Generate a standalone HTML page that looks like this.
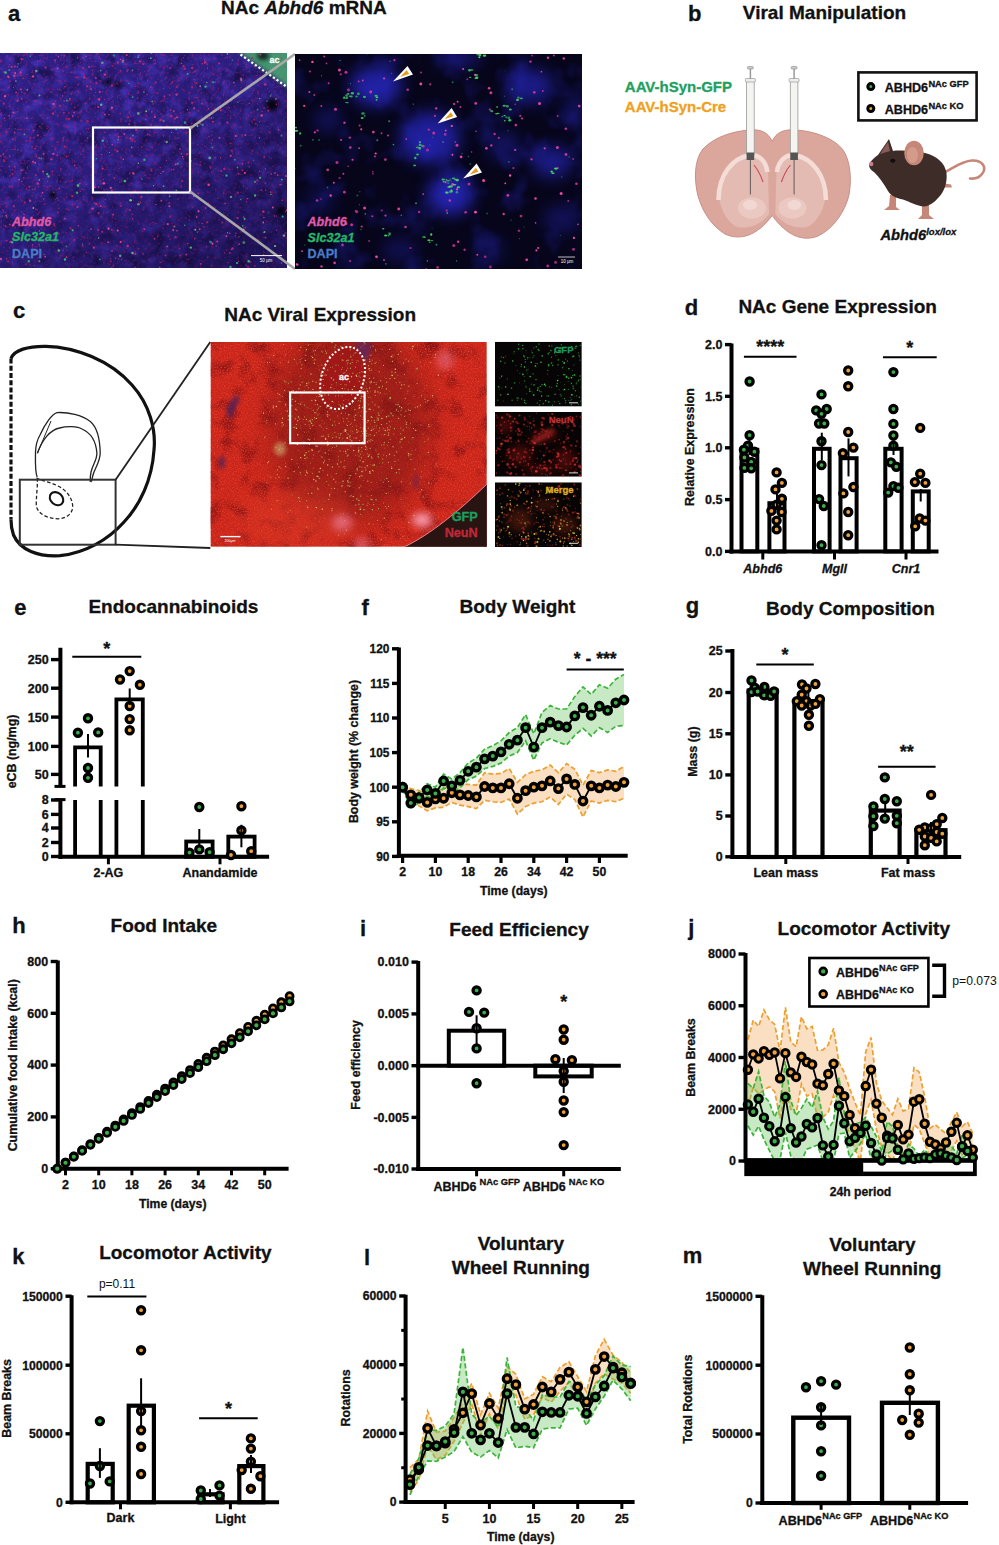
<!DOCTYPE html><html><head><meta charset="utf-8"><style>html,body{margin:0;padding:0;background:#fff;width:999px;height:1545px;overflow:hidden}svg{display:block}</style></head><body>
<svg width="999" height="1545" viewBox="0 0 999 1545" font-family="Liberation Sans, sans-serif">
<rect width="999" height="1545" fill="#fff"/>
<defs>
<filter id="tA1" x="0" y="53" width="287" height="215" filterUnits="userSpaceOnUse" color-interpolation-filters="sRGB"><feTurbulence type="fractalNoise" baseFrequency="0.06" numOctaves="3" seed="4"/><feColorMatrix type="matrix" values="0 0 0 0 0.08  0 0 0 0 0.05  0 0 0 0 0.25  2.0 0 0 0 -0.95"/></filter>
<filter id="tA2" x="0" y="53" width="287" height="215" filterUnits="userSpaceOnUse" color-interpolation-filters="sRGB"><feTurbulence type="fractalNoise" baseFrequency="0.09" numOctaves="3" seed="12"/><feColorMatrix type="matrix" values="0 0 0 0 0.3  0 0 0 0 0.22  0 0 0 0 0.8  2.0 0 0 0 -0.9"/></filter>
<filter id="tA3" x="0" y="53" width="287" height="215" filterUnits="userSpaceOnUse" color-interpolation-filters="sRGB"><feTurbulence type="fractalNoise" baseFrequency="0.35" numOctaves="2" seed="21"/><feColorMatrix type="matrix" values="0 0 0 0 0.75  0 0 0 0 0.12  0 0 0 0 0.45  3 0 0 0 -1.75"/></filter>
<filter id="tB" x="295" y="54" width="287" height="215" filterUnits="userSpaceOnUse" color-interpolation-filters="sRGB"><feTurbulence type="fractalNoise" baseFrequency="0.03" numOctaves="3" seed="9"/><feColorMatrix type="matrix" values="0 0 0 0 0.12  0 0 0 0 0.12  0 0 0 0 0.58  2.6 0 0 0 -1.3"/></filter>
<filter id="tC1" x="210" y="342" width="277" height="205" filterUnits="userSpaceOnUse" color-interpolation-filters="sRGB"><feTurbulence type="fractalNoise" baseFrequency="0.7" numOctaves="1" seed="7"/><feColorMatrix type="matrix" values="0 0 0 0 0.95  0 0 0 0 0.25  0 0 0 0 0.18  2.4 0 0 0 -1.1"/></filter>
<filter id="tC2" x="210" y="342" width="277" height="205" filterUnits="userSpaceOnUse" color-interpolation-filters="sRGB"><feTurbulence type="fractalNoise" baseFrequency="0.05" numOctaves="3" seed="17"/><feColorMatrix type="matrix" values="0 0 0 0 0.45  0 0 0 0 0.05  0 0 0 0 0.07  2.0 0 0 0 -0.95"/></filter>
<filter id="bl2" x="-100%" y="-100%" width="300%" height="300%" color-interpolation-filters="sRGB"><feGaussianBlur stdDeviation="2"/></filter>
<filter id="bl4" x="-100%" y="-100%" width="300%" height="300%" color-interpolation-filters="sRGB"><feGaussianBlur stdDeviation="4"/></filter>
<filter id="bl8" x="-100%" y="-100%" width="300%" height="300%" color-interpolation-filters="sRGB"><feGaussianBlur stdDeviation="8"/></filter>
<filter id="bl14" x="-100%" y="-100%" width="300%" height="300%" color-interpolation-filters="sRGB"><feGaussianBlur stdDeviation="14"/></filter>
<linearGradient id="gA" x1="0" y1="0" x2="0.7" y2="1"><stop offset="0" stop-color="#100830" stop-opacity="0"/><stop offset="0.45" stop-color="#100830" stop-opacity="0.1"/><stop offset="1" stop-color="#080420" stop-opacity="0.45"/></linearGradient>
<clipPath id="cA"><rect x="0" y="53" width="287" height="215"/></clipPath>
<clipPath id="cB"><rect x="295" y="54" width="287" height="215"/></clipPath>
<clipPath id="cC"><rect x="210.5" y="342" width="276.3" height="204.8"/></clipPath>
</defs>
<text x="8" y="20.5" font-size="22" font-weight="bold" text-anchor="start" fill="#111"  stroke="#111" stroke-width="0.3">a</text>
<text x="221" y="14" font-size="19" font-weight="bold" fill="#111" stroke="#111" stroke-width="0.3">NAc <tspan font-style="italic">Abhd6</tspan> mRNA</text>
<g clip-path="url(#cA)">
<rect x="0" y="53" width="287" height="215" fill="#2e2088"/>
<rect x="0" y="53" width="287" height="215" filter="url(#tA1)"/>
<rect x="0" y="53" width="287" height="215" filter="url(#tA2)"/>
<rect x="0" y="53" width="287" height="215" filter="url(#tA3)"/>
<rect x="0" y="53" width="287" height="215" fill="url(#gA)"/>
<path d="M236 50 L292 50 L292 90 Z" fill="#48aa6c" opacity="0.85" filter="url(#bl2)"/>
<ellipse cx="263" cy="56" rx="6" ry="4" fill="#050510" opacity="0.8" filter="url(#bl2)"/>
<circle cx="108" cy="82" r="3.5" fill="#050510" filter="url(#bl2)"/>
<circle cx="118" cy="85" r="3" fill="#050510" filter="url(#bl2)"/>
<circle cx="272" cy="105" r="6" fill="#050510" filter="url(#bl2)"/>
<circle cx="52.5" cy="195" r="4" fill="#050510" filter="url(#bl2)"/>
<circle cx="281" cy="211" r="5" fill="#050510" filter="url(#bl2)"/>
<circle cx="46" cy="128" r="2" fill="#050510" filter="url(#bl2)"/>
<circle cx="129.8" cy="173.4" r="0.8" fill="#c02050" opacity="0.88"/><circle cx="54.5" cy="225.8" r="0.9" fill="#c02050" opacity="0.86"/><circle cx="27.0" cy="118.2" r="0.9" fill="#e0306a" opacity="0.90"/><circle cx="182.1" cy="181.0" r="1.2" fill="#c02050" opacity="0.79"/><circle cx="176.7" cy="86.9" r="1.1" fill="#e0306a" opacity="0.53"/><circle cx="10.2" cy="242.1" r="1.0" fill="#e0306a" opacity="0.65"/><circle cx="169.6" cy="95.0" r="0.9" fill="#d02868" opacity="0.72"/><circle cx="190.1" cy="151.3" r="0.8" fill="#ff4a90" opacity="0.75"/><circle cx="267.4" cy="70.9" r="0.7" fill="#ff4a90" opacity="0.60"/><circle cx="83.0" cy="68.1" r="0.8" fill="#e0306a" opacity="0.88"/><circle cx="110.9" cy="259.0" r="0.6" fill="#e0306a" opacity="0.92"/><circle cx="15.0" cy="133.7" r="0.8" fill="#c02050" opacity="0.75"/><circle cx="57.0" cy="198.1" r="0.6" fill="#ff4a90" opacity="0.65"/><circle cx="276.7" cy="216.0" r="0.6" fill="#e0306a" opacity="0.82"/><circle cx="3.1" cy="153.0" r="0.6" fill="#c02050" opacity="0.75"/><circle cx="128.4" cy="94.0" r="0.8" fill="#d02868" opacity="0.67"/><circle cx="113.3" cy="265.9" r="0.7" fill="#e0306a" opacity="0.94"/><circle cx="230.6" cy="118.4" r="0.6" fill="#e0306a" opacity="0.68"/><circle cx="245.2" cy="191.0" r="0.5" fill="#e0306a" opacity="0.57"/><circle cx="126.7" cy="55.1" r="1.1" fill="#ff4a90" opacity="0.67"/><circle cx="21.3" cy="97.9" r="0.5" fill="#d02868" opacity="0.67"/><circle cx="178.6" cy="80.4" r="1.1" fill="#c02050" opacity="0.56"/><circle cx="110.8" cy="187.9" r="1.1" fill="#ff4a90" opacity="0.87"/><circle cx="71.6" cy="93.8" r="1.0" fill="#d02868" opacity="0.67"/><circle cx="138.5" cy="69.9" r="0.6" fill="#e0306a" opacity="0.52"/><circle cx="276.3" cy="104.3" r="0.7" fill="#c02050" opacity="0.87"/><circle cx="171.2" cy="116.1" r="1.2" fill="#d02868" opacity="0.94"/><circle cx="36.3" cy="156.0" r="0.7" fill="#e0306a" opacity="0.91"/><circle cx="58.5" cy="56.6" r="0.8" fill="#ff4a90" opacity="0.61"/><circle cx="13.4" cy="113.6" r="0.6" fill="#d02868" opacity="0.56"/><circle cx="129.2" cy="124.2" r="0.9" fill="#d02868" opacity="0.92"/><circle cx="136.3" cy="129.9" r="1.2" fill="#ff4a90" opacity="0.51"/><circle cx="182.6" cy="156.7" r="0.7" fill="#ff4a90" opacity="0.95"/><circle cx="21.6" cy="170.4" r="1.1" fill="#e0306a" opacity="0.83"/><circle cx="202.0" cy="223.6" r="0.7" fill="#ff4a90" opacity="0.81"/><circle cx="258.5" cy="240.3" r="1.2" fill="#c02050" opacity="0.51"/><circle cx="143.5" cy="56.1" r="0.8" fill="#c02050" opacity="0.51"/><circle cx="20.7" cy="72.5" r="1.2" fill="#e0306a" opacity="0.90"/><circle cx="209.0" cy="136.5" r="0.8" fill="#c02050" opacity="0.88"/><circle cx="24.0" cy="214.3" r="0.7" fill="#e0306a" opacity="0.54"/><circle cx="6.4" cy="258.8" r="0.8" fill="#e0306a" opacity="0.78"/><circle cx="264.2" cy="108.0" r="0.8" fill="#e0306a" opacity="0.56"/><circle cx="175.6" cy="164.5" r="1.0" fill="#ff4a90" opacity="0.70"/><circle cx="255.9" cy="123.3" r="0.6" fill="#ff4a90" opacity="0.69"/><circle cx="231.3" cy="249.6" r="0.8" fill="#d02868" opacity="0.76"/><circle cx="90.8" cy="82.3" r="0.7" fill="#c02050" opacity="0.90"/><circle cx="11.6" cy="66.8" r="1.1" fill="#ff4a90" opacity="0.55"/><circle cx="135.3" cy="252.0" r="0.8" fill="#c02050" opacity="0.73"/><circle cx="192.9" cy="207.0" r="0.7" fill="#c02050" opacity="0.87"/><circle cx="79.8" cy="183.6" r="0.9" fill="#ff4a90" opacity="0.64"/><circle cx="227.2" cy="57.1" r="0.8" fill="#d02868" opacity="0.59"/><circle cx="220.8" cy="110.3" r="1.1" fill="#d02868" opacity="0.94"/><circle cx="33.1" cy="76.4" r="1.2" fill="#ff4a90" opacity="0.81"/><circle cx="57.2" cy="155.2" r="1.0" fill="#d02868" opacity="0.84"/><circle cx="153.5" cy="60.8" r="0.7" fill="#d02868" opacity="0.66"/><circle cx="200.1" cy="164.9" r="0.8" fill="#d02868" opacity="0.86"/><circle cx="260.1" cy="71.8" r="0.6" fill="#c02050" opacity="0.70"/><circle cx="179.5" cy="248.6" r="0.9" fill="#c02050" opacity="0.79"/><circle cx="144.3" cy="229.2" r="0.8" fill="#ff4a90" opacity="0.79"/><circle cx="58.8" cy="208.2" r="0.6" fill="#e0306a" opacity="0.90"/><circle cx="281.4" cy="263.1" r="0.7" fill="#ff4a90" opacity="0.82"/><circle cx="4.5" cy="161.5" r="0.8" fill="#e0306a" opacity="0.75"/><circle cx="220.5" cy="157.8" r="0.7" fill="#e0306a" opacity="0.89"/><circle cx="123.1" cy="60.5" r="1.0" fill="#ff4a90" opacity="0.91"/><circle cx="135.1" cy="268.0" r="1.2" fill="#c02050" opacity="0.72"/><circle cx="272.4" cy="71.5" r="0.8" fill="#d02868" opacity="0.75"/><circle cx="238.5" cy="173.7" r="0.9" fill="#d02868" opacity="0.88"/><circle cx="160.7" cy="120.0" r="1.2" fill="#c02050" opacity="0.89"/><circle cx="174.9" cy="118.5" r="1.2" fill="#d02868" opacity="0.74"/><circle cx="164.4" cy="96.2" r="0.9" fill="#e0306a" opacity="0.77"/><circle cx="8.0" cy="261.4" r="0.9" fill="#c02050" opacity="0.95"/><circle cx="35.0" cy="73.0" r="0.5" fill="#d02868" opacity="0.74"/><circle cx="118.8" cy="258.7" r="0.7" fill="#c02050" opacity="0.71"/><circle cx="36.4" cy="146.2" r="0.9" fill="#c02050" opacity="0.55"/><circle cx="120.4" cy="59.3" r="0.6" fill="#ff4a90" opacity="0.85"/><circle cx="6.5" cy="94.7" r="0.5" fill="#d02868" opacity="0.63"/><circle cx="207.7" cy="105.6" r="0.6" fill="#c02050" opacity="0.83"/><circle cx="35.2" cy="162.8" r="1.0" fill="#ff4a90" opacity="0.82"/><circle cx="252.2" cy="58.0" r="1.1" fill="#c02050" opacity="0.78"/><circle cx="154.5" cy="238.7" r="0.9" fill="#d02868" opacity="0.88"/><circle cx="175.6" cy="237.2" r="1.1" fill="#d02868" opacity="0.78"/><circle cx="99.8" cy="91.9" r="1.1" fill="#ff4a90" opacity="0.59"/><circle cx="223.4" cy="94.8" r="0.6" fill="#e0306a" opacity="0.61"/><circle cx="208.5" cy="108.8" r="0.8" fill="#e0306a" opacity="0.92"/><circle cx="155.9" cy="204.5" r="0.8" fill="#d02868" opacity="0.81"/><circle cx="5.1" cy="96.2" r="1.1" fill="#ff4a90" opacity="0.94"/><circle cx="33.1" cy="161.7" r="0.9" fill="#ff4a90" opacity="0.81"/><circle cx="54.2" cy="68.2" r="0.5" fill="#e0306a" opacity="0.84"/><circle cx="176.0" cy="247.6" r="0.6" fill="#c02050" opacity="0.58"/><circle cx="58.5" cy="233.6" r="1.1" fill="#ff4a90" opacity="0.54"/><circle cx="17.8" cy="257.6" r="0.6" fill="#c02050" opacity="0.54"/><circle cx="112.2" cy="144.7" r="0.8" fill="#ff4a90" opacity="0.77"/><circle cx="3.8" cy="203.7" r="0.6" fill="#d02868" opacity="0.70"/><circle cx="212.2" cy="140.1" r="0.9" fill="#d02868" opacity="0.54"/><circle cx="227.4" cy="122.6" r="1.1" fill="#e0306a" opacity="0.82"/><circle cx="247.0" cy="188.3" r="0.9" fill="#c02050" opacity="0.59"/><circle cx="167.8" cy="126.3" r="0.7" fill="#ff4a90" opacity="0.55"/><circle cx="213.2" cy="87.4" r="0.6" fill="#c02050" opacity="0.65"/><circle cx="154.7" cy="132.5" r="1.0" fill="#c02050" opacity="0.68"/><circle cx="207.4" cy="68.2" r="0.7" fill="#ff4a90" opacity="0.55"/><circle cx="254.9" cy="266.0" r="0.7" fill="#e0306a" opacity="0.93"/><circle cx="191.2" cy="125.6" r="0.9" fill="#c02050" opacity="0.74"/><circle cx="111.8" cy="268.0" r="1.0" fill="#d02868" opacity="0.84"/><circle cx="281.3" cy="57.9" r="1.0" fill="#e0306a" opacity="0.62"/><circle cx="115.2" cy="63.8" r="1.0" fill="#d02868" opacity="0.50"/><circle cx="74.2" cy="112.3" r="0.9" fill="#ff4a90" opacity="0.73"/><circle cx="277.6" cy="175.1" r="0.9" fill="#e0306a" opacity="0.86"/><circle cx="21.9" cy="181.5" r="0.8" fill="#e0306a" opacity="0.92"/><circle cx="110.8" cy="261.6" r="0.9" fill="#c02050" opacity="0.77"/><circle cx="123.3" cy="159.3" r="0.9" fill="#ff4a90" opacity="0.77"/><circle cx="104.9" cy="114.4" r="0.9" fill="#ff4a90" opacity="0.63"/><circle cx="205.7" cy="116.6" r="1.0" fill="#e0306a" opacity="0.76"/><circle cx="181.7" cy="140.9" r="0.5" fill="#c02050" opacity="0.64"/><circle cx="114.2" cy="178.1" r="0.6" fill="#ff4a90" opacity="0.91"/><circle cx="123.3" cy="155.7" r="0.5" fill="#d02868" opacity="0.54"/><circle cx="232.5" cy="248.5" r="1.2" fill="#d02868" opacity="0.87"/><circle cx="173.2" cy="77.7" r="0.8" fill="#c02050" opacity="0.59"/><circle cx="14.9" cy="166.5" r="0.8" fill="#e0306a" opacity="0.56"/><circle cx="119.7" cy="182.2" r="0.8" fill="#c02050" opacity="0.83"/><circle cx="233.9" cy="82.4" r="1.0" fill="#ff4a90" opacity="0.61"/><circle cx="32.7" cy="244.9" r="0.7" fill="#ff4a90" opacity="0.77"/><circle cx="208.1" cy="203.3" r="0.9" fill="#d02868" opacity="0.84"/><circle cx="54.5" cy="106.5" r="1.1" fill="#d02868" opacity="0.52"/><circle cx="17.4" cy="111.3" r="0.5" fill="#c02050" opacity="0.52"/><circle cx="63.9" cy="112.8" r="1.1" fill="#e0306a" opacity="0.57"/><circle cx="67.4" cy="264.0" r="0.8" fill="#c02050" opacity="0.59"/><circle cx="98.6" cy="213.1" r="1.1" fill="#e0306a" opacity="0.70"/><circle cx="235.9" cy="233.2" r="0.8" fill="#d02868" opacity="0.84"/><circle cx="112.0" cy="85.4" r="1.0" fill="#d02868" opacity="0.95"/><circle cx="93.4" cy="171.0" r="0.8" fill="#d02868" opacity="0.67"/><circle cx="27.8" cy="241.2" r="0.9" fill="#e0306a" opacity="0.69"/><circle cx="163.0" cy="228.3" r="0.7" fill="#c02050" opacity="0.85"/><circle cx="21.8" cy="98.9" r="1.0" fill="#e0306a" opacity="0.72"/><circle cx="219.3" cy="123.5" r="0.7" fill="#d02868" opacity="0.80"/><circle cx="93.9" cy="247.8" r="1.0" fill="#ff4a90" opacity="0.76"/><circle cx="263.6" cy="255.1" r="0.8" fill="#ff4a90" opacity="0.86"/><circle cx="87.5" cy="121.3" r="1.2" fill="#c02050" opacity="0.83"/><circle cx="148.1" cy="71.1" r="0.5" fill="#ff4a90" opacity="0.80"/><circle cx="167.8" cy="224.2" r="1.1" fill="#ff4a90" opacity="0.74"/><circle cx="240.0" cy="174.0" r="0.6" fill="#d02868" opacity="0.70"/><circle cx="245.3" cy="227.5" r="0.9" fill="#d02868" opacity="0.74"/><circle cx="162.9" cy="260.8" r="0.5" fill="#c02050" opacity="0.75"/><circle cx="226.2" cy="71.1" r="0.7" fill="#e0306a" opacity="0.55"/><circle cx="90.1" cy="58.6" r="0.6" fill="#d02868" opacity="0.87"/><circle cx="121.1" cy="206.1" r="1.0" fill="#c02050" opacity="0.73"/><circle cx="219.5" cy="137.8" r="1.1" fill="#ff4a90" opacity="0.65"/><circle cx="39.2" cy="157.9" r="1.0" fill="#e0306a" opacity="0.91"/><circle cx="117.8" cy="230.6" r="1.1" fill="#ff4a90" opacity="0.86"/><circle cx="239.3" cy="244.1" r="0.9" fill="#e0306a" opacity="0.82"/><circle cx="230.2" cy="143.6" r="1.1" fill="#c02050" opacity="0.61"/><circle cx="46.6" cy="189.6" r="0.7" fill="#d02868" opacity="0.68"/><circle cx="151.8" cy="111.9" r="0.8" fill="#e0306a" opacity="0.83"/><circle cx="87.1" cy="86.4" r="1.1" fill="#d02868" opacity="0.84"/><circle cx="4.9" cy="156.4" r="0.7" fill="#e0306a" opacity="0.59"/><circle cx="103.1" cy="179.5" r="0.9" fill="#c02050" opacity="0.60"/><circle cx="53.1" cy="113.4" r="1.1" fill="#d02868" opacity="0.92"/><circle cx="179.9" cy="255.5" r="1.1" fill="#c02050" opacity="0.72"/><circle cx="115.6" cy="258.5" r="0.8" fill="#e0306a" opacity="0.60"/><circle cx="14.3" cy="256.7" r="1.2" fill="#c02050" opacity="0.86"/><circle cx="222.2" cy="222.4" r="1.0" fill="#e0306a" opacity="0.61"/><circle cx="3.1" cy="154.6" r="0.8" fill="#ff4a90" opacity="0.61"/><circle cx="121.0" cy="241.1" r="0.6" fill="#c02050" opacity="0.64"/><circle cx="74.5" cy="239.9" r="0.9" fill="#d02868" opacity="0.95"/><circle cx="76.5" cy="167.9" r="0.9" fill="#d02868" opacity="0.58"/><circle cx="58.6" cy="250.0" r="1.1" fill="#d02868" opacity="0.54"/><circle cx="77.5" cy="207.1" r="1.1" fill="#e0306a" opacity="0.81"/><circle cx="23.8" cy="213.9" r="0.5" fill="#ff4a90" opacity="0.58"/><circle cx="55.4" cy="199.7" r="0.6" fill="#c02050" opacity="0.74"/><circle cx="150.9" cy="86.9" r="0.7" fill="#ff4a90" opacity="0.68"/><circle cx="159.7" cy="267.4" r="0.8" fill="#e0306a" opacity="0.81"/><circle cx="30.4" cy="137.8" r="1.0" fill="#c02050" opacity="0.85"/><circle cx="35.0" cy="148.7" r="1.0" fill="#c02050" opacity="0.71"/><circle cx="84.2" cy="77.4" r="1.1" fill="#e0306a" opacity="0.88"/><circle cx="206.4" cy="246.8" r="0.7" fill="#d02868" opacity="0.67"/><circle cx="154.9" cy="117.1" r="1.0" fill="#ff4a90" opacity="0.75"/><circle cx="24.9" cy="93.6" r="1.0" fill="#c02050" opacity="0.65"/><circle cx="271.2" cy="174.0" r="0.8" fill="#ff4a90" opacity="0.67"/><circle cx="29.2" cy="186.7" r="1.0" fill="#d02868" opacity="0.82"/><circle cx="51.6" cy="139.5" r="0.9" fill="#c02050" opacity="0.54"/><circle cx="65.0" cy="86.8" r="0.8" fill="#e0306a" opacity="0.85"/><circle cx="98.1" cy="230.0" r="1.0" fill="#d02868" opacity="0.85"/><circle cx="235.7" cy="136.0" r="1.1" fill="#ff4a90" opacity="0.78"/><circle cx="208.6" cy="184.8" r="1.2" fill="#ff4a90" opacity="0.86"/><circle cx="189.5" cy="183.8" r="0.7" fill="#e0306a" opacity="0.58"/><circle cx="88.0" cy="147.9" r="0.6" fill="#c02050" opacity="0.65"/><circle cx="84.2" cy="75.1" r="0.7" fill="#d02868" opacity="0.74"/><circle cx="85.7" cy="103.3" r="0.9" fill="#d02868" opacity="0.59"/><circle cx="267.9" cy="267.6" r="0.9" fill="#d02868" opacity="0.51"/><circle cx="189.3" cy="220.0" r="0.7" fill="#d02868" opacity="0.76"/><circle cx="200.1" cy="123.8" r="0.7" fill="#ff4a90" opacity="0.90"/><circle cx="129.8" cy="209.9" r="1.1" fill="#d02868" opacity="0.74"/><circle cx="160.9" cy="173.5" r="0.6" fill="#ff4a90" opacity="0.84"/><circle cx="257.4" cy="125.0" r="0.6" fill="#d02868" opacity="0.87"/><circle cx="82.8" cy="245.9" r="1.0" fill="#d02868" opacity="0.66"/><circle cx="47.6" cy="181.5" r="0.8" fill="#e0306a" opacity="0.68"/><circle cx="224.6" cy="252.9" r="0.7" fill="#d02868" opacity="0.80"/><circle cx="211.7" cy="135.1" r="0.6" fill="#e0306a" opacity="0.69"/><circle cx="9.5" cy="166.5" r="0.9" fill="#e0306a" opacity="0.58"/><circle cx="149.2" cy="109.7" r="0.5" fill="#ff4a90" opacity="0.85"/><circle cx="207.1" cy="222.3" r="1.2" fill="#c02050" opacity="0.77"/><circle cx="134.9" cy="141.5" r="1.0" fill="#c02050" opacity="0.72"/><circle cx="285.5" cy="233.2" r="1.1" fill="#c02050" opacity="0.55"/><circle cx="32.9" cy="254.9" r="0.9" fill="#ff4a90" opacity="0.69"/><circle cx="259.5" cy="121.9" r="0.7" fill="#e0306a" opacity="0.78"/><circle cx="124.3" cy="133.9" r="1.0" fill="#ff4a90" opacity="0.64"/><circle cx="170.3" cy="68.0" r="1.1" fill="#e0306a" opacity="0.61"/><circle cx="250.6" cy="262.1" r="1.0" fill="#c02050" opacity="0.74"/><circle cx="68.6" cy="118.9" r="1.2" fill="#c02050" opacity="0.90"/><circle cx="286.8" cy="210.1" r="1.1" fill="#ff4a90" opacity="0.69"/><circle cx="231.1" cy="100.7" r="0.9" fill="#c02050" opacity="0.91"/><circle cx="28.3" cy="223.4" r="1.1" fill="#e0306a" opacity="0.76"/><circle cx="130.1" cy="116.7" r="0.5" fill="#ff4a90" opacity="0.58"/><circle cx="126.5" cy="149.8" r="0.6" fill="#c02050" opacity="0.81"/><circle cx="66.2" cy="118.8" r="1.1" fill="#c02050" opacity="0.64"/><circle cx="143.0" cy="253.8" r="1.1" fill="#c02050" opacity="0.59"/><circle cx="246.5" cy="201.9" r="0.6" fill="#e0306a" opacity="0.88"/><circle cx="101.6" cy="154.6" r="0.9" fill="#d02868" opacity="0.81"/><circle cx="160.7" cy="167.6" r="0.6" fill="#d02868" opacity="0.90"/><circle cx="14.4" cy="75.8" r="1.2" fill="#ff4a90" opacity="0.62"/><circle cx="120.6" cy="242.0" r="1.0" fill="#ff4a90" opacity="0.92"/><circle cx="127.8" cy="70.0" r="1.1" fill="#d02868" opacity="0.55"/><circle cx="198.4" cy="110.8" r="0.9" fill="#d02868" opacity="0.63"/><circle cx="78.4" cy="225.8" r="0.9" fill="#e0306a" opacity="0.60"/><circle cx="86.4" cy="252.3" r="0.7" fill="#d02868" opacity="0.79"/><circle cx="25.8" cy="264.4" r="1.1" fill="#c02050" opacity="0.53"/><circle cx="260.4" cy="54.5" r="0.9" fill="#ff4a90" opacity="0.69"/><circle cx="163.2" cy="88.4" r="0.7" fill="#d02868" opacity="0.63"/><circle cx="157.3" cy="93.1" r="1.2" fill="#d02868" opacity="0.52"/><circle cx="132.5" cy="214.4" r="0.5" fill="#c02050" opacity="0.90"/><circle cx="17.3" cy="66.8" r="0.7" fill="#ff4a90" opacity="0.72"/><circle cx="9.2" cy="115.7" r="0.9" fill="#d02868" opacity="0.85"/><circle cx="32.2" cy="146.6" r="0.9" fill="#c02050" opacity="0.62"/><circle cx="205.5" cy="208.1" r="0.8" fill="#ff4a90" opacity="0.60"/><circle cx="166.5" cy="160.3" r="0.6" fill="#e0306a" opacity="0.94"/><circle cx="15.1" cy="149.4" r="0.7" fill="#d02868" opacity="0.77"/><circle cx="174.7" cy="226.3" r="1.0" fill="#c02050" opacity="0.89"/><circle cx="8.9" cy="77.6" r="0.9" fill="#d02868" opacity="0.74"/><circle cx="227.2" cy="104.2" r="0.5" fill="#d02868" opacity="0.69"/><circle cx="199.7" cy="229.2" r="1.0" fill="#ff4a90" opacity="0.72"/><circle cx="186.6" cy="162.8" r="0.7" fill="#c02050" opacity="0.57"/><circle cx="198.2" cy="231.6" r="0.5" fill="#c02050" opacity="0.68"/><circle cx="104.6" cy="99.5" r="0.6" fill="#e0306a" opacity="0.84"/><circle cx="172.4" cy="81.9" r="0.9" fill="#c02050" opacity="0.94"/><circle cx="1.0" cy="141.1" r="0.6" fill="#d02868" opacity="0.75"/><circle cx="135.4" cy="254.1" r="1.0" fill="#e0306a" opacity="0.82"/><circle cx="280.1" cy="184.7" r="0.7" fill="#ff4a90" opacity="0.75"/><circle cx="69.4" cy="152.2" r="0.8" fill="#d02868" opacity="0.65"/><circle cx="281.6" cy="184.3" r="0.6" fill="#e0306a" opacity="0.76"/><circle cx="285.5" cy="211.5" r="0.8" fill="#d02868" opacity="0.68"/><circle cx="242.0" cy="134.9" r="0.7" fill="#e0306a" opacity="0.66"/><circle cx="52.7" cy="171.2" r="0.8" fill="#d02868" opacity="0.68"/><circle cx="170.4" cy="216.3" r="0.8" fill="#c02050" opacity="0.95"/><circle cx="194.9" cy="238.5" r="0.9" fill="#d02868" opacity="0.69"/><circle cx="13.5" cy="112.4" r="0.9" fill="#ff4a90" opacity="0.73"/><circle cx="212.8" cy="163.1" r="0.7" fill="#d02868" opacity="0.66"/><circle cx="44.1" cy="254.4" r="0.6" fill="#ff4a90" opacity="0.61"/><circle cx="240.9" cy="78.6" r="1.1" fill="#ff4a90" opacity="0.70"/><circle cx="245.3" cy="135.0" r="1.0" fill="#ff4a90" opacity="0.73"/><circle cx="15.8" cy="137.7" r="0.8" fill="#d02868" opacity="0.58"/><circle cx="147.5" cy="80.4" r="0.7" fill="#d02868" opacity="0.69"/><circle cx="156.1" cy="82.2" r="0.7" fill="#ff4a90" opacity="0.70"/><circle cx="108.2" cy="242.2" r="0.9" fill="#ff4a90" opacity="0.70"/><circle cx="39.2" cy="164.1" r="0.7" fill="#ff4a90" opacity="0.63"/><circle cx="99.0" cy="99.4" r="1.1" fill="#e0306a" opacity="0.84"/><circle cx="138.6" cy="55.4" r="1.0" fill="#ff4a90" opacity="0.53"/><circle cx="244.8" cy="173.0" r="1.0" fill="#ff4a90" opacity="0.93"/><circle cx="249.2" cy="103.4" r="0.6" fill="#ff4a90" opacity="0.69"/><circle cx="112.6" cy="65.9" r="1.2" fill="#c02050" opacity="0.63"/><circle cx="201.9" cy="100.6" r="0.6" fill="#c02050" opacity="0.85"/><circle cx="100.7" cy="206.1" r="1.0" fill="#e0306a" opacity="0.91"/><circle cx="230.8" cy="155.8" r="1.0" fill="#ff4a90" opacity="0.75"/><circle cx="201.0" cy="58.0" r="0.6" fill="#c02050" opacity="0.91"/><circle cx="261.9" cy="111.5" r="0.8" fill="#c02050" opacity="0.76"/><circle cx="134.6" cy="123.0" r="0.6" fill="#ff4a90" opacity="0.52"/><circle cx="92.9" cy="133.3" r="0.7" fill="#ff4a90" opacity="0.80"/><circle cx="53.4" cy="153.9" r="1.2" fill="#ff4a90" opacity="0.66"/><circle cx="165.4" cy="255.6" r="0.9" fill="#e0306a" opacity="0.78"/><circle cx="117.9" cy="142.3" r="0.5" fill="#ff4a90" opacity="0.71"/><circle cx="129.0" cy="260.8" r="0.5" fill="#c02050" opacity="0.56"/><circle cx="145.5" cy="119.4" r="0.8" fill="#ff4a90" opacity="0.51"/><circle cx="173.8" cy="111.0" r="1.0" fill="#ff4a90" opacity="0.61"/><circle cx="0.3" cy="169.9" r="0.5" fill="#c02050" opacity="0.75"/><circle cx="243.7" cy="217.5" r="0.9" fill="#e0306a" opacity="0.75"/><circle cx="238.5" cy="261.3" r="0.7" fill="#ff4a90" opacity="0.55"/><circle cx="5.6" cy="226.2" r="1.0" fill="#d02868" opacity="0.81"/><circle cx="276.6" cy="230.2" r="0.7" fill="#d02868" opacity="0.81"/><circle cx="231.0" cy="116.1" r="0.7" fill="#c02050" opacity="0.84"/><circle cx="153.3" cy="104.0" r="0.8" fill="#d02868" opacity="0.82"/><circle cx="263.3" cy="211.6" r="1.2" fill="#e0306a" opacity="0.87"/><circle cx="254.2" cy="119.7" r="0.9" fill="#c02050" opacity="0.81"/><circle cx="11.6" cy="186.6" r="1.1" fill="#c02050" opacity="0.52"/><circle cx="72.9" cy="162.1" r="0.7" fill="#c02050" opacity="0.79"/><circle cx="105.5" cy="199.8" r="0.7" fill="#d02868" opacity="0.84"/><circle cx="241.9" cy="231.1" r="0.9" fill="#c02050" opacity="0.56"/><circle cx="212.5" cy="110.8" r="0.6" fill="#d02868" opacity="0.67"/><circle cx="192.1" cy="102.7" r="1.2" fill="#d02868" opacity="0.71"/><circle cx="199.1" cy="223.0" r="0.7" fill="#d02868" opacity="0.62"/><circle cx="72.3" cy="196.1" r="1.2" fill="#c02050" opacity="0.94"/><circle cx="14.0" cy="206.4" r="1.1" fill="#e0306a" opacity="0.59"/><circle cx="102.3" cy="168.8" r="0.8" fill="#e0306a" opacity="0.91"/><circle cx="239.0" cy="236.9" r="0.8" fill="#d02868" opacity="0.64"/><circle cx="229.7" cy="233.3" r="0.7" fill="#ff4a90" opacity="0.82"/><circle cx="117.1" cy="83.5" r="1.0" fill="#c02050" opacity="0.60"/><circle cx="81.1" cy="239.3" r="0.6" fill="#c02050" opacity="0.55"/><circle cx="267.9" cy="107.0" r="0.8" fill="#c02050" opacity="0.57"/><circle cx="253.8" cy="111.1" r="0.7" fill="#d02868" opacity="0.68"/><circle cx="92.5" cy="70.4" r="0.8" fill="#d02868" opacity="0.62"/><circle cx="14.7" cy="66.8" r="1.0" fill="#ff4a90" opacity="0.50"/><circle cx="96.5" cy="83.0" r="1.2" fill="#d02868" opacity="0.68"/><circle cx="9.2" cy="128.6" r="0.9" fill="#c02050" opacity="0.60"/><circle cx="177.0" cy="230.8" r="0.7" fill="#ff4a90" opacity="0.92"/><circle cx="248.1" cy="266.8" r="0.9" fill="#c02050" opacity="0.92"/><circle cx="13.5" cy="237.3" r="0.9" fill="#d02868" opacity="0.80"/><circle cx="77.8" cy="58.2" r="0.5" fill="#ff4a90" opacity="0.71"/><circle cx="254.4" cy="66.7" r="0.5" fill="#ff4a90" opacity="0.74"/><circle cx="232.5" cy="223.3" r="0.8" fill="#c02050" opacity="0.86"/><circle cx="237.5" cy="218.1" r="1.2" fill="#e0306a" opacity="0.72"/><circle cx="241.1" cy="140.8" r="0.5" fill="#e0306a" opacity="0.56"/><circle cx="92.9" cy="208.7" r="1.1" fill="#ff4a90" opacity="0.66"/><circle cx="183.1" cy="129.1" r="0.5" fill="#ff4a90" opacity="0.79"/><circle cx="170.5" cy="109.9" r="1.0" fill="#d02868" opacity="0.60"/><circle cx="213.3" cy="170.4" r="0.6" fill="#d02868" opacity="0.55"/><circle cx="41.0" cy="128.3" r="0.5" fill="#c02050" opacity="0.68"/><circle cx="15.0" cy="73.4" r="0.5" fill="#d02868" opacity="0.58"/><circle cx="19.1" cy="179.7" r="0.8" fill="#ff4a90" opacity="0.93"/><circle cx="63.0" cy="140.8" r="1.1" fill="#d02868" opacity="0.53"/><circle cx="112.0" cy="251.0" r="1.0" fill="#d02868" opacity="0.74"/><circle cx="2.9" cy="210.0" r="1.1" fill="#c02050" opacity="0.52"/><circle cx="176.9" cy="127.1" r="1.1" fill="#c02050" opacity="0.78"/><circle cx="144.9" cy="175.1" r="0.6" fill="#e0306a" opacity="0.83"/><circle cx="213.6" cy="146.8" r="0.8" fill="#c02050" opacity="0.67"/><circle cx="66.0" cy="182.1" r="0.9" fill="#e0306a" opacity="0.51"/><circle cx="180.0" cy="149.1" r="0.9" fill="#e0306a" opacity="0.92"/><circle cx="43.6" cy="153.8" r="1.0" fill="#ff4a90" opacity="0.64"/><circle cx="211.4" cy="265.7" r="0.5" fill="#c02050" opacity="0.94"/><circle cx="216.1" cy="245.9" r="0.7" fill="#e0306a" opacity="0.88"/><circle cx="186.3" cy="254.6" r="1.1" fill="#e0306a" opacity="0.73"/><circle cx="285.2" cy="66.9" r="1.0" fill="#e0306a" opacity="0.61"/><circle cx="231.7" cy="150.6" r="1.1" fill="#e0306a" opacity="0.59"/><circle cx="80.3" cy="191.4" r="0.6" fill="#e0306a" opacity="0.70"/><circle cx="217.3" cy="241.5" r="1.1" fill="#e0306a" opacity="0.88"/><circle cx="221.2" cy="171.1" r="1.1" fill="#e0306a" opacity="0.57"/><circle cx="105.0" cy="74.6" r="1.2" fill="#e0306a" opacity="0.93"/><circle cx="63.0" cy="115.0" r="0.6" fill="#c02050" opacity="0.67"/><circle cx="243.7" cy="185.7" r="0.6" fill="#c02050" opacity="0.94"/><circle cx="59.3" cy="188.3" r="0.9" fill="#d02868" opacity="0.95"/><circle cx="108.5" cy="228.6" r="1.1" fill="#ff4a90" opacity="0.93"/><circle cx="188.9" cy="97.8" r="0.6" fill="#d02868" opacity="0.56"/><circle cx="199.1" cy="153.3" r="0.7" fill="#d02868" opacity="0.62"/><circle cx="98.7" cy="186.9" r="0.6" fill="#ff4a90" opacity="0.95"/><circle cx="198.5" cy="211.3" r="1.1" fill="#ff4a90" opacity="0.85"/><circle cx="57.5" cy="68.4" r="0.8" fill="#ff4a90" opacity="0.87"/><circle cx="117.4" cy="151.2" r="1.2" fill="#e0306a" opacity="0.66"/><circle cx="201.9" cy="103.5" r="0.7" fill="#e0306a" opacity="0.89"/><circle cx="82.2" cy="236.7" r="0.7" fill="#c02050" opacity="0.71"/><circle cx="57.0" cy="142.0" r="0.8" fill="#d02868" opacity="0.53"/><circle cx="120.3" cy="113.5" r="1.0" fill="#c02050" opacity="0.62"/><circle cx="189.9" cy="55.7" r="0.5" fill="#d02868" opacity="0.67"/><circle cx="170.3" cy="239.2" r="0.8" fill="#c02050" opacity="0.65"/><circle cx="235.5" cy="235.8" r="0.9" fill="#e0306a" opacity="0.54"/><circle cx="257.3" cy="72.0" r="0.5" fill="#ff4a90" opacity="0.51"/><circle cx="169.4" cy="202.9" r="1.0" fill="#e0306a" opacity="0.57"/><circle cx="20.8" cy="89.6" r="0.8" fill="#ff4a90" opacity="0.79"/><circle cx="17.5" cy="100.8" r="1.2" fill="#e0306a" opacity="0.68"/><circle cx="237.8" cy="192.7" r="1.2" fill="#e0306a" opacity="0.53"/><circle cx="132.7" cy="139.3" r="0.9" fill="#d02868" opacity="0.76"/><circle cx="142.7" cy="231.5" r="0.6" fill="#c02050" opacity="0.86"/><circle cx="1.0" cy="259.0" r="1.0" fill="#ff4a90" opacity="0.94"/><circle cx="136.0" cy="243.1" r="0.8" fill="#c02050" opacity="0.51"/><circle cx="246.7" cy="256.1" r="0.6" fill="#e0306a" opacity="0.69"/><circle cx="161.0" cy="262.5" r="0.7" fill="#e0306a" opacity="0.73"/><circle cx="35.8" cy="175.1" r="1.0" fill="#d02868" opacity="0.73"/><circle cx="88.5" cy="128.8" r="0.7" fill="#d02868" opacity="0.69"/><circle cx="15.6" cy="99.8" r="0.6" fill="#c02050" opacity="0.55"/><circle cx="39.5" cy="246.2" r="0.6" fill="#d02868" opacity="0.75"/><circle cx="49.8" cy="185.9" r="0.8" fill="#e0306a" opacity="0.50"/><circle cx="44.1" cy="229.0" r="0.6" fill="#c02050" opacity="0.74"/><circle cx="8.2" cy="76.7" r="1.1" fill="#ff4a90" opacity="0.74"/><circle cx="218.8" cy="219.8" r="0.8" fill="#c02050" opacity="0.54"/><circle cx="74.9" cy="77.0" r="0.7" fill="#c02050" opacity="0.72"/><circle cx="187.7" cy="243.6" r="0.9" fill="#d02868" opacity="0.73"/><circle cx="259.4" cy="137.8" r="0.7" fill="#ff4a90" opacity="0.77"/><circle cx="63.2" cy="71.2" r="0.8" fill="#c02050" opacity="0.79"/><circle cx="95.8" cy="78.1" r="1.1" fill="#ff4a90" opacity="0.53"/><circle cx="151.5" cy="170.7" r="1.1" fill="#c02050" opacity="0.80"/><circle cx="204.7" cy="60.0" r="0.8" fill="#ff4a90" opacity="0.60"/><circle cx="215.1" cy="157.8" r="0.8" fill="#e0306a" opacity="0.77"/><circle cx="30.1" cy="200.8" r="1.2" fill="#ff4a90" opacity="0.66"/><circle cx="171.6" cy="132.3" r="0.6" fill="#ff4a90" opacity="0.84"/><circle cx="16.1" cy="92.5" r="0.9" fill="#e0306a" opacity="0.84"/><circle cx="15.2" cy="73.0" r="0.9" fill="#ff4a90" opacity="0.86"/><circle cx="270.8" cy="192.2" r="0.8" fill="#ff4a90" opacity="0.63"/><circle cx="195.1" cy="71.4" r="1.1" fill="#d02868" opacity="0.65"/><circle cx="91.1" cy="229.2" r="0.9" fill="#ff4a90" opacity="0.53"/><circle cx="219.1" cy="63.3" r="0.9" fill="#e0306a" opacity="0.92"/><circle cx="183.3" cy="57.8" r="0.9" fill="#d02868" opacity="0.50"/><circle cx="211.5" cy="142.9" r="0.6" fill="#e0306a" opacity="0.54"/><circle cx="196.7" cy="83.1" r="1.0" fill="#c02050" opacity="0.86"/><circle cx="127.7" cy="245.9" r="1.1" fill="#e0306a" opacity="0.93"/><circle cx="102.2" cy="231.8" r="1.0" fill="#e0306a" opacity="0.68"/><circle cx="198.3" cy="193.3" r="1.1" fill="#e0306a" opacity="0.60"/><circle cx="119.1" cy="168.3" r="0.6" fill="#e0306a" opacity="0.62"/><circle cx="117.0" cy="245.8" r="0.6" fill="#c02050" opacity="0.82"/><circle cx="141.9" cy="146.9" r="0.9" fill="#c02050" opacity="0.72"/><circle cx="157.7" cy="236.8" r="0.6" fill="#ff4a90" opacity="0.66"/><circle cx="47.0" cy="128.2" r="0.8" fill="#c02050" opacity="0.76"/><circle cx="132.7" cy="218.7" r="0.8" fill="#d02868" opacity="0.94"/><circle cx="94.1" cy="202.9" r="0.9" fill="#d02868" opacity="0.66"/><circle cx="117.9" cy="62.7" r="1.1" fill="#e0306a" opacity="0.61"/><circle cx="69.8" cy="98.9" r="0.9" fill="#e0306a" opacity="0.94"/><circle cx="261.1" cy="151.0" r="0.6" fill="#c02050" opacity="0.58"/><circle cx="177.9" cy="199.1" r="0.5" fill="#d02868" opacity="0.81"/><circle cx="163.0" cy="171.6" r="0.8" fill="#ff4a90" opacity="0.70"/><circle cx="278.6" cy="129.7" r="0.6" fill="#ff4a90" opacity="0.85"/><circle cx="62.7" cy="95.8" r="0.6" fill="#ff4a90" opacity="0.84"/><circle cx="167.2" cy="246.4" r="1.0" fill="#ff4a90" opacity="0.66"/><circle cx="272.9" cy="207.5" r="0.9" fill="#ff4a90" opacity="0.87"/><circle cx="281.8" cy="76.7" r="0.5" fill="#ff4a90" opacity="0.74"/><circle cx="72.8" cy="116.0" r="0.9" fill="#ff4a90" opacity="0.62"/><circle cx="21.7" cy="59.2" r="1.2" fill="#ff4a90" opacity="0.57"/><circle cx="111.8" cy="229.7" r="0.9" fill="#d02868" opacity="0.74"/><circle cx="210.6" cy="167.9" r="0.7" fill="#ff4a90" opacity="0.69"/><circle cx="223.8" cy="193.1" r="0.8" fill="#d02868" opacity="0.81"/><circle cx="99.2" cy="99.5" r="0.9" fill="#ff4a90" opacity="0.66"/><circle cx="66.6" cy="257.2" r="0.9" fill="#e0306a" opacity="0.92"/><circle cx="213.2" cy="118.0" r="0.6" fill="#e0306a" opacity="0.75"/><circle cx="34.4" cy="265.6" r="0.7" fill="#ff4a90" opacity="0.56"/><circle cx="272.4" cy="195.9" r="0.5" fill="#d02868" opacity="0.76"/><circle cx="282.1" cy="200.3" r="0.8" fill="#e0306a" opacity="0.81"/><circle cx="24.7" cy="202.3" r="1.1" fill="#c02050" opacity="0.90"/><circle cx="29.2" cy="83.0" r="0.6" fill="#d02868" opacity="0.72"/><circle cx="160.0" cy="262.1" r="0.6" fill="#e0306a" opacity="0.64"/><circle cx="96.3" cy="203.9" r="1.2" fill="#d02868" opacity="0.93"/><circle cx="265.6" cy="237.6" r="0.9" fill="#e0306a" opacity="0.86"/><circle cx="286.0" cy="175.9" r="1.2" fill="#ff4a90" opacity="0.54"/><circle cx="149.0" cy="259.3" r="0.6" fill="#e0306a" opacity="0.63"/><circle cx="86.3" cy="265.3" r="0.5" fill="#c02050" opacity="0.87"/><circle cx="197.6" cy="164.7" r="0.5" fill="#e0306a" opacity="0.53"/><circle cx="227.9" cy="262.7" r="0.8" fill="#d02868" opacity="0.65"/><circle cx="99.5" cy="56.2" r="0.7" fill="#d02868" opacity="0.76"/><circle cx="151.0" cy="125.1" r="0.8" fill="#ff4a90" opacity="0.61"/><circle cx="253.1" cy="90.8" r="0.6" fill="#d02868" opacity="0.70"/><circle cx="63.4" cy="250.5" r="0.7" fill="#d02868" opacity="0.79"/><circle cx="74.7" cy="165.4" r="0.9" fill="#ff4a90" opacity="0.51"/><circle cx="89.2" cy="67.1" r="1.0" fill="#ff4a90" opacity="0.59"/><circle cx="9.9" cy="106.3" r="0.6" fill="#e0306a" opacity="0.84"/><circle cx="70.2" cy="99.8" r="0.9" fill="#c02050" opacity="0.56"/><circle cx="192.2" cy="68.0" r="1.2" fill="#e0306a" opacity="0.67"/><circle cx="38.9" cy="222.8" r="0.7" fill="#d02868" opacity="0.86"/><circle cx="108.9" cy="114.7" r="0.8" fill="#e0306a" opacity="0.87"/><circle cx="4.0" cy="160.3" r="1.2" fill="#c02050" opacity="0.69"/><circle cx="45.5" cy="67.5" r="1.1" fill="#d02868" opacity="0.93"/><circle cx="267.3" cy="126.5" r="0.6" fill="#d02868" opacity="0.82"/><circle cx="271.4" cy="94.4" r="1.0" fill="#d02868" opacity="0.61"/><circle cx="243.7" cy="243.4" r="0.8" fill="#c02050" opacity="0.83"/><circle cx="265.1" cy="84.5" r="1.2" fill="#e0306a" opacity="0.83"/><circle cx="194.1" cy="79.5" r="0.6" fill="#ff4a90" opacity="0.56"/><circle cx="151.2" cy="169.2" r="1.0" fill="#c02050" opacity="0.74"/><circle cx="271.8" cy="70.5" r="0.5" fill="#d02868" opacity="0.91"/><circle cx="280.0" cy="253.8" r="0.6" fill="#d02868" opacity="0.65"/><circle cx="163.1" cy="116.3" r="0.7" fill="#c02050" opacity="0.95"/><circle cx="140.2" cy="61.4" r="1.2" fill="#d02868" opacity="0.94"/><circle cx="7.0" cy="217.0" r="0.9" fill="#c02050" opacity="0.63"/><circle cx="13.1" cy="139.3" r="1.2" fill="#d02868" opacity="0.51"/><circle cx="121.7" cy="259.7" r="0.8" fill="#e0306a" opacity="0.58"/><circle cx="4.4" cy="118.4" r="0.7" fill="#e0306a" opacity="0.88"/><circle cx="161.3" cy="200.9" r="0.9" fill="#ff4a90" opacity="0.64"/><circle cx="102.3" cy="243.0" r="0.8" fill="#c02050" opacity="0.76"/><circle cx="73.6" cy="257.1" r="0.7" fill="#c02050" opacity="0.92"/><circle cx="244.8" cy="242.6" r="0.8" fill="#d02868" opacity="0.75"/><circle cx="263.9" cy="217.5" r="0.7" fill="#ff4a90" opacity="0.76"/><circle cx="45.2" cy="256.7" r="0.9" fill="#ff4a90" opacity="0.79"/><circle cx="0.9" cy="156.1" r="0.8" fill="#e0306a" opacity="0.92"/><circle cx="147.6" cy="134.5" r="1.0" fill="#e0306a" opacity="0.68"/><circle cx="142.9" cy="235.1" r="0.5" fill="#c02050" opacity="0.64"/><circle cx="183.4" cy="66.3" r="1.2" fill="#d02868" opacity="0.63"/><circle cx="127.1" cy="71.2" r="0.7" fill="#e0306a" opacity="0.87"/><circle cx="229.0" cy="107.7" r="0.8" fill="#e0306a" opacity="0.75"/><circle cx="271.5" cy="158.3" r="0.6" fill="#c02050" opacity="0.64"/><circle cx="191.1" cy="161.1" r="1.0" fill="#d02868" opacity="0.81"/><circle cx="128.0" cy="117.2" r="1.0" fill="#d02868" opacity="0.86"/><circle cx="204.2" cy="227.1" r="0.6" fill="#d02868" opacity="0.71"/><circle cx="205.0" cy="62.5" r="1.2" fill="#e0306a" opacity="0.80"/><circle cx="135.1" cy="191.5" r="1.2" fill="#c02050" opacity="0.79"/><circle cx="18.5" cy="196.5" r="0.7" fill="#e0306a" opacity="0.63"/><circle cx="111.9" cy="107.7" r="1.2" fill="#ff4a90" opacity="0.78"/><circle cx="36.0" cy="209.2" r="0.8" fill="#e0306a" opacity="0.68"/><circle cx="113.2" cy="214.6" r="0.9" fill="#e0306a" opacity="0.92"/><circle cx="183.4" cy="158.8" r="1.0" fill="#c02050" opacity="0.52"/><circle cx="253.6" cy="160.5" r="0.7" fill="#d02868" opacity="0.78"/><circle cx="33.8" cy="86.0" r="0.7" fill="#c02050" opacity="0.62"/><circle cx="53.8" cy="192.3" r="0.7" fill="#e0306a" opacity="0.92"/><circle cx="261.6" cy="115.5" r="1.2" fill="#ff4a90" opacity="0.85"/><circle cx="95.7" cy="113.0" r="0.5" fill="#c02050" opacity="0.54"/><circle cx="202.4" cy="63.8" r="0.7" fill="#d02868" opacity="0.92"/><circle cx="104.5" cy="146.3" r="0.5" fill="#c02050" opacity="0.52"/><circle cx="102.0" cy="166.3" r="0.7" fill="#c02050" opacity="0.91"/><circle cx="226.6" cy="250.1" r="0.6" fill="#e0306a" opacity="0.69"/><circle cx="196.8" cy="216.9" r="0.9" fill="#ff4a90" opacity="0.69"/><circle cx="3.5" cy="71.8" r="1.0" fill="#d02868" opacity="0.53"/><circle cx="43.1" cy="171.5" r="1.1" fill="#ff4a90" opacity="0.76"/><circle cx="268.3" cy="110.7" r="1.0" fill="#e0306a" opacity="0.71"/><circle cx="124.1" cy="75.9" r="0.6" fill="#c02050" opacity="0.61"/><circle cx="259.6" cy="171.3" r="0.7" fill="#e0306a" opacity="0.81"/><circle cx="125.6" cy="80.5" r="0.8" fill="#c02050" opacity="0.85"/><circle cx="70.3" cy="228.2" r="1.0" fill="#d02868" opacity="0.78"/><circle cx="13.3" cy="205.8" r="0.7" fill="#d02868" opacity="0.76"/><circle cx="115.6" cy="135.4" r="1.0" fill="#c02050" opacity="0.78"/><circle cx="59.7" cy="105.7" r="1.2" fill="#c02050" opacity="0.89"/><circle cx="265.8" cy="190.2" r="0.7" fill="#ff4a90" opacity="0.60"/><circle cx="248.4" cy="162.4" r="1.0" fill="#c02050" opacity="0.89"/><circle cx="55.0" cy="60.3" r="1.0" fill="#e0306a" opacity="0.70"/><circle cx="105.0" cy="146.9" r="0.8" fill="#c02050" opacity="0.60"/><circle cx="6.7" cy="240.6" r="0.8" fill="#e0306a" opacity="0.71"/><circle cx="252.4" cy="150.8" r="1.0" fill="#c02050" opacity="0.73"/><circle cx="229.8" cy="253.0" r="1.0" fill="#e0306a" opacity="0.63"/><circle cx="207.8" cy="257.2" r="0.8" fill="#c02050" opacity="0.79"/><circle cx="64.9" cy="218.6" r="0.9" fill="#ff4a90" opacity="0.68"/><circle cx="241.0" cy="127.1" r="0.7" fill="#c02050" opacity="0.78"/><circle cx="63.4" cy="138.6" r="1.0" fill="#d02868" opacity="0.70"/><circle cx="143.0" cy="64.1" r="1.1" fill="#d02868" opacity="0.68"/><circle cx="169.4" cy="206.1" r="1.0" fill="#ff4a90" opacity="0.76"/><circle cx="72.2" cy="204.6" r="0.9" fill="#c02050" opacity="0.94"/><circle cx="39.2" cy="220.8" r="1.1" fill="#ff4a90" opacity="0.73"/><circle cx="6.2" cy="215.7" r="0.9" fill="#ff4a90" opacity="0.72"/><circle cx="47.9" cy="187.5" r="1.0" fill="#c02050" opacity="0.63"/><circle cx="231.3" cy="143.3" r="0.6" fill="#d02868" opacity="0.52"/><circle cx="132.8" cy="172.8" r="0.9" fill="#c02050" opacity="0.93"/><circle cx="101.2" cy="216.2" r="0.5" fill="#e0306a" opacity="0.75"/><circle cx="48.3" cy="131.1" r="0.8" fill="#d02868" opacity="0.62"/><circle cx="102.9" cy="168.5" r="0.9" fill="#e0306a" opacity="0.68"/><circle cx="116.1" cy="222.5" r="0.6" fill="#d02868" opacity="0.51"/><circle cx="261.3" cy="190.0" r="1.0" fill="#e0306a" opacity="0.62"/><circle cx="140.4" cy="202.5" r="1.0" fill="#e0306a" opacity="0.63"/><circle cx="94.9" cy="187.3" r="1.0" fill="#ff4a90" opacity="0.65"/><circle cx="252.1" cy="100.0" r="1.0" fill="#c02050" opacity="0.51"/><circle cx="263.3" cy="222.5" r="0.9" fill="#ff4a90" opacity="0.94"/><circle cx="64.1" cy="100.9" r="0.6" fill="#ff4a90" opacity="0.93"/><circle cx="97.9" cy="147.6" r="0.6" fill="#c02050" opacity="0.58"/><circle cx="170.1" cy="217.2" r="0.7" fill="#c02050" opacity="0.82"/><circle cx="62.0" cy="242.8" r="0.8" fill="#d02868" opacity="0.53"/><circle cx="141.5" cy="196.8" r="1.0" fill="#e0306a" opacity="0.81"/><circle cx="270.1" cy="58.3" r="0.5" fill="#ff4a90" opacity="0.66"/><circle cx="282.6" cy="182.0" r="0.5" fill="#c02050" opacity="0.55"/><circle cx="6.0" cy="202.8" r="0.9" fill="#d02868" opacity="0.52"/><circle cx="43.8" cy="198.9" r="0.8" fill="#e0306a" opacity="0.63"/><circle cx="161.1" cy="129.5" r="0.5" fill="#ff4a90" opacity="0.92"/><circle cx="86.0" cy="56.2" r="0.7" fill="#ff4a90" opacity="0.77"/><circle cx="77.1" cy="77.3" r="0.8" fill="#e0306a" opacity="0.73"/><circle cx="89.5" cy="243.7" r="1.0" fill="#c02050" opacity="0.73"/><circle cx="118.6" cy="136.9" r="0.8" fill="#ff4a90" opacity="0.74"/><circle cx="153.0" cy="222.5" r="0.7" fill="#d02868" opacity="0.63"/><circle cx="112.4" cy="192.3" r="0.9" fill="#e0306a" opacity="0.63"/><circle cx="54.9" cy="239.8" r="1.0" fill="#c02050" opacity="0.84"/><circle cx="130.5" cy="138.4" r="1.1" fill="#d02868" opacity="0.95"/><circle cx="263.2" cy="232.6" r="0.6" fill="#e0306a" opacity="0.74"/><circle cx="96.4" cy="144.7" r="0.5" fill="#ff4a90" opacity="0.63"/><circle cx="102.4" cy="258.3" r="0.5" fill="#e0306a" opacity="0.57"/><circle cx="111.8" cy="190.5" r="0.8" fill="#e0306a" opacity="0.95"/><circle cx="257.1" cy="180.2" r="0.9" fill="#e0306a" opacity="0.58"/><circle cx="133.2" cy="246.6" r="0.7" fill="#c02050" opacity="0.70"/><circle cx="156.0" cy="125.4" r="0.5" fill="#e0306a" opacity="0.82"/><circle cx="265.4" cy="182.9" r="1.0" fill="#d02868" opacity="0.65"/><circle cx="274.9" cy="173.1" r="1.2" fill="#e0306a" opacity="0.58"/><circle cx="54.0" cy="224.3" r="1.0" fill="#d02868" opacity="0.53"/><circle cx="9.8" cy="224.5" r="1.1" fill="#d02868" opacity="0.79"/><circle cx="212.4" cy="243.6" r="1.1" fill="#ff4a90" opacity="0.91"/><circle cx="212.9" cy="121.7" r="0.9" fill="#e0306a" opacity="0.92"/><circle cx="12.5" cy="174.1" r="1.1" fill="#c02050" opacity="0.80"/><circle cx="111.3" cy="192.3" r="0.8" fill="#c02050" opacity="0.94"/><circle cx="68.9" cy="113.0" r="1.0" fill="#d02868" opacity="0.53"/><circle cx="53.5" cy="104.0" r="1.2" fill="#ff4a90" opacity="0.80"/><circle cx="34.5" cy="189.2" r="1.2" fill="#c02050" opacity="0.64"/><circle cx="2.0" cy="141.2" r="0.6" fill="#c02050" opacity="0.61"/><circle cx="33.6" cy="130.3" r="0.9" fill="#ff4a90" opacity="0.68"/><circle cx="270.6" cy="191.3" r="0.6" fill="#d02868" opacity="0.51"/><circle cx="188.9" cy="191.5" r="0.8" fill="#d02868" opacity="0.72"/><circle cx="12.3" cy="169.7" r="0.6" fill="#e0306a" opacity="0.67"/><circle cx="64.7" cy="146.7" r="1.0" fill="#c02050" opacity="0.84"/><circle cx="207.3" cy="64.1" r="0.6" fill="#e0306a" opacity="0.57"/><circle cx="10.8" cy="59.1" r="0.6" fill="#c02050" opacity="0.82"/><circle cx="39.8" cy="126.6" r="0.9" fill="#e0306a" opacity="0.60"/><circle cx="51.6" cy="149.8" r="0.6" fill="#c02050" opacity="0.79"/><circle cx="48.2" cy="89.3" r="0.8" fill="#c02050" opacity="0.67"/><circle cx="214.4" cy="73.7" r="0.8" fill="#e0306a" opacity="0.52"/><circle cx="176.5" cy="94.6" r="1.2" fill="#ff4a90" opacity="0.69"/><circle cx="226.4" cy="236.1" r="0.9" fill="#ff4a90" opacity="0.92"/><circle cx="37.9" cy="135.4" r="1.1" fill="#ff4a90" opacity="0.55"/><circle cx="187.4" cy="109.7" r="0.7" fill="#ff4a90" opacity="0.84"/><circle cx="225.1" cy="203.4" r="0.9" fill="#d02868" opacity="0.89"/><circle cx="98.1" cy="107.1" r="1.0" fill="#e0306a" opacity="0.89"/><circle cx="103.9" cy="183.2" r="1.2" fill="#ff4a90" opacity="0.88"/><circle cx="188.2" cy="259.5" r="0.7" fill="#d02868" opacity="0.72"/><circle cx="25.8" cy="220.1" r="0.8" fill="#e0306a" opacity="0.76"/><circle cx="59.8" cy="258.4" r="0.6" fill="#c02050" opacity="0.70"/><circle cx="246.0" cy="265.2" r="0.6" fill="#ff4a90" opacity="0.73"/><circle cx="173.8" cy="169.6" r="0.6" fill="#ff4a90" opacity="0.75"/><circle cx="97.4" cy="53.2" r="1.0" fill="#e0306a" opacity="0.78"/><circle cx="184.1" cy="153.9" r="0.5" fill="#e0306a" opacity="0.82"/><circle cx="66.7" cy="156.5" r="1.1" fill="#c02050" opacity="0.92"/><circle cx="120.8" cy="121.3" r="0.7" fill="#c02050" opacity="0.83"/><circle cx="224.3" cy="168.8" r="1.1" fill="#d02868" opacity="0.79"/><circle cx="275.1" cy="80.0" r="1.0" fill="#d02868" opacity="0.69"/><circle cx="242.4" cy="170.3" r="0.9" fill="#d02868" opacity="0.80"/><circle cx="277.8" cy="65.5" r="1.2" fill="#e0306a" opacity="0.56"/><circle cx="194.1" cy="108.1" r="0.9" fill="#ff4a90" opacity="0.89"/><circle cx="106.8" cy="77.3" r="0.8" fill="#e0306a" opacity="0.55"/><circle cx="168.3" cy="236.3" r="0.9" fill="#d02868" opacity="0.56"/><circle cx="173.2" cy="230.2" r="1.1" fill="#ff4a90" opacity="0.67"/><circle cx="186.5" cy="132.8" r="0.9" fill="#c02050" opacity="0.76"/><circle cx="247.7" cy="198.6" r="0.7" fill="#ff4a90" opacity="0.85"/><circle cx="181.6" cy="153.7" r="0.8" fill="#e0306a" opacity="0.88"/><circle cx="138.4" cy="248.6" r="0.9" fill="#d02868" opacity="0.53"/><circle cx="37.8" cy="183.5" r="1.2" fill="#e0306a" opacity="0.86"/><circle cx="83.3" cy="151.0" r="1.1" fill="#c02050" opacity="0.68"/><circle cx="264.2" cy="157.1" r="1.0" fill="#c02050" opacity="0.88"/><circle cx="23.2" cy="78.3" r="0.9" fill="#c02050" opacity="0.93"/><circle cx="273.5" cy="148.5" r="0.6" fill="#c02050" opacity="0.60"/><circle cx="42.5" cy="192.7" r="0.8" fill="#ff4a90" opacity="0.90"/><circle cx="61.2" cy="55.4" r="0.8" fill="#d02868" opacity="0.56"/><circle cx="39.0" cy="244.4" r="0.9" fill="#e0306a" opacity="0.57"/><circle cx="95.5" cy="92.4" r="0.7" fill="#e0306a" opacity="0.52"/><circle cx="202.4" cy="144.3" r="0.6" fill="#e0306a" opacity="0.52"/><circle cx="187.1" cy="154.1" r="1.1" fill="#d02868" opacity="0.91"/><circle cx="51.2" cy="159.4" r="1.1" fill="#ff4a90" opacity="0.59"/><circle cx="184.6" cy="68.8" r="1.2" fill="#d02868" opacity="0.78"/><circle cx="91.9" cy="208.7" r="1.1" fill="#e0306a" opacity="0.61"/><circle cx="242.3" cy="163.7" r="0.7" fill="#ff4a90" opacity="0.75"/><circle cx="91.1" cy="89.2" r="1.0" fill="#ff4a90" opacity="0.65"/><circle cx="120.6" cy="202.7" r="0.8" fill="#d02868" opacity="0.55"/><circle cx="27.4" cy="89.5" r="0.8" fill="#c02050" opacity="0.79"/><circle cx="104.6" cy="132.3" r="0.7" fill="#d02868" opacity="0.77"/><circle cx="71.1" cy="72.3" r="0.8" fill="#c02050" opacity="0.79"/><circle cx="107.4" cy="141.3" r="0.6" fill="#ff4a90" opacity="0.61"/><circle cx="133.6" cy="173.6" r="1.1" fill="#ff4a90" opacity="0.80"/><circle cx="242.1" cy="136.0" r="0.7" fill="#e0306a" opacity="0.64"/><circle cx="28.9" cy="224.7" r="0.9" fill="#ff4a90" opacity="0.79"/><circle cx="200.8" cy="263.8" r="0.9" fill="#e0306a" opacity="0.85"/><circle cx="140.5" cy="73.3" r="0.7" fill="#e0306a" opacity="0.71"/><circle cx="57.9" cy="115.5" r="1.1" fill="#c02050" opacity="0.64"/><circle cx="137.7" cy="98.0" r="0.8" fill="#ff4a90" opacity="0.51"/><circle cx="120.3" cy="70.8" r="0.7" fill="#e0306a" opacity="0.71"/><circle cx="140.0" cy="121.5" r="0.8" fill="#c02050" opacity="0.62"/><circle cx="38.3" cy="186.8" r="0.6" fill="#e0306a" opacity="0.86"/><circle cx="25.9" cy="172.8" r="0.9" fill="#e0306a" opacity="0.58"/><circle cx="177.0" cy="117.3" r="0.9" fill="#ff4a90" opacity="0.90"/><circle cx="274.5" cy="216.0" r="0.8" fill="#e0306a" opacity="0.85"/><circle cx="192.1" cy="87.0" r="1.1" fill="#c02050" opacity="0.84"/><circle cx="257.0" cy="183.7" r="0.6" fill="#c02050" opacity="0.57"/><circle cx="13.5" cy="87.5" r="0.6" fill="#ff4a90" opacity="0.56"/>
<circle cx="48.5" cy="176.4" r="1.1" fill="#80e080" opacity="0.63"/><circle cx="242.7" cy="225.8" r="0.9" fill="#40d070" opacity="0.65"/><circle cx="259.7" cy="98.5" r="0.8" fill="#30c0a0" opacity="0.81"/><circle cx="169.6" cy="196.4" r="0.8" fill="#30c0a0" opacity="0.76"/><circle cx="122.8" cy="62.0" r="1.1" fill="#40d070" opacity="0.54"/><circle cx="39.5" cy="95.5" r="1.0" fill="#80e080" opacity="0.70"/><circle cx="275.9" cy="98.9" r="0.9" fill="#80e080" opacity="0.56"/><circle cx="237.0" cy="263.0" r="1.1" fill="#40d070" opacity="0.85"/><circle cx="141.9" cy="178.9" r="0.7" fill="#80e080" opacity="0.57"/><circle cx="66.4" cy="246.5" r="0.9" fill="#40d070" opacity="0.55"/><circle cx="101.2" cy="104.8" r="1.2" fill="#80e080" opacity="0.72"/><circle cx="99.9" cy="259.4" r="0.9" fill="#40d070" opacity="0.65"/><circle cx="130.6" cy="200.3" r="1.2" fill="#80e080" opacity="0.89"/><circle cx="200.2" cy="86.1" r="0.9" fill="#80e080" opacity="0.64"/><circle cx="9.3" cy="70.1" r="1.1" fill="#30c0a0" opacity="0.59"/><circle cx="100.7" cy="70.6" r="0.9" fill="#40d070" opacity="0.62"/><circle cx="39.3" cy="179.9" r="0.9" fill="#80e080" opacity="0.57"/><circle cx="30.2" cy="56.3" r="0.7" fill="#40d070" opacity="0.83"/><circle cx="270.5" cy="96.0" r="0.8" fill="#30c0a0" opacity="0.81"/><circle cx="211.5" cy="118.1" r="0.9" fill="#30c0a0" opacity="0.54"/><circle cx="28.8" cy="261.3" r="1.2" fill="#40d070" opacity="0.74"/><circle cx="275.3" cy="254.7" r="1.2" fill="#40d070" opacity="0.63"/><circle cx="266.9" cy="101.1" r="0.8" fill="#30c0a0" opacity="0.68"/><circle cx="240.8" cy="199.4" r="0.7" fill="#40d070" opacity="0.67"/><circle cx="232.4" cy="60.2" r="0.8" fill="#30c0a0" opacity="0.62"/><circle cx="120.2" cy="255.7" r="1.2" fill="#80e080" opacity="0.67"/><circle cx="118.2" cy="139.8" r="0.8" fill="#80e080" opacity="0.59"/><circle cx="18.1" cy="63.9" r="0.8" fill="#30c0a0" opacity="0.62"/><circle cx="265.5" cy="168.8" r="0.6" fill="#30c0a0" opacity="0.77"/><circle cx="96.3" cy="158.7" r="0.7" fill="#30c0a0" opacity="0.75"/><circle cx="2.2" cy="216.0" r="0.7" fill="#40d070" opacity="0.51"/><circle cx="138.0" cy="57.2" r="0.9" fill="#40d070" opacity="0.68"/><circle cx="150.9" cy="58.2" r="0.9" fill="#40d070" opacity="0.83"/><circle cx="187.6" cy="73.9" r="1.1" fill="#30c0a0" opacity="0.70"/><circle cx="227.4" cy="232.7" r="0.7" fill="#80e080" opacity="0.62"/><circle cx="275.0" cy="245.9" r="1.0" fill="#80e080" opacity="0.90"/><circle cx="264.5" cy="232.1" r="1.0" fill="#80e080" opacity="0.72"/><circle cx="255.0" cy="181.8" r="0.9" fill="#40d070" opacity="0.88"/><circle cx="47.2" cy="174.1" r="1.2" fill="#40d070" opacity="0.80"/><circle cx="32.3" cy="189.3" r="0.6" fill="#30c0a0" opacity="0.59"/><circle cx="210.5" cy="242.0" r="1.3" fill="#30c0a0" opacity="0.66"/><circle cx="132.5" cy="253.0" r="1.3" fill="#80e080" opacity="0.71"/><circle cx="9.6" cy="156.1" r="0.7" fill="#30c0a0" opacity="0.73"/><circle cx="109.5" cy="152.4" r="0.7" fill="#30c0a0" opacity="0.72"/><circle cx="143.9" cy="92.1" r="0.9" fill="#30c0a0" opacity="0.69"/><circle cx="124.9" cy="181.1" r="1.3" fill="#40d070" opacity="0.86"/><circle cx="237.9" cy="102.1" r="0.7" fill="#40d070" opacity="0.87"/><circle cx="138.4" cy="204.2" r="1.3" fill="#80e080" opacity="0.62"/><circle cx="5.6" cy="72.5" r="1.3" fill="#40d070" opacity="0.88"/><circle cx="270.9" cy="194.5" r="0.8" fill="#40d070" opacity="0.81"/><circle cx="257.6" cy="109.6" r="0.9" fill="#40d070" opacity="0.61"/><circle cx="260.1" cy="177.8" r="1.1" fill="#40d070" opacity="0.81"/><circle cx="146.2" cy="111.3" r="1.0" fill="#80e080" opacity="0.78"/><circle cx="212.9" cy="82.3" r="1.3" fill="#30c0a0" opacity="0.58"/><circle cx="65.0" cy="259.5" r="1.2" fill="#40d070" opacity="0.84"/><circle cx="243.5" cy="229.5" r="1.1" fill="#80e080" opacity="0.85"/><circle cx="268.3" cy="213.0" r="0.6" fill="#40d070" opacity="0.52"/><circle cx="209.7" cy="157.9" r="1.3" fill="#80e080" opacity="0.68"/><circle cx="193.9" cy="196.0" r="0.9" fill="#80e080" opacity="0.52"/><circle cx="282.7" cy="216.7" r="1.1" fill="#30c0a0" opacity="0.82"/><circle cx="132.7" cy="97.1" r="0.9" fill="#30c0a0" opacity="0.83"/><circle cx="205.5" cy="86.6" r="1.2" fill="#30c0a0" opacity="0.83"/><circle cx="39.4" cy="261.2" r="1.0" fill="#80e080" opacity="0.55"/><circle cx="231.0" cy="197.1" r="1.0" fill="#80e080" opacity="0.79"/><circle cx="176.1" cy="129.2" r="1.0" fill="#30c0a0" opacity="0.64"/><circle cx="283.9" cy="235.6" r="1.2" fill="#80e080" opacity="0.77"/><circle cx="174.0" cy="226.7" r="0.9" fill="#30c0a0" opacity="0.51"/><circle cx="176.3" cy="190.3" r="0.9" fill="#80e080" opacity="0.52"/><circle cx="185.1" cy="122.6" r="1.3" fill="#30c0a0" opacity="0.74"/><circle cx="244.7" cy="219.0" r="0.9" fill="#40d070" opacity="0.86"/><circle cx="113.9" cy="55.4" r="1.2" fill="#30c0a0" opacity="0.52"/><circle cx="163.6" cy="121.0" r="1.1" fill="#40d070" opacity="0.54"/><circle cx="87.7" cy="137.9" r="0.7" fill="#40d070" opacity="0.70"/><circle cx="102.4" cy="62.8" r="1.3" fill="#80e080" opacity="0.58"/><circle cx="152.3" cy="101.6" r="1.0" fill="#40d070" opacity="0.67"/><circle cx="197.5" cy="125.9" r="1.0" fill="#80e080" opacity="0.78"/><circle cx="102.7" cy="140.7" r="1.3" fill="#30c0a0" opacity="0.81"/><circle cx="230.5" cy="267.0" r="1.2" fill="#40d070" opacity="0.80"/><circle cx="15.9" cy="81.0" r="0.7" fill="#80e080" opacity="0.83"/><circle cx="153.5" cy="185.7" r="0.7" fill="#80e080" opacity="0.68"/><circle cx="133.0" cy="135.4" r="1.0" fill="#30c0a0" opacity="0.61"/><circle cx="281.5" cy="135.7" r="1.1" fill="#40d070" opacity="0.51"/><circle cx="27.3" cy="89.7" r="1.0" fill="#30c0a0" opacity="0.63"/><circle cx="190.8" cy="247.6" r="1.2" fill="#40d070" opacity="0.87"/><circle cx="72.7" cy="230.2" r="1.0" fill="#40d070" opacity="0.82"/><circle cx="138.4" cy="163.2" r="0.7" fill="#80e080" opacity="0.79"/><circle cx="151.3" cy="53.3" r="0.6" fill="#40d070" opacity="0.85"/><circle cx="234.9" cy="159.7" r="0.9" fill="#30c0a0" opacity="0.68"/><circle cx="77.1" cy="192.7" r="1.2" fill="#40d070" opacity="0.77"/><circle cx="33.4" cy="208.0" r="0.9" fill="#80e080" opacity="0.79"/><circle cx="241.4" cy="80.1" r="1.0" fill="#80e080" opacity="0.61"/><circle cx="82.4" cy="244.1" r="0.7" fill="#30c0a0" opacity="0.66"/><circle cx="58.8" cy="250.6" r="1.3" fill="#40d070" opacity="0.80"/><circle cx="281.8" cy="179.6" r="0.9" fill="#40d070" opacity="0.86"/><circle cx="202.6" cy="124.8" r="1.3" fill="#30c0a0" opacity="0.62"/><circle cx="67.0" cy="100.6" r="1.2" fill="#40d070" opacity="0.56"/><circle cx="166.7" cy="142.0" r="1.3" fill="#80e080" opacity="0.63"/><circle cx="237.4" cy="167.5" r="0.9" fill="#40d070" opacity="0.64"/><circle cx="177.8" cy="163.7" r="1.1" fill="#40d070" opacity="0.59"/><circle cx="197.2" cy="232.1" r="0.7" fill="#80e080" opacity="0.62"/><circle cx="144.4" cy="159.7" r="1.2" fill="#40d070" opacity="0.72"/><circle cx="14.7" cy="132.3" r="0.6" fill="#40d070" opacity="0.62"/><circle cx="12.1" cy="242.3" r="1.2" fill="#30c0a0" opacity="0.85"/><circle cx="13.3" cy="256.8" r="1.0" fill="#40d070" opacity="0.76"/><circle cx="27.7" cy="167.9" r="0.7" fill="#40d070" opacity="0.54"/><circle cx="212.2" cy="147.6" r="0.8" fill="#40d070" opacity="0.66"/><circle cx="227.4" cy="53.8" r="0.9" fill="#80e080" opacity="0.60"/><circle cx="128.8" cy="83.5" r="0.8" fill="#30c0a0" opacity="0.58"/><circle cx="138.3" cy="113.5" r="1.3" fill="#80e080" opacity="0.70"/><circle cx="98.7" cy="238.0" r="0.7" fill="#80e080" opacity="0.87"/><circle cx="243.7" cy="242.4" r="1.3" fill="#30c0a0" opacity="0.59"/><circle cx="18.0" cy="149.9" r="0.7" fill="#80e080" opacity="0.50"/><circle cx="36.3" cy="71.0" r="1.2" fill="#80e080" opacity="0.67"/><circle cx="274.6" cy="56.1" r="0.7" fill="#30c0a0" opacity="0.74"/><circle cx="184.7" cy="225.2" r="0.7" fill="#80e080" opacity="0.62"/><circle cx="41.3" cy="158.6" r="1.0" fill="#40d070" opacity="0.56"/><circle cx="255.1" cy="195.5" r="1.2" fill="#40d070" opacity="0.83"/><circle cx="231.3" cy="99.4" r="0.7" fill="#30c0a0" opacity="0.68"/><circle cx="131.6" cy="147.4" r="0.8" fill="#40d070" opacity="0.67"/><circle cx="248.7" cy="261.3" r="1.2" fill="#40d070" opacity="0.87"/><circle cx="78.0" cy="185.6" r="1.3" fill="#40d070" opacity="0.86"/><circle cx="163.6" cy="186.2" r="1.0" fill="#80e080" opacity="0.53"/><circle cx="132.5" cy="70.2" r="0.9" fill="#30c0a0" opacity="0.58"/><circle cx="24.4" cy="134.4" r="0.9" fill="#80e080" opacity="0.52"/><circle cx="226.5" cy="175.5" r="1.2" fill="#30c0a0" opacity="0.77"/><circle cx="206.8" cy="82.5" r="0.7" fill="#80e080" opacity="0.67"/><circle cx="39.4" cy="230.9" r="0.7" fill="#80e080" opacity="0.68"/><circle cx="195.3" cy="229.7" r="1.0" fill="#80e080" opacity="0.76"/><circle cx="181.5" cy="63.3" r="0.8" fill="#40d070" opacity="0.54"/><circle cx="215.1" cy="82.2" r="0.8" fill="#40d070" opacity="0.52"/>
</g>
<path d="M240.5 54.5 L287 87" stroke="#fff" stroke-width="2.2" stroke-dasharray="2.2 2.2"/>
<text x="269.5" y="62.5" font-size="9" font-weight="bold" text-anchor="start" fill="#fff"  stroke="#fff" stroke-width="0.3">ac</text>
<rect x="93" y="127.5" width="97" height="65" fill="none" stroke="#fff" stroke-width="2.2"/>
<line x1="190" y1="128.5" x2="295" y2="54" stroke="#a8a8a8" stroke-width="2.6" />
<line x1="190" y1="191.5" x2="295" y2="269" stroke="#a8a8a8" stroke-width="2.6" />
<line x1="251" y1="255.6" x2="282" y2="255.6" stroke="#fff" stroke-width="1" />
<text x="266" y="262" font-size="4.5" font-weight="normal" text-anchor="middle" fill="#fff" >50 µm</text>
<text x="12" y="226.2" font-size="12.6" font-weight="bold" text-anchor="start" fill="#e05aa8" font-style="italic"  stroke="#e05aa8" stroke-width="0.3">Abhd6</text>
<text x="12" y="241.2" font-size="12.6" font-weight="bold" text-anchor="start" fill="#22b868" font-style="italic"  stroke="#22b868" stroke-width="0.3">Slc32a1</text>
<text x="12" y="257.7" font-size="12.6" font-weight="bold" text-anchor="start" fill="#4a7cc8"  stroke="#4a7cc8" stroke-width="0.3">DAPI</text>
<g clip-path="url(#cB)">
<rect x="295" y="54" width="287" height="215" fill="#06051a"/>
<rect x="295" y="54" width="287" height="215" filter="url(#tB)" opacity="0.55"/>
<ellipse cx="376" cy="86" rx="26" ry="20" fill="#2a2ad0" opacity="0.75" filter="url(#bl8)"/>
<ellipse cx="430" cy="138" rx="30" ry="26" fill="#2a2ad0" opacity="0.7" filter="url(#bl8)"/>
<ellipse cx="450" cy="195" rx="23" ry="20" fill="#2a2ad0" opacity="0.8" filter="url(#bl8)"/>
<ellipse cx="530" cy="86" rx="24" ry="17" fill="#2a2ad0" opacity="0.6" filter="url(#bl8)"/>
<ellipse cx="552" cy="162" rx="20" ry="16" fill="#2a2ad0" opacity="0.6" filter="url(#bl8)"/>
<ellipse cx="459" cy="58" rx="22" ry="9" fill="#2a2ad0" opacity="0.5" filter="url(#bl8)"/>
<ellipse cx="504" cy="146" rx="16" ry="14" fill="#2a2ad0" opacity="0.4" filter="url(#bl8)"/>
<ellipse cx="562" cy="219" rx="18" ry="14" fill="#2a2ad0" opacity="0.35" filter="url(#bl8)"/>
<ellipse cx="328" cy="120" rx="14" ry="12" fill="#2a2ad0" opacity="0.35" filter="url(#bl8)"/>
<ellipse cx="400" cy="250" rx="18" ry="12" fill="#2a2ad0" opacity="0.3" filter="url(#bl8)"/>
<ellipse cx="320" cy="200" rx="15" ry="15" fill="#2a2ad0" opacity="0.25" filter="url(#bl8)"/>
<ellipse cx="490" cy="250" rx="15" ry="10" fill="#2a2ad0" opacity="0.3" filter="url(#bl8)"/>
<ellipse cx="575" cy="110" rx="10" ry="18" fill="#2a2ad0" opacity="0.4" filter="url(#bl8)"/>
<circle cx="455.4" cy="142.0" r="0.9" fill="#d03090" opacity="0.76"/><circle cx="299.6" cy="60.2" r="0.9" fill="#ff50b0" opacity="0.70"/><circle cx="460.4" cy="107.0" r="0.9" fill="#d03090" opacity="0.99"/><circle cx="446.7" cy="210.5" r="1.0" fill="#d03090" opacity="0.93"/><circle cx="369.1" cy="240.9" r="0.9" fill="#d03090" opacity="0.87"/><circle cx="343.4" cy="173.7" r="1.0" fill="#e040a0" opacity="0.89"/><circle cx="384.1" cy="78.4" r="1.2" fill="#e040a0" opacity="0.77"/><circle cx="314.2" cy="95.0" r="0.9" fill="#d03090" opacity="0.93"/><circle cx="373.3" cy="132.1" r="1.4" fill="#e040a0" opacity="0.95"/><circle cx="576.4" cy="183.8" r="1.2" fill="#e040a0" opacity="0.87"/><circle cx="387.9" cy="135.5" r="1.0" fill="#d03090" opacity="1.00"/><circle cx="407.7" cy="89.7" r="1.3" fill="#e040a0" opacity="0.77"/><circle cx="328.7" cy="83.2" r="1.0" fill="#d03090" opacity="0.97"/><circle cx="530.5" cy="61.6" r="1.2" fill="#e040a0" opacity="0.87"/><circle cx="362.7" cy="80.6" r="1.0" fill="#ff50b0" opacity="0.73"/><circle cx="563.8" cy="58.5" r="1.2" fill="#ff50b0" opacity="0.84"/><circle cx="346.2" cy="223.7" r="1.3" fill="#e040a0" opacity="0.90"/><circle cx="532.1" cy="55.6" r="0.9" fill="#d03090" opacity="0.86"/><circle cx="344.4" cy="192.2" r="1.4" fill="#d03090" opacity="0.94"/><circle cx="430.2" cy="84.3" r="1.1" fill="#d03090" opacity="0.91"/><circle cx="356.8" cy="211.7" r="1.5" fill="#d03090" opacity="0.79"/><circle cx="372.3" cy="216.2" r="1.0" fill="#e040a0" opacity="0.81"/><circle cx="419.1" cy="211.9" r="1.2" fill="#d03090" opacity="0.81"/><circle cx="337.0" cy="162.4" r="1.5" fill="#d03090" opacity="0.89"/><circle cx="405.4" cy="72.7" r="1.0" fill="#e040a0" opacity="0.93"/><circle cx="539.5" cy="103.4" r="1.5" fill="#ff50b0" opacity="0.85"/><circle cx="535.5" cy="198.5" r="1.3" fill="#ff50b0" opacity="0.87"/><circle cx="321.0" cy="199.1" r="0.8" fill="#d03090" opacity="0.84"/><circle cx="503.7" cy="214.0" r="1.2" fill="#ff50b0" opacity="0.81"/><circle cx="342.5" cy="245.0" r="1.4" fill="#e040a0" opacity="0.75"/><circle cx="457.6" cy="101.7" r="0.9" fill="#ff50b0" opacity="0.96"/><circle cx="296.7" cy="264.2" r="0.9" fill="#ff50b0" opacity="0.94"/><circle cx="573.9" cy="237.9" r="1.1" fill="#ff50b0" opacity="0.96"/><circle cx="327.7" cy="169.9" r="1.4" fill="#ff50b0" opacity="0.70"/><circle cx="457.0" cy="145.3" r="1.5" fill="#e040a0" opacity="0.88"/><circle cx="372.8" cy="171.7" r="0.8" fill="#d03090" opacity="0.89"/><circle cx="434.9" cy="115.9" r="1.1" fill="#e040a0" opacity="0.76"/><circle cx="361.2" cy="129.3" r="1.1" fill="#ff50b0" opacity="0.89"/><circle cx="477.3" cy="254.7" r="1.0" fill="#e040a0" opacity="0.99"/><circle cx="451.8" cy="126.0" r="1.1" fill="#ff50b0" opacity="1.00"/><circle cx="437.6" cy="267.5" r="1.4" fill="#d03090" opacity="0.78"/><circle cx="544.7" cy="148.3" r="1.1" fill="#ff50b0" opacity="0.74"/><circle cx="557.4" cy="147.5" r="1.5" fill="#e040a0" opacity="0.92"/><circle cx="321.5" cy="266.4" r="1.2" fill="#e040a0" opacity="0.96"/><circle cx="555.6" cy="262.4" r="1.4" fill="#e040a0" opacity="0.73"/><circle cx="427.4" cy="260.9" r="0.8" fill="#ff50b0" opacity="0.72"/><circle cx="385.4" cy="159.6" r="1.3" fill="#d03090" opacity="0.96"/><circle cx="464.6" cy="249.7" r="1.2" fill="#d03090" opacity="0.84"/><circle cx="398.7" cy="209.0" r="1.4" fill="#ff50b0" opacity="0.84"/><circle cx="352.5" cy="159.7" r="1.0" fill="#ff50b0" opacity="0.88"/><circle cx="321.3" cy="105.9" r="1.0" fill="#e040a0" opacity="0.82"/><circle cx="324.2" cy="56.4" r="1.0" fill="#d03090" opacity="0.96"/><circle cx="304.2" cy="105.9" r="1.1" fill="#ff50b0" opacity="0.85"/><circle cx="346.0" cy="72.3" r="1.5" fill="#d03090" opacity="0.96"/><circle cx="326.5" cy="63.4" r="0.9" fill="#e040a0" opacity="0.78"/><circle cx="515.2" cy="150.0" r="1.1" fill="#e040a0" opacity="0.96"/><circle cx="454.1" cy="103.9" r="1.2" fill="#d03090" opacity="0.91"/><circle cx="535.6" cy="222.9" r="0.8" fill="#e040a0" opacity="0.94"/><circle cx="541.4" cy="71.7" r="0.9" fill="#e040a0" opacity="0.87"/><circle cx="376.5" cy="256.8" r="1.4" fill="#ff50b0" opacity="0.92"/><circle cx="489.8" cy="109.6" r="1.1" fill="#e040a0" opacity="0.82"/><circle cx="330.7" cy="195.6" r="1.3" fill="#ff50b0" opacity="0.80"/><circle cx="445.7" cy="130.6" r="1.0" fill="#ff50b0" opacity="0.81"/><circle cx="522.0" cy="118.5" r="1.1" fill="#e040a0" opacity="0.87"/><circle cx="547.9" cy="57.8" r="1.2" fill="#ff50b0" opacity="0.83"/><circle cx="491.3" cy="145.4" r="1.2" fill="#ff50b0" opacity="0.73"/><circle cx="436.2" cy="108.4" r="1.1" fill="#ff50b0" opacity="0.88"/><circle cx="317.5" cy="130.4" r="1.2" fill="#d03090" opacity="0.74"/><circle cx="358.6" cy="81.4" r="0.9" fill="#e040a0" opacity="0.87"/><circle cx="381.8" cy="210.5" r="1.1" fill="#d03090" opacity="0.75"/><circle cx="452.4" cy="154.7" r="1.0" fill="#ff50b0" opacity="0.93"/><circle cx="515.2" cy="104.3" r="0.8" fill="#d03090" opacity="0.87"/><circle cx="348.2" cy="166.2" r="0.8" fill="#e040a0" opacity="0.76"/><circle cx="445.5" cy="182.1" r="1.1" fill="#ff50b0" opacity="0.89"/><circle cx="461.1" cy="156.9" r="1.4" fill="#ff50b0" opacity="0.86"/><circle cx="547.7" cy="266.0" r="1.4" fill="#d03090" opacity="0.86"/><circle cx="463.1" cy="68.9" r="1.0" fill="#ff50b0" opacity="0.88"/><circle cx="452.7" cy="184.5" r="1.4" fill="#ff50b0" opacity="0.75"/><circle cx="553.9" cy="55.5" r="1.0" fill="#e040a0" opacity="0.79"/><circle cx="423.5" cy="146.3" r="1.4" fill="#d03090" opacity="0.71"/><circle cx="453.8" cy="245.4" r="1.5" fill="#d03090" opacity="0.83"/><circle cx="423.2" cy="194.1" r="0.9" fill="#ff50b0" opacity="0.78"/><circle cx="361.7" cy="226.6" r="1.1" fill="#ff50b0" opacity="0.70"/><circle cx="374.9" cy="156.4" r="0.9" fill="#e040a0" opacity="1.00"/><circle cx="317.1" cy="200.5" r="1.3" fill="#e040a0" opacity="0.75"/><circle cx="565.8" cy="128.7" r="1.3" fill="#d03090" opacity="0.95"/><circle cx="534.3" cy="92.3" r="1.4" fill="#d03090" opacity="0.93"/><circle cx="359.6" cy="125.6" r="1.0" fill="#d03090" opacity="0.90"/><circle cx="335.5" cy="109.2" r="1.5" fill="#e040a0" opacity="0.88"/><circle cx="483.6" cy="180.4" r="1.5" fill="#ff50b0" opacity="0.92"/><circle cx="458.1" cy="241.8" r="1.2" fill="#e040a0" opacity="0.92"/><circle cx="313.3" cy="240.5" r="1.3" fill="#ff50b0" opacity="0.71"/><circle cx="566.0" cy="154.5" r="1.4" fill="#e040a0" opacity="0.86"/><circle cx="333.8" cy="182.7" r="1.0" fill="#ff50b0" opacity="0.84"/><circle cx="428.8" cy="129.7" r="1.1" fill="#d03090" opacity="0.92"/><circle cx="349.8" cy="137.6" r="1.2" fill="#d03090" opacity="0.92"/><circle cx="410.5" cy="248.0" r="1.1" fill="#d03090" opacity="0.80"/><circle cx="490.4" cy="267.0" r="1.4" fill="#d03090" opacity="0.77"/><circle cx="568.2" cy="200.9" r="0.9" fill="#e040a0" opacity="0.73"/><circle cx="381.5" cy="133.2" r="1.0" fill="#e040a0" opacity="0.81"/><circle cx="341.1" cy="140.0" r="1.0" fill="#e040a0" opacity="0.94"/><circle cx="370.7" cy="92.0" r="1.4" fill="#e040a0" opacity="0.91"/><circle cx="536.4" cy="250.4" r="1.1" fill="#ff50b0" opacity="0.88"/><circle cx="314.8" cy="132.3" r="1.1" fill="#ff50b0" opacity="0.81"/><circle cx="573.1" cy="159.0" r="0.8" fill="#ff50b0" opacity="0.92"/><circle cx="310.0" cy="71.4" r="1.0" fill="#d03090" opacity="0.91"/><circle cx="339.6" cy="178.0" r="1.1" fill="#d03090" opacity="0.78"/><circle cx="384.0" cy="259.9" r="1.0" fill="#ff50b0" opacity="0.72"/><circle cx="507.8" cy="195.4" r="1.4" fill="#e040a0" opacity="0.89"/><circle cx="518.9" cy="230.8" r="1.3" fill="#d03090" opacity="0.73"/><circle cx="309.4" cy="92.1" r="1.0" fill="#ff50b0" opacity="0.83"/><circle cx="494.6" cy="134.0" r="1.2" fill="#d03090" opacity="0.93"/><circle cx="340.8" cy="74.3" r="1.1" fill="#d03090" opacity="0.86"/><circle cx="489.1" cy="88.3" r="1.3" fill="#ff50b0" opacity="0.85"/><circle cx="445.2" cy="134.4" r="1.3" fill="#e040a0" opacity="0.71"/><circle cx="350.1" cy="261.0" r="1.1" fill="#d03090" opacity="0.86"/><circle cx="339.4" cy="70.0" r="1.5" fill="#ff50b0" opacity="0.86"/><circle cx="505.3" cy="183.3" r="0.9" fill="#ff50b0" opacity="0.98"/><circle cx="426.2" cy="268.7" r="0.8" fill="#d03090" opacity="0.79"/><circle cx="327.4" cy="218.0" r="1.0" fill="#ff50b0" opacity="0.77"/><circle cx="385.5" cy="215.6" r="1.1" fill="#ff50b0" opacity="0.70"/><circle cx="312.4" cy="61.9" r="1.2" fill="#ff50b0" opacity="0.98"/><circle cx="449.8" cy="200.5" r="1.2" fill="#e040a0" opacity="0.94"/><circle cx="475.1" cy="74.9" r="1.1" fill="#ff50b0" opacity="0.90"/><circle cx="531.5" cy="159.2" r="1.2" fill="#e040a0" opacity="0.72"/><circle cx="364.6" cy="207.9" r="1.5" fill="#e040a0" opacity="0.99"/><circle cx="515.8" cy="125.1" r="1.3" fill="#d03090" opacity="0.99"/><circle cx="406.2" cy="139.1" r="0.8" fill="#ff50b0" opacity="0.84"/><circle cx="372.9" cy="173.7" r="0.9" fill="#d03090" opacity="0.72"/><circle cx="471.6" cy="152.0" r="0.8" fill="#d03090" opacity="0.94"/><circle cx="520.3" cy="115.9" r="1.1" fill="#e040a0" opacity="0.75"/><circle cx="351.6" cy="224.8" r="1.5" fill="#d03090" opacity="0.95"/><circle cx="498.8" cy="137.9" r="1.1" fill="#e040a0" opacity="0.73"/><circle cx="542.8" cy="91.0" r="0.9" fill="#e040a0" opacity="0.78"/><circle cx="348.5" cy="90.0" r="1.4" fill="#e040a0" opacity="0.72"/><circle cx="355.7" cy="211.0" r="1.1" fill="#d03090" opacity="0.84"/><circle cx="561.1" cy="193.6" r="1.5" fill="#ff50b0" opacity="0.91"/><circle cx="526.7" cy="259.8" r="1.3" fill="#ff50b0" opacity="0.92"/><circle cx="467.3" cy="79.2" r="1.0" fill="#d03090" opacity="0.71"/><circle cx="490.9" cy="92.8" r="1.5" fill="#e040a0" opacity="0.92"/><circle cx="457.1" cy="189.3" r="1.1" fill="#ff50b0" opacity="0.96"/><circle cx="475.7" cy="103.4" r="1.3" fill="#e040a0" opacity="0.96"/><circle cx="405.5" cy="227.0" r="1.3" fill="#ff50b0" opacity="0.70"/><circle cx="344.5" cy="122.8" r="1.3" fill="#e040a0" opacity="0.81"/><circle cx="359.1" cy="148.2" r="0.9" fill="#e040a0" opacity="0.96"/><circle cx="573.5" cy="249.4" r="1.4" fill="#d03090" opacity="0.87"/><circle cx="510.1" cy="175.5" r="1.2" fill="#ff50b0" opacity="0.99"/><circle cx="427.5" cy="149.9" r="1.5" fill="#d03090" opacity="0.80"/><circle cx="420.8" cy="84.0" r="1.4" fill="#ff50b0" opacity="0.96"/><circle cx="394.4" cy="60.2" r="1.1" fill="#d03090" opacity="0.98"/><circle cx="485.2" cy="256.7" r="1.3" fill="#d03090" opacity="0.75"/><circle cx="486.4" cy="148.3" r="1.4" fill="#e040a0" opacity="0.99"/><circle cx="557.7" cy="116.1" r="1.0" fill="#e040a0" opacity="0.72"/><circle cx="521.0" cy="216.1" r="1.4" fill="#e040a0" opacity="0.72"/><circle cx="375.7" cy="153.5" r="1.1" fill="#ff50b0" opacity="0.96"/><circle cx="476.0" cy="131.2" r="0.8" fill="#ff50b0" opacity="0.71"/><circle cx="469.0" cy="183.9" r="1.5" fill="#d03090" opacity="0.85"/><circle cx="421.0" cy="72.6" r="1.0" fill="#e040a0" opacity="0.75"/><circle cx="433.7" cy="132.9" r="1.5" fill="#d03090" opacity="0.99"/><circle cx="350.3" cy="147.5" r="1.3" fill="#ff50b0" opacity="0.76"/><circle cx="465.6" cy="212.3" r="1.2" fill="#d03090" opacity="0.97"/><circle cx="578.0" cy="224.4" r="0.8" fill="#ff50b0" opacity="0.81"/><circle cx="334.6" cy="262.9" r="1.3" fill="#e040a0" opacity="0.99"/><circle cx="513.4" cy="168.1" r="1.1" fill="#d03090" opacity="0.81"/><circle cx="579.2" cy="106.1" r="1.4" fill="#ff50b0" opacity="0.79"/><circle cx="297.4" cy="264.7" r="1.2" fill="#ff50b0" opacity="0.76"/><circle cx="538.2" cy="248.0" r="1.1" fill="#ff50b0" opacity="0.89"/><circle cx="302.0" cy="251.2" r="0.9" fill="#ff50b0" opacity="0.89"/><circle cx="475.5" cy="212.2" r="1.4" fill="#ff50b0" opacity="0.98"/><circle cx="557.9" cy="168.1" r="1.0" fill="#e040a0" opacity="0.74"/>
<ellipse cx="346.5" cy="95.4" rx="1.4" ry="1.2" fill="#38c070" opacity="0.70"/><ellipse cx="346.9" cy="97.8" rx="1.1" ry="1.3" fill="#40d050" opacity="0.79"/><ellipse cx="348.1" cy="93.8" rx="1.4" ry="0.9" fill="#40d050" opacity="0.86"/><ellipse cx="364.5" cy="97.4" rx="1.2" ry="0.7" fill="#38c070" opacity="0.98"/><ellipse cx="344.4" cy="98.3" rx="1.7" ry="0.7" fill="#38c070" opacity="0.77"/><ellipse cx="376.6" cy="99.8" rx="1.0" ry="0.9" fill="#40d050" opacity="0.91"/><ellipse cx="356.5" cy="96.5" rx="1.3" ry="1.1" fill="#38c070" opacity="0.72"/><ellipse cx="364.4" cy="96.4" rx="1.6" ry="0.6" fill="#38c070" opacity="0.81"/><ellipse cx="350.1" cy="96.2" rx="1.6" ry="0.7" fill="#50e060" opacity="0.73"/><ellipse cx="358.4" cy="93.8" rx="1.3" ry="1.3" fill="#40d050" opacity="0.82"/><ellipse cx="376.1" cy="95.8" rx="1.6" ry="1.0" fill="#40d050" opacity="0.86"/><ellipse cx="352.4" cy="93.3" rx="1.6" ry="1.2" fill="#38c070" opacity="0.95"/><ellipse cx="351.4" cy="96.4" rx="1.5" ry="1.0" fill="#38c070" opacity="0.74"/><ellipse cx="377.0" cy="97.4" rx="1.4" ry="0.8" fill="#50e060" opacity="0.85"/><ellipse cx="347.0" cy="102.6" rx="2.0" ry="0.7" fill="#38c070" opacity="0.87"/><ellipse cx="344.2" cy="97.2" rx="1.2" ry="0.8" fill="#40d050" opacity="0.94"/>
<ellipse cx="471.8" cy="70.0" rx="1.5" ry="0.8" fill="#38c070" opacity="0.97"/><ellipse cx="476.6" cy="75.0" rx="1.8" ry="0.8" fill="#50e060" opacity="0.92"/><ellipse cx="470.2" cy="77.4" rx="1.2" ry="0.7" fill="#50e060" opacity="0.80"/><ellipse cx="469.5" cy="70.3" rx="1.4" ry="1.2" fill="#40d050" opacity="0.86"/><ellipse cx="476.9" cy="77.3" rx="1.6" ry="1.1" fill="#38c070" opacity="0.82"/><ellipse cx="476.3" cy="78.1" rx="1.9" ry="0.9" fill="#50e060" opacity="0.98"/>
<ellipse cx="477.6" cy="54.8" rx="1.4" ry="0.8" fill="#38c070" opacity="0.78"/><ellipse cx="480.0" cy="55.3" rx="1.0" ry="1.2" fill="#50e060" opacity="0.89"/><ellipse cx="479.6" cy="54.4" rx="1.6" ry="1.3" fill="#40d050" opacity="0.84"/><ellipse cx="479.3" cy="57.3" rx="1.0" ry="1.0" fill="#50e060" opacity="1.00"/><ellipse cx="484.5" cy="55.7" rx="1.8" ry="1.1" fill="#40d050" opacity="1.00"/>
<ellipse cx="491.7" cy="111.2" rx="1.5" ry="1.1" fill="#38c070" opacity="0.82"/><ellipse cx="508.8" cy="117.7" rx="1.5" ry="1.2" fill="#38c070" opacity="0.68"/><ellipse cx="510.3" cy="109.5" rx="1.5" ry="1.1" fill="#50e060" opacity="0.83"/><ellipse cx="497.1" cy="106.9" rx="1.0" ry="1.0" fill="#38c070" opacity="0.76"/><ellipse cx="496.5" cy="113.8" rx="1.7" ry="0.8" fill="#40d050" opacity="0.75"/><ellipse cx="504.6" cy="115.6" rx="1.2" ry="0.6" fill="#50e060" opacity="0.89"/><ellipse cx="507.3" cy="106.3" rx="1.4" ry="1.3" fill="#50e060" opacity="0.68"/><ellipse cx="504.2" cy="105.7" rx="1.7" ry="1.0" fill="#38c070" opacity="0.91"/><ellipse cx="497.9" cy="113.3" rx="1.9" ry="0.6" fill="#40d050" opacity="0.93"/><ellipse cx="509.8" cy="120.2" rx="1.5" ry="1.3" fill="#40d050" opacity="0.93"/><ellipse cx="502.3" cy="116.5" rx="0.9" ry="0.7" fill="#38c070" opacity="0.76"/><ellipse cx="504.8" cy="120.7" rx="0.9" ry="0.7" fill="#50e060" opacity="0.85"/>
<ellipse cx="419.9" cy="142.2" rx="0.9" ry="1.2" fill="#38c070" opacity="0.97"/><ellipse cx="415.3" cy="158.0" rx="1.2" ry="1.2" fill="#38c070" opacity="0.95"/><ellipse cx="422.4" cy="146.0" rx="1.6" ry="0.8" fill="#40d050" opacity="0.68"/><ellipse cx="419.6" cy="147.8" rx="1.6" ry="0.8" fill="#40d050" opacity="0.80"/><ellipse cx="419.8" cy="145.0" rx="1.1" ry="0.9" fill="#40d050" opacity="0.92"/><ellipse cx="421.2" cy="145.1" rx="1.5" ry="0.7" fill="#38c070" opacity="0.83"/><ellipse cx="414.6" cy="165.4" rx="1.4" ry="0.9" fill="#50e060" opacity="0.77"/><ellipse cx="417.5" cy="147.4" rx="1.7" ry="0.9" fill="#40d050" opacity="0.66"/><ellipse cx="417.5" cy="154.5" rx="1.6" ry="1.0" fill="#40d050" opacity="0.82"/><ellipse cx="419.8" cy="148.6" rx="1.3" ry="1.1" fill="#40d050" opacity="0.90"/>
<ellipse cx="446.4" cy="179.7" rx="0.8" ry="0.6" fill="#50e060" opacity="0.85"/><ellipse cx="443.6" cy="181.8" rx="1.1" ry="0.7" fill="#40d050" opacity="0.89"/><ellipse cx="457.2" cy="180.1" rx="1.0" ry="0.8" fill="#38c070" opacity="0.78"/><ellipse cx="445.8" cy="192.2" rx="0.9" ry="0.6" fill="#50e060" opacity="0.71"/><ellipse cx="448.2" cy="183.1" rx="1.5" ry="0.6" fill="#38c070" opacity="0.72"/><ellipse cx="448.1" cy="180.8" rx="1.8" ry="0.7" fill="#50e060" opacity="0.76"/><ellipse cx="455.0" cy="179.5" rx="1.0" ry="0.8" fill="#50e060" opacity="0.67"/><ellipse cx="458.4" cy="187.3" rx="1.7" ry="1.0" fill="#50e060" opacity="0.84"/><ellipse cx="450.8" cy="191.8" rx="2.0" ry="1.2" fill="#40d050" opacity="0.66"/><ellipse cx="443.2" cy="179.5" rx="1.9" ry="1.1" fill="#38c070" opacity="0.91"/><ellipse cx="453.6" cy="178.4" rx="1.9" ry="0.8" fill="#38c070" opacity="0.84"/><ellipse cx="450.8" cy="186.4" rx="1.9" ry="1.2" fill="#50e060" opacity="0.86"/><ellipse cx="447.0" cy="192.7" rx="1.7" ry="1.1" fill="#50e060" opacity="0.87"/><ellipse cx="454.6" cy="184.8" rx="1.8" ry="0.7" fill="#50e060" opacity="0.92"/><ellipse cx="456.9" cy="192.3" rx="1.3" ry="1.3" fill="#38c070" opacity="0.69"/><ellipse cx="449.0" cy="186.9" rx="1.7" ry="0.9" fill="#50e060" opacity="0.89"/><ellipse cx="451.5" cy="190.7" rx="1.1" ry="1.3" fill="#50e060" opacity="0.94"/><ellipse cx="457.1" cy="180.1" rx="1.9" ry="1.3" fill="#50e060" opacity="0.82"/>
<ellipse cx="385.6" cy="235.5" rx="1.5" ry="1.1" fill="#50e060" opacity="0.94"/><ellipse cx="388.3" cy="235.6" rx="0.9" ry="1.0" fill="#38c070" opacity="0.76"/><ellipse cx="383.2" cy="228.7" rx="1.2" ry="0.8" fill="#50e060" opacity="0.85"/><ellipse cx="389.7" cy="234.4" rx="0.9" ry="0.9" fill="#50e060" opacity="0.81"/><ellipse cx="389.6" cy="233.1" rx="1.9" ry="0.7" fill="#50e060" opacity="0.67"/>
<ellipse cx="428.8" cy="240.3" rx="1.5" ry="1.0" fill="#40d050" opacity="0.95"/><ellipse cx="431.8" cy="240.6" rx="1.7" ry="0.7" fill="#50e060" opacity="0.67"/><ellipse cx="429.8" cy="242.2" rx="1.0" ry="0.7" fill="#40d050" opacity="0.67"/><ellipse cx="424.9" cy="237.2" rx="0.9" ry="0.7" fill="#40d050" opacity="0.81"/><ellipse cx="423.7" cy="237.0" rx="1.8" ry="0.7" fill="#40d050" opacity="0.79"/><ellipse cx="431.2" cy="234.5" rx="1.1" ry="1.2" fill="#50e060" opacity="0.93"/>
<ellipse cx="517.5" cy="99.9" rx="1.4" ry="1.2" fill="#50e060" opacity="0.84"/><ellipse cx="521.3" cy="98.4" rx="1.7" ry="0.8" fill="#38c070" opacity="0.83"/><ellipse cx="518.4" cy="97.7" rx="1.3" ry="1.1" fill="#38c070" opacity="0.66"/>
<ellipse cx="552.8" cy="173.2" rx="1.1" ry="0.7" fill="#38c070" opacity="0.99"/><ellipse cx="555.9" cy="168.6" rx="1.9" ry="1.1" fill="#50e060" opacity="0.92"/><ellipse cx="553.1" cy="173.2" rx="1.8" ry="0.8" fill="#50e060" opacity="0.68"/><ellipse cx="551.7" cy="171.6" rx="1.2" ry="1.2" fill="#40d050" opacity="0.99"/>
<ellipse cx="296.4" cy="130.8" rx="1.9" ry="0.9" fill="#50e060" opacity="0.97"/><ellipse cx="296.0" cy="127.6" rx="0.9" ry="0.9" fill="#50e060" opacity="0.88"/><ellipse cx="300.1" cy="133.4" rx="1.0" ry="1.2" fill="#40d050" opacity="0.91"/>
<ellipse cx="364.8" cy="115.9" rx="0.8" ry="0.9" fill="#38c070" opacity="0.78"/><ellipse cx="362.2" cy="118.0" rx="1.5" ry="1.1" fill="#50e060" opacity="0.84"/><ellipse cx="363.0" cy="113.5" rx="1.8" ry="1.2" fill="#38c070" opacity="0.77"/>
<circle cx="436.4" cy="244.8" r="1.0" fill="#30b070" opacity="0.71"/><circle cx="487.0" cy="213.4" r="0.9" fill="#40c060" opacity="0.42"/><circle cx="524.0" cy="227.1" r="0.7" fill="#40c060" opacity="0.42"/><circle cx="505.2" cy="70.7" r="0.5" fill="#40c060" opacity="0.40"/><circle cx="359.8" cy="191.8" r="0.8" fill="#40c060" opacity="0.40"/><circle cx="365.3" cy="213.9" r="0.8" fill="#30b070" opacity="0.79"/><circle cx="560.6" cy="235.6" r="0.5" fill="#30b070" opacity="0.62"/><circle cx="390.0" cy="61.3" r="0.7" fill="#40c060" opacity="0.63"/><circle cx="561.8" cy="176.9" r="0.6" fill="#40c060" opacity="0.66"/><circle cx="506.1" cy="117.3" r="1.0" fill="#30b070" opacity="0.70"/><circle cx="359.4" cy="204.8" r="0.7" fill="#40c060" opacity="0.43"/><circle cx="321.5" cy="75.7" r="0.7" fill="#40c060" opacity="0.52"/><circle cx="357.4" cy="195.4" r="1.0" fill="#40c060" opacity="0.45"/><circle cx="377.3" cy="140.3" r="1.0" fill="#30b070" opacity="0.75"/><circle cx="447.2" cy="213.0" r="0.9" fill="#40c060" opacity="0.73"/><circle cx="340.1" cy="60.4" r="0.6" fill="#40c060" opacity="0.74"/><circle cx="512.2" cy="89.3" r="1.0" fill="#40c060" opacity="0.55"/><circle cx="569.2" cy="156.9" r="0.7" fill="#40c060" opacity="0.66"/><circle cx="300.7" cy="145.8" r="1.0" fill="#30b070" opacity="0.58"/><circle cx="413.3" cy="104.1" r="0.7" fill="#40c060" opacity="0.76"/><circle cx="304.9" cy="245.1" r="0.6" fill="#40c060" opacity="0.67"/><circle cx="312.9" cy="139.8" r="0.9" fill="#30b070" opacity="0.62"/><circle cx="432.1" cy="228.3" r="0.5" fill="#30b070" opacity="0.47"/><circle cx="361.0" cy="229.5" r="0.7" fill="#40c060" opacity="0.59"/><circle cx="327.5" cy="187.5" r="0.9" fill="#40c060" opacity="0.50"/><circle cx="508.0" cy="130.8" r="0.8" fill="#30b070" opacity="0.43"/><circle cx="429.8" cy="145.0" r="0.6" fill="#30b070" opacity="0.59"/><circle cx="385.9" cy="263.8" r="0.9" fill="#30b070" opacity="0.67"/><circle cx="350.5" cy="83.6" r="0.6" fill="#30b070" opacity="0.75"/><circle cx="468.4" cy="156.6" r="0.8" fill="#30b070" opacity="0.55"/><circle cx="508.8" cy="161.9" r="0.9" fill="#40c060" opacity="0.48"/><circle cx="450.3" cy="179.4" r="0.9" fill="#40c060" opacity="0.41"/><circle cx="456.6" cy="260.9" r="0.7" fill="#30b070" opacity="0.79"/><circle cx="519.6" cy="238.7" r="0.6" fill="#30b070" opacity="0.55"/><circle cx="319.1" cy="140.0" r="0.9" fill="#30b070" opacity="0.56"/><circle cx="391.6" cy="73.5" r="0.6" fill="#30b070" opacity="0.67"/><circle cx="443.1" cy="142.1" r="1.0" fill="#30b070" opacity="0.60"/><circle cx="367.0" cy="54.0" r="0.7" fill="#40c060" opacity="0.50"/><circle cx="462.2" cy="153.5" r="0.8" fill="#30b070" opacity="0.45"/><circle cx="504.6" cy="96.3" r="0.7" fill="#30b070" opacity="0.40"/><circle cx="295.1" cy="168.5" r="0.6" fill="#40c060" opacity="0.60"/><circle cx="452.6" cy="82.2" r="1.0" fill="#30b070" opacity="0.58"/><circle cx="401.3" cy="215.2" r="0.8" fill="#30b070" opacity="0.79"/><circle cx="393.5" cy="144.6" r="0.9" fill="#40c060" opacity="0.73"/><circle cx="470.3" cy="163.9" r="1.0" fill="#30b070" opacity="0.43"/><circle cx="389.2" cy="121.3" r="1.0" fill="#40c060" opacity="0.72"/><circle cx="451.0" cy="181.1" r="0.7" fill="#30b070" opacity="0.71"/><circle cx="511.0" cy="220.1" r="0.7" fill="#30b070" opacity="0.70"/><circle cx="416.0" cy="203.2" r="1.0" fill="#30b070" opacity="0.76"/><circle cx="432.8" cy="137.3" r="0.5" fill="#40c060" opacity="0.60"/>
</g>
<path d="M393 81.5 L407.5 66 L413 74.5 Z" fill="#fff"/>
<path d="M400.15 77.1 L406.68 70.12 L409.15 73.95 Z" fill="#e89a20"/>
<path d="M437.6 123.6 L451.6 108 L457.1 117 Z" fill="#fff"/>
<path d="M444.57 119.25 L450.87 112.23 L453.34 116.28 Z" fill="#e89a20"/>
<path d="M463.1 178.6 L476.6 163.6 L482 172.6 Z" fill="#fff"/>
<path d="M469.87 174.47 L475.94 167.72 L478.37 171.78 Z" fill="#e89a20"/>
<line x1="558" y1="257" x2="575" y2="257" stroke="#bbb" stroke-width="1" />
<text x="567" y="263" font-size="4.5" font-weight="normal" text-anchor="middle" fill="#fff" >10 µm</text>
<text x="307.5" y="225.8" font-size="12.6" font-weight="bold" text-anchor="start" fill="#e05aa8" font-style="italic"  stroke="#e05aa8" stroke-width="0.3">Abhd6</text>
<text x="307.5" y="241.8" font-size="12.6" font-weight="bold" text-anchor="start" fill="#22b868" font-style="italic"  stroke="#22b868" stroke-width="0.3">Slc32a1</text>
<text x="307.5" y="257.8" font-size="12.6" font-weight="bold" text-anchor="start" fill="#4a7cc8"  stroke="#4a7cc8" stroke-width="0.3">DAPI</text>
<text x="688" y="20.5" font-size="22" font-weight="bold" text-anchor="start" fill="#111"  stroke="#111" stroke-width="0.3">b</text>
<text x="824.5" y="18.75" font-size="19" font-weight="bold" text-anchor="middle" fill="#111"  stroke="#111" stroke-width="0.3">Viral Manipulation</text>
<text x="624.8" y="91.9" font-size="15" font-weight="bold" text-anchor="start" fill="#1ea060"  stroke="#1ea060" stroke-width="0.3">AAV-hSyn-GFP</text>
<text x="624.8" y="111.8" font-size="15" font-weight="bold" text-anchor="start" fill="#f0a020"  stroke="#f0a020" stroke-width="0.3">AAV-hSyn-Cre</text>
<path d="M772.2 141.3 C768 132 760 129 750 130 C735 131 715 136 703 149 C694 160 694 180 698 196 C703 213 712 226 725 234 C740 241 757 236 772.2 215.5 C787 236 803 242 818 236 C833 229 845 212 849 195 C852 178 850 160 843 150 C835 139 815 131 795 130 C785 129 776 132 772.2 141.3 Z" fill="#dba79d" stroke="#c98f86" stroke-width="1"/>
<path d="M719 196 C719 172 733 158 750 155.5 C761 155 767 163 768 172 L769 214 C760 226 745 230 735 226 C726 220 720 208 719 196 Z" fill="#e4bbb2"/>
<path d="M718.5 200 C718.5 174 733 158 750 155 C760 154.5 766 162 767.5 172" fill="none" stroke="#f3ddd6" stroke-width="4.5"/>
<ellipse cx="752" cy="208" rx="14" ry="10.5" fill="#ebc8c1"/>
<ellipse cx="750" cy="205" rx="7" ry="5" fill="#f2d8d2"/>
<path d="M754 165 C758 170 761 176 763 182" stroke="#c84858" stroke-width="1.1" fill="none"/>
<path d="M825.4 196 C825.4 172 811.4 158 794.4 155.5 C783.4 155 777.4 163 776.4 172 L775.4 214 C784.4 226 799.4 230 809.4 226 C818.4 220 824.4 208 825.4 196 Z" fill="#e4bbb2"/>
<path d="M825.9 200 C825.9 174 811.4 158 794.4 155 C784.4 154.5 778.4 162 776.9 172" fill="none" stroke="#f3ddd6" stroke-width="4.5"/>
<ellipse cx="792.4" cy="208" rx="14" ry="10.5" fill="#ebc8c1"/>
<ellipse cx="794.4" cy="205" rx="7" ry="5" fill="#f2d8d2"/>
<path d="M790.4 165 C786.4 170 783.4 176 781.4 182" stroke="#c84858" stroke-width="1.1" fill="none"/>
<line x1="750.4" y1="160" x2="750.4" y2="194.5" stroke="#444" stroke-width="0.8" />
<rect x="746.6" y="80.4" width="7.6" height="74" fill="#f4f4f0" stroke="#999" stroke-width="0.8"/>
<rect x="746.6" y="152.5" width="7.6" height="7.5" fill="#555"/>
<rect x="745.4" y="78.5" width="10" height="3.5" rx="1" fill="#eee" stroke="#999" stroke-width="0.7"/>
<line x1="750.4" y1="68" x2="750.4" y2="79" stroke="#999" stroke-width="1.5" />
<rect x="747.4" y="66.5" width="6" height="2.5" rx="1" fill="#ccc" stroke="#888" stroke-width="0.6"/>
<line x1="794.1" y1="160" x2="794.1" y2="194.5" stroke="#444" stroke-width="0.8" />
<rect x="790.3" y="80.4" width="7.6" height="74" fill="#f4f4f0" stroke="#999" stroke-width="0.8"/>
<rect x="790.3" y="152.5" width="7.6" height="7.5" fill="#555"/>
<rect x="789.1" y="78.5" width="10" height="3.5" rx="1" fill="#eee" stroke="#999" stroke-width="0.7"/>
<line x1="794.1" y1="68" x2="794.1" y2="79" stroke="#999" stroke-width="1.5" />
<rect x="791.1" y="66.5" width="6" height="2.5" rx="1" fill="#ccc" stroke="#888" stroke-width="0.6"/>
<rect x="858.4" y="72.4" width="118.2" height="48" fill="#fff" stroke="#111" stroke-width="2.6"/>
<circle cx="870.8" cy="86.6" r="3" fill="#3dae49" stroke="#000" stroke-width="3"/>
<circle cx="870.8" cy="108.5" r="3" fill="#f0a23a" stroke="#000" stroke-width="3"/>
<text x="884.7" y="92.2" font-size="12.6" font-weight="bold" fill="#111" stroke="#111" stroke-width="0.3">ABHD6<tspan font-size="9.3" dy="-5.3" dx="0.3">NAc GFP</tspan></text>
<text x="884.7" y="114.1" font-size="12.6" font-weight="bold" fill="#111" stroke="#111" stroke-width="0.3">ABHD6<tspan font-size="9.3" dy="-5.3" dx="0.3">NAc KO</tspan></text>
<path d="M945 172 C953 168 962 161 972 160.5 C983 160 987 168 982 174 C979 178 974 179 970 178.5" fill="none" stroke="#c58878" stroke-width="2.6" stroke-linecap="round"/>
<path d="M942 183 L951 184.5 L952 187.5 L941 187.5 Z" fill="#c58878"/>
<path d="M890 195 L896 195 L896 207 L900 210 L884 210 L889 206 Z" fill="#c58878"/>
<path d="M922 203 L929 203 L929 215 L934 219 L918 219 L922 215 Z" fill="#c58878"/>
<path d="M869 165 C871 160 875 157 878 155 L889 139 L893 151 C899 150 913 151 925 153 C937 156 945 163 946.5 173 C947.5 183 944 192 939 197 C934 203 929 206 924 206.5 C917 206 910 202 903 199.5 C896 198 891 196 888 191 C884 184 879 177 874.5 172.5 C871 170 869 168 869 165 Z" fill="#3e2c29"/>
<path d="M880 154 L888 142 L890 151 Z" fill="#a8706a" opacity="0.7"/>
<ellipse cx="914" cy="153" rx="9.8" ry="12.2" fill="#c58878"/>
<ellipse cx="912.5" cy="155" rx="5.5" ry="8" fill="#d49a8a"/>
<ellipse cx="892.8" cy="160.7" rx="2.6" ry="2" fill="#150c0b"/>
<circle cx="871.2" cy="164" r="2.2" fill="#c8808a"/>
<text x="880.5" y="239.9" font-size="14.7" font-weight="bold" font-style="italic" fill="#111" stroke="#111" stroke-width="0.3">Abhd6<tspan font-size="9.5" dy="-5" font-style="italic">lox/lox</tspan></text>
<text x="13" y="318" font-size="22" font-weight="bold" text-anchor="start" fill="#111"  stroke="#111" stroke-width="0.3">c</text>
<text x="320.15" y="321" font-size="19" font-weight="bold" text-anchor="middle" fill="#111"  stroke="#111" stroke-width="0.3">NAc Viral Expression</text>
<path d="M11 358.6 C14 350 28 346 46 346.3 C75 347 110 360 132 385 C150 405 156 430 154 450 C152 480 140 505 124 522 C108 540 85 553 60 555.7 C38 557 20 550 13.5 535 C11 528 11 522 11 519.4" fill="none" stroke="#111" stroke-width="3.2"/>
<path d="M11 358.6 V519.4" stroke="#111" stroke-width="3.2" stroke-dasharray="5 2.2"/>
<path d="M37.2 477 C35 472 35.3 462 35.5 452 C35.8 445 37 440 40 435 C45 424 52 414 57 412.6 C68 412 82 415 90.3 421.4 C97 427 100 440 100.2 453.3 C100 462 95 468 93 475 C92 479 91.5 482 91.4 482" fill="none" stroke="#222" stroke-width="1.3"/>
<path d="M37.4 453.3 C42 440 50 430 59.5 428 C67 426 77 426 82 429 C91 433 96 440 96.9 453.3 C97 460 93 464 91 472 C90 477 90.3 482 90.3 482" fill="none" stroke="#222" stroke-width="1.3"/>
<path d="M37.4 453.3 L51 421" fill="none" stroke="#222" stroke-width="1"/>
<path d="M37.2 478.4 C38 486 36 496 36.3 506 C38 514 48 518.8 58 518.8 C67 518.5 73 513 72.7 506 C72 497 66 490 58 486 C50 482 42 481 37.2 478.4 Z" fill="none" stroke="#222" stroke-width="1.3" stroke-dasharray="3.6 2.2"/>
<ellipse cx="56.5" cy="498.7" rx="7.4" ry="5.9" transform="rotate(42 56.5 498.7)" fill="none" stroke="#111" stroke-width="2.1"/>
<rect x="19.8" y="479.7" width="95.8" height="65" fill="none" stroke="#333" stroke-width="2"/>
<line x1="115.6" y1="479.7" x2="210.3" y2="342.1" stroke="#222" stroke-width="1.8" />
<line x1="115.6" y1="544.7" x2="210.3" y2="548" stroke="#222" stroke-width="1.8" />
<g clip-path="url(#cC)">
<rect x="210.5" y="342" width="276.3" height="204.8" fill="#c8261a"/>
<rect x="210.5" y="342" width="276.3" height="204.8" filter="url(#tC2)"/>
<rect x="210.5" y="342" width="276.3" height="204.8" filter="url(#tC1)"/>
<ellipse cx="350" cy="425" rx="80" ry="100" fill="#7a1616" opacity="0.55" filter="url(#bl14)"/>
<ellipse cx="300" cy="520" rx="60" ry="30" fill="#e0402a" opacity="0.4" filter="url(#bl14)"/>
<path d="M355 342 L372 342 L368 360 L360 362 Z" fill="#5a2a6a" opacity="0.7" filter="url(#bl2)"/>
<path d="M226 410 L235 395 L240 398 L230 420 Z" fill="#402060" opacity="0.8" filter="url(#bl2)"/>
<ellipse cx="222" cy="462" rx="2.5" ry="7" fill="#402060" opacity="0.85" filter="url(#bl2)"/>
<ellipse cx="416" cy="482" rx="2" ry="8" fill="#502060" opacity="0.6" filter="url(#bl2)"/>
<ellipse cx="342.6" cy="378" rx="32" ry="21" transform="rotate(-71 342.6 378)" fill="#a01818" opacity="0.85"/>
<circle cx="377.5" cy="520.4" r="0.7" fill="#a0d060" opacity="0.64"/><circle cx="331.3" cy="492.9" r="0.4" fill="#a0d060" opacity="0.45"/><circle cx="417.1" cy="383.5" r="0.7" fill="#c8e070" opacity="0.59"/><circle cx="326.3" cy="374.9" r="0.5" fill="#e0e060" opacity="0.86"/><circle cx="386.0" cy="378.6" r="0.4" fill="#c8e070" opacity="0.94"/><circle cx="365.0" cy="343.8" r="0.6" fill="#c8e070" opacity="0.93"/><circle cx="401.0" cy="414.7" r="0.7" fill="#a0d060" opacity="0.50"/><circle cx="317.6" cy="404.7" r="0.6" fill="#e0e060" opacity="0.81"/><circle cx="306.5" cy="470.9" r="0.7" fill="#e0e060" opacity="0.62"/><circle cx="292.1" cy="415.9" r="0.5" fill="#a0d060" opacity="0.68"/><circle cx="342.7" cy="438.7" r="0.5" fill="#a0d060" opacity="0.69"/><circle cx="353.7" cy="450.5" r="0.7" fill="#e0e060" opacity="0.84"/><circle cx="326.7" cy="481.5" r="0.5" fill="#a0d060" opacity="0.94"/><circle cx="399.7" cy="406.5" r="0.7" fill="#f0f080" opacity="0.77"/><circle cx="390.1" cy="486.6" r="0.5" fill="#a0d060" opacity="0.73"/><circle cx="336.0" cy="411.5" r="0.6" fill="#e0e060" opacity="0.57"/><circle cx="311.6" cy="423.2" r="0.7" fill="#f0f080" opacity="0.72"/><circle cx="315.6" cy="400.5" r="0.7" fill="#f0f080" opacity="0.86"/><circle cx="327.8" cy="370.1" r="0.7" fill="#a0d060" opacity="0.93"/><circle cx="371.5" cy="369.9" r="0.5" fill="#a0d060" opacity="0.94"/><circle cx="349.8" cy="437.0" r="0.7" fill="#a0d060" opacity="0.91"/><circle cx="350.3" cy="424.3" r="0.5" fill="#f0f080" opacity="0.59"/><circle cx="346.9" cy="366.1" r="0.4" fill="#a0d060" opacity="0.47"/><circle cx="361.7" cy="390.2" r="0.4" fill="#e0e060" opacity="0.58"/><circle cx="370.2" cy="436.0" r="0.4" fill="#e0e060" opacity="0.51"/><circle cx="383.4" cy="502.9" r="0.5" fill="#e0e060" opacity="0.68"/><circle cx="331.8" cy="510.7" r="0.5" fill="#f0f080" opacity="0.83"/><circle cx="365.6" cy="470.4" r="0.4" fill="#f0f080" opacity="0.69"/><circle cx="359.7" cy="440.5" r="0.5" fill="#c8e070" opacity="0.72"/><circle cx="321.3" cy="427.0" r="0.6" fill="#a0d060" opacity="0.47"/><circle cx="370.7" cy="424.0" r="0.4" fill="#c8e070" opacity="0.50"/><circle cx="329.5" cy="356.3" r="0.6" fill="#e0e060" opacity="0.89"/><circle cx="308.9" cy="451.2" r="0.6" fill="#f0f080" opacity="0.52"/><circle cx="277.2" cy="474.3" r="0.6" fill="#e0e060" opacity="0.68"/><circle cx="390.6" cy="412.9" r="0.7" fill="#a0d060" opacity="0.63"/><circle cx="294.1" cy="354.5" r="0.4" fill="#c8e070" opacity="0.47"/><circle cx="372.3" cy="426.9" r="0.4" fill="#e0e060" opacity="0.78"/><circle cx="345.6" cy="451.3" r="0.7" fill="#c8e070" opacity="0.79"/><circle cx="395.9" cy="404.6" r="0.6" fill="#e0e060" opacity="0.69"/><circle cx="291.1" cy="381.8" r="0.6" fill="#c8e070" opacity="0.76"/><circle cx="294.8" cy="413.6" r="0.4" fill="#a0d060" opacity="0.57"/><circle cx="338.7" cy="535.1" r="0.5" fill="#e0e060" opacity="0.79"/><circle cx="373.2" cy="429.4" r="0.6" fill="#a0d060" opacity="0.64"/><circle cx="301.9" cy="364.9" r="0.7" fill="#e0e060" opacity="0.58"/><circle cx="333.7" cy="368.3" r="0.4" fill="#a0d060" opacity="0.49"/><circle cx="338.3" cy="456.2" r="0.5" fill="#e0e060" opacity="0.57"/><circle cx="329.6" cy="494.3" r="0.6" fill="#f0f080" opacity="0.83"/><circle cx="364.3" cy="429.6" r="0.6" fill="#e0e060" opacity="0.80"/><circle cx="285.2" cy="355.1" r="0.5" fill="#f0f080" opacity="0.61"/><circle cx="409.1" cy="428.3" r="0.4" fill="#e0e060" opacity="0.66"/><circle cx="326.5" cy="407.4" r="0.6" fill="#c8e070" opacity="0.50"/><circle cx="356.4" cy="375.9" r="0.7" fill="#a0d060" opacity="0.67"/><circle cx="338.4" cy="408.0" r="0.5" fill="#c8e070" opacity="0.67"/><circle cx="331.9" cy="384.7" r="0.5" fill="#c8e070" opacity="0.71"/><circle cx="324.2" cy="370.3" r="0.4" fill="#a0d060" opacity="0.53"/><circle cx="404.5" cy="416.5" r="0.7" fill="#c8e070" opacity="0.46"/><circle cx="382.7" cy="462.8" r="0.6" fill="#a0d060" opacity="0.80"/><circle cx="428.4" cy="452.4" r="0.7" fill="#c8e070" opacity="0.63"/><circle cx="312.6" cy="357.4" r="0.6" fill="#f0f080" opacity="0.88"/><circle cx="348.0" cy="360.2" r="0.7" fill="#f0f080" opacity="0.72"/><circle cx="332.0" cy="342.6" r="0.7" fill="#c8e070" opacity="0.71"/><circle cx="275.6" cy="423.8" r="0.6" fill="#e0e060" opacity="0.76"/><circle cx="375.9" cy="450.1" r="0.5" fill="#c8e070" opacity="0.71"/><circle cx="369.4" cy="378.4" r="0.6" fill="#e0e060" opacity="0.80"/><circle cx="346.9" cy="362.0" r="0.4" fill="#c8e070" opacity="0.62"/><circle cx="340.5" cy="405.9" r="0.6" fill="#c8e070" opacity="0.91"/><circle cx="280.4" cy="362.4" r="0.5" fill="#c8e070" opacity="0.54"/><circle cx="428.9" cy="483.0" r="0.7" fill="#a0d060" opacity="0.83"/><circle cx="296.8" cy="410.0" r="0.6" fill="#a0d060" opacity="0.83"/><circle cx="360.5" cy="427.6" r="0.7" fill="#a0d060" opacity="0.57"/><circle cx="342.5" cy="367.5" r="0.5" fill="#c8e070" opacity="0.46"/><circle cx="306.7" cy="432.7" r="0.4" fill="#e0e060" opacity="0.56"/><circle cx="384.3" cy="442.5" r="0.7" fill="#a0d060" opacity="0.70"/><circle cx="372.0" cy="458.3" r="0.7" fill="#a0d060" opacity="0.66"/><circle cx="300.6" cy="425.4" r="0.5" fill="#a0d060" opacity="0.45"/><circle cx="275.7" cy="478.1" r="0.7" fill="#a0d060" opacity="0.55"/><circle cx="368.6" cy="369.0" r="0.7" fill="#f0f080" opacity="0.47"/><circle cx="294.9" cy="426.9" r="0.5" fill="#f0f080" opacity="0.56"/><circle cx="361.2" cy="398.2" r="0.5" fill="#a0d060" opacity="0.63"/><circle cx="304.9" cy="454.6" r="0.6" fill="#e0e060" opacity="0.52"/><circle cx="347.6" cy="481.7" r="0.5" fill="#c8e070" opacity="0.70"/><circle cx="370.7" cy="499.0" r="0.4" fill="#c8e070" opacity="0.64"/><circle cx="323.5" cy="346.2" r="0.4" fill="#a0d060" opacity="0.51"/><circle cx="365.8" cy="459.7" r="0.5" fill="#a0d060" opacity="0.53"/><circle cx="393.0" cy="446.7" r="0.7" fill="#f0f080" opacity="0.64"/><circle cx="334.8" cy="432.3" r="0.6" fill="#e0e060" opacity="0.55"/><circle cx="342.8" cy="353.8" r="0.7" fill="#f0f080" opacity="0.64"/><circle cx="325.2" cy="366.4" r="0.6" fill="#a0d060" opacity="0.77"/><circle cx="356.6" cy="429.7" r="0.6" fill="#e0e060" opacity="0.81"/><circle cx="316.1" cy="445.9" r="0.7" fill="#e0e060" opacity="0.79"/><circle cx="310.7" cy="422.2" r="0.5" fill="#a0d060" opacity="0.45"/><circle cx="344.9" cy="372.8" r="0.5" fill="#f0f080" opacity="0.76"/><circle cx="375.9" cy="428.7" r="0.4" fill="#a0d060" opacity="0.52"/><circle cx="349.4" cy="478.1" r="0.7" fill="#f0f080" opacity="0.52"/><circle cx="309.7" cy="439.8" r="0.6" fill="#c8e070" opacity="0.78"/><circle cx="314.3" cy="363.3" r="0.7" fill="#f0f080" opacity="0.71"/><circle cx="348.6" cy="482.4" r="0.6" fill="#e0e060" opacity="0.51"/><circle cx="358.7" cy="376.1" r="0.4" fill="#f0f080" opacity="0.88"/><circle cx="273.8" cy="355.6" r="0.7" fill="#e0e060" opacity="0.90"/><circle cx="352.1" cy="362.6" r="0.5" fill="#c8e070" opacity="0.92"/><circle cx="319.5" cy="413.7" r="0.4" fill="#a0d060" opacity="0.83"/><circle cx="282.4" cy="448.4" r="0.5" fill="#a0d060" opacity="0.59"/><circle cx="344.9" cy="429.7" r="0.5" fill="#f0f080" opacity="0.82"/><circle cx="369.7" cy="368.6" r="0.5" fill="#e0e060" opacity="0.57"/><circle cx="404.7" cy="437.4" r="0.6" fill="#f0f080" opacity="0.80"/><circle cx="358.6" cy="452.0" r="0.5" fill="#e0e060" opacity="0.75"/><circle cx="371.4" cy="499.6" r="0.6" fill="#a0d060" opacity="0.72"/><circle cx="347.9" cy="434.2" r="0.6" fill="#c8e070" opacity="0.69"/><circle cx="377.9" cy="418.2" r="0.6" fill="#c8e070" opacity="0.91"/><circle cx="298.5" cy="388.7" r="0.5" fill="#f0f080" opacity="0.60"/><circle cx="392.9" cy="415.8" r="0.7" fill="#a0d060" opacity="0.81"/><circle cx="420.7" cy="447.1" r="0.4" fill="#a0d060" opacity="0.46"/><circle cx="438.1" cy="381.9" r="0.4" fill="#f0f080" opacity="0.72"/><circle cx="282.4" cy="418.0" r="0.5" fill="#c8e070" opacity="0.68"/><circle cx="334.8" cy="347.2" r="0.6" fill="#c8e070" opacity="0.88"/><circle cx="389.0" cy="429.8" r="0.6" fill="#f0f080" opacity="0.81"/><circle cx="373.7" cy="378.1" r="0.7" fill="#a0d060" opacity="0.82"/><circle cx="348.8" cy="414.8" r="0.7" fill="#f0f080" opacity="0.69"/><circle cx="370.2" cy="448.3" r="0.6" fill="#a0d060" opacity="0.94"/><circle cx="264.9" cy="437.1" r="0.7" fill="#e0e060" opacity="0.69"/><circle cx="276.4" cy="406.4" r="0.7" fill="#f0f080" opacity="0.84"/><circle cx="317.1" cy="476.2" r="0.7" fill="#e0e060" opacity="0.89"/><circle cx="337.5" cy="464.0" r="0.7" fill="#c8e070" opacity="0.87"/><circle cx="367.0" cy="356.4" r="0.4" fill="#a0d060" opacity="0.62"/><circle cx="363.4" cy="431.4" r="0.7" fill="#a0d060" opacity="0.51"/><circle cx="273.3" cy="405.9" r="0.5" fill="#f0f080" opacity="0.92"/><circle cx="314.5" cy="399.8" r="0.4" fill="#c8e070" opacity="0.68"/><circle cx="372.3" cy="509.8" r="0.7" fill="#a0d060" opacity="0.87"/><circle cx="358.5" cy="412.7" r="0.4" fill="#a0d060" opacity="0.79"/><circle cx="318.2" cy="380.6" r="0.4" fill="#a0d060" opacity="0.64"/><circle cx="318.0" cy="414.9" r="0.7" fill="#e0e060" opacity="0.50"/><circle cx="322.0" cy="423.3" r="0.4" fill="#f0f080" opacity="0.54"/><circle cx="390.1" cy="439.2" r="0.5" fill="#f0f080" opacity="0.57"/><circle cx="324.9" cy="395.0" r="0.5" fill="#f0f080" opacity="0.79"/><circle cx="362.4" cy="359.6" r="0.6" fill="#a0d060" opacity="0.74"/><circle cx="312.1" cy="486.7" r="0.4" fill="#c8e070" opacity="0.75"/><circle cx="323.7" cy="436.1" r="0.5" fill="#e0e060" opacity="0.73"/><circle cx="369.8" cy="471.8" r="0.7" fill="#f0f080" opacity="0.88"/><circle cx="369.8" cy="408.8" r="0.6" fill="#c8e070" opacity="0.76"/><circle cx="359.2" cy="381.3" r="0.5" fill="#f0f080" opacity="0.90"/><circle cx="373.2" cy="346.1" r="0.7" fill="#f0f080" opacity="0.64"/><circle cx="351.5" cy="376.7" r="0.7" fill="#c8e070" opacity="0.80"/><circle cx="388.3" cy="481.4" r="0.5" fill="#e0e060" opacity="0.94"/><circle cx="336.2" cy="436.9" r="0.7" fill="#c8e070" opacity="0.68"/><circle cx="404.9" cy="506.0" r="0.5" fill="#a0d060" opacity="0.54"/><circle cx="396.5" cy="409.3" r="0.5" fill="#c8e070" opacity="0.70"/><circle cx="379.0" cy="453.2" r="0.4" fill="#f0f080" opacity="0.94"/><circle cx="298.2" cy="450.6" r="0.4" fill="#f0f080" opacity="0.78"/><circle cx="340.9" cy="355.2" r="0.4" fill="#a0d060" opacity="0.66"/><circle cx="300.5" cy="428.4" r="0.4" fill="#c8e070" opacity="0.59"/><circle cx="280.0" cy="401.5" r="0.5" fill="#c8e070" opacity="0.92"/><circle cx="342.7" cy="403.5" r="0.4" fill="#a0d060" opacity="0.71"/><circle cx="365.8" cy="469.0" r="0.6" fill="#a0d060" opacity="0.79"/><circle cx="381.6" cy="445.2" r="0.6" fill="#c8e070" opacity="0.46"/><circle cx="348.9" cy="392.1" r="0.7" fill="#f0f080" opacity="0.67"/><circle cx="381.5" cy="434.7" r="0.4" fill="#c8e070" opacity="0.66"/><circle cx="411.0" cy="459.5" r="0.6" fill="#c8e070" opacity="0.84"/><circle cx="415.8" cy="430.1" r="0.5" fill="#f0f080" opacity="0.89"/><circle cx="391.4" cy="356.5" r="0.7" fill="#f0f080" opacity="0.79"/><circle cx="328.4" cy="394.9" r="0.6" fill="#c8e070" opacity="0.83"/><circle cx="390.5" cy="426.7" r="0.5" fill="#c8e070" opacity="0.73"/><circle cx="329.3" cy="404.3" r="0.5" fill="#c8e070" opacity="0.59"/><circle cx="401.1" cy="439.5" r="0.7" fill="#e0e060" opacity="0.61"/><circle cx="386.2" cy="493.4" r="0.7" fill="#c8e070" opacity="0.67"/><circle cx="296.4" cy="424.5" r="0.6" fill="#e0e060" opacity="0.74"/><circle cx="384.3" cy="518.2" r="0.6" fill="#c8e070" opacity="0.83"/><circle cx="386.3" cy="382.3" r="0.4" fill="#c8e070" opacity="0.87"/><circle cx="319.4" cy="394.5" r="0.6" fill="#f0f080" opacity="0.69"/><circle cx="362.0" cy="471.8" r="0.7" fill="#e0e060" opacity="0.49"/><circle cx="281.0" cy="413.2" r="0.4" fill="#a0d060" opacity="0.75"/><circle cx="319.2" cy="472.1" r="0.6" fill="#c8e070" opacity="0.74"/><circle cx="380.9" cy="479.9" r="0.4" fill="#e0e060" opacity="0.71"/><circle cx="350.4" cy="363.7" r="0.6" fill="#a0d060" opacity="0.90"/><circle cx="369.5" cy="440.9" r="0.6" fill="#a0d060" opacity="0.52"/><circle cx="347.4" cy="425.4" r="0.5" fill="#f0f080" opacity="0.92"/><circle cx="341.5" cy="369.5" r="0.7" fill="#a0d060" opacity="0.62"/><circle cx="396.4" cy="410.4" r="0.4" fill="#f0f080" opacity="0.95"/><circle cx="350.2" cy="439.6" r="0.6" fill="#e0e060" opacity="0.61"/><circle cx="365.5" cy="446.4" r="0.6" fill="#e0e060" opacity="0.73"/><circle cx="408.5" cy="361.1" r="0.6" fill="#e0e060" opacity="0.57"/><circle cx="344.2" cy="347.1" r="0.4" fill="#f0f080" opacity="0.83"/><circle cx="388.4" cy="435.1" r="0.7" fill="#f0f080" opacity="0.73"/><circle cx="366.8" cy="388.7" r="0.7" fill="#c8e070" opacity="0.51"/><circle cx="367.3" cy="465.8" r="0.7" fill="#f0f080" opacity="0.69"/><circle cx="384.9" cy="394.0" r="0.4" fill="#f0f080" opacity="0.67"/><circle cx="291.7" cy="391.4" r="0.7" fill="#c8e070" opacity="0.92"/><circle cx="326.4" cy="353.1" r="0.6" fill="#c8e070" opacity="0.88"/><circle cx="400.9" cy="388.3" r="0.5" fill="#c8e070" opacity="0.83"/><circle cx="338.4" cy="348.2" r="0.4" fill="#a0d060" opacity="0.51"/><circle cx="364.7" cy="406.0" r="0.7" fill="#e0e060" opacity="0.85"/><circle cx="360.2" cy="460.5" r="0.7" fill="#a0d060" opacity="0.56"/><circle cx="337.9" cy="392.4" r="0.5" fill="#e0e060" opacity="0.66"/><circle cx="435.0" cy="357.5" r="0.6" fill="#f0f080" opacity="0.52"/><circle cx="391.2" cy="486.7" r="0.4" fill="#a0d060" opacity="0.59"/><circle cx="351.7" cy="394.7" r="0.5" fill="#f0f080" opacity="0.91"/><circle cx="370.2" cy="397.1" r="0.4" fill="#f0f080" opacity="0.65"/><circle cx="361.7" cy="452.0" r="0.6" fill="#a0d060" opacity="0.46"/><circle cx="350.7" cy="354.8" r="0.4" fill="#c8e070" opacity="0.77"/><circle cx="360.4" cy="401.0" r="0.7" fill="#a0d060" opacity="0.62"/><circle cx="372.2" cy="517.6" r="0.4" fill="#f0f080" opacity="0.57"/><circle cx="308.3" cy="439.2" r="0.7" fill="#c8e070" opacity="0.66"/><circle cx="355.8" cy="513.5" r="0.6" fill="#f0f080" opacity="0.45"/><circle cx="371.6" cy="495.2" r="0.5" fill="#a0d060" opacity="0.87"/><circle cx="321.3" cy="373.5" r="0.7" fill="#c8e070" opacity="0.81"/><circle cx="350.9" cy="356.8" r="0.6" fill="#f0f080" opacity="0.92"/><circle cx="338.2" cy="433.7" r="0.5" fill="#a0d060" opacity="0.70"/><circle cx="332.4" cy="434.1" r="0.4" fill="#a0d060" opacity="0.95"/><circle cx="366.5" cy="430.9" r="0.5" fill="#c8e070" opacity="0.72"/><circle cx="358.8" cy="450.2" r="0.7" fill="#f0f080" opacity="0.80"/><circle cx="327.6" cy="474.9" r="0.6" fill="#a0d060" opacity="0.89"/><circle cx="400.1" cy="408.8" r="0.4" fill="#c8e070" opacity="0.60"/><circle cx="350.5" cy="368.2" r="0.6" fill="#a0d060" opacity="0.86"/><circle cx="388.6" cy="442.5" r="0.6" fill="#e0e060" opacity="0.59"/><circle cx="340.4" cy="514.4" r="0.4" fill="#e0e060" opacity="0.47"/><circle cx="368.3" cy="428.2" r="0.6" fill="#f0f080" opacity="0.63"/><circle cx="392.4" cy="361.3" r="0.6" fill="#f0f080" opacity="0.83"/><circle cx="343.2" cy="466.9" r="0.5" fill="#a0d060" opacity="0.77"/><circle cx="297.0" cy="407.6" r="0.4" fill="#a0d060" opacity="0.54"/><circle cx="376.9" cy="482.5" r="0.4" fill="#a0d060" opacity="0.78"/><circle cx="364.1" cy="342.4" r="0.6" fill="#a0d060" opacity="0.83"/><circle cx="400.7" cy="433.7" r="0.6" fill="#a0d060" opacity="0.62"/><circle cx="361.5" cy="457.8" r="0.5" fill="#f0f080" opacity="0.81"/><circle cx="345.9" cy="399.3" r="0.4" fill="#a0d060" opacity="0.70"/><circle cx="419.9" cy="492.0" r="0.7" fill="#e0e060" opacity="0.48"/><circle cx="421.0" cy="425.1" r="0.6" fill="#a0d060" opacity="0.62"/><circle cx="372.7" cy="470.3" r="0.6" fill="#f0f080" opacity="0.87"/><circle cx="318.1" cy="365.4" r="0.4" fill="#f0f080" opacity="0.66"/><circle cx="335.3" cy="391.6" r="0.7" fill="#f0f080" opacity="0.70"/><circle cx="299.8" cy="419.0" r="0.5" fill="#e0e060" opacity="0.90"/><circle cx="366.5" cy="435.9" r="0.7" fill="#a0d060" opacity="0.80"/><circle cx="356.8" cy="442.5" r="0.5" fill="#f0f080" opacity="0.77"/><circle cx="295.8" cy="404.7" r="0.4" fill="#a0d060" opacity="0.57"/><circle cx="367.8" cy="481.2" r="0.6" fill="#e0e060" opacity="0.73"/><circle cx="415.2" cy="407.5" r="0.7" fill="#a0d060" opacity="0.55"/><circle cx="279.3" cy="449.7" r="0.6" fill="#c8e070" opacity="0.78"/><circle cx="324.2" cy="501.4" r="0.4" fill="#c8e070" opacity="0.68"/><circle cx="348.1" cy="517.1" r="0.4" fill="#f0f080" opacity="0.74"/><circle cx="372.4" cy="465.3" r="0.6" fill="#e0e060" opacity="0.50"/><circle cx="360.4" cy="398.2" r="0.5" fill="#a0d060" opacity="0.90"/><circle cx="428.3" cy="454.9" r="0.4" fill="#f0f080" opacity="0.59"/><circle cx="414.8" cy="469.1" r="0.7" fill="#f0f080" opacity="0.55"/><circle cx="392.0" cy="375.2" r="0.6" fill="#c8e070" opacity="0.71"/><circle cx="362.1" cy="419.5" r="0.4" fill="#e0e060" opacity="0.65"/><circle cx="359.1" cy="408.3" r="0.7" fill="#e0e060" opacity="0.65"/><circle cx="337.1" cy="390.6" r="0.4" fill="#f0f080" opacity="0.53"/><circle cx="408.9" cy="386.3" r="0.7" fill="#c8e070" opacity="0.56"/><circle cx="359.3" cy="442.5" r="0.5" fill="#e0e060" opacity="0.84"/><circle cx="288.3" cy="362.1" r="0.6" fill="#f0f080" opacity="0.73"/><circle cx="388.8" cy="399.2" r="0.4" fill="#e0e060" opacity="0.46"/><circle cx="343.3" cy="391.4" r="0.5" fill="#f0f080" opacity="0.54"/><circle cx="339.8" cy="482.8" r="0.4" fill="#a0d060" opacity="0.73"/><circle cx="364.5" cy="435.8" r="0.5" fill="#a0d060" opacity="0.62"/><circle cx="412.2" cy="450.6" r="0.4" fill="#a0d060" opacity="0.88"/><circle cx="317.6" cy="487.9" r="0.5" fill="#e0e060" opacity="0.82"/><circle cx="313.5" cy="360.4" r="0.4" fill="#e0e060" opacity="0.61"/><circle cx="425.0" cy="399.2" r="0.5" fill="#e0e060" opacity="0.80"/><circle cx="354.9" cy="420.0" r="0.7" fill="#f0f080" opacity="0.70"/><circle cx="285.5" cy="463.2" r="0.4" fill="#f0f080" opacity="0.84"/><circle cx="362.5" cy="407.3" r="0.6" fill="#a0d060" opacity="0.85"/><circle cx="403.2" cy="429.9" r="0.5" fill="#f0f080" opacity="0.92"/><circle cx="331.4" cy="488.4" r="0.5" fill="#c8e070" opacity="0.69"/><circle cx="371.7" cy="381.0" r="0.4" fill="#f0f080" opacity="0.56"/><circle cx="296.8" cy="363.1" r="0.4" fill="#e0e060" opacity="0.87"/><circle cx="386.4" cy="388.9" r="0.6" fill="#f0f080" opacity="0.76"/><circle cx="350.7" cy="432.1" r="0.4" fill="#a0d060" opacity="0.48"/><circle cx="347.5" cy="438.3" r="0.7" fill="#a0d060" opacity="0.86"/><circle cx="328.2" cy="444.6" r="0.7" fill="#f0f080" opacity="0.81"/><circle cx="355.8" cy="504.9" r="0.5" fill="#f0f080" opacity="0.91"/><circle cx="335.8" cy="482.1" r="0.7" fill="#c8e070" opacity="0.62"/><circle cx="346.6" cy="370.3" r="0.6" fill="#a0d060" opacity="0.85"/><circle cx="388.7" cy="416.0" r="0.7" fill="#f0f080" opacity="0.48"/><circle cx="354.2" cy="347.7" r="0.5" fill="#e0e060" opacity="0.68"/><circle cx="370.1" cy="434.5" r="0.5" fill="#e0e060" opacity="0.66"/><circle cx="367.5" cy="391.2" r="0.7" fill="#f0f080" opacity="0.79"/><circle cx="369.1" cy="490.5" r="0.5" fill="#a0d060" opacity="0.55"/><circle cx="338.6" cy="365.3" r="0.4" fill="#f0f080" opacity="0.86"/><circle cx="314.9" cy="359.7" r="0.7" fill="#e0e060" opacity="0.54"/><circle cx="372.4" cy="402.1" r="0.6" fill="#c8e070" opacity="0.47"/><circle cx="395.0" cy="461.3" r="0.5" fill="#c8e070" opacity="0.92"/><circle cx="378.2" cy="456.7" r="0.7" fill="#a0d060" opacity="0.75"/><circle cx="332.6" cy="392.2" r="0.4" fill="#a0d060" opacity="0.67"/><circle cx="286.2" cy="381.9" r="0.5" fill="#a0d060" opacity="0.76"/><circle cx="394.2" cy="455.2" r="0.5" fill="#c8e070" opacity="0.77"/><circle cx="359.0" cy="456.0" r="0.6" fill="#f0f080" opacity="0.56"/><circle cx="308.6" cy="421.1" r="0.4" fill="#f0f080" opacity="0.79"/><circle cx="320.3" cy="468.4" r="0.7" fill="#f0f080" opacity="0.92"/><circle cx="266.7" cy="482.6" r="0.5" fill="#e0e060" opacity="0.51"/><circle cx="336.0" cy="365.0" r="0.5" fill="#c8e070" opacity="0.93"/><circle cx="327.2" cy="445.5" r="0.5" fill="#c8e070" opacity="0.77"/><circle cx="407.8" cy="391.0" r="0.5" fill="#e0e060" opacity="0.73"/><circle cx="338.0" cy="346.4" r="0.4" fill="#e0e060" opacity="0.58"/><circle cx="305.4" cy="489.2" r="0.4" fill="#c8e070" opacity="0.52"/><circle cx="370.2" cy="383.3" r="0.4" fill="#f0f080" opacity="0.63"/><circle cx="350.3" cy="349.9" r="0.7" fill="#e0e060" opacity="0.59"/><circle cx="366.2" cy="447.8" r="0.6" fill="#f0f080" opacity="0.62"/><circle cx="348.1" cy="389.8" r="0.5" fill="#e0e060" opacity="0.89"/><circle cx="375.0" cy="392.0" r="0.7" fill="#f0f080" opacity="0.87"/><circle cx="358.7" cy="447.8" r="0.6" fill="#c8e070" opacity="0.61"/><circle cx="370.5" cy="347.0" r="0.4" fill="#e0e060" opacity="0.78"/><circle cx="362.7" cy="383.8" r="0.5" fill="#f0f080" opacity="0.88"/><circle cx="404.2" cy="419.1" r="0.4" fill="#a0d060" opacity="0.59"/><circle cx="381.7" cy="526.6" r="0.6" fill="#e0e060" opacity="0.51"/><circle cx="340.3" cy="435.1" r="0.5" fill="#e0e060" opacity="0.80"/><circle cx="267.4" cy="362.8" r="0.6" fill="#a0d060" opacity="0.89"/><circle cx="401.0" cy="410.6" r="0.6" fill="#c8e070" opacity="0.54"/><circle cx="370.9" cy="439.8" r="0.6" fill="#c8e070" opacity="0.87"/><circle cx="360.7" cy="496.0" r="0.5" fill="#f0f080" opacity="0.86"/><circle cx="335.2" cy="425.0" r="0.5" fill="#f0f080" opacity="0.56"/><circle cx="391.4" cy="466.4" r="0.4" fill="#e0e060" opacity="0.83"/><circle cx="371.1" cy="430.2" r="0.5" fill="#e0e060" opacity="0.93"/><circle cx="380.7" cy="380.7" r="0.6" fill="#f0f080" opacity="0.60"/><circle cx="313.7" cy="479.5" r="0.7" fill="#c8e070" opacity="0.90"/><circle cx="323.5" cy="462.7" r="0.7" fill="#a0d060" opacity="0.87"/><circle cx="347.2" cy="456.1" r="0.6" fill="#a0d060" opacity="0.93"/><circle cx="398.6" cy="459.9" r="0.4" fill="#e0e060" opacity="0.95"/><circle cx="299.4" cy="388.2" r="0.4" fill="#f0f080" opacity="0.87"/><circle cx="406.2" cy="358.4" r="0.4" fill="#a0d060" opacity="0.82"/><circle cx="385.0" cy="430.3" r="0.7" fill="#c8e070" opacity="0.51"/><circle cx="368.5" cy="440.3" r="0.5" fill="#a0d060" opacity="0.50"/><circle cx="417.6" cy="406.7" r="0.7" fill="#c8e070" opacity="0.71"/><circle cx="277.6" cy="436.7" r="0.4" fill="#e0e060" opacity="0.54"/><circle cx="318.4" cy="408.1" r="0.7" fill="#a0d060" opacity="0.72"/><circle cx="424.8" cy="441.6" r="0.6" fill="#a0d060" opacity="0.64"/><circle cx="379.4" cy="463.1" r="0.4" fill="#f0f080" opacity="0.67"/><circle cx="327.5" cy="442.0" r="0.7" fill="#f0f080" opacity="0.72"/><circle cx="308.1" cy="493.3" r="0.5" fill="#e0e060" opacity="0.89"/><circle cx="370.5" cy="441.3" r="0.4" fill="#f0f080" opacity="0.63"/><circle cx="373.6" cy="471.4" r="0.4" fill="#e0e060" opacity="0.71"/><circle cx="285.3" cy="404.1" r="0.5" fill="#f0f080" opacity="0.71"/><circle cx="298.4" cy="467.3" r="0.5" fill="#f0f080" opacity="0.67"/><circle cx="319.0" cy="370.3" r="0.4" fill="#e0e060" opacity="0.88"/><circle cx="271.5" cy="508.9" r="0.5" fill="#e0e060" opacity="0.68"/><circle cx="394.8" cy="378.3" r="0.6" fill="#f0f080" opacity="0.81"/><circle cx="353.5" cy="443.7" r="0.6" fill="#f0f080" opacity="0.63"/><circle cx="413.4" cy="428.5" r="0.6" fill="#a0d060" opacity="0.89"/><circle cx="387.6" cy="445.2" r="0.5" fill="#a0d060" opacity="0.72"/><circle cx="337.5" cy="489.8" r="0.4" fill="#c8e070" opacity="0.81"/><circle cx="303.1" cy="442.2" r="0.6" fill="#a0d060" opacity="0.45"/><circle cx="292.3" cy="495.1" r="0.6" fill="#a0d060" opacity="0.46"/><circle cx="360.1" cy="507.0" r="0.6" fill="#c8e070" opacity="0.58"/><circle cx="396.7" cy="451.9" r="0.6" fill="#f0f080" opacity="0.62"/><circle cx="375.1" cy="390.5" r="0.5" fill="#f0f080" opacity="0.68"/><circle cx="315.0" cy="412.6" r="0.7" fill="#e0e060" opacity="0.82"/><circle cx="280.9" cy="395.7" r="0.4" fill="#e0e060" opacity="0.83"/><circle cx="372.0" cy="499.6" r="0.6" fill="#e0e060" opacity="0.82"/><circle cx="342.3" cy="388.5" r="0.6" fill="#c8e070" opacity="0.74"/><circle cx="379.1" cy="430.9" r="0.6" fill="#c8e070" opacity="0.60"/><circle cx="368.9" cy="435.0" r="0.4" fill="#e0e060" opacity="0.75"/><circle cx="334.9" cy="349.7" r="0.4" fill="#c8e070" opacity="0.52"/><circle cx="389.2" cy="425.2" r="0.4" fill="#e0e060" opacity="0.70"/><circle cx="425.7" cy="402.1" r="0.7" fill="#c8e070" opacity="0.59"/><circle cx="371.3" cy="416.9" r="0.7" fill="#f0f080" opacity="0.86"/><circle cx="409.0" cy="403.4" r="0.4" fill="#c8e070" opacity="0.87"/><circle cx="402.1" cy="439.0" r="0.7" fill="#c8e070" opacity="0.91"/><circle cx="269.5" cy="411.8" r="0.5" fill="#a0d060" opacity="0.65"/><circle cx="359.0" cy="350.9" r="0.4" fill="#e0e060" opacity="0.49"/><circle cx="282.5" cy="418.1" r="0.7" fill="#f0f080" opacity="0.65"/><circle cx="360.9" cy="485.9" r="0.6" fill="#e0e060" opacity="0.51"/><circle cx="316.2" cy="507.6" r="0.6" fill="#f0f080" opacity="0.94"/><circle cx="343.0" cy="481.2" r="0.7" fill="#c8e070" opacity="0.84"/><circle cx="403.0" cy="536.2" r="0.7" fill="#c8e070" opacity="0.53"/><circle cx="385.4" cy="506.4" r="0.5" fill="#e0e060" opacity="0.63"/><circle cx="291.6" cy="348.3" r="0.6" fill="#a0d060" opacity="0.49"/><circle cx="412.3" cy="348.8" r="0.6" fill="#f0f080" opacity="0.75"/><circle cx="401.6" cy="407.4" r="0.6" fill="#c8e070" opacity="0.84"/><circle cx="276.0" cy="447.4" r="0.7" fill="#c8e070" opacity="0.48"/><circle cx="289.9" cy="372.7" r="0.4" fill="#f0f080" opacity="0.55"/><circle cx="421.6" cy="489.7" r="0.7" fill="#c8e070" opacity="0.75"/><circle cx="269.3" cy="358.0" r="0.6" fill="#e0e060" opacity="0.50"/><circle cx="410.6" cy="422.9" r="0.5" fill="#f0f080" opacity="0.56"/><circle cx="299.5" cy="498.0" r="0.6" fill="#c8e070" opacity="0.67"/><circle cx="360.6" cy="415.4" r="0.4" fill="#c8e070" opacity="0.91"/><circle cx="390.5" cy="398.0" r="0.7" fill="#a0d060" opacity="0.94"/><circle cx="407.1" cy="393.8" r="0.4" fill="#f0f080" opacity="0.73"/><circle cx="343.3" cy="442.7" r="0.7" fill="#e0e060" opacity="0.82"/><circle cx="306.8" cy="472.3" r="0.6" fill="#e0e060" opacity="0.93"/><circle cx="331.8" cy="476.7" r="0.5" fill="#a0d060" opacity="0.55"/><circle cx="319.5" cy="471.5" r="0.4" fill="#f0f080" opacity="0.46"/><circle cx="328.4" cy="450.2" r="0.4" fill="#c8e070" opacity="0.81"/><circle cx="354.6" cy="399.8" r="0.5" fill="#f0f080" opacity="0.46"/><circle cx="351.1" cy="495.6" r="0.6" fill="#a0d060" opacity="0.68"/><circle cx="312.4" cy="419.8" r="0.5" fill="#f0f080" opacity="0.86"/><circle cx="371.7" cy="363.8" r="0.6" fill="#a0d060" opacity="0.74"/><circle cx="438.3" cy="375.3" r="0.7" fill="#f0f080" opacity="0.65"/><circle cx="367.9" cy="393.4" r="0.4" fill="#f0f080" opacity="0.84"/><circle cx="312.5" cy="458.5" r="0.4" fill="#a0d060" opacity="0.63"/><circle cx="358.3" cy="400.6" r="0.5" fill="#e0e060" opacity="0.70"/><circle cx="336.3" cy="382.8" r="0.5" fill="#a0d060" opacity="0.89"/><circle cx="421.3" cy="374.2" r="0.4" fill="#c8e070" opacity="0.85"/><circle cx="290.7" cy="510.5" r="0.4" fill="#f0f080" opacity="0.81"/><circle cx="408.7" cy="409.9" r="0.6" fill="#c8e070" opacity="0.80"/><circle cx="314.6" cy="353.9" r="0.5" fill="#f0f080" opacity="0.63"/><circle cx="365.3" cy="373.5" r="0.6" fill="#c8e070" opacity="0.58"/><circle cx="325.5" cy="452.9" r="0.4" fill="#e0e060" opacity="0.70"/><circle cx="346.3" cy="432.5" r="0.4" fill="#c8e070" opacity="0.76"/><circle cx="389.5" cy="454.2" r="0.7" fill="#e0e060" opacity="0.76"/><circle cx="369.1" cy="455.0" r="0.7" fill="#e0e060" opacity="0.73"/><circle cx="381.1" cy="412.1" r="0.4" fill="#f0f080" opacity="0.80"/><circle cx="352.0" cy="494.9" r="0.4" fill="#a0d060" opacity="0.45"/><circle cx="315.9" cy="481.0" r="0.7" fill="#c8e070" opacity="0.90"/><circle cx="411.6" cy="474.6" r="0.4" fill="#a0d060" opacity="0.83"/><circle cx="360.6" cy="383.9" r="0.4" fill="#e0e060" opacity="0.55"/><circle cx="313.0" cy="389.4" r="0.7" fill="#c8e070" opacity="0.76"/><circle cx="325.6" cy="369.1" r="0.4" fill="#f0f080" opacity="0.79"/><circle cx="300.1" cy="376.1" r="0.7" fill="#a0d060" opacity="0.54"/><circle cx="309.9" cy="420.8" r="0.6" fill="#f0f080" opacity="0.89"/><circle cx="285.5" cy="466.5" r="0.7" fill="#f0f080" opacity="0.73"/><circle cx="285.6" cy="410.7" r="0.4" fill="#a0d060" opacity="0.75"/><circle cx="340.1" cy="375.6" r="0.5" fill="#c8e070" opacity="0.67"/><circle cx="319.7" cy="391.3" r="0.6" fill="#c8e070" opacity="0.75"/><circle cx="412.2" cy="439.7" r="0.4" fill="#e0e060" opacity="0.48"/><circle cx="391.9" cy="372.0" r="0.7" fill="#f0f080" opacity="0.47"/><circle cx="422.7" cy="352.7" r="0.4" fill="#e0e060" opacity="0.84"/><circle cx="361.5" cy="471.2" r="0.5" fill="#c8e070" opacity="0.69"/><circle cx="330.6" cy="367.4" r="0.5" fill="#a0d060" opacity="0.72"/><circle cx="383.7" cy="428.1" r="0.6" fill="#c8e070" opacity="0.56"/><circle cx="317.2" cy="409.8" r="0.5" fill="#f0f080" opacity="0.78"/><circle cx="430.7" cy="362.3" r="0.5" fill="#f0f080" opacity="0.68"/><circle cx="345.4" cy="429.4" r="0.7" fill="#c8e070" opacity="0.53"/><circle cx="352.3" cy="389.5" r="0.7" fill="#f0f080" opacity="0.75"/><circle cx="301.2" cy="368.6" r="0.7" fill="#c8e070" opacity="0.69"/><circle cx="369.8" cy="361.5" r="0.6" fill="#f0f080" opacity="0.90"/><circle cx="382.3" cy="387.6" r="0.4" fill="#f0f080" opacity="0.49"/><circle cx="347.1" cy="437.8" r="0.7" fill="#e0e060" opacity="0.86"/><circle cx="389.2" cy="421.6" r="0.6" fill="#f0f080" opacity="0.61"/><circle cx="311.2" cy="418.5" r="0.4" fill="#a0d060" opacity="0.54"/><circle cx="353.0" cy="433.2" r="0.5" fill="#a0d060" opacity="0.53"/><circle cx="353.2" cy="355.1" r="0.6" fill="#c8e070" opacity="0.47"/><circle cx="429.7" cy="513.1" r="0.5" fill="#a0d060" opacity="0.76"/><circle cx="296.4" cy="391.2" r="0.5" fill="#c8e070" opacity="0.76"/><circle cx="347.9" cy="449.5" r="0.5" fill="#e0e060" opacity="0.84"/><circle cx="388.5" cy="462.3" r="0.6" fill="#f0f080" opacity="0.59"/><circle cx="295.8" cy="409.2" r="0.6" fill="#e0e060" opacity="0.88"/><circle cx="369.6" cy="504.3" r="0.4" fill="#f0f080" opacity="0.46"/><circle cx="366.5" cy="411.8" r="0.6" fill="#c8e070" opacity="0.76"/><circle cx="348.4" cy="362.5" r="0.4" fill="#a0d060" opacity="0.53"/><circle cx="397.5" cy="491.9" r="0.4" fill="#c8e070" opacity="0.66"/><circle cx="315.8" cy="518.6" r="0.4" fill="#e0e060" opacity="0.70"/><circle cx="332.5" cy="425.3" r="0.7" fill="#c8e070" opacity="0.75"/><circle cx="359.7" cy="407.2" r="0.5" fill="#f0f080" opacity="0.77"/><circle cx="284.8" cy="381.2" r="0.6" fill="#a0d060" opacity="0.91"/><circle cx="305.2" cy="424.3" r="0.5" fill="#c8e070" opacity="0.94"/><circle cx="369.6" cy="388.0" r="0.7" fill="#a0d060" opacity="0.87"/><circle cx="405.3" cy="420.9" r="0.4" fill="#f0f080" opacity="0.61"/><circle cx="399.0" cy="469.4" r="0.7" fill="#e0e060" opacity="0.83"/><circle cx="320.5" cy="394.1" r="0.7" fill="#a0d060" opacity="0.76"/><circle cx="392.8" cy="357.0" r="0.5" fill="#f0f080" opacity="0.60"/><circle cx="345.2" cy="491.7" r="0.6" fill="#c8e070" opacity="0.80"/><circle cx="300.3" cy="474.0" r="0.4" fill="#a0d060" opacity="0.85"/><circle cx="346.2" cy="424.1" r="0.4" fill="#f0f080" opacity="0.90"/><circle cx="331.4" cy="377.9" r="0.7" fill="#c8e070" opacity="0.89"/><circle cx="400.1" cy="441.9" r="0.7" fill="#a0d060" opacity="0.83"/><circle cx="365.5" cy="449.6" r="0.5" fill="#e0e060" opacity="0.91"/><circle cx="412.6" cy="361.0" r="0.4" fill="#e0e060" opacity="0.55"/><circle cx="352.4" cy="426.7" r="0.4" fill="#f0f080" opacity="0.81"/><circle cx="321.8" cy="365.0" r="0.5" fill="#a0d060" opacity="0.94"/><circle cx="318.1" cy="476.6" r="0.7" fill="#c8e070" opacity="0.86"/><circle cx="312.7" cy="349.4" r="0.4" fill="#a0d060" opacity="0.48"/><circle cx="320.1" cy="406.4" r="0.5" fill="#f0f080" opacity="0.94"/><circle cx="370.4" cy="409.5" r="0.5" fill="#c8e070" opacity="0.90"/><circle cx="278.7" cy="401.2" r="0.4" fill="#c8e070" opacity="0.80"/><circle cx="343.8" cy="432.1" r="0.4" fill="#e0e060" opacity="0.77"/><circle cx="354.8" cy="417.5" r="0.5" fill="#a0d060" opacity="0.74"/><circle cx="369.1" cy="523.8" r="0.6" fill="#c8e070" opacity="0.72"/><circle cx="319.9" cy="425.7" r="0.6" fill="#c8e070" opacity="0.62"/><circle cx="352.1" cy="359.9" r="0.6" fill="#c8e070" opacity="0.60"/><circle cx="329.4" cy="406.4" r="0.6" fill="#a0d060" opacity="0.70"/><circle cx="356.8" cy="376.3" r="0.6" fill="#e0e060" opacity="0.65"/><circle cx="321.8" cy="351.3" r="0.7" fill="#e0e060" opacity="0.53"/><circle cx="381.2" cy="539.9" r="0.7" fill="#a0d060" opacity="0.71"/><circle cx="306.0" cy="350.9" r="0.4" fill="#e0e060" opacity="0.88"/><circle cx="327.6" cy="411.8" r="0.6" fill="#c8e070" opacity="0.88"/><circle cx="309.0" cy="424.7" r="0.4" fill="#f0f080" opacity="0.90"/><circle cx="310.3" cy="419.9" r="0.4" fill="#e0e060" opacity="0.68"/><circle cx="343.6" cy="451.2" r="0.4" fill="#c8e070" opacity="0.95"/><circle cx="277.4" cy="469.8" r="0.6" fill="#a0d060" opacity="0.87"/><circle cx="386.6" cy="508.3" r="0.6" fill="#c8e070" opacity="0.57"/><circle cx="340.8" cy="384.4" r="0.6" fill="#e0e060" opacity="0.50"/><circle cx="337.7" cy="415.9" r="0.6" fill="#a0d060" opacity="0.52"/><circle cx="384.3" cy="479.3" r="0.4" fill="#a0d060" opacity="0.80"/><circle cx="357.0" cy="468.7" r="0.7" fill="#a0d060" opacity="0.72"/><circle cx="437.0" cy="435.7" r="0.4" fill="#c8e070" opacity="0.62"/><circle cx="306.4" cy="419.4" r="0.6" fill="#f0f080" opacity="0.64"/><circle cx="382.1" cy="349.5" r="0.5" fill="#c8e070" opacity="0.66"/><circle cx="364.8" cy="388.3" r="0.4" fill="#e0e060" opacity="0.45"/><circle cx="333.5" cy="380.5" r="0.6" fill="#e0e060" opacity="0.46"/><circle cx="382.5" cy="386.2" r="0.6" fill="#f0f080" opacity="0.65"/><circle cx="325.0" cy="374.9" r="0.6" fill="#f0f080" opacity="0.61"/><circle cx="410.4" cy="483.1" r="0.7" fill="#a0d060" opacity="0.61"/><circle cx="358.5" cy="451.0" r="0.6" fill="#f0f080" opacity="0.66"/><circle cx="397.8" cy="374.9" r="0.5" fill="#e0e060" opacity="0.53"/><circle cx="391.4" cy="413.8" r="0.5" fill="#c8e070" opacity="0.81"/><circle cx="365.0" cy="467.3" r="0.6" fill="#c8e070" opacity="0.67"/><circle cx="399.4" cy="472.9" r="0.4" fill="#f0f080" opacity="0.86"/><circle cx="318.1" cy="345.8" r="0.4" fill="#c8e070" opacity="0.81"/><circle cx="361.2" cy="475.3" r="0.6" fill="#c8e070" opacity="0.70"/><circle cx="363.2" cy="480.4" r="0.4" fill="#f0f080" opacity="0.74"/><circle cx="421.5" cy="395.5" r="0.7" fill="#a0d060" opacity="0.62"/><circle cx="378.1" cy="454.4" r="0.6" fill="#e0e060" opacity="0.74"/><circle cx="363.1" cy="461.8" r="0.7" fill="#f0f080" opacity="0.76"/><circle cx="296.9" cy="463.8" r="0.5" fill="#e0e060" opacity="0.49"/><circle cx="338.9" cy="391.3" r="0.6" fill="#c8e070" opacity="0.91"/><circle cx="364.1" cy="428.9" r="0.7" fill="#a0d060" opacity="0.65"/><circle cx="288.4" cy="415.9" r="0.6" fill="#a0d060" opacity="0.95"/><circle cx="280.9" cy="468.1" r="0.6" fill="#e0e060" opacity="0.53"/><circle cx="322.8" cy="375.2" r="0.7" fill="#a0d060" opacity="0.82"/><circle cx="360.5" cy="509.2" r="0.6" fill="#f0f080" opacity="0.91"/><circle cx="374.2" cy="464.7" r="0.7" fill="#c8e070" opacity="0.59"/><circle cx="308.7" cy="382.2" r="0.5" fill="#c8e070" opacity="0.64"/><circle cx="297.4" cy="444.4" r="0.7" fill="#c8e070" opacity="0.89"/><circle cx="306.7" cy="500.7" r="0.6" fill="#c8e070" opacity="0.58"/><circle cx="318.8" cy="451.7" r="0.5" fill="#c8e070" opacity="0.90"/><circle cx="395.0" cy="365.0" r="0.4" fill="#f0f080" opacity="0.46"/><circle cx="398.1" cy="411.2" r="0.5" fill="#a0d060" opacity="0.82"/><circle cx="334.3" cy="447.7" r="0.4" fill="#e0e060" opacity="0.82"/><circle cx="338.5" cy="460.0" r="0.5" fill="#a0d060" opacity="0.71"/><circle cx="426.8" cy="385.6" r="0.4" fill="#f0f080" opacity="0.91"/><circle cx="360.8" cy="466.6" r="0.4" fill="#c8e070" opacity="0.72"/><circle cx="319.8" cy="521.4" r="0.4" fill="#c8e070" opacity="0.77"/><circle cx="363.8" cy="428.9" r="0.6" fill="#e0e060" opacity="0.65"/><circle cx="354.6" cy="353.3" r="0.7" fill="#a0d060" opacity="0.46"/><circle cx="345.7" cy="430.6" r="0.7" fill="#e0e060" opacity="0.59"/><circle cx="315.3" cy="404.5" r="0.6" fill="#a0d060" opacity="0.61"/><circle cx="349.6" cy="381.8" r="0.7" fill="#a0d060" opacity="0.87"/><circle cx="421.2" cy="366.7" r="0.5" fill="#a0d060" opacity="0.66"/><circle cx="340.1" cy="450.9" r="0.6" fill="#a0d060" opacity="0.79"/><circle cx="379.0" cy="415.3" r="0.7" fill="#c8e070" opacity="0.79"/><circle cx="311.8" cy="400.3" r="0.6" fill="#c8e070" opacity="0.78"/><circle cx="435.7" cy="530.3" r="0.7" fill="#e0e060" opacity="0.93"/><circle cx="379.2" cy="371.8" r="0.5" fill="#e0e060" opacity="0.93"/><circle cx="354.9" cy="409.6" r="0.7" fill="#a0d060" opacity="0.92"/><circle cx="304.6" cy="432.2" r="0.4" fill="#f0f080" opacity="0.76"/><circle cx="379.1" cy="394.0" r="0.5" fill="#a0d060" opacity="0.52"/><circle cx="350.8" cy="430.8" r="0.5" fill="#e0e060" opacity="0.47"/><circle cx="279.0" cy="477.2" r="0.7" fill="#e0e060" opacity="0.50"/><circle cx="328.6" cy="436.2" r="0.7" fill="#e0e060" opacity="0.55"/><circle cx="316.4" cy="418.4" r="0.7" fill="#e0e060" opacity="0.87"/><circle cx="398.7" cy="418.3" r="0.6" fill="#e0e060" opacity="0.86"/><circle cx="359.0" cy="452.3" r="0.4" fill="#a0d060" opacity="0.71"/><circle cx="348.0" cy="485.8" r="0.7" fill="#a0d060" opacity="0.83"/><circle cx="383.9" cy="444.8" r="0.7" fill="#e0e060" opacity="0.51"/><circle cx="303.6" cy="419.5" r="0.6" fill="#c8e070" opacity="0.49"/><circle cx="374.4" cy="420.7" r="0.6" fill="#c8e070" opacity="0.62"/><circle cx="306.5" cy="349.6" r="0.6" fill="#c8e070" opacity="0.86"/><circle cx="294.2" cy="471.6" r="0.6" fill="#f0f080" opacity="0.80"/><circle cx="389.7" cy="349.3" r="0.6" fill="#c8e070" opacity="0.92"/><circle cx="393.7" cy="434.0" r="0.6" fill="#c8e070" opacity="0.56"/><circle cx="400.9" cy="351.6" r="0.6" fill="#c8e070" opacity="0.81"/><circle cx="436.0" cy="463.8" r="0.6" fill="#c8e070" opacity="0.64"/><circle cx="342.3" cy="443.9" r="0.5" fill="#f0f080" opacity="0.69"/><circle cx="348.2" cy="399.9" r="0.5" fill="#e0e060" opacity="0.50"/><circle cx="369.7" cy="370.4" r="0.6" fill="#e0e060" opacity="0.54"/><circle cx="396.4" cy="472.7" r="0.7" fill="#a0d060" opacity="0.79"/><circle cx="428.6" cy="424.6" r="0.7" fill="#e0e060" opacity="0.61"/><circle cx="328.8" cy="499.6" r="0.5" fill="#e0e060" opacity="0.89"/><circle cx="363.6" cy="443.1" r="0.4" fill="#f0f080" opacity="0.82"/><circle cx="268.8" cy="400.3" r="0.5" fill="#a0d060" opacity="0.76"/><circle cx="346.2" cy="438.4" r="0.4" fill="#f0f080" opacity="0.61"/><circle cx="428.2" cy="439.0" r="0.6" fill="#e0e060" opacity="0.53"/><circle cx="352.8" cy="373.2" r="0.7" fill="#e0e060" opacity="0.54"/><circle cx="319.6" cy="501.8" r="0.4" fill="#e0e060" opacity="0.53"/><circle cx="327.5" cy="416.5" r="0.6" fill="#f0f080" opacity="0.56"/><circle cx="371.3" cy="397.9" r="0.4" fill="#a0d060" opacity="0.55"/><circle cx="358.0" cy="431.1" r="0.5" fill="#f0f080" opacity="0.94"/><circle cx="345.4" cy="413.0" r="0.5" fill="#c8e070" opacity="0.72"/><circle cx="386.5" cy="416.7" r="0.7" fill="#f0f080" opacity="0.80"/><circle cx="381.3" cy="424.6" r="0.5" fill="#f0f080" opacity="0.94"/><circle cx="387.6" cy="427.8" r="0.7" fill="#a0d060" opacity="0.70"/><circle cx="363.2" cy="455.1" r="0.4" fill="#f0f080" opacity="0.79"/><circle cx="327.3" cy="414.7" r="0.7" fill="#e0e060" opacity="0.78"/><circle cx="351.8" cy="440.9" r="0.6" fill="#f0f080" opacity="0.92"/><circle cx="375.1" cy="395.3" r="0.5" fill="#c8e070" opacity="0.93"/><circle cx="363.5" cy="364.5" r="0.6" fill="#c8e070" opacity="0.90"/><circle cx="413.9" cy="396.6" r="0.5" fill="#e0e060" opacity="0.54"/><circle cx="320.2" cy="449.9" r="0.4" fill="#f0f080" opacity="0.57"/><circle cx="346.1" cy="384.8" r="0.6" fill="#a0d060" opacity="0.72"/><circle cx="401.2" cy="499.4" r="0.4" fill="#c8e070" opacity="0.94"/><circle cx="333.5" cy="379.5" r="0.7" fill="#a0d060" opacity="0.68"/><circle cx="266.8" cy="420.2" r="0.5" fill="#f0f080" opacity="0.71"/><circle cx="355.8" cy="473.7" r="0.6" fill="#c8e070" opacity="0.80"/><circle cx="392.8" cy="354.9" r="0.5" fill="#f0f080" opacity="0.56"/><circle cx="338.2" cy="401.4" r="0.4" fill="#c8e070" opacity="0.58"/><circle cx="349.1" cy="475.6" r="0.5" fill="#c8e070" opacity="0.73"/><circle cx="376.0" cy="499.8" r="0.7" fill="#a0d060" opacity="0.90"/><circle cx="308.2" cy="431.3" r="0.4" fill="#f0f080" opacity="0.49"/><circle cx="304.7" cy="455.5" r="0.7" fill="#c8e070" opacity="0.87"/><circle cx="368.4" cy="404.6" r="0.4" fill="#c8e070" opacity="0.88"/><circle cx="345.5" cy="394.3" r="0.4" fill="#a0d060" opacity="0.84"/><circle cx="302.0" cy="402.5" r="0.4" fill="#f0f080" opacity="0.67"/><circle cx="324.8" cy="460.4" r="0.4" fill="#e0e060" opacity="0.46"/><circle cx="360.7" cy="416.2" r="0.4" fill="#f0f080" opacity="0.59"/><circle cx="376.6" cy="425.7" r="0.5" fill="#e0e060" opacity="0.52"/><circle cx="368.1" cy="503.1" r="0.7" fill="#e0e060" opacity="0.52"/><circle cx="348.7" cy="421.5" r="0.5" fill="#e0e060" opacity="0.50"/><circle cx="347.6" cy="418.6" r="0.4" fill="#e0e060" opacity="0.71"/><circle cx="316.3" cy="393.2" r="0.4" fill="#c8e070" opacity="0.78"/><circle cx="371.3" cy="382.1" r="0.7" fill="#f0f080" opacity="0.89"/><circle cx="306.1" cy="452.5" r="0.4" fill="#f0f080" opacity="0.87"/><circle cx="351.6" cy="408.3" r="0.4" fill="#a0d060" opacity="0.52"/><circle cx="359.3" cy="407.8" r="0.5" fill="#f0f080" opacity="0.77"/><circle cx="371.4" cy="456.8" r="0.6" fill="#e0e060" opacity="0.73"/><circle cx="349.9" cy="440.0" r="0.4" fill="#f0f080" opacity="0.48"/><circle cx="367.8" cy="441.6" r="0.5" fill="#e0e060" opacity="0.56"/><circle cx="340.9" cy="346.3" r="0.6" fill="#f0f080" opacity="0.83"/><circle cx="403.4" cy="363.1" r="0.7" fill="#f0f080" opacity="0.60"/><circle cx="338.7" cy="391.3" r="0.6" fill="#c8e070" opacity="0.67"/><circle cx="353.8" cy="437.9" r="0.5" fill="#a0d060" opacity="0.63"/><circle cx="363.2" cy="376.3" r="0.4" fill="#f0f080" opacity="0.86"/><circle cx="288.2" cy="391.1" r="0.5" fill="#a0d060" opacity="0.69"/><circle cx="388.5" cy="506.3" r="0.6" fill="#f0f080" opacity="0.50"/><circle cx="360.2" cy="377.3" r="0.6" fill="#e0e060" opacity="0.46"/><circle cx="298.8" cy="403.5" r="0.6" fill="#a0d060" opacity="0.76"/><circle cx="352.3" cy="402.0" r="0.7" fill="#a0d060" opacity="0.59"/><circle cx="277.1" cy="398.0" r="0.4" fill="#c8e070" opacity="0.49"/><circle cx="361.0" cy="347.0" r="0.4" fill="#f0f080" opacity="0.92"/><circle cx="318.2" cy="489.2" r="0.7" fill="#c8e070" opacity="0.61"/><circle cx="325.7" cy="438.0" r="0.7" fill="#e0e060" opacity="0.52"/><circle cx="363.2" cy="427.9" r="0.5" fill="#f0f080" opacity="0.84"/><circle cx="342.1" cy="388.2" r="0.5" fill="#c8e070" opacity="0.75"/><circle cx="309.4" cy="444.4" r="0.5" fill="#f0f080" opacity="0.88"/><circle cx="360.7" cy="424.2" r="0.4" fill="#e0e060" opacity="0.46"/><circle cx="280.0" cy="503.6" r="0.4" fill="#e0e060" opacity="0.50"/><circle cx="329.9" cy="408.9" r="0.6" fill="#e0e060" opacity="0.77"/><circle cx="377.1" cy="452.8" r="0.4" fill="#a0d060" opacity="0.54"/><circle cx="344.8" cy="533.9" r="0.4" fill="#f0f080" opacity="0.93"/><circle cx="321.9" cy="457.0" r="0.6" fill="#f0f080" opacity="0.91"/><circle cx="371.6" cy="430.2" r="0.7" fill="#f0f080" opacity="0.54"/><circle cx="386.8" cy="478.4" r="0.7" fill="#c8e070" opacity="0.70"/><circle cx="382.7" cy="459.0" r="0.6" fill="#f0f080" opacity="0.69"/><circle cx="338.8" cy="409.1" r="0.6" fill="#c8e070" opacity="0.52"/><circle cx="325.5" cy="439.2" r="0.7" fill="#e0e060" opacity="0.86"/><circle cx="344.1" cy="430.5" r="0.4" fill="#a0d060" opacity="0.86"/><circle cx="356.8" cy="498.9" r="0.7" fill="#c8e070" opacity="0.83"/><circle cx="335.8" cy="345.1" r="0.7" fill="#c8e070" opacity="0.70"/><circle cx="352.5" cy="403.5" r="0.4" fill="#e0e060" opacity="0.75"/><circle cx="425.3" cy="349.1" r="0.5" fill="#a0d060" opacity="0.77"/><circle cx="380.2" cy="392.8" r="0.5" fill="#f0f080" opacity="0.89"/><circle cx="386.3" cy="393.6" r="0.4" fill="#e0e060" opacity="0.73"/><circle cx="356.3" cy="464.0" r="0.4" fill="#a0d060" opacity="0.87"/><circle cx="409.2" cy="414.5" r="0.4" fill="#a0d060" opacity="0.92"/><circle cx="415.4" cy="450.0" r="0.5" fill="#f0f080" opacity="0.51"/><circle cx="354.4" cy="386.4" r="0.7" fill="#f0f080" opacity="0.78"/><circle cx="357.0" cy="360.8" r="0.5" fill="#f0f080" opacity="0.62"/><circle cx="329.6" cy="495.9" r="0.6" fill="#a0d060" opacity="0.72"/><circle cx="303.3" cy="446.6" r="0.4" fill="#c8e070" opacity="0.73"/><circle cx="312.8" cy="425.5" r="0.7" fill="#e0e060" opacity="0.60"/><circle cx="391.6" cy="421.0" r="0.4" fill="#a0d060" opacity="0.51"/><circle cx="364.7" cy="419.6" r="0.7" fill="#f0f080" opacity="0.75"/><circle cx="385.0" cy="448.0" r="0.4" fill="#f0f080" opacity="0.79"/><circle cx="298.5" cy="416.9" r="0.7" fill="#e0e060" opacity="0.93"/><circle cx="439.2" cy="389.4" r="0.5" fill="#a0d060" opacity="0.76"/><circle cx="323.3" cy="435.8" r="0.4" fill="#e0e060" opacity="0.50"/><circle cx="300.2" cy="472.4" r="0.5" fill="#a0d060" opacity="0.94"/><circle cx="362.6" cy="433.6" r="0.6" fill="#c8e070" opacity="0.58"/><circle cx="406.6" cy="427.4" r="0.6" fill="#a0d060" opacity="0.54"/><circle cx="327.8" cy="444.4" r="0.5" fill="#c8e070" opacity="0.83"/><circle cx="344.8" cy="468.1" r="0.7" fill="#f0f080" opacity="0.47"/><circle cx="361.8" cy="467.2" r="0.5" fill="#c8e070" opacity="0.52"/><circle cx="295.0" cy="419.2" r="0.5" fill="#a0d060" opacity="0.60"/><circle cx="312.1" cy="352.3" r="0.4" fill="#e0e060" opacity="0.56"/><circle cx="318.6" cy="471.8" r="0.4" fill="#e0e060" opacity="0.56"/><circle cx="285.8" cy="405.1" r="0.7" fill="#c8e070" opacity="0.78"/><circle cx="332.1" cy="508.7" r="0.7" fill="#c8e070" opacity="0.64"/><circle cx="346.4" cy="360.4" r="0.5" fill="#a0d060" opacity="0.83"/><circle cx="311.4" cy="356.2" r="0.5" fill="#c8e070" opacity="0.57"/><circle cx="300.2" cy="384.8" r="0.6" fill="#f0f080" opacity="0.77"/><circle cx="277.1" cy="500.7" r="0.6" fill="#f0f080" opacity="0.62"/><circle cx="352.7" cy="453.7" r="0.4" fill="#a0d060" opacity="0.45"/><circle cx="394.6" cy="464.6" r="0.4" fill="#a0d060" opacity="0.56"/><circle cx="332.6" cy="437.8" r="0.7" fill="#f0f080" opacity="0.51"/><circle cx="360.6" cy="514.4" r="0.7" fill="#a0d060" opacity="0.50"/><circle cx="356.2" cy="375.2" r="0.7" fill="#c8e070" opacity="0.87"/><circle cx="329.7" cy="391.9" r="0.6" fill="#c8e070" opacity="0.87"/><circle cx="310.9" cy="374.0" r="0.7" fill="#c8e070" opacity="0.79"/><circle cx="329.8" cy="398.9" r="0.4" fill="#e0e060" opacity="0.56"/><circle cx="335.5" cy="396.0" r="0.6" fill="#c8e070" opacity="0.62"/><circle cx="306.8" cy="383.4" r="0.7" fill="#c8e070" opacity="0.82"/><circle cx="314.4" cy="439.1" r="0.5" fill="#e0e060" opacity="0.63"/><circle cx="372.3" cy="417.5" r="0.5" fill="#a0d060" opacity="0.87"/><circle cx="385.6" cy="430.6" r="0.6" fill="#c8e070" opacity="0.81"/><circle cx="355.9" cy="352.4" r="0.5" fill="#f0f080" opacity="0.67"/><circle cx="316.3" cy="507.4" r="0.5" fill="#c8e070" opacity="0.82"/><circle cx="344.5" cy="388.8" r="0.4" fill="#f0f080" opacity="0.76"/><circle cx="313.4" cy="350.9" r="0.7" fill="#f0f080" opacity="0.49"/><circle cx="343.2" cy="360.3" r="0.5" fill="#f0f080" opacity="0.58"/><circle cx="367.0" cy="422.5" r="0.6" fill="#e0e060" opacity="0.62"/><circle cx="397.4" cy="404.7" r="0.5" fill="#e0e060" opacity="0.65"/><circle cx="406.0" cy="359.3" r="0.4" fill="#f0f080" opacity="0.94"/><circle cx="316.5" cy="355.7" r="0.4" fill="#f0f080" opacity="0.48"/><circle cx="345.8" cy="392.3" r="0.7" fill="#c8e070" opacity="0.55"/><circle cx="381.9" cy="418.5" r="0.7" fill="#c8e070" opacity="0.84"/><circle cx="343.7" cy="400.4" r="0.5" fill="#f0f080" opacity="0.54"/><circle cx="346.3" cy="530.1" r="0.7" fill="#f0f080" opacity="0.66"/><circle cx="363.5" cy="345.6" r="0.4" fill="#e0e060" opacity="0.62"/><circle cx="291.8" cy="459.4" r="0.7" fill="#e0e060" opacity="0.73"/><circle cx="396.1" cy="382.8" r="0.6" fill="#e0e060" opacity="0.48"/><circle cx="382.1" cy="401.0" r="0.5" fill="#f0f080" opacity="0.47"/><circle cx="369.7" cy="359.3" r="0.5" fill="#f0f080" opacity="0.76"/><circle cx="319.6" cy="450.4" r="0.4" fill="#a0d060" opacity="0.65"/><circle cx="363.1" cy="382.4" r="0.7" fill="#f0f080" opacity="0.58"/><circle cx="298.5" cy="497.6" r="0.6" fill="#a0d060" opacity="0.92"/><circle cx="294.3" cy="359.4" r="0.6" fill="#f0f080" opacity="0.60"/><circle cx="283.2" cy="444.1" r="0.4" fill="#a0d060" opacity="0.95"/><circle cx="429.1" cy="348.8" r="0.6" fill="#a0d060" opacity="0.67"/><circle cx="301.1" cy="457.3" r="0.4" fill="#c8e070" opacity="0.63"/><circle cx="309.5" cy="436.2" r="0.4" fill="#a0d060" opacity="0.69"/><circle cx="287.9" cy="512.3" r="0.7" fill="#a0d060" opacity="0.45"/><circle cx="358.9" cy="504.1" r="0.6" fill="#c8e070" opacity="0.94"/><circle cx="423.0" cy="434.1" r="0.5" fill="#a0d060" opacity="0.77"/><circle cx="360.9" cy="435.9" r="0.5" fill="#c8e070" opacity="0.59"/><circle cx="359.7" cy="375.9" r="0.4" fill="#a0d060" opacity="0.86"/><circle cx="379.1" cy="387.2" r="0.7" fill="#e0e060" opacity="0.86"/><circle cx="334.5" cy="421.8" r="0.5" fill="#e0e060" opacity="0.65"/><circle cx="357.9" cy="378.8" r="0.4" fill="#a0d060" opacity="0.73"/><circle cx="345.0" cy="441.2" r="0.5" fill="#a0d060" opacity="0.77"/><circle cx="359.2" cy="405.3" r="0.6" fill="#f0f080" opacity="0.92"/><circle cx="376.2" cy="384.4" r="0.7" fill="#a0d060" opacity="0.65"/><circle cx="320.1" cy="417.5" r="0.4" fill="#a0d060" opacity="0.63"/><circle cx="310.3" cy="428.4" r="0.7" fill="#e0e060" opacity="0.49"/><circle cx="342.2" cy="360.0" r="0.7" fill="#f0f080" opacity="0.55"/><circle cx="336.9" cy="385.0" r="0.4" fill="#c8e070" opacity="0.56"/><circle cx="382.9" cy="410.5" r="0.4" fill="#c8e070" opacity="0.76"/><circle cx="378.3" cy="419.9" r="0.6" fill="#e0e060" opacity="0.87"/><circle cx="370.4" cy="391.6" r="0.4" fill="#a0d060" opacity="0.83"/><circle cx="306.8" cy="385.2" r="0.5" fill="#f0f080" opacity="0.94"/><circle cx="277.9" cy="454.1" r="0.5" fill="#e0e060" opacity="0.55"/><circle cx="351.7" cy="376.3" r="0.5" fill="#c8e070" opacity="0.68"/><circle cx="417.4" cy="368.2" r="0.7" fill="#a0d060" opacity="0.59"/><circle cx="354.2" cy="346.5" r="0.4" fill="#e0e060" opacity="0.47"/><circle cx="371.1" cy="361.0" r="0.4" fill="#f0f080" opacity="0.53"/><circle cx="435.6" cy="354.8" r="0.7" fill="#c8e070" opacity="0.77"/><circle cx="415.7" cy="430.6" r="0.5" fill="#c8e070" opacity="0.91"/><circle cx="368.6" cy="397.4" r="0.6" fill="#a0d060" opacity="0.49"/><circle cx="376.2" cy="362.0" r="0.6" fill="#e0e060" opacity="0.59"/><circle cx="366.8" cy="433.4" r="0.7" fill="#a0d060" opacity="0.62"/><circle cx="321.9" cy="436.2" r="0.5" fill="#f0f080" opacity="0.48"/><circle cx="416.2" cy="368.9" r="0.6" fill="#a0d060" opacity="0.91"/><circle cx="270.8" cy="476.9" r="0.5" fill="#e0e060" opacity="0.74"/><circle cx="308.3" cy="345.0" r="0.6" fill="#e0e060" opacity="0.89"/><circle cx="341.3" cy="413.2" r="0.6" fill="#c8e070" opacity="0.73"/><circle cx="332.5" cy="367.0" r="0.6" fill="#f0f080" opacity="0.47"/><circle cx="349.6" cy="374.0" r="0.4" fill="#f0f080" opacity="0.48"/><circle cx="306.1" cy="452.7" r="0.7" fill="#c8e070" opacity="0.45"/><circle cx="391.7" cy="468.3" r="0.7" fill="#e0e060" opacity="0.92"/><circle cx="398.3" cy="362.8" r="0.4" fill="#a0d060" opacity="0.76"/><circle cx="282.1" cy="425.9" r="0.6" fill="#a0d060" opacity="0.69"/><circle cx="294.0" cy="427.6" r="0.5" fill="#f0f080" opacity="0.74"/><circle cx="367.0" cy="505.3" r="0.6" fill="#c8e070" opacity="0.57"/><circle cx="392.2" cy="375.5" r="0.7" fill="#e0e060" opacity="0.93"/><circle cx="304.2" cy="390.5" r="0.5" fill="#a0d060" opacity="0.92"/><circle cx="330.8" cy="387.5" r="0.7" fill="#f0f080" opacity="0.74"/><circle cx="357.2" cy="469.9" r="0.7" fill="#c8e070" opacity="0.77"/><circle cx="296.4" cy="428.2" r="0.7" fill="#f0f080" opacity="0.93"/><circle cx="300.9" cy="347.2" r="0.6" fill="#f0f080" opacity="0.60"/><circle cx="371.5" cy="489.2" r="0.4" fill="#a0d060" opacity="0.73"/><circle cx="282.1" cy="422.7" r="0.7" fill="#f0f080" opacity="0.87"/><circle cx="373.1" cy="524.2" r="0.4" fill="#c8e070" opacity="0.82"/><circle cx="381.8" cy="388.2" r="0.5" fill="#c8e070" opacity="0.50"/><circle cx="390.0" cy="398.0" r="0.7" fill="#c8e070" opacity="0.88"/><circle cx="398.4" cy="404.3" r="0.5" fill="#a0d060" opacity="0.87"/><circle cx="374.4" cy="435.4" r="0.6" fill="#f0f080" opacity="0.59"/><circle cx="332.4" cy="466.9" r="0.7" fill="#c8e070" opacity="0.76"/><circle cx="321.7" cy="396.0" r="0.7" fill="#c8e070" opacity="0.90"/><circle cx="357.3" cy="348.6" r="0.4" fill="#c8e070" opacity="0.61"/><circle cx="367.7" cy="449.3" r="0.4" fill="#c8e070" opacity="0.84"/><circle cx="390.0" cy="378.4" r="0.5" fill="#f0f080" opacity="0.92"/><circle cx="363.0" cy="371.9" r="0.6" fill="#f0f080" opacity="0.73"/><circle cx="358.8" cy="361.0" r="0.4" fill="#f0f080" opacity="0.82"/><circle cx="367.6" cy="441.9" r="0.6" fill="#e0e060" opacity="0.75"/><circle cx="332.2" cy="401.5" r="0.7" fill="#f0f080" opacity="0.85"/><circle cx="350.2" cy="496.3" r="0.5" fill="#a0d060" opacity="0.60"/><circle cx="279.1" cy="466.8" r="0.7" fill="#a0d060" opacity="0.75"/><circle cx="394.4" cy="428.7" r="0.6" fill="#a0d060" opacity="0.91"/><circle cx="314.2" cy="424.2" r="0.4" fill="#a0d060" opacity="0.46"/><circle cx="395.4" cy="369.2" r="0.7" fill="#f0f080" opacity="0.88"/><circle cx="375.8" cy="351.0" r="0.6" fill="#c8e070" opacity="0.67"/><circle cx="357.0" cy="432.4" r="0.6" fill="#f0f080" opacity="0.71"/><circle cx="365.3" cy="412.2" r="0.6" fill="#c8e070" opacity="0.47"/><circle cx="406.4" cy="422.5" r="0.6" fill="#c8e070" opacity="0.75"/><circle cx="342.9" cy="483.8" r="0.4" fill="#a0d060" opacity="0.88"/><circle cx="328.8" cy="485.1" r="0.7" fill="#e0e060" opacity="0.46"/><circle cx="308.3" cy="387.7" r="0.6" fill="#e0e060" opacity="0.48"/><circle cx="374.4" cy="422.4" r="0.6" fill="#e0e060" opacity="0.51"/><circle cx="300.2" cy="362.1" r="0.7" fill="#f0f080" opacity="0.48"/><circle cx="343.5" cy="466.4" r="0.4" fill="#c8e070" opacity="0.52"/><circle cx="367.3" cy="453.8" r="0.6" fill="#e0e060" opacity="0.53"/><circle cx="332.4" cy="342.5" r="0.4" fill="#a0d060" opacity="0.65"/><circle cx="331.1" cy="448.5" r="0.4" fill="#e0e060" opacity="0.56"/><circle cx="373.8" cy="409.9" r="0.4" fill="#c8e070" opacity="0.89"/><circle cx="386.6" cy="455.7" r="0.5" fill="#f0f080" opacity="0.73"/><circle cx="388.5" cy="493.0" r="0.4" fill="#f0f080" opacity="0.64"/><circle cx="386.7" cy="423.5" r="0.4" fill="#e0e060" opacity="0.50"/><circle cx="325.4" cy="351.0" r="0.5" fill="#e0e060" opacity="0.93"/><circle cx="308.9" cy="383.9" r="0.4" fill="#e0e060" opacity="0.54"/><circle cx="408.9" cy="522.3" r="0.6" fill="#e0e060" opacity="0.88"/><circle cx="359.2" cy="487.7" r="0.7" fill="#f0f080" opacity="0.50"/><circle cx="361.5" cy="371.6" r="0.7" fill="#c8e070" opacity="0.53"/><circle cx="358.9" cy="500.4" r="0.7" fill="#f0f080" opacity="0.69"/><circle cx="378.8" cy="448.0" r="0.4" fill="#a0d060" opacity="0.55"/><circle cx="287.2" cy="411.1" r="0.6" fill="#f0f080" opacity="0.90"/><circle cx="324.7" cy="461.0" r="0.5" fill="#e0e060" opacity="0.78"/><circle cx="288.4" cy="383.2" r="0.6" fill="#a0d060" opacity="0.63"/><circle cx="347.5" cy="363.1" r="0.5" fill="#a0d060" opacity="0.80"/><circle cx="361.4" cy="431.3" r="0.5" fill="#e0e060" opacity="0.68"/><circle cx="383.5" cy="365.3" r="0.6" fill="#f0f080" opacity="0.72"/><circle cx="301.0" cy="395.6" r="0.4" fill="#c8e070" opacity="0.89"/><circle cx="315.0" cy="446.2" r="0.4" fill="#e0e060" opacity="0.57"/><circle cx="304.4" cy="417.0" r="0.5" fill="#e0e060" opacity="0.72"/><circle cx="375.1" cy="422.5" r="0.5" fill="#c8e070" opacity="0.63"/><circle cx="340.5" cy="442.1" r="0.4" fill="#a0d060" opacity="0.59"/><circle cx="383.4" cy="482.3" r="0.7" fill="#a0d060" opacity="0.59"/><circle cx="266.6" cy="423.0" r="0.5" fill="#a0d060" opacity="0.84"/><circle cx="373.3" cy="502.7" r="0.4" fill="#e0e060" opacity="0.74"/><circle cx="371.3" cy="355.0" r="0.6" fill="#e0e060" opacity="0.57"/><circle cx="355.7" cy="415.2" r="0.6" fill="#c8e070" opacity="0.92"/><circle cx="347.5" cy="364.7" r="0.4" fill="#e0e060" opacity="0.68"/><circle cx="307.5" cy="473.2" r="0.6" fill="#c8e070" opacity="0.61"/><circle cx="323.2" cy="428.8" r="0.4" fill="#c8e070" opacity="0.85"/><circle cx="375.0" cy="404.9" r="0.7" fill="#f0f080" opacity="0.50"/><circle cx="420.1" cy="361.9" r="0.5" fill="#c8e070" opacity="0.74"/><circle cx="397.9" cy="402.6" r="0.4" fill="#c8e070" opacity="0.63"/><circle cx="393.5" cy="516.2" r="0.4" fill="#f0f080" opacity="0.48"/><circle cx="362.8" cy="515.9" r="0.4" fill="#c8e070" opacity="0.54"/><circle cx="334.6" cy="488.3" r="0.6" fill="#e0e060" opacity="0.82"/><circle cx="367.9" cy="496.2" r="0.4" fill="#e0e060" opacity="0.61"/><circle cx="325.1" cy="452.8" r="0.6" fill="#e0e060" opacity="0.87"/><circle cx="361.1" cy="395.1" r="0.4" fill="#c8e070" opacity="0.81"/><circle cx="399.8" cy="382.5" r="0.7" fill="#a0d060" opacity="0.59"/><circle cx="326.8" cy="428.3" r="0.6" fill="#c8e070" opacity="0.67"/><circle cx="312.2" cy="450.5" r="0.5" fill="#f0f080" opacity="0.95"/><circle cx="398.2" cy="354.4" r="0.7" fill="#a0d060" opacity="0.73"/><circle cx="300.6" cy="404.2" r="0.7" fill="#f0f080" opacity="0.56"/><circle cx="336.3" cy="473.5" r="0.6" fill="#a0d060" opacity="0.84"/><circle cx="313.5" cy="455.0" r="0.5" fill="#f0f080" opacity="0.58"/><circle cx="378.3" cy="473.1" r="0.4" fill="#a0d060" opacity="0.56"/><circle cx="299.3" cy="350.2" r="0.5" fill="#f0f080" opacity="0.58"/><circle cx="408.8" cy="455.8" r="0.5" fill="#f0f080" opacity="0.94"/><circle cx="322.3" cy="509.1" r="0.7" fill="#f0f080" opacity="0.93"/><circle cx="295.7" cy="418.2" r="0.5" fill="#f0f080" opacity="0.79"/><circle cx="329.0" cy="415.1" r="0.5" fill="#f0f080" opacity="0.65"/><circle cx="334.0" cy="388.8" r="0.6" fill="#a0d060" opacity="0.51"/><circle cx="359.7" cy="476.8" r="0.7" fill="#c8e070" opacity="0.83"/><circle cx="305.7" cy="355.3" r="0.7" fill="#a0d060" opacity="0.65"/><circle cx="263.6" cy="413.1" r="0.6" fill="#f0f080" opacity="0.93"/><circle cx="297.8" cy="518.5" r="0.4" fill="#a0d060" opacity="0.49"/><circle cx="303.5" cy="463.9" r="0.4" fill="#c8e070" opacity="0.63"/><circle cx="361.7" cy="396.4" r="0.6" fill="#e0e060" opacity="0.75"/><circle cx="386.6" cy="382.1" r="0.6" fill="#e0e060" opacity="0.55"/><circle cx="362.3" cy="476.0" r="0.5" fill="#c8e070" opacity="0.74"/><circle cx="307.0" cy="457.5" r="0.6" fill="#f0f080" opacity="0.56"/><circle cx="404.1" cy="384.8" r="0.5" fill="#f0f080" opacity="0.84"/><circle cx="355.5" cy="366.9" r="0.5" fill="#e0e060" opacity="0.85"/><circle cx="305.0" cy="386.3" r="0.4" fill="#f0f080" opacity="0.50"/><circle cx="327.7" cy="464.9" r="0.7" fill="#e0e060" opacity="0.92"/><circle cx="324.1" cy="459.8" r="0.4" fill="#f0f080" opacity="0.77"/><circle cx="319.4" cy="478.3" r="0.7" fill="#c8e070" opacity="0.58"/><circle cx="313.2" cy="410.3" r="0.5" fill="#f0f080" opacity="0.68"/><circle cx="376.5" cy="427.7" r="0.4" fill="#f0f080" opacity="0.52"/><circle cx="322.0" cy="420.7" r="0.5" fill="#a0d060" opacity="0.58"/><circle cx="365.1" cy="422.8" r="0.4" fill="#e0e060" opacity="0.66"/><circle cx="314.4" cy="417.8" r="0.5" fill="#e0e060" opacity="0.93"/><circle cx="395.2" cy="372.5" r="0.7" fill="#a0d060" opacity="0.84"/><circle cx="323.0" cy="372.0" r="0.6" fill="#e0e060" opacity="0.61"/><circle cx="321.4" cy="443.8" r="0.4" fill="#a0d060" opacity="0.87"/><circle cx="295.8" cy="392.9" r="0.7" fill="#e0e060" opacity="0.82"/><circle cx="405.9" cy="411.1" r="0.5" fill="#f0f080" opacity="0.79"/><circle cx="319.4" cy="394.8" r="0.5" fill="#e0e060" opacity="0.87"/><circle cx="382.6" cy="429.3" r="0.4" fill="#f0f080" opacity="0.55"/><circle cx="343.4" cy="373.2" r="0.6" fill="#c8e070" opacity="0.55"/><circle cx="323.0" cy="470.3" r="0.5" fill="#e0e060" opacity="0.66"/><circle cx="338.8" cy="375.7" r="0.4" fill="#e0e060" opacity="0.89"/><circle cx="343.3" cy="513.8" r="0.5" fill="#a0d060" opacity="0.61"/><circle cx="384.8" cy="434.3" r="0.6" fill="#c8e070" opacity="0.90"/><circle cx="377.9" cy="391.9" r="0.6" fill="#c8e070" opacity="0.82"/><circle cx="364.4" cy="416.3" r="0.6" fill="#f0f080" opacity="0.71"/><circle cx="288.1" cy="478.1" r="0.6" fill="#f0f080" opacity="0.93"/><circle cx="417.6" cy="422.1" r="0.4" fill="#f0f080" opacity="0.52"/><circle cx="339.1" cy="404.4" r="0.6" fill="#e0e060" opacity="0.47"/><circle cx="315.3" cy="350.6" r="0.6" fill="#c8e070" opacity="0.80"/><circle cx="420.5" cy="405.2" r="0.6" fill="#e0e060" opacity="0.73"/><circle cx="371.2" cy="482.3" r="0.6" fill="#e0e060" opacity="0.57"/><circle cx="299.9" cy="501.3" r="0.5" fill="#e0e060" opacity="0.85"/><circle cx="293.1" cy="390.7" r="0.7" fill="#c8e070" opacity="0.69"/><circle cx="347.8" cy="480.8" r="0.7" fill="#c8e070" opacity="0.75"/><circle cx="410.2" cy="410.5" r="0.5" fill="#f0f080" opacity="0.90"/><circle cx="374.1" cy="465.2" r="0.6" fill="#f0f080" opacity="0.77"/><circle cx="378.4" cy="413.1" r="0.7" fill="#a0d060" opacity="0.71"/><circle cx="367.6" cy="420.5" r="0.5" fill="#a0d060" opacity="0.69"/><circle cx="343.5" cy="421.1" r="0.7" fill="#a0d060" opacity="0.59"/><circle cx="344.8" cy="384.8" r="0.4" fill="#f0f080" opacity="0.83"/><circle cx="301.8" cy="358.5" r="0.6" fill="#a0d060" opacity="0.51"/><circle cx="397.3" cy="417.0" r="0.4" fill="#a0d060" opacity="0.49"/><circle cx="356.4" cy="362.2" r="0.4" fill="#e0e060" opacity="0.91"/><circle cx="323.1" cy="379.4" r="0.6" fill="#c8e070" opacity="0.76"/><circle cx="362.0" cy="451.7" r="0.4" fill="#e0e060" opacity="0.65"/><circle cx="386.2" cy="457.3" r="0.4" fill="#a0d060" opacity="0.70"/><circle cx="387.5" cy="430.1" r="0.7" fill="#e0e060" opacity="0.55"/><circle cx="413.0" cy="437.6" r="0.7" fill="#c8e070" opacity="0.92"/><circle cx="285.1" cy="442.7" r="0.7" fill="#f0f080" opacity="0.48"/><circle cx="304.0" cy="443.5" r="0.5" fill="#e0e060" opacity="0.77"/><circle cx="300.6" cy="457.6" r="0.7" fill="#e0e060" opacity="0.92"/><circle cx="363.0" cy="504.3" r="0.6" fill="#a0d060" opacity="0.83"/><circle cx="306.8" cy="527.0" r="0.7" fill="#e0e060" opacity="0.52"/><circle cx="325.8" cy="439.1" r="0.7" fill="#c8e070" opacity="0.84"/><circle cx="331.3" cy="450.3" r="0.4" fill="#a0d060" opacity="0.76"/><circle cx="312.7" cy="381.2" r="0.7" fill="#e0e060" opacity="0.63"/><circle cx="371.0" cy="381.3" r="0.4" fill="#c8e070" opacity="0.55"/><circle cx="304.5" cy="405.9" r="0.4" fill="#a0d060" opacity="0.72"/><circle cx="304.7" cy="442.1" r="0.5" fill="#a0d060" opacity="0.68"/><circle cx="378.8" cy="406.9" r="0.6" fill="#f0f080" opacity="0.71"/><circle cx="353.1" cy="500.7" r="0.4" fill="#e0e060" opacity="0.92"/><circle cx="340.2" cy="441.1" r="0.4" fill="#a0d060" opacity="0.65"/><circle cx="369.4" cy="368.5" r="0.6" fill="#e0e060" opacity="0.83"/><circle cx="338.5" cy="395.7" r="0.7" fill="#a0d060" opacity="0.54"/><circle cx="404.3" cy="374.6" r="0.5" fill="#a0d060" opacity="0.84"/><circle cx="365.4" cy="360.0" r="0.7" fill="#f0f080" opacity="0.46"/><circle cx="350.3" cy="482.3" r="0.6" fill="#c8e070" opacity="0.47"/><circle cx="353.2" cy="496.6" r="0.7" fill="#f0f080" opacity="0.89"/><circle cx="386.9" cy="423.5" r="0.5" fill="#e0e060" opacity="0.57"/><circle cx="372.7" cy="440.3" r="0.5" fill="#a0d060" opacity="0.94"/><circle cx="350.9" cy="446.1" r="0.5" fill="#c8e070" opacity="0.80"/><circle cx="305.3" cy="360.4" r="0.6" fill="#f0f080" opacity="0.83"/><circle cx="343.3" cy="404.7" r="0.5" fill="#c8e070" opacity="0.81"/><circle cx="417.4" cy="425.4" r="0.4" fill="#a0d060" opacity="0.48"/><circle cx="377.0" cy="420.1" r="0.7" fill="#a0d060" opacity="0.62"/><circle cx="329.2" cy="459.6" r="0.7" fill="#e0e060" opacity="0.56"/><circle cx="342.7" cy="380.7" r="0.6" fill="#a0d060" opacity="0.53"/><circle cx="371.6" cy="420.7" r="0.5" fill="#e0e060" opacity="0.56"/><circle cx="375.4" cy="349.8" r="0.6" fill="#c8e070" opacity="0.83"/><circle cx="357.5" cy="373.8" r="0.4" fill="#e0e060" opacity="0.79"/><circle cx="437.1" cy="466.6" r="0.4" fill="#c8e070" opacity="0.80"/><circle cx="376.5" cy="417.1" r="0.4" fill="#e0e060" opacity="0.58"/><circle cx="319.1" cy="396.5" r="0.6" fill="#f0f080" opacity="0.71"/><circle cx="366.6" cy="430.8" r="0.4" fill="#a0d060" opacity="0.60"/><circle cx="312.5" cy="473.4" r="0.6" fill="#e0e060" opacity="0.47"/><circle cx="324.6" cy="518.3" r="0.4" fill="#c8e070" opacity="0.50"/><circle cx="291.8" cy="405.7" r="0.6" fill="#a0d060" opacity="0.94"/><circle cx="268.6" cy="461.6" r="0.5" fill="#e0e060" opacity="0.93"/><circle cx="421.7" cy="471.8" r="0.5" fill="#f0f080" opacity="0.56"/><circle cx="350.3" cy="435.4" r="0.7" fill="#c8e070" opacity="0.50"/><circle cx="273.2" cy="407.5" r="0.6" fill="#c8e070" opacity="0.88"/><circle cx="362.8" cy="471.0" r="0.5" fill="#f0f080" opacity="0.63"/><circle cx="323.1" cy="430.4" r="0.4" fill="#a0d060" opacity="0.64"/><circle cx="368.4" cy="365.7" r="0.6" fill="#e0e060" opacity="0.62"/><circle cx="330.2" cy="419.3" r="0.5" fill="#e0e060" opacity="0.60"/><circle cx="374.0" cy="428.7" r="0.5" fill="#c8e070" opacity="0.59"/><circle cx="373.8" cy="504.7" r="0.6" fill="#c8e070" opacity="0.65"/><circle cx="408.6" cy="453.7" r="0.7" fill="#e0e060" opacity="0.88"/><circle cx="317.2" cy="446.3" r="0.6" fill="#e0e060" opacity="0.89"/><circle cx="328.4" cy="454.4" r="0.4" fill="#a0d060" opacity="0.75"/><circle cx="351.6" cy="423.1" r="0.4" fill="#f0f080" opacity="0.91"/><circle cx="401.6" cy="447.1" r="0.6" fill="#c8e070" opacity="0.47"/><circle cx="359.6" cy="466.8" r="0.5" fill="#f0f080" opacity="0.72"/><circle cx="321.1" cy="441.2" r="0.4" fill="#c8e070" opacity="0.64"/><circle cx="344.8" cy="520.4" r="0.5" fill="#f0f080" opacity="0.61"/><circle cx="305.7" cy="475.0" r="0.5" fill="#f0f080" opacity="0.90"/><circle cx="319.9" cy="389.7" r="0.4" fill="#a0d060" opacity="0.76"/><circle cx="273.8" cy="408.6" r="0.4" fill="#f0f080" opacity="0.79"/><circle cx="359.8" cy="372.8" r="0.5" fill="#f0f080" opacity="0.86"/><circle cx="370.1" cy="464.2" r="0.4" fill="#c8e070" opacity="0.82"/><circle cx="339.2" cy="423.3" r="0.7" fill="#e0e060" opacity="0.61"/><circle cx="379.6" cy="427.9" r="0.5" fill="#e0e060" opacity="0.94"/><circle cx="406.3" cy="424.2" r="0.7" fill="#f0f080" opacity="0.59"/><circle cx="414.1" cy="515.4" r="0.6" fill="#f0f080" opacity="0.62"/><circle cx="424.6" cy="465.6" r="0.4" fill="#e0e060" opacity="0.95"/><circle cx="345.0" cy="466.4" r="0.6" fill="#f0f080" opacity="0.49"/><circle cx="307.2" cy="407.8" r="0.5" fill="#a0d060" opacity="0.74"/><circle cx="376.2" cy="382.7" r="0.4" fill="#e0e060" opacity="0.80"/><circle cx="389.8" cy="391.4" r="0.4" fill="#a0d060" opacity="0.77"/><circle cx="288.2" cy="419.7" r="0.6" fill="#e0e060" opacity="0.57"/><circle cx="355.4" cy="512.6" r="0.6" fill="#e0e060" opacity="0.64"/><circle cx="355.4" cy="455.6" r="0.4" fill="#f0f080" opacity="0.83"/><circle cx="311.8" cy="493.3" r="0.7" fill="#e0e060" opacity="0.72"/><circle cx="356.6" cy="376.4" r="0.4" fill="#c8e070" opacity="0.87"/><circle cx="341.3" cy="516.6" r="0.4" fill="#a0d060" opacity="0.53"/><circle cx="361.7" cy="447.8" r="0.7" fill="#a0d060" opacity="0.61"/><circle cx="363.2" cy="389.2" r="0.7" fill="#c8e070" opacity="0.50"/><circle cx="372.2" cy="360.1" r="0.6" fill="#a0d060" opacity="0.55"/><circle cx="368.2" cy="420.7" r="0.7" fill="#e0e060" opacity="0.90"/><circle cx="269.7" cy="362.3" r="0.6" fill="#a0d060" opacity="0.78"/><circle cx="348.1" cy="455.2" r="0.7" fill="#e0e060" opacity="0.53"/><circle cx="267.8" cy="462.7" r="0.6" fill="#e0e060" opacity="0.76"/><circle cx="412.9" cy="346.5" r="0.7" fill="#e0e060" opacity="0.88"/><circle cx="300.1" cy="359.6" r="0.6" fill="#e0e060" opacity="0.54"/><circle cx="284.7" cy="390.5" r="0.6" fill="#c8e070" opacity="0.89"/><circle cx="364.1" cy="509.7" r="0.6" fill="#c8e070" opacity="0.91"/><circle cx="428.5" cy="411.9" r="0.5" fill="#a0d060" opacity="0.46"/><circle cx="277.6" cy="393.2" r="0.5" fill="#a0d060" opacity="0.87"/><circle cx="297.8" cy="434.7" r="0.7" fill="#e0e060" opacity="0.91"/><circle cx="356.2" cy="425.9" r="0.5" fill="#f0f080" opacity="0.49"/><circle cx="324.4" cy="423.3" r="0.4" fill="#a0d060" opacity="0.63"/><circle cx="307.7" cy="507.3" r="0.7" fill="#e0e060" opacity="0.83"/><circle cx="389.6" cy="429.8" r="0.4" fill="#a0d060" opacity="0.86"/><circle cx="368.3" cy="392.1" r="0.4" fill="#e0e060" opacity="0.66"/><circle cx="432.5" cy="395.8" r="0.7" fill="#c8e070" opacity="0.72"/><circle cx="345.3" cy="431.3" r="0.7" fill="#f0f080" opacity="0.92"/><circle cx="366.8" cy="402.9" r="0.4" fill="#a0d060" opacity="0.77"/><circle cx="343.5" cy="379.3" r="0.5" fill="#e0e060" opacity="0.65"/><circle cx="313.2" cy="468.1" r="0.6" fill="#a0d060" opacity="0.48"/><circle cx="339.0" cy="466.7" r="0.6" fill="#a0d060" opacity="0.58"/><circle cx="302.2" cy="382.0" r="0.5" fill="#f0f080" opacity="0.85"/><circle cx="361.4" cy="366.1" r="0.4" fill="#c8e070" opacity="0.90"/><circle cx="369.0" cy="409.3" r="0.7" fill="#a0d060" opacity="0.85"/><circle cx="295.5" cy="401.2" r="0.7" fill="#e0e060" opacity="0.66"/><circle cx="400.1" cy="469.2" r="0.4" fill="#a0d060" opacity="0.72"/><circle cx="384.5" cy="377.2" r="0.4" fill="#c8e070" opacity="0.62"/><circle cx="282.5" cy="396.3" r="0.6" fill="#c8e070" opacity="0.46"/><circle cx="428.9" cy="426.3" r="0.6" fill="#c8e070" opacity="0.69"/><circle cx="363.3" cy="396.6" r="0.6" fill="#a0d060" opacity="0.85"/><circle cx="408.9" cy="442.0" r="0.4" fill="#a0d060" opacity="0.79"/><circle cx="349.7" cy="486.1" r="0.7" fill="#e0e060" opacity="0.82"/><circle cx="344.3" cy="460.4" r="0.5" fill="#a0d060" opacity="0.74"/><circle cx="346.0" cy="453.2" r="0.6" fill="#a0d060" opacity="0.87"/><circle cx="339.3" cy="438.0" r="0.7" fill="#e0e060" opacity="0.64"/><circle cx="360.0" cy="509.4" r="0.7" fill="#a0d060" opacity="0.72"/><circle cx="374.6" cy="426.1" r="0.5" fill="#f0f080" opacity="0.49"/><circle cx="340.9" cy="517.9" r="0.4" fill="#c8e070" opacity="0.91"/><circle cx="376.4" cy="432.7" r="0.5" fill="#f0f080" opacity="0.56"/><circle cx="401.2" cy="481.8" r="0.6" fill="#e0e060" opacity="0.78"/><circle cx="305.0" cy="458.6" r="0.7" fill="#e0e060" opacity="0.87"/><circle cx="378.5" cy="508.6" r="0.6" fill="#a0d060" opacity="0.81"/><circle cx="388.7" cy="432.9" r="0.6" fill="#f0f080" opacity="0.62"/><circle cx="352.7" cy="431.2" r="0.5" fill="#c8e070" opacity="0.54"/><circle cx="360.4" cy="454.2" r="0.6" fill="#a0d060" opacity="0.61"/><circle cx="357.7" cy="468.0" r="0.6" fill="#a0d060" opacity="0.49"/><circle cx="428.4" cy="366.1" r="0.4" fill="#c8e070" opacity="0.56"/><circle cx="342.0" cy="396.0" r="0.4" fill="#f0f080" opacity="0.91"/><circle cx="329.2" cy="449.7" r="0.4" fill="#e0e060" opacity="0.70"/><circle cx="363.1" cy="417.1" r="0.4" fill="#e0e060" opacity="0.69"/><circle cx="345.6" cy="408.7" r="0.5" fill="#e0e060" opacity="0.83"/><circle cx="370.1" cy="355.2" r="0.6" fill="#c8e070" opacity="0.55"/><circle cx="279.3" cy="394.4" r="0.6" fill="#c8e070" opacity="0.80"/><circle cx="332.9" cy="411.5" r="0.4" fill="#a0d060" opacity="0.77"/><circle cx="400.8" cy="428.1" r="0.6" fill="#a0d060" opacity="0.69"/><circle cx="309.6" cy="426.1" r="0.6" fill="#a0d060" opacity="0.47"/><circle cx="362.6" cy="441.5" r="0.5" fill="#a0d060" opacity="0.77"/><circle cx="366.0" cy="386.0" r="0.4" fill="#c8e070" opacity="0.93"/><circle cx="375.1" cy="363.2" r="0.7" fill="#c8e070" opacity="0.63"/><circle cx="316.7" cy="396.5" r="0.5" fill="#f0f080" opacity="0.47"/><circle cx="355.8" cy="397.6" r="0.4" fill="#a0d060" opacity="0.49"/><circle cx="365.6" cy="430.2" r="0.6" fill="#e0e060" opacity="0.55"/><circle cx="342.0" cy="486.0" r="0.7" fill="#e0e060" opacity="0.90"/><circle cx="403.0" cy="478.9" r="0.4" fill="#f0f080" opacity="0.61"/><circle cx="342.7" cy="442.1" r="0.7" fill="#a0d060" opacity="0.60"/><circle cx="346.8" cy="430.1" r="0.5" fill="#e0e060" opacity="0.67"/><circle cx="341.0" cy="433.5" r="0.5" fill="#f0f080" opacity="0.93"/><circle cx="283.4" cy="424.8" r="0.6" fill="#c8e070" opacity="0.75"/><circle cx="297.7" cy="420.8" r="0.7" fill="#e0e060" opacity="0.75"/><circle cx="314.3" cy="442.5" r="0.7" fill="#c8e070" opacity="0.74"/><circle cx="328.1" cy="434.2" r="0.5" fill="#e0e060" opacity="0.62"/><circle cx="370.0" cy="382.1" r="0.6" fill="#e0e060" opacity="0.67"/><circle cx="427.9" cy="400.7" r="0.6" fill="#e0e060" opacity="0.77"/><circle cx="316.1" cy="382.4" r="0.7" fill="#f0f080" opacity="0.53"/><circle cx="336.5" cy="446.0" r="0.7" fill="#c8e070" opacity="0.70"/><circle cx="343.1" cy="418.5" r="0.5" fill="#c8e070" opacity="0.63"/><circle cx="421.1" cy="476.8" r="0.7" fill="#c8e070" opacity="0.49"/><circle cx="350.5" cy="475.6" r="0.7" fill="#a0d060" opacity="0.84"/><circle cx="361.5" cy="411.6" r="0.4" fill="#c8e070" opacity="0.91"/><circle cx="323.7" cy="385.3" r="0.6" fill="#e0e060" opacity="0.81"/><circle cx="376.2" cy="466.6" r="0.4" fill="#a0d060" opacity="0.70"/><circle cx="364.1" cy="419.3" r="0.5" fill="#f0f080" opacity="0.78"/><circle cx="310.3" cy="421.1" r="0.6" fill="#a0d060" opacity="0.90"/><circle cx="351.1" cy="428.9" r="0.4" fill="#c8e070" opacity="0.46"/><circle cx="366.3" cy="382.4" r="0.4" fill="#e0e060" opacity="0.70"/><circle cx="335.3" cy="371.1" r="0.6" fill="#a0d060" opacity="0.92"/><circle cx="361.1" cy="390.6" r="0.6" fill="#c8e070" opacity="0.84"/><circle cx="322.0" cy="436.2" r="0.5" fill="#e0e060" opacity="0.79"/><circle cx="340.9" cy="461.9" r="0.7" fill="#f0f080" opacity="0.58"/><circle cx="311.9" cy="449.8" r="0.7" fill="#e0e060" opacity="0.77"/><circle cx="316.7" cy="413.0" r="0.4" fill="#a0d060" opacity="0.94"/><circle cx="356.1" cy="438.0" r="0.6" fill="#f0f080" opacity="0.95"/><circle cx="304.4" cy="404.8" r="0.6" fill="#e0e060" opacity="0.57"/><circle cx="333.9" cy="402.6" r="0.4" fill="#e0e060" opacity="0.88"/><circle cx="319.4" cy="369.1" r="0.4" fill="#e0e060" opacity="0.55"/><circle cx="383.7" cy="455.1" r="0.5" fill="#c8e070" opacity="0.72"/><circle cx="319.0" cy="444.9" r="0.4" fill="#e0e060" opacity="0.47"/><circle cx="292.7" cy="399.5" r="0.5" fill="#e0e060" opacity="0.83"/><circle cx="332.6" cy="447.4" r="0.4" fill="#f0f080" opacity="0.93"/><circle cx="405.3" cy="398.5" r="0.7" fill="#a0d060" opacity="0.68"/><circle cx="402.0" cy="408.8" r="0.5" fill="#f0f080" opacity="0.49"/><circle cx="310.9" cy="408.4" r="0.4" fill="#f0f080" opacity="0.58"/><circle cx="346.8" cy="418.6" r="0.6" fill="#a0d060" opacity="0.64"/><circle cx="379.8" cy="360.7" r="0.4" fill="#a0d060" opacity="0.79"/><circle cx="283.3" cy="344.5" r="0.5" fill="#a0d060" opacity="0.84"/><circle cx="383.9" cy="435.4" r="0.4" fill="#e0e060" opacity="0.56"/><circle cx="354.0" cy="416.0" r="0.6" fill="#e0e060" opacity="0.65"/><circle cx="381.7" cy="472.6" r="0.4" fill="#a0d060" opacity="0.56"/><circle cx="423.1" cy="497.1" r="0.5" fill="#f0f080" opacity="0.91"/><circle cx="381.1" cy="466.2" r="0.4" fill="#e0e060" opacity="0.63"/><circle cx="322.3" cy="352.2" r="0.4" fill="#f0f080" opacity="0.68"/><circle cx="410.9" cy="454.3" r="0.6" fill="#f0f080" opacity="0.66"/><circle cx="368.3" cy="456.5" r="0.7" fill="#c8e070" opacity="0.81"/><circle cx="401.6" cy="385.0" r="0.7" fill="#e0e060" opacity="0.67"/><circle cx="434.2" cy="386.0" r="0.4" fill="#e0e060" opacity="0.59"/><circle cx="370.1" cy="473.2" r="0.7" fill="#c8e070" opacity="0.78"/><circle cx="333.8" cy="479.2" r="0.6" fill="#f0f080" opacity="0.78"/><circle cx="347.7" cy="368.2" r="0.6" fill="#c8e070" opacity="0.50"/><circle cx="374.1" cy="382.3" r="0.6" fill="#e0e060" opacity="0.68"/><circle cx="285.1" cy="438.9" r="0.4" fill="#f0f080" opacity="0.49"/><circle cx="310.4" cy="463.0" r="0.5" fill="#c8e070" opacity="0.60"/>
<ellipse cx="280" cy="449" rx="6" ry="7" fill="#e0e090" opacity="0.45" filter="url(#bl2)"/>
<ellipse cx="422" cy="520" rx="10" ry="7" fill="#ffb0c8" opacity="0.85" filter="url(#bl4)"/>
<ellipse cx="342" cy="523" rx="10" ry="8" fill="#ff90b0" opacity="0.6" filter="url(#bl4)"/>
<ellipse cx="362" cy="544" rx="8" ry="5" fill="#ff90b0" opacity="0.6" filter="url(#bl4)"/>
<ellipse cx="445" cy="360" rx="8" ry="10" fill="#ff90b0" opacity="0.45" filter="url(#bl4)"/>
<path d="M404 547 C430 535 460 510 487 484 L487 547 Z" fill="#2a1412"/>
<path d="M404 547 C430 535 460 510 487 484" fill="none" stroke="#f08090" stroke-width="1"/>
</g>
<ellipse cx="342.6" cy="378" rx="32" ry="21" transform="rotate(-71 342.6 378)" fill="none" stroke="#fff" stroke-width="2" stroke-dasharray="2 2"/>
<text x="344.1" y="380" font-size="9" font-weight="bold" text-anchor="middle" fill="#fff"  stroke="#fff" stroke-width="0.3">ac</text>
<rect x="290.1" y="392.5" width="74.5" height="50.7" fill="none" stroke="#fff" stroke-width="2.2"/>
<line x1="220.4" y1="536.6" x2="240.5" y2="536.6" stroke="#fff" stroke-width="1.4" />
<text x="230" y="541.5" font-size="3.5" font-weight="normal" text-anchor="middle" fill="#fff" >200µm</text>
<text x="477.8" y="521.3" font-size="12.7" font-weight="bold" text-anchor="end" fill="#1aa060"  stroke="#1aa060" stroke-width="0.3">GFP</text>
<text x="477.8" y="537.2" font-size="12.7" font-weight="bold" text-anchor="end" fill="#c02838"  stroke="#c02838" stroke-width="0.3">NeuN</text>
<clipPath id="cS1"><rect x="495" y="341.8" width="86.8" height="64.8"/></clipPath><clipPath id="cS2"><rect x="495" y="411.9" width="86.8" height="64.8"/></clipPath><clipPath id="cS3"><rect x="495" y="482.3" width="86.8" height="64.8"/></clipPath>
<g clip-path="url(#cS1)">
<rect x="495" y="341.8" width="86.8" height="64.8" fill="#060404"/>
<circle cx="515.3" cy="403.4" r="0.4" fill="#20a030" opacity="0.57"/><circle cx="565.0" cy="374.7" r="0.6" fill="#30c040" opacity="0.73"/><circle cx="503.6" cy="357.6" r="0.7" fill="#40e050" opacity="0.74"/><circle cx="573.4" cy="388.5" r="0.9" fill="#30c040" opacity="0.53"/><circle cx="548.7" cy="366.6" r="0.5" fill="#40e050" opacity="0.54"/><circle cx="572.8" cy="375.4" r="0.7" fill="#30c040" opacity="0.77"/><circle cx="499.2" cy="387.0" r="0.6" fill="#20a030" opacity="0.79"/><circle cx="532.2" cy="352.8" r="0.7" fill="#20a030" opacity="0.85"/><circle cx="576.7" cy="395.9" r="0.6" fill="#30c040" opacity="0.68"/><circle cx="568.8" cy="400.3" r="0.5" fill="#40e050" opacity="0.51"/><circle cx="525.2" cy="359.6" r="0.5" fill="#40e050" opacity="0.85"/><circle cx="531.4" cy="384.2" r="0.8" fill="#20a030" opacity="0.51"/><circle cx="578.7" cy="352.9" r="0.6" fill="#40e050" opacity="0.59"/><circle cx="533.0" cy="357.4" r="0.6" fill="#40e050" opacity="0.54"/><circle cx="501.9" cy="388.0" r="0.5" fill="#20a030" opacity="0.76"/><circle cx="526.6" cy="393.7" r="0.5" fill="#20a030" opacity="0.80"/><circle cx="512.1" cy="400.3" r="0.7" fill="#20a030" opacity="0.87"/><circle cx="525.9" cy="403.6" r="0.5" fill="#40e050" opacity="0.94"/><circle cx="580.2" cy="379.3" r="0.6" fill="#40e050" opacity="0.54"/><circle cx="547.5" cy="374.1" r="0.6" fill="#30c040" opacity="0.55"/><circle cx="557.3" cy="383.6" r="0.8" fill="#20a030" opacity="0.86"/><circle cx="536.1" cy="367.6" r="0.4" fill="#30c040" opacity="0.52"/><circle cx="505.5" cy="356.1" r="0.7" fill="#20a030" opacity="0.51"/><circle cx="526.9" cy="370.0" r="0.8" fill="#20a030" opacity="0.75"/><circle cx="555.9" cy="355.4" r="0.6" fill="#20a030" opacity="0.76"/><circle cx="512.7" cy="361.0" r="0.8" fill="#30c040" opacity="0.96"/><circle cx="579.4" cy="356.9" r="0.6" fill="#20a030" opacity="0.87"/><circle cx="564.6" cy="389.5" r="0.7" fill="#40e050" opacity="0.98"/><circle cx="562.6" cy="361.4" r="0.6" fill="#30c040" opacity="0.69"/><circle cx="545.7" cy="400.7" r="0.7" fill="#40e050" opacity="0.92"/><circle cx="554.2" cy="401.8" r="0.7" fill="#20a030" opacity="0.68"/><circle cx="532.3" cy="373.7" r="0.5" fill="#30c040" opacity="0.53"/><circle cx="558.3" cy="359.9" r="0.7" fill="#30c040" opacity="0.91"/><circle cx="579.9" cy="360.1" r="0.5" fill="#40e050" opacity="0.94"/><circle cx="563.2" cy="389.9" r="0.7" fill="#20a030" opacity="0.60"/><circle cx="538.2" cy="349.5" r="0.7" fill="#30c040" opacity="0.89"/><circle cx="580.4" cy="400.8" r="0.4" fill="#30c040" opacity="0.60"/><circle cx="518.5" cy="348.8" r="0.9" fill="#20a030" opacity="0.96"/><circle cx="551.5" cy="363.0" r="0.8" fill="#30c040" opacity="0.83"/><circle cx="557.6" cy="380.6" r="0.8" fill="#40e050" opacity="0.98"/><circle cx="547.8" cy="370.2" r="0.5" fill="#40e050" opacity="0.86"/><circle cx="501.5" cy="376.5" r="0.6" fill="#30c040" opacity="0.60"/><circle cx="576.4" cy="346.4" r="0.8" fill="#30c040" opacity="0.78"/><circle cx="580.8" cy="401.5" r="0.5" fill="#40e050" opacity="0.59"/><circle cx="534.1" cy="384.9" r="0.7" fill="#40e050" opacity="0.95"/><circle cx="540.9" cy="362.3" r="0.8" fill="#40e050" opacity="0.92"/><circle cx="519.5" cy="382.8" r="0.5" fill="#20a030" opacity="0.61"/><circle cx="551.0" cy="350.6" r="0.8" fill="#30c040" opacity="0.75"/><circle cx="521.2" cy="366.4" r="0.8" fill="#30c040" opacity="0.51"/><circle cx="561.3" cy="395.8" r="0.9" fill="#20a030" opacity="0.55"/><circle cx="580.9" cy="345.3" r="0.6" fill="#20a030" opacity="0.99"/><circle cx="505.0" cy="362.9" r="0.7" fill="#30c040" opacity="0.74"/><circle cx="558.4" cy="401.3" r="0.6" fill="#20a030" opacity="0.52"/><circle cx="515.8" cy="365.5" r="0.5" fill="#20a030" opacity="0.57"/><circle cx="518.6" cy="344.2" r="0.7" fill="#40e050" opacity="0.63"/><circle cx="567.5" cy="361.0" r="0.7" fill="#40e050" opacity="0.54"/><circle cx="572.3" cy="370.4" r="0.5" fill="#20a030" opacity="0.86"/><circle cx="552.7" cy="365.6" r="0.7" fill="#30c040" opacity="0.85"/><circle cx="514.5" cy="382.9" r="0.9" fill="#30c040" opacity="0.51"/><circle cx="533.7" cy="395.0" r="0.9" fill="#30c040" opacity="0.87"/><circle cx="558.7" cy="379.1" r="0.4" fill="#30c040" opacity="0.61"/><circle cx="522.9" cy="348.7" r="0.8" fill="#30c040" opacity="0.84"/><circle cx="560.3" cy="394.4" r="0.6" fill="#30c040" opacity="0.57"/><circle cx="552.5" cy="364.6" r="0.4" fill="#20a030" opacity="0.70"/><circle cx="552.4" cy="405.2" r="0.6" fill="#40e050" opacity="0.58"/><circle cx="500.7" cy="394.9" r="0.7" fill="#40e050" opacity="0.80"/><circle cx="538.0" cy="387.9" r="0.9" fill="#20a030" opacity="0.72"/><circle cx="571.9" cy="394.8" r="0.9" fill="#40e050" opacity="0.93"/><circle cx="578.5" cy="381.7" r="0.4" fill="#40e050" opacity="0.76"/><circle cx="524.6" cy="402.4" r="0.6" fill="#30c040" opacity="0.84"/><circle cx="574.2" cy="364.1" r="0.4" fill="#40e050" opacity="0.66"/><circle cx="544.6" cy="384.4" r="0.8" fill="#40e050" opacity="0.96"/><circle cx="529.9" cy="391.2" r="0.7" fill="#40e050" opacity="0.96"/><circle cx="568.9" cy="368.7" r="0.7" fill="#40e050" opacity="0.94"/><circle cx="578.9" cy="355.4" r="0.7" fill="#20a030" opacity="0.75"/><circle cx="527.7" cy="373.3" r="0.5" fill="#20a030" opacity="0.53"/><circle cx="533.8" cy="347.9" r="0.7" fill="#30c040" opacity="0.54"/><circle cx="524.5" cy="367.0" r="0.7" fill="#40e050" opacity="0.98"/><circle cx="571.8" cy="346.5" r="0.8" fill="#20a030" opacity="0.94"/><circle cx="542.0" cy="384.8" r="0.8" fill="#20a030" opacity="0.83"/><circle cx="575.9" cy="375.8" r="0.5" fill="#20a030" opacity="0.56"/><circle cx="574.5" cy="374.9" r="0.8" fill="#40e050" opacity="0.78"/><circle cx="576.9" cy="382.1" r="0.5" fill="#30c040" opacity="0.87"/><circle cx="571.3" cy="404.8" r="0.7" fill="#30c040" opacity="0.80"/><circle cx="556.7" cy="386.2" r="0.9" fill="#20a030" opacity="0.74"/><circle cx="511.5" cy="388.1" r="0.8" fill="#30c040" opacity="0.72"/><circle cx="561.3" cy="344.7" r="0.7" fill="#30c040" opacity="0.75"/><circle cx="517.6" cy="400.0" r="0.6" fill="#40e050" opacity="0.73"/><circle cx="554.7" cy="351.0" r="0.6" fill="#40e050" opacity="0.67"/><circle cx="540.2" cy="386.3" r="0.6" fill="#40e050" opacity="0.84"/><circle cx="531.5" cy="350.8" r="0.5" fill="#30c040" opacity="0.60"/><circle cx="573.5" cy="356.1" r="0.9" fill="#40e050" opacity="0.68"/><circle cx="563.9" cy="374.6" r="0.9" fill="#40e050" opacity="0.65"/><circle cx="572.7" cy="356.7" r="0.7" fill="#30c040" opacity="0.75"/><circle cx="570.3" cy="377.0" r="0.5" fill="#20a030" opacity="0.54"/><circle cx="533.5" cy="374.1" r="0.5" fill="#20a030" opacity="0.95"/><circle cx="497.8" cy="400.2" r="0.6" fill="#20a030" opacity="0.86"/><circle cx="580.7" cy="387.0" r="0.5" fill="#20a030" opacity="0.53"/><circle cx="537.3" cy="403.0" r="0.8" fill="#30c040" opacity="0.55"/><circle cx="507.7" cy="394.3" r="0.8" fill="#40e050" opacity="0.83"/><circle cx="570.0" cy="400.6" r="0.4" fill="#40e050" opacity="0.96"/><circle cx="522.9" cy="374.3" r="0.9" fill="#30c040" opacity="0.94"/><circle cx="539.5" cy="390.9" r="0.6" fill="#20a030" opacity="0.96"/><circle cx="560.5" cy="382.7" r="0.4" fill="#30c040" opacity="0.64"/><circle cx="566.5" cy="376.1" r="0.7" fill="#40e050" opacity="0.65"/><circle cx="542.2" cy="355.9" r="0.8" fill="#30c040" opacity="0.88"/><circle cx="521.7" cy="398.9" r="0.6" fill="#40e050" opacity="0.81"/><circle cx="564.2" cy="362.9" r="0.9" fill="#40e050" opacity="0.88"/><circle cx="549.3" cy="386.9" r="0.7" fill="#30c040" opacity="0.56"/><circle cx="549.2" cy="346.0" r="0.7" fill="#40e050" opacity="0.82"/><circle cx="537.6" cy="390.4" r="0.7" fill="#20a030" opacity="0.93"/><circle cx="537.7" cy="389.9" r="0.7" fill="#40e050" opacity="0.71"/><circle cx="566.6" cy="377.2" r="0.9" fill="#30c040" opacity="0.92"/><circle cx="564.3" cy="384.8" r="0.5" fill="#20a030" opacity="0.71"/><circle cx="541.6" cy="396.0" r="0.7" fill="#40e050" opacity="0.93"/><circle cx="573.5" cy="365.4" r="0.5" fill="#20a030" opacity="0.62"/><circle cx="565.6" cy="402.7" r="0.7" fill="#20a030" opacity="0.78"/><circle cx="571.1" cy="350.7" r="0.5" fill="#30c040" opacity="0.74"/><circle cx="541.0" cy="391.7" r="0.7" fill="#20a030" opacity="0.91"/><circle cx="551.9" cy="345.9" r="0.6" fill="#40e050" opacity="0.64"/><circle cx="535.8" cy="366.0" r="0.6" fill="#30c040" opacity="0.84"/><circle cx="524.5" cy="400.3" r="0.9" fill="#40e050" opacity="0.53"/><circle cx="500.7" cy="361.3" r="0.8" fill="#40e050" opacity="0.70"/><circle cx="551.4" cy="357.2" r="0.6" fill="#30c040" opacity="0.81"/><circle cx="556.5" cy="385.5" r="0.5" fill="#20a030" opacity="0.53"/><circle cx="574.9" cy="347.9" r="0.6" fill="#40e050" opacity="0.62"/><circle cx="501.3" cy="357.1" r="0.6" fill="#30c040" opacity="0.78"/><circle cx="505.7" cy="387.0" r="0.7" fill="#40e050" opacity="0.93"/><circle cx="563.6" cy="366.5" r="0.4" fill="#20a030" opacity="0.70"/><circle cx="528.3" cy="369.2" r="0.4" fill="#40e050" opacity="0.62"/><circle cx="534.0" cy="355.7" r="0.6" fill="#40e050" opacity="0.58"/><circle cx="548.6" cy="364.9" r="0.9" fill="#30c040" opacity="0.89"/><circle cx="498.4" cy="386.7" r="0.7" fill="#30c040" opacity="0.78"/><circle cx="548.2" cy="353.9" r="0.8" fill="#40e050" opacity="0.59"/><circle cx="545.6" cy="385.8" r="0.8" fill="#20a030" opacity="0.98"/><circle cx="554.5" cy="352.7" r="0.6" fill="#20a030" opacity="0.92"/><circle cx="526.2" cy="371.3" r="0.4" fill="#30c040" opacity="0.64"/><circle cx="564.4" cy="398.7" r="0.6" fill="#40e050" opacity="0.71"/><circle cx="571.2" cy="382.9" r="0.6" fill="#20a030" opacity="0.63"/><circle cx="540.0" cy="400.6" r="0.7" fill="#40e050" opacity="0.67"/><circle cx="514.0" cy="353.1" r="0.6" fill="#30c040" opacity="0.52"/><circle cx="536.0" cy="379.6" r="0.6" fill="#40e050" opacity="0.99"/><circle cx="522.7" cy="345.4" r="0.7" fill="#30c040" opacity="0.85"/><circle cx="560.9" cy="348.4" r="0.7" fill="#40e050" opacity="0.89"/><circle cx="525.3" cy="361.9" r="0.6" fill="#40e050" opacity="0.76"/><circle cx="527.7" cy="359.3" r="0.4" fill="#30c040" opacity="0.73"/><circle cx="580.1" cy="376.1" r="0.8" fill="#40e050" opacity="0.56"/><circle cx="564.5" cy="348.0" r="0.4" fill="#40e050" opacity="0.92"/><circle cx="557.6" cy="364.9" r="0.5" fill="#40e050" opacity="0.56"/><circle cx="526.0" cy="350.7" r="0.6" fill="#20a030" opacity="0.60"/><circle cx="537.1" cy="363.6" r="0.7" fill="#30c040" opacity="0.80"/><circle cx="548.8" cy="401.9" r="0.8" fill="#20a030" opacity="1.00"/><circle cx="578.5" cy="380.2" r="0.5" fill="#40e050" opacity="0.82"/><circle cx="568.8" cy="378.2" r="0.9" fill="#40e050" opacity="0.55"/><circle cx="574.8" cy="396.4" r="0.4" fill="#20a030" opacity="0.75"/><circle cx="507.3" cy="378.9" r="0.6" fill="#30c040" opacity="0.59"/><circle cx="531.2" cy="362.4" r="0.8" fill="#40e050" opacity="0.81"/><circle cx="530.2" cy="376.6" r="0.8" fill="#30c040" opacity="0.96"/><circle cx="530.0" cy="357.5" r="0.5" fill="#20a030" opacity="0.52"/><circle cx="508.5" cy="394.3" r="0.7" fill="#30c040" opacity="0.53"/><circle cx="566.4" cy="376.7" r="0.7" fill="#30c040" opacity="0.89"/><circle cx="517.1" cy="397.9" r="0.7" fill="#20a030" opacity="0.98"/><circle cx="526.1" cy="387.0" r="0.5" fill="#40e050" opacity="0.95"/><circle cx="525.7" cy="386.1" r="0.6" fill="#20a030" opacity="0.53"/><circle cx="558.4" cy="364.7" r="0.6" fill="#30c040" opacity="0.54"/><circle cx="571.5" cy="383.5" r="0.7" fill="#20a030" opacity="0.85"/><circle cx="549.1" cy="352.3" r="0.5" fill="#40e050" opacity="0.95"/><circle cx="518.7" cy="398.1" r="0.5" fill="#40e050" opacity="0.93"/><circle cx="517.3" cy="370.7" r="0.5" fill="#20a030" opacity="0.70"/><circle cx="565.7" cy="359.1" r="0.6" fill="#20a030" opacity="0.90"/><circle cx="568.3" cy="389.3" r="0.6" fill="#30c040" opacity="0.74"/><circle cx="578.5" cy="404.2" r="0.6" fill="#20a030" opacity="0.76"/><circle cx="559.0" cy="359.1" r="0.5" fill="#20a030" opacity="0.58"/><circle cx="558.9" cy="389.4" r="0.5" fill="#20a030" opacity="0.65"/><circle cx="562.5" cy="398.8" r="0.4" fill="#30c040" opacity="0.59"/><circle cx="536.2" cy="346.7" r="0.7" fill="#30c040" opacity="0.95"/><circle cx="501.7" cy="376.1" r="0.8" fill="#40e050" opacity="0.60"/><circle cx="499.2" cy="389.3" r="0.5" fill="#20a030" opacity="0.68"/><circle cx="499.9" cy="378.1" r="0.5" fill="#40e050" opacity="0.66"/><circle cx="579.4" cy="397.2" r="0.7" fill="#30c040" opacity="0.95"/><circle cx="560.1" cy="352.5" r="0.7" fill="#30c040" opacity="0.83"/><circle cx="554.5" cy="353.1" r="0.6" fill="#30c040" opacity="0.73"/><circle cx="559.7" cy="389.9" r="0.4" fill="#20a030" opacity="0.70"/><circle cx="543.3" cy="403.8" r="0.7" fill="#40e050" opacity="0.61"/><circle cx="532.4" cy="392.1" r="0.5" fill="#30c040" opacity="0.62"/><circle cx="573.0" cy="386.1" r="0.9" fill="#30c040" opacity="0.51"/><circle cx="547.0" cy="395.9" r="0.7" fill="#20a030" opacity="0.83"/><circle cx="524.2" cy="376.3" r="0.5" fill="#20a030" opacity="0.84"/><circle cx="579.9" cy="345.3" r="0.5" fill="#30c040" opacity="0.52"/><circle cx="539.0" cy="344.1" r="0.8" fill="#30c040" opacity="0.60"/><circle cx="562.4" cy="367.7" r="0.7" fill="#40e050" opacity="0.53"/><circle cx="571.6" cy="377.8" r="0.8" fill="#40e050" opacity="0.96"/><circle cx="575.7" cy="346.6" r="0.8" fill="#20a030" opacity="0.78"/><circle cx="503.1" cy="401.0" r="0.6" fill="#30c040" opacity="0.51"/><circle cx="529.6" cy="389.1" r="0.8" fill="#20a030" opacity="0.93"/><circle cx="576.3" cy="383.7" r="0.8" fill="#30c040" opacity="0.54"/><circle cx="524.6" cy="357.0" r="0.8" fill="#20a030" opacity="0.66"/><circle cx="575.9" cy="348.4" r="0.5" fill="#40e050" opacity="0.57"/><circle cx="514.2" cy="351.4" r="0.7" fill="#20a030" opacity="0.66"/><circle cx="524.6" cy="380.9" r="0.6" fill="#20a030" opacity="0.87"/><circle cx="565.8" cy="400.6" r="0.6" fill="#40e050" opacity="0.71"/><circle cx="571.5" cy="399.6" r="0.8" fill="#20a030" opacity="0.54"/><circle cx="527.8" cy="357.7" r="0.7" fill="#40e050" opacity="0.69"/><circle cx="560.9" cy="347.2" r="0.5" fill="#40e050" opacity="0.96"/><circle cx="559.8" cy="403.6" r="0.7" fill="#30c040" opacity="0.95"/><circle cx="535.4" cy="363.2" r="0.5" fill="#30c040" opacity="0.55"/><circle cx="539.6" cy="405.1" r="0.8" fill="#20a030" opacity="0.66"/><circle cx="521.3" cy="364.3" r="0.6" fill="#30c040" opacity="0.98"/><circle cx="535.3" cy="365.9" r="0.8" fill="#40e050" opacity="0.66"/><circle cx="575.4" cy="390.8" r="0.8" fill="#20a030" opacity="0.82"/><circle cx="548.7" cy="395.9" r="0.6" fill="#40e050" opacity="0.75"/><circle cx="519.9" cy="373.5" r="0.5" fill="#20a030" opacity="0.68"/><circle cx="558.1" cy="375.6" r="0.6" fill="#20a030" opacity="0.61"/><circle cx="578.6" cy="380.1" r="0.7" fill="#20a030" opacity="0.60"/><circle cx="570.2" cy="397.5" r="0.5" fill="#30c040" opacity="0.69"/><circle cx="555.1" cy="394.3" r="0.7" fill="#40e050" opacity="0.75"/><circle cx="523.8" cy="355.9" r="0.8" fill="#40e050" opacity="0.64"/><circle cx="568.1" cy="381.2" r="0.5" fill="#20a030" opacity="0.83"/><circle cx="551.7" cy="387.3" r="0.6" fill="#30c040" opacity="0.63"/><circle cx="539.0" cy="350.6" r="0.6" fill="#40e050" opacity="0.89"/>
</g>
<text x="573.5" y="352.8" font-size="9.5" font-weight="bold" text-anchor="end" fill="#1a9a60"  stroke="#1a9a60" stroke-width="0.3">GFP</text>
<line x1="569" y1="402.8" x2="578" y2="402.8" stroke="#ddd" stroke-width="1" />
<g clip-path="url(#cS2)">
<rect x="495" y="411.9" width="86.8" height="64.8" fill="#060404"/>
<ellipse cx="545" cy="436" rx="14" ry="5" fill="#701010" opacity="0.6" filter="url(#bl4)"/>
<ellipse cx="520" cy="455" rx="12" ry="10" fill="#701010" opacity="0.6" filter="url(#bl4)"/>
<ellipse cx="565" cy="460" rx="10" ry="12" fill="#701010" opacity="0.6" filter="url(#bl4)"/>
<ellipse cx="505" cy="425" rx="8" ry="8" fill="#701010" opacity="0.6" filter="url(#bl4)"/>
<ellipse cx="540" cy="470" rx="15" ry="5" fill="#701010" opacity="0.6" filter="url(#bl4)"/>
<path d="M530 441 L552 428 L556 432 L534 445 Z" fill="#c02828" opacity="0.7" filter="url(#bl2)"/>
<circle cx="548.0" cy="437.9" r="0.9" fill="#a01818" opacity="0.45"/><circle cx="545.3" cy="468.3" r="1.3" fill="#c02020" opacity="0.66"/><circle cx="500.4" cy="456.6" r="0.7" fill="#e03030" opacity="0.38"/><circle cx="563.9" cy="441.7" r="1.0" fill="#e03030" opacity="0.70"/><circle cx="537.2" cy="467.8" r="0.6" fill="#c02020" opacity="0.64"/><circle cx="533.7" cy="418.3" r="0.6" fill="#c02020" opacity="0.71"/><circle cx="566.3" cy="452.9" r="1.1" fill="#c02020" opacity="0.84"/><circle cx="509.2" cy="467.6" r="0.7" fill="#e03030" opacity="0.63"/><circle cx="557.2" cy="421.9" r="1.1" fill="#e03030" opacity="0.37"/><circle cx="499.6" cy="449.3" r="1.1" fill="#e03030" opacity="0.63"/><circle cx="519.1" cy="441.5" r="0.9" fill="#a01818" opacity="0.36"/><circle cx="570.6" cy="450.7" r="0.7" fill="#a01818" opacity="0.68"/><circle cx="574.8" cy="472.0" r="1.0" fill="#e03030" opacity="0.71"/><circle cx="545.3" cy="468.1" r="1.0" fill="#c02020" opacity="0.78"/><circle cx="575.9" cy="446.1" r="1.0" fill="#c02020" opacity="0.75"/><circle cx="501.3" cy="430.7" r="1.2" fill="#a01818" opacity="0.68"/><circle cx="524.8" cy="451.8" r="1.2" fill="#a01818" opacity="0.82"/><circle cx="531.4" cy="440.8" r="0.9" fill="#a01818" opacity="0.63"/><circle cx="530.8" cy="468.7" r="1.1" fill="#c02020" opacity="0.40"/><circle cx="567.4" cy="434.1" r="0.7" fill="#a01818" opacity="0.90"/><circle cx="545.3" cy="431.2" r="1.0" fill="#e03030" opacity="0.43"/><circle cx="517.7" cy="429.3" r="0.5" fill="#e03030" opacity="0.35"/><circle cx="573.3" cy="472.1" r="0.9" fill="#a01818" opacity="0.36"/><circle cx="541.7" cy="428.8" r="0.5" fill="#e03030" opacity="0.56"/><circle cx="538.5" cy="436.6" r="0.6" fill="#c02020" opacity="0.50"/><circle cx="554.8" cy="441.1" r="0.8" fill="#e03030" opacity="0.62"/><circle cx="514.5" cy="449.4" r="1.2" fill="#c02020" opacity="0.56"/><circle cx="529.6" cy="429.7" r="0.7" fill="#c02020" opacity="0.46"/><circle cx="536.6" cy="413.1" r="0.6" fill="#e03030" opacity="0.62"/><circle cx="517.7" cy="433.3" r="0.9" fill="#c02020" opacity="0.42"/><circle cx="542.1" cy="468.9" r="1.1" fill="#a01818" opacity="0.65"/><circle cx="556.6" cy="467.2" r="1.2" fill="#c02020" opacity="0.78"/><circle cx="549.5" cy="460.8" r="1.2" fill="#e03030" opacity="0.82"/><circle cx="565.4" cy="460.0" r="0.7" fill="#a01818" opacity="0.51"/><circle cx="544.0" cy="468.1" r="1.1" fill="#e03030" opacity="0.57"/><circle cx="522.3" cy="470.3" r="1.0" fill="#a01818" opacity="0.79"/><circle cx="541.1" cy="429.0" r="0.9" fill="#a01818" opacity="0.36"/><circle cx="507.6" cy="464.4" r="1.3" fill="#e03030" opacity="0.71"/><circle cx="574.2" cy="472.2" r="0.7" fill="#e03030" opacity="0.47"/><circle cx="546.1" cy="450.1" r="0.6" fill="#a01818" opacity="0.50"/><circle cx="518.4" cy="428.8" r="1.1" fill="#c02020" opacity="0.78"/><circle cx="547.1" cy="430.9" r="0.9" fill="#e03030" opacity="0.45"/><circle cx="529.5" cy="426.9" r="0.6" fill="#e03030" opacity="0.48"/><circle cx="502.4" cy="429.2" r="0.8" fill="#c02020" opacity="0.39"/><circle cx="519.3" cy="430.7" r="1.2" fill="#e03030" opacity="0.64"/><circle cx="570.4" cy="464.1" r="1.0" fill="#c02020" opacity="0.69"/><circle cx="508.1" cy="441.5" r="0.5" fill="#a01818" opacity="0.85"/><circle cx="580.1" cy="475.7" r="1.1" fill="#e03030" opacity="0.70"/><circle cx="532.7" cy="441.5" r="1.0" fill="#e03030" opacity="0.48"/><circle cx="571.8" cy="475.9" r="0.6" fill="#a01818" opacity="0.54"/><circle cx="544.5" cy="462.3" r="1.0" fill="#a01818" opacity="0.63"/><circle cx="572.3" cy="430.6" r="1.0" fill="#a01818" opacity="0.74"/><circle cx="532.9" cy="450.0" r="1.2" fill="#e03030" opacity="0.85"/><circle cx="502.5" cy="440.0" r="0.7" fill="#c02020" opacity="0.66"/><circle cx="556.8" cy="452.4" r="0.6" fill="#c02020" opacity="0.59"/><circle cx="524.0" cy="465.8" r="0.5" fill="#a01818" opacity="0.81"/><circle cx="577.8" cy="460.2" r="0.8" fill="#a01818" opacity="0.89"/><circle cx="552.5" cy="452.3" r="0.6" fill="#a01818" opacity="0.48"/><circle cx="570.5" cy="416.6" r="0.9" fill="#e03030" opacity="0.66"/><circle cx="536.0" cy="471.6" r="1.1" fill="#e03030" opacity="0.42"/><circle cx="514.0" cy="459.0" r="0.6" fill="#e03030" opacity="0.88"/><circle cx="553.1" cy="459.7" r="0.8" fill="#c02020" opacity="0.56"/><circle cx="516.0" cy="430.9" r="1.1" fill="#a01818" opacity="0.39"/><circle cx="564.5" cy="446.9" r="1.1" fill="#e03030" opacity="0.42"/><circle cx="552.2" cy="414.1" r="1.1" fill="#c02020" opacity="0.80"/><circle cx="541.3" cy="444.5" r="0.8" fill="#c02020" opacity="0.61"/><circle cx="563.5" cy="447.2" r="1.0" fill="#c02020" opacity="0.89"/><circle cx="526.6" cy="465.3" r="0.7" fill="#e03030" opacity="0.36"/><circle cx="543.9" cy="418.7" r="1.1" fill="#a01818" opacity="0.85"/><circle cx="537.3" cy="467.4" r="1.0" fill="#c02020" opacity="0.61"/><circle cx="541.6" cy="424.3" r="0.9" fill="#e03030" opacity="0.36"/><circle cx="550.4" cy="468.0" r="1.1" fill="#e03030" opacity="0.50"/><circle cx="558.2" cy="453.7" r="1.3" fill="#e03030" opacity="0.84"/><circle cx="535.8" cy="430.4" r="0.7" fill="#a01818" opacity="0.55"/><circle cx="577.3" cy="462.2" r="0.9" fill="#c02020" opacity="0.69"/><circle cx="530.0" cy="443.6" r="0.7" fill="#c02020" opacity="0.72"/><circle cx="519.0" cy="444.8" r="0.6" fill="#c02020" opacity="0.45"/><circle cx="559.8" cy="467.9" r="1.2" fill="#e03030" opacity="0.38"/><circle cx="552.3" cy="425.1" r="1.2" fill="#e03030" opacity="0.59"/><circle cx="566.8" cy="424.7" r="1.0" fill="#a01818" opacity="0.49"/><circle cx="537.4" cy="458.5" r="0.8" fill="#c02020" opacity="0.75"/><circle cx="573.8" cy="424.1" r="1.1" fill="#c02020" opacity="0.83"/><circle cx="526.5" cy="452.5" r="0.9" fill="#c02020" opacity="0.66"/><circle cx="539.3" cy="439.3" r="1.1" fill="#a01818" opacity="0.89"/><circle cx="534.3" cy="426.7" r="0.6" fill="#e03030" opacity="0.38"/><circle cx="514.7" cy="418.7" r="1.0" fill="#e03030" opacity="0.68"/><circle cx="532.8" cy="472.9" r="0.7" fill="#a01818" opacity="0.38"/><circle cx="573.3" cy="459.2" r="1.2" fill="#e03030" opacity="0.41"/><circle cx="534.6" cy="443.0" r="1.2" fill="#e03030" opacity="0.84"/><circle cx="563.6" cy="454.8" r="1.1" fill="#c02020" opacity="0.45"/><circle cx="580.7" cy="471.3" r="0.6" fill="#e03030" opacity="0.80"/><circle cx="524.6" cy="417.8" r="1.2" fill="#e03030" opacity="0.41"/><circle cx="505.4" cy="440.7" r="1.2" fill="#e03030" opacity="0.65"/><circle cx="535.0" cy="432.1" r="1.1" fill="#e03030" opacity="0.42"/><circle cx="562.9" cy="447.3" r="0.8" fill="#e03030" opacity="0.37"/><circle cx="508.9" cy="467.0" r="0.7" fill="#c02020" opacity="0.73"/><circle cx="502.4" cy="461.2" r="0.8" fill="#e03030" opacity="0.69"/><circle cx="515.5" cy="466.9" r="1.1" fill="#e03030" opacity="0.57"/><circle cx="511.8" cy="421.8" r="0.8" fill="#c02020" opacity="0.52"/><circle cx="531.6" cy="427.9" r="0.8" fill="#c02020" opacity="0.72"/><circle cx="561.1" cy="461.1" r="0.9" fill="#e03030" opacity="0.89"/><circle cx="510.0" cy="416.4" r="1.0" fill="#e03030" opacity="0.83"/><circle cx="508.3" cy="440.3" r="1.2" fill="#c02020" opacity="0.53"/><circle cx="533.0" cy="447.4" r="1.0" fill="#e03030" opacity="0.75"/><circle cx="523.9" cy="424.5" r="0.9" fill="#e03030" opacity="0.68"/><circle cx="528.5" cy="438.5" r="0.8" fill="#a01818" opacity="0.77"/><circle cx="511.1" cy="430.8" r="1.3" fill="#a01818" opacity="0.47"/><circle cx="529.7" cy="416.2" r="0.6" fill="#e03030" opacity="0.63"/><circle cx="539.6" cy="468.2" r="0.8" fill="#c02020" opacity="0.85"/><circle cx="521.8" cy="432.3" r="1.1" fill="#c02020" opacity="0.59"/><circle cx="563.8" cy="443.0" r="1.1" fill="#a01818" opacity="0.48"/><circle cx="545.6" cy="474.4" r="0.6" fill="#e03030" opacity="0.50"/><circle cx="518.2" cy="434.7" r="1.2" fill="#a01818" opacity="0.58"/><circle cx="544.9" cy="464.9" r="1.0" fill="#a01818" opacity="0.42"/><circle cx="508.8" cy="449.2" r="1.2" fill="#a01818" opacity="0.72"/><circle cx="563.9" cy="431.4" r="0.5" fill="#c02020" opacity="0.50"/><circle cx="524.7" cy="419.5" r="1.0" fill="#a01818" opacity="0.88"/><circle cx="528.5" cy="465.5" r="0.6" fill="#e03030" opacity="0.55"/><circle cx="528.0" cy="422.0" r="0.7" fill="#a01818" opacity="0.86"/><circle cx="530.1" cy="423.2" r="1.1" fill="#c02020" opacity="0.69"/><circle cx="545.5" cy="452.4" r="0.6" fill="#c02020" opacity="0.36"/><circle cx="497.3" cy="438.5" r="0.9" fill="#a01818" opacity="0.47"/><circle cx="508.9" cy="452.3" r="1.2" fill="#e03030" opacity="0.71"/><circle cx="561.8" cy="468.2" r="1.1" fill="#a01818" opacity="0.42"/><circle cx="513.9" cy="450.6" r="1.2" fill="#c02020" opacity="0.81"/><circle cx="508.6" cy="435.0" r="0.7" fill="#a01818" opacity="0.70"/><circle cx="531.4" cy="471.2" r="1.0" fill="#a01818" opacity="0.40"/><circle cx="513.2" cy="421.4" r="1.0" fill="#e03030" opacity="0.76"/><circle cx="541.9" cy="473.7" r="0.6" fill="#e03030" opacity="0.72"/><circle cx="509.0" cy="414.9" r="0.8" fill="#e03030" opacity="0.49"/><circle cx="529.9" cy="450.3" r="1.0" fill="#e03030" opacity="0.36"/><circle cx="558.8" cy="425.8" r="0.7" fill="#e03030" opacity="0.66"/><circle cx="580.6" cy="447.5" r="0.6" fill="#a01818" opacity="0.73"/><circle cx="575.0" cy="426.0" r="1.0" fill="#e03030" opacity="0.55"/><circle cx="546.9" cy="448.0" r="1.2" fill="#e03030" opacity="0.38"/><circle cx="525.4" cy="461.0" r="0.8" fill="#c02020" opacity="0.83"/><circle cx="502.1" cy="433.3" r="0.6" fill="#e03030" opacity="0.80"/><circle cx="497.7" cy="448.0" r="0.7" fill="#e03030" opacity="0.82"/><circle cx="543.7" cy="465.5" r="0.7" fill="#a01818" opacity="0.85"/><circle cx="508.5" cy="421.0" r="0.7" fill="#c02020" opacity="0.77"/><circle cx="541.5" cy="422.9" r="1.1" fill="#a01818" opacity="0.69"/><circle cx="550.7" cy="466.1" r="0.6" fill="#a01818" opacity="0.36"/><circle cx="534.7" cy="436.6" r="1.3" fill="#a01818" opacity="0.49"/><circle cx="568.7" cy="441.6" r="0.7" fill="#a01818" opacity="0.51"/><circle cx="560.5" cy="443.4" r="0.9" fill="#c02020" opacity="0.35"/><circle cx="500.9" cy="446.2" r="1.0" fill="#c02020" opacity="0.47"/><circle cx="511.4" cy="441.5" r="0.9" fill="#a01818" opacity="0.73"/><circle cx="557.1" cy="456.8" r="1.1" fill="#e03030" opacity="0.66"/><circle cx="523.7" cy="474.4" r="1.3" fill="#c02020" opacity="0.51"/><circle cx="497.4" cy="417.4" r="1.1" fill="#a01818" opacity="0.57"/><circle cx="510.5" cy="438.1" r="1.3" fill="#e03030" opacity="0.68"/><circle cx="543.1" cy="417.9" r="1.2" fill="#a01818" opacity="0.83"/><circle cx="548.6" cy="436.5" r="0.9" fill="#e03030" opacity="0.56"/><circle cx="511.3" cy="473.2" r="1.1" fill="#c02020" opacity="0.88"/><circle cx="506.9" cy="437.2" r="0.9" fill="#e03030" opacity="0.47"/><circle cx="563.0" cy="475.4" r="1.2" fill="#c02020" opacity="0.69"/><circle cx="540.2" cy="451.1" r="0.8" fill="#a01818" opacity="0.60"/><circle cx="546.8" cy="470.6" r="1.0" fill="#e03030" opacity="0.68"/><circle cx="533.9" cy="424.9" r="1.2" fill="#c02020" opacity="0.56"/><circle cx="544.5" cy="443.9" r="1.2" fill="#c02020" opacity="0.87"/><circle cx="574.3" cy="419.6" r="1.1" fill="#c02020" opacity="0.40"/><circle cx="548.2" cy="414.7" r="0.7" fill="#a01818" opacity="0.69"/><circle cx="567.6" cy="427.4" r="1.3" fill="#a01818" opacity="0.50"/><circle cx="574.9" cy="464.6" r="1.2" fill="#e03030" opacity="0.77"/><circle cx="526.3" cy="419.8" r="0.7" fill="#a01818" opacity="0.41"/><circle cx="518.2" cy="441.5" r="0.6" fill="#e03030" opacity="0.71"/><circle cx="535.5" cy="463.4" r="0.5" fill="#a01818" opacity="0.80"/><circle cx="559.1" cy="439.7" r="0.6" fill="#e03030" opacity="0.84"/><circle cx="570.6" cy="461.8" r="0.7" fill="#c02020" opacity="0.48"/><circle cx="525.7" cy="448.9" r="0.7" fill="#c02020" opacity="0.64"/><circle cx="561.5" cy="423.2" r="0.9" fill="#e03030" opacity="0.36"/><circle cx="518.3" cy="453.5" r="1.3" fill="#e03030" opacity="0.41"/><circle cx="498.5" cy="465.3" r="1.2" fill="#a01818" opacity="0.81"/><circle cx="543.7" cy="455.6" r="1.0" fill="#e03030" opacity="0.88"/><circle cx="565.3" cy="448.9" r="0.8" fill="#c02020" opacity="0.87"/><circle cx="496.1" cy="453.4" r="0.8" fill="#c02020" opacity="0.76"/><circle cx="542.6" cy="429.1" r="0.6" fill="#c02020" opacity="0.53"/><circle cx="519.5" cy="415.5" r="1.1" fill="#e03030" opacity="0.58"/><circle cx="562.7" cy="423.5" r="1.2" fill="#c02020" opacity="0.51"/><circle cx="517.8" cy="459.9" r="0.6" fill="#e03030" opacity="0.48"/><circle cx="525.4" cy="435.7" r="0.6" fill="#c02020" opacity="0.41"/><circle cx="521.2" cy="457.1" r="0.6" fill="#c02020" opacity="0.36"/><circle cx="566.6" cy="417.5" r="0.6" fill="#c02020" opacity="0.68"/><circle cx="539.1" cy="433.7" r="0.7" fill="#e03030" opacity="0.79"/><circle cx="534.2" cy="432.2" r="0.6" fill="#e03030" opacity="0.59"/><circle cx="566.0" cy="470.2" r="0.9" fill="#e03030" opacity="0.75"/><circle cx="549.9" cy="473.8" r="1.0" fill="#c02020" opacity="0.57"/><circle cx="540.4" cy="465.5" r="1.2" fill="#c02020" opacity="0.66"/><circle cx="496.5" cy="450.7" r="1.0" fill="#c02020" opacity="0.89"/><circle cx="516.4" cy="473.9" r="1.0" fill="#c02020" opacity="0.54"/><circle cx="549.6" cy="451.4" r="1.3" fill="#a01818" opacity="0.61"/><circle cx="542.0" cy="425.0" r="1.2" fill="#e03030" opacity="0.73"/><circle cx="513.1" cy="450.1" r="0.7" fill="#c02020" opacity="0.90"/><circle cx="528.7" cy="459.7" r="0.5" fill="#a01818" opacity="0.52"/><circle cx="551.7" cy="435.7" r="1.0" fill="#a01818" opacity="0.35"/><circle cx="507.2" cy="472.4" r="1.1" fill="#c02020" opacity="0.64"/><circle cx="576.9" cy="441.4" r="1.1" fill="#e03030" opacity="0.45"/><circle cx="547.1" cy="468.8" r="1.0" fill="#c02020" opacity="0.81"/><circle cx="541.4" cy="458.8" r="0.6" fill="#c02020" opacity="0.67"/><circle cx="544.4" cy="462.1" r="1.0" fill="#c02020" opacity="0.58"/><circle cx="507.3" cy="414.4" r="1.2" fill="#a01818" opacity="0.75"/><circle cx="515.9" cy="442.4" r="0.6" fill="#a01818" opacity="0.75"/><circle cx="571.2" cy="467.6" r="0.9" fill="#a01818" opacity="0.36"/><circle cx="532.1" cy="453.0" r="1.0" fill="#c02020" opacity="0.57"/><circle cx="496.5" cy="473.1" r="0.7" fill="#c02020" opacity="0.88"/><circle cx="576.4" cy="416.3" r="0.9" fill="#a01818" opacity="0.87"/><circle cx="524.2" cy="457.1" r="1.3" fill="#c02020" opacity="0.70"/><circle cx="526.8" cy="441.7" r="1.1" fill="#e03030" opacity="0.43"/><circle cx="568.1" cy="438.0" r="1.2" fill="#c02020" opacity="0.74"/><circle cx="536.3" cy="431.8" r="0.8" fill="#e03030" opacity="0.40"/><circle cx="542.5" cy="418.4" r="1.2" fill="#a01818" opacity="0.37"/><circle cx="570.2" cy="451.8" r="0.6" fill="#c02020" opacity="0.90"/><circle cx="580.1" cy="426.5" r="0.9" fill="#a01818" opacity="0.37"/><circle cx="499.7" cy="472.1" r="0.5" fill="#a01818" opacity="0.69"/><circle cx="526.1" cy="426.1" r="0.7" fill="#c02020" opacity="0.67"/><circle cx="571.3" cy="445.4" r="1.2" fill="#c02020" opacity="0.63"/><circle cx="546.3" cy="468.3" r="0.8" fill="#c02020" opacity="0.85"/><circle cx="578.8" cy="474.6" r="0.6" fill="#e03030" opacity="0.52"/><circle cx="517.2" cy="457.6" r="1.3" fill="#c02020" opacity="0.42"/><circle cx="507.3" cy="453.2" r="1.2" fill="#a01818" opacity="0.41"/><circle cx="541.6" cy="431.8" r="1.1" fill="#a01818" opacity="0.66"/><circle cx="580.6" cy="417.2" r="1.1" fill="#a01818" opacity="0.69"/><circle cx="566.3" cy="436.4" r="0.9" fill="#a01818" opacity="0.61"/><circle cx="572.9" cy="461.2" r="1.1" fill="#c02020" opacity="0.70"/><circle cx="578.8" cy="453.6" r="0.9" fill="#a01818" opacity="0.84"/><circle cx="580.2" cy="467.5" r="1.0" fill="#e03030" opacity="0.67"/><circle cx="558.4" cy="464.4" r="0.8" fill="#a01818" opacity="0.77"/><circle cx="558.5" cy="455.7" r="1.2" fill="#c02020" opacity="0.89"/><circle cx="502.1" cy="417.7" r="1.2" fill="#c02020" opacity="0.88"/><circle cx="579.5" cy="465.7" r="1.2" fill="#e03030" opacity="0.61"/><circle cx="550.6" cy="463.6" r="0.6" fill="#a01818" opacity="0.55"/><circle cx="547.1" cy="429.7" r="0.9" fill="#a01818" opacity="0.44"/><circle cx="520.3" cy="434.6" r="1.2" fill="#e03030" opacity="0.46"/><circle cx="507.5" cy="450.2" r="1.0" fill="#c02020" opacity="0.54"/><circle cx="496.2" cy="415.2" r="0.6" fill="#e03030" opacity="0.69"/><circle cx="529.8" cy="457.4" r="0.9" fill="#c02020" opacity="0.81"/><circle cx="544.7" cy="455.3" r="1.1" fill="#a01818" opacity="0.48"/><circle cx="579.0" cy="466.4" r="1.3" fill="#a01818" opacity="0.74"/><circle cx="498.3" cy="448.9" r="0.9" fill="#c02020" opacity="0.60"/><circle cx="563.2" cy="459.1" r="1.1" fill="#a01818" opacity="0.44"/><circle cx="530.3" cy="459.5" r="0.6" fill="#a01818" opacity="0.74"/><circle cx="566.2" cy="463.9" r="1.0" fill="#c02020" opacity="0.53"/><circle cx="507.5" cy="441.4" r="1.2" fill="#e03030" opacity="0.42"/><circle cx="510.8" cy="427.7" r="1.1" fill="#e03030" opacity="0.68"/><circle cx="556.2" cy="465.1" r="1.2" fill="#c02020" opacity="0.65"/><circle cx="504.7" cy="460.9" r="0.9" fill="#a01818" opacity="0.35"/><circle cx="533.0" cy="424.9" r="0.7" fill="#c02020" opacity="0.40"/><circle cx="504.4" cy="422.1" r="0.7" fill="#e03030" opacity="0.82"/><circle cx="510.2" cy="455.9" r="1.1" fill="#a01818" opacity="0.46"/><circle cx="512.9" cy="464.2" r="1.2" fill="#e03030" opacity="0.79"/><circle cx="532.4" cy="466.9" r="1.0" fill="#e03030" opacity="0.61"/><circle cx="547.4" cy="475.4" r="0.6" fill="#a01818" opacity="0.78"/><circle cx="573.9" cy="457.9" r="1.1" fill="#a01818" opacity="0.64"/><circle cx="512.8" cy="459.9" r="0.7" fill="#e03030" opacity="0.63"/><circle cx="500.9" cy="424.9" r="1.2" fill="#c02020" opacity="0.50"/><circle cx="501.5" cy="443.9" r="1.3" fill="#e03030" opacity="0.89"/><circle cx="518.1" cy="423.5" r="0.8" fill="#c02020" opacity="0.90"/><circle cx="551.2" cy="462.3" r="1.0" fill="#c02020" opacity="0.87"/><circle cx="577.8" cy="461.8" r="0.5" fill="#a01818" opacity="0.45"/><circle cx="527.8" cy="426.2" r="0.5" fill="#e03030" opacity="0.77"/><circle cx="510.7" cy="474.1" r="1.2" fill="#e03030" opacity="0.53"/><circle cx="507.0" cy="440.9" r="1.1" fill="#a01818" opacity="0.52"/><circle cx="506.8" cy="455.5" r="0.7" fill="#c02020" opacity="0.70"/><circle cx="533.7" cy="421.1" r="1.0" fill="#a01818" opacity="0.61"/><circle cx="509.4" cy="473.5" r="1.0" fill="#e03030" opacity="0.57"/><circle cx="519.9" cy="462.3" r="1.1" fill="#e03030" opacity="0.58"/><circle cx="556.4" cy="467.4" r="1.0" fill="#c02020" opacity="0.64"/><circle cx="573.9" cy="425.8" r="1.2" fill="#e03030" opacity="0.38"/><circle cx="553.3" cy="421.7" r="1.2" fill="#e03030" opacity="0.85"/><circle cx="543.6" cy="424.0" r="0.7" fill="#a01818" opacity="0.54"/><circle cx="580.7" cy="466.8" r="0.8" fill="#e03030" opacity="0.54"/><circle cx="543.4" cy="429.9" r="1.3" fill="#a01818" opacity="0.61"/><circle cx="519.8" cy="455.5" r="0.5" fill="#a01818" opacity="0.48"/><circle cx="510.5" cy="423.7" r="0.7" fill="#e03030" opacity="0.86"/><circle cx="528.3" cy="463.8" r="0.9" fill="#e03030" opacity="0.76"/><circle cx="539.2" cy="444.5" r="0.5" fill="#c02020" opacity="0.67"/><circle cx="510.3" cy="468.3" r="0.7" fill="#c02020" opacity="0.76"/><circle cx="566.3" cy="439.3" r="1.2" fill="#c02020" opacity="0.39"/><circle cx="499.7" cy="437.9" r="0.8" fill="#e03030" opacity="0.42"/><circle cx="523.6" cy="461.8" r="0.7" fill="#c02020" opacity="0.56"/><circle cx="559.8" cy="427.4" r="0.6" fill="#c02020" opacity="0.41"/><circle cx="553.7" cy="449.9" r="1.1" fill="#a01818" opacity="0.44"/><circle cx="559.5" cy="460.1" r="0.8" fill="#e03030" opacity="0.83"/><circle cx="518.4" cy="440.4" r="1.0" fill="#e03030" opacity="0.52"/><circle cx="510.4" cy="457.8" r="1.1" fill="#a01818" opacity="0.89"/><circle cx="542.2" cy="421.8" r="1.0" fill="#c02020" opacity="0.42"/><circle cx="503.4" cy="440.1" r="0.5" fill="#a01818" opacity="0.69"/><circle cx="568.6" cy="426.1" r="1.0" fill="#a01818" opacity="0.66"/><circle cx="557.3" cy="424.2" r="0.5" fill="#a01818" opacity="0.47"/><circle cx="551.0" cy="472.9" r="1.0" fill="#c02020" opacity="0.60"/><circle cx="509.7" cy="416.6" r="1.0" fill="#c02020" opacity="0.71"/><circle cx="576.1" cy="458.1" r="1.1" fill="#e03030" opacity="0.87"/><circle cx="496.8" cy="425.6" r="0.7" fill="#a01818" opacity="0.75"/><circle cx="496.3" cy="464.1" r="0.5" fill="#c02020" opacity="0.43"/><circle cx="576.1" cy="469.5" r="0.7" fill="#e03030" opacity="0.49"/><circle cx="541.3" cy="417.6" r="0.6" fill="#a01818" opacity="0.73"/><circle cx="508.0" cy="462.1" r="0.5" fill="#e03030" opacity="0.37"/><circle cx="521.4" cy="458.7" r="1.1" fill="#a01818" opacity="0.65"/><circle cx="516.7" cy="422.2" r="1.3" fill="#c02020" opacity="0.60"/><circle cx="536.3" cy="471.2" r="1.3" fill="#e03030" opacity="0.88"/>
</g>
<text x="573.5" y="422.9" font-size="9.5" font-weight="bold" text-anchor="end" fill="#c03030"  stroke="#c03030" stroke-width="0.3">NeuN</text>
<line x1="569" y1="472.9" x2="578" y2="472.9" stroke="#ddd" stroke-width="1" />
<g clip-path="url(#cS3)">
<rect x="495" y="482.3" width="86.8" height="64.8" fill="#060404"/>
<ellipse cx="520" cy="520" rx="12" ry="12" fill="#602010" opacity="0.6" filter="url(#bl4)"/>
<ellipse cx="565" cy="525" rx="12" ry="10" fill="#602010" opacity="0.6" filter="url(#bl4)"/>
<ellipse cx="545" cy="505" rx="14" ry="5" fill="#602010" opacity="0.6" filter="url(#bl4)"/>
<circle cx="527.4" cy="535.9" r="0.8" fill="#c03020" opacity="0.42"/><circle cx="533.3" cy="491.1" r="0.5" fill="#c03020" opacity="0.59"/><circle cx="580.3" cy="502.8" r="0.8" fill="#c03020" opacity="0.54"/><circle cx="538.5" cy="522.6" r="0.6" fill="#a02018" opacity="0.78"/><circle cx="519.7" cy="522.5" r="0.7" fill="#c03020" opacity="0.44"/><circle cx="574.4" cy="495.6" r="1.1" fill="#a02018" opacity="0.64"/><circle cx="577.4" cy="488.9" r="1.0" fill="#c03020" opacity="0.73"/><circle cx="498.7" cy="533.0" r="1.0" fill="#c03020" opacity="0.44"/><circle cx="504.0" cy="514.3" r="1.0" fill="#a02018" opacity="0.42"/><circle cx="530.0" cy="523.7" r="1.1" fill="#a02018" opacity="0.36"/><circle cx="566.9" cy="498.9" r="0.7" fill="#c03020" opacity="0.39"/><circle cx="498.4" cy="517.6" r="1.1" fill="#c03020" opacity="0.51"/><circle cx="535.4" cy="522.4" r="0.6" fill="#a02018" opacity="0.55"/><circle cx="577.1" cy="518.1" r="1.1" fill="#c03020" opacity="0.47"/><circle cx="527.9" cy="491.1" r="1.2" fill="#a02018" opacity="0.60"/><circle cx="574.3" cy="484.6" r="1.0" fill="#c03020" opacity="0.66"/><circle cx="497.5" cy="519.6" r="0.7" fill="#c03020" opacity="0.54"/><circle cx="512.0" cy="538.3" r="0.9" fill="#c03020" opacity="0.52"/><circle cx="502.5" cy="493.4" r="1.1" fill="#a02018" opacity="0.55"/><circle cx="536.5" cy="533.9" r="1.2" fill="#c03020" opacity="0.45"/><circle cx="543.8" cy="524.5" r="1.2" fill="#a02018" opacity="0.39"/><circle cx="537.2" cy="522.4" r="0.5" fill="#c03020" opacity="0.35"/><circle cx="535.1" cy="543.2" r="1.1" fill="#c03020" opacity="0.67"/><circle cx="531.6" cy="533.7" r="0.6" fill="#a02018" opacity="0.50"/><circle cx="580.3" cy="539.0" r="1.1" fill="#c03020" opacity="0.46"/><circle cx="556.7" cy="531.3" r="0.6" fill="#a02018" opacity="0.73"/><circle cx="550.2" cy="545.3" r="0.6" fill="#a02018" opacity="0.71"/><circle cx="566.9" cy="497.7" r="0.7" fill="#a02018" opacity="0.71"/><circle cx="527.5" cy="545.7" r="1.3" fill="#c03020" opacity="0.37"/><circle cx="507.2" cy="504.3" r="1.2" fill="#c03020" opacity="0.65"/><circle cx="527.9" cy="492.9" r="1.0" fill="#c03020" opacity="0.48"/><circle cx="551.7" cy="490.9" r="1.2" fill="#c03020" opacity="0.79"/><circle cx="566.0" cy="518.9" r="0.8" fill="#c03020" opacity="0.48"/><circle cx="552.6" cy="544.9" r="0.8" fill="#a02018" opacity="0.35"/><circle cx="527.8" cy="486.6" r="0.6" fill="#c03020" opacity="0.50"/><circle cx="541.1" cy="490.7" r="1.1" fill="#a02018" opacity="0.53"/><circle cx="521.3" cy="522.8" r="1.3" fill="#a02018" opacity="0.60"/><circle cx="525.9" cy="485.4" r="0.6" fill="#a02018" opacity="0.74"/><circle cx="505.0" cy="530.9" r="0.6" fill="#a02018" opacity="0.76"/><circle cx="514.8" cy="527.8" r="0.5" fill="#a02018" opacity="0.50"/><circle cx="524.1" cy="503.5" r="1.1" fill="#c03020" opacity="0.74"/><circle cx="508.8" cy="521.2" r="0.7" fill="#c03020" opacity="0.45"/><circle cx="578.6" cy="513.4" r="1.0" fill="#c03020" opacity="0.59"/><circle cx="557.4" cy="509.3" r="0.5" fill="#a02018" opacity="0.46"/><circle cx="543.5" cy="531.2" r="1.0" fill="#c03020" opacity="0.62"/><circle cx="543.2" cy="519.7" r="1.0" fill="#a02018" opacity="0.63"/><circle cx="506.9" cy="522.9" r="0.8" fill="#c03020" opacity="0.38"/><circle cx="579.9" cy="545.1" r="1.0" fill="#c03020" opacity="0.48"/><circle cx="547.6" cy="490.6" r="1.3" fill="#a02018" opacity="0.69"/><circle cx="557.0" cy="514.5" r="1.1" fill="#c03020" opacity="0.42"/><circle cx="532.7" cy="489.2" r="0.5" fill="#c03020" opacity="0.73"/><circle cx="539.2" cy="496.3" r="0.8" fill="#c03020" opacity="0.78"/><circle cx="559.2" cy="530.5" r="0.5" fill="#a02018" opacity="0.68"/><circle cx="551.5" cy="535.4" r="0.9" fill="#a02018" opacity="0.57"/><circle cx="548.4" cy="514.3" r="0.8" fill="#c03020" opacity="0.62"/><circle cx="566.7" cy="509.5" r="1.2" fill="#c03020" opacity="0.56"/><circle cx="501.5" cy="521.7" r="0.7" fill="#c03020" opacity="0.73"/><circle cx="556.1" cy="511.2" r="0.8" fill="#a02018" opacity="0.56"/><circle cx="567.4" cy="504.8" r="1.1" fill="#c03020" opacity="0.37"/><circle cx="551.9" cy="506.9" r="1.3" fill="#a02018" opacity="0.43"/><circle cx="569.0" cy="540.4" r="0.9" fill="#c03020" opacity="0.37"/><circle cx="510.7" cy="544.4" r="0.7" fill="#a02018" opacity="0.59"/><circle cx="571.4" cy="527.2" r="0.6" fill="#c03020" opacity="0.71"/><circle cx="544.6" cy="510.0" r="0.7" fill="#a02018" opacity="0.49"/><circle cx="499.1" cy="521.6" r="0.6" fill="#a02018" opacity="0.64"/><circle cx="509.7" cy="503.8" r="1.0" fill="#c03020" opacity="0.60"/><circle cx="565.5" cy="538.2" r="0.9" fill="#a02018" opacity="0.46"/><circle cx="523.3" cy="527.9" r="1.1" fill="#c03020" opacity="0.64"/><circle cx="505.2" cy="484.6" r="0.6" fill="#a02018" opacity="0.41"/><circle cx="518.5" cy="512.5" r="0.5" fill="#c03020" opacity="0.69"/><circle cx="536.8" cy="522.2" r="0.9" fill="#a02018" opacity="0.44"/><circle cx="523.0" cy="531.8" r="1.2" fill="#a02018" opacity="0.68"/><circle cx="513.0" cy="510.7" r="1.2" fill="#c03020" opacity="0.39"/><circle cx="554.9" cy="524.2" r="0.7" fill="#c03020" opacity="0.59"/><circle cx="562.4" cy="508.6" r="0.8" fill="#c03020" opacity="0.68"/><circle cx="547.5" cy="544.8" r="0.6" fill="#a02018" opacity="0.65"/><circle cx="553.2" cy="527.7" r="1.0" fill="#c03020" opacity="0.63"/><circle cx="579.8" cy="527.0" r="0.5" fill="#a02018" opacity="0.39"/><circle cx="529.9" cy="485.7" r="0.9" fill="#c03020" opacity="0.65"/><circle cx="519.4" cy="490.9" r="0.8" fill="#c03020" opacity="0.75"/><circle cx="507.3" cy="528.7" r="0.8" fill="#c03020" opacity="0.65"/><circle cx="559.7" cy="486.4" r="0.6" fill="#a02018" opacity="0.69"/><circle cx="525.6" cy="504.6" r="0.7" fill="#a02018" opacity="0.79"/><circle cx="502.4" cy="545.5" r="1.0" fill="#a02018" opacity="0.62"/><circle cx="528.2" cy="533.3" r="1.1" fill="#c03020" opacity="0.54"/><circle cx="497.1" cy="490.2" r="0.9" fill="#c03020" opacity="0.76"/><circle cx="552.2" cy="545.6" r="0.5" fill="#a02018" opacity="0.56"/><circle cx="514.4" cy="498.0" r="1.0" fill="#a02018" opacity="0.60"/><circle cx="543.6" cy="510.5" r="1.1" fill="#a02018" opacity="0.47"/><circle cx="522.5" cy="519.6" r="0.6" fill="#c03020" opacity="0.58"/><circle cx="575.1" cy="538.9" r="1.0" fill="#c03020" opacity="0.39"/><circle cx="560.0" cy="536.6" r="0.9" fill="#a02018" opacity="0.66"/><circle cx="560.4" cy="539.7" r="1.0" fill="#a02018" opacity="0.40"/><circle cx="506.7" cy="515.2" r="1.1" fill="#c03020" opacity="0.62"/><circle cx="573.2" cy="541.8" r="0.6" fill="#c03020" opacity="0.79"/><circle cx="570.1" cy="535.7" r="0.5" fill="#a02018" opacity="0.61"/><circle cx="568.5" cy="514.4" r="0.9" fill="#c03020" opacity="0.54"/><circle cx="575.5" cy="495.9" r="1.1" fill="#a02018" opacity="0.43"/><circle cx="576.7" cy="527.4" r="0.9" fill="#c03020" opacity="0.43"/><circle cx="506.4" cy="503.9" r="0.5" fill="#a02018" opacity="0.54"/><circle cx="504.4" cy="507.7" r="0.9" fill="#c03020" opacity="0.60"/><circle cx="552.3" cy="499.0" r="1.0" fill="#a02018" opacity="0.60"/><circle cx="564.7" cy="531.4" r="0.5" fill="#c03020" opacity="0.70"/><circle cx="569.5" cy="500.5" r="0.6" fill="#c03020" opacity="0.42"/><circle cx="558.0" cy="499.1" r="0.7" fill="#c03020" opacity="0.54"/><circle cx="574.8" cy="512.3" r="1.3" fill="#a02018" opacity="0.39"/><circle cx="577.9" cy="540.6" r="0.9" fill="#c03020" opacity="0.43"/><circle cx="531.4" cy="513.8" r="0.9" fill="#a02018" opacity="0.76"/><circle cx="541.6" cy="508.7" r="0.6" fill="#a02018" opacity="0.74"/><circle cx="528.1" cy="522.0" r="1.3" fill="#a02018" opacity="0.62"/><circle cx="517.1" cy="519.6" r="0.8" fill="#a02018" opacity="0.69"/><circle cx="526.6" cy="493.8" r="1.2" fill="#c03020" opacity="0.41"/><circle cx="563.9" cy="507.1" r="1.2" fill="#c03020" opacity="0.52"/><circle cx="538.7" cy="527.3" r="0.7" fill="#a02018" opacity="0.69"/><circle cx="561.2" cy="483.9" r="1.2" fill="#a02018" opacity="0.47"/><circle cx="509.4" cy="497.7" r="0.8" fill="#c03020" opacity="0.38"/><circle cx="569.3" cy="515.2" r="0.6" fill="#a02018" opacity="0.72"/><circle cx="557.9" cy="487.8" r="0.7" fill="#a02018" opacity="0.77"/><circle cx="574.7" cy="537.4" r="1.0" fill="#c03020" opacity="0.73"/><circle cx="544.9" cy="517.3" r="0.6" fill="#c03020" opacity="0.60"/><circle cx="558.4" cy="525.7" r="1.0" fill="#a02018" opacity="0.75"/><circle cx="508.6" cy="514.0" r="0.6" fill="#a02018" opacity="0.79"/><circle cx="510.9" cy="505.7" r="1.0" fill="#a02018" opacity="0.76"/><circle cx="499.7" cy="494.7" r="0.9" fill="#c03020" opacity="0.64"/><circle cx="523.7" cy="488.1" r="0.6" fill="#a02018" opacity="0.39"/><circle cx="510.6" cy="518.6" r="1.1" fill="#a02018" opacity="0.37"/><circle cx="500.0" cy="487.2" r="0.8" fill="#a02018" opacity="0.54"/><circle cx="511.6" cy="496.9" r="1.3" fill="#c03020" opacity="0.35"/><circle cx="553.8" cy="504.1" r="0.6" fill="#c03020" opacity="0.39"/><circle cx="535.4" cy="541.7" r="1.0" fill="#c03020" opacity="0.72"/><circle cx="575.4" cy="508.4" r="0.9" fill="#a02018" opacity="0.41"/><circle cx="512.7" cy="491.8" r="1.0" fill="#a02018" opacity="0.41"/><circle cx="504.0" cy="517.1" r="0.8" fill="#c03020" opacity="0.78"/><circle cx="525.3" cy="488.1" r="0.9" fill="#c03020" opacity="0.47"/><circle cx="567.9" cy="492.8" r="1.2" fill="#c03020" opacity="0.36"/><circle cx="572.8" cy="512.7" r="1.1" fill="#c03020" opacity="0.67"/><circle cx="562.8" cy="513.0" r="0.6" fill="#c03020" opacity="0.47"/><circle cx="508.8" cy="533.3" r="0.8" fill="#c03020" opacity="0.62"/><circle cx="499.6" cy="529.5" r="1.2" fill="#a02018" opacity="0.42"/><circle cx="504.9" cy="514.4" r="0.6" fill="#a02018" opacity="0.64"/><circle cx="497.0" cy="543.4" r="1.1" fill="#c03020" opacity="0.68"/><circle cx="529.0" cy="494.3" r="0.6" fill="#a02018" opacity="0.49"/><circle cx="561.8" cy="492.4" r="0.8" fill="#a02018" opacity="0.49"/><circle cx="540.0" cy="509.3" r="0.5" fill="#a02018" opacity="0.51"/><circle cx="497.5" cy="525.9" r="1.2" fill="#a02018" opacity="0.54"/><circle cx="576.2" cy="540.9" r="1.2" fill="#c03020" opacity="0.65"/><circle cx="525.2" cy="540.5" r="0.9" fill="#c03020" opacity="0.50"/><circle cx="510.6" cy="520.6" r="1.1" fill="#c03020" opacity="0.36"/><circle cx="534.1" cy="524.0" r="0.8" fill="#a02018" opacity="0.67"/><circle cx="541.6" cy="484.5" r="0.7" fill="#c03020" opacity="0.52"/><circle cx="551.9" cy="534.4" r="0.5" fill="#a02018" opacity="0.63"/><circle cx="563.5" cy="524.9" r="0.7" fill="#a02018" opacity="0.38"/><circle cx="559.0" cy="486.3" r="1.3" fill="#c03020" opacity="0.80"/><circle cx="539.5" cy="494.7" r="0.6" fill="#a02018" opacity="0.67"/><circle cx="556.1" cy="518.0" r="1.2" fill="#c03020" opacity="0.78"/><circle cx="526.0" cy="539.0" r="1.3" fill="#a02018" opacity="0.79"/><circle cx="553.6" cy="535.1" r="1.0" fill="#a02018" opacity="0.61"/><circle cx="567.6" cy="511.1" r="1.0" fill="#a02018" opacity="0.73"/><circle cx="505.3" cy="484.9" r="1.0" fill="#a02018" opacity="0.62"/><circle cx="515.5" cy="536.1" r="0.7" fill="#c03020" opacity="0.75"/><circle cx="534.7" cy="538.2" r="0.7" fill="#a02018" opacity="0.72"/><circle cx="531.1" cy="508.7" r="0.8" fill="#a02018" opacity="0.66"/><circle cx="500.0" cy="545.0" r="1.1" fill="#a02018" opacity="0.71"/><circle cx="528.2" cy="512.4" r="1.2" fill="#a02018" opacity="0.59"/><circle cx="521.7" cy="538.7" r="1.1" fill="#c03020" opacity="0.72"/><circle cx="527.8" cy="508.5" r="0.7" fill="#a02018" opacity="0.69"/><circle cx="531.5" cy="506.3" r="0.7" fill="#c03020" opacity="0.79"/><circle cx="553.1" cy="522.5" r="0.9" fill="#c03020" opacity="0.42"/><circle cx="523.6" cy="539.4" r="1.3" fill="#c03020" opacity="0.55"/><circle cx="568.7" cy="498.7" r="0.9" fill="#a02018" opacity="0.78"/>
<circle cx="509.7" cy="508.2" r="0.8" fill="#d08020" opacity="0.68"/><circle cx="503.3" cy="536.9" r="0.4" fill="#d08020" opacity="0.81"/><circle cx="507.8" cy="544.6" r="0.4" fill="#d08020" opacity="0.93"/><circle cx="573.6" cy="496.2" r="0.6" fill="#f0e040" opacity="0.94"/><circle cx="563.4" cy="543.1" r="0.6" fill="#d08020" opacity="0.96"/><circle cx="537.0" cy="506.6" r="0.9" fill="#d08020" opacity="0.81"/><circle cx="557.3" cy="539.4" r="0.8" fill="#e0c030" opacity="0.75"/><circle cx="558.0" cy="501.1" r="0.9" fill="#f0e040" opacity="0.83"/><circle cx="524.1" cy="529.5" r="0.7" fill="#c04020" opacity="0.63"/><circle cx="537.4" cy="542.0" r="1.0" fill="#e0c030" opacity="0.96"/><circle cx="577.0" cy="513.3" r="0.8" fill="#c04020" opacity="0.97"/><circle cx="522.5" cy="515.3" r="0.8" fill="#c04020" opacity="0.67"/><circle cx="579.1" cy="517.8" r="0.9" fill="#e0c030" opacity="0.71"/><circle cx="559.6" cy="529.1" r="0.8" fill="#f0e040" opacity="0.64"/><circle cx="556.0" cy="535.5" r="0.6" fill="#e0c030" opacity="0.91"/><circle cx="573.0" cy="525.9" r="0.6" fill="#c04020" opacity="0.75"/><circle cx="562.5" cy="538.0" r="0.5" fill="#f0e040" opacity="0.79"/><circle cx="517.6" cy="505.2" r="0.6" fill="#e0c030" opacity="0.85"/><circle cx="525.9" cy="526.4" r="0.7" fill="#c04020" opacity="0.62"/><circle cx="550.5" cy="525.5" r="0.5" fill="#d08020" opacity="0.84"/><circle cx="571.0" cy="544.0" r="0.6" fill="#e0c030" opacity="0.69"/><circle cx="523.4" cy="540.5" r="0.7" fill="#e0c030" opacity="0.94"/><circle cx="540.5" cy="500.3" r="0.5" fill="#c04020" opacity="0.80"/><circle cx="573.6" cy="541.2" r="0.4" fill="#f0e040" opacity="0.84"/><circle cx="496.5" cy="530.0" r="0.6" fill="#d08020" opacity="0.83"/><circle cx="532.6" cy="502.5" r="0.6" fill="#c04020" opacity="0.61"/><circle cx="538.4" cy="490.8" r="0.5" fill="#c04020" opacity="0.83"/><circle cx="574.1" cy="533.2" r="0.9" fill="#f0e040" opacity="0.76"/><circle cx="571.8" cy="539.2" r="0.7" fill="#f0e040" opacity="0.74"/><circle cx="506.7" cy="530.4" r="0.6" fill="#c04020" opacity="0.82"/><circle cx="556.4" cy="504.0" r="0.5" fill="#e0c030" opacity="0.88"/><circle cx="564.3" cy="541.6" r="0.8" fill="#d08020" opacity="0.68"/><circle cx="541.5" cy="530.4" r="0.7" fill="#f0e040" opacity="0.60"/><circle cx="498.4" cy="537.1" r="1.0" fill="#e0c030" opacity="0.75"/><circle cx="538.0" cy="491.5" r="0.8" fill="#d08020" opacity="0.95"/><circle cx="535.7" cy="505.9" r="0.7" fill="#c04020" opacity="0.72"/><circle cx="567.1" cy="545.9" r="0.5" fill="#f0e040" opacity="0.89"/><circle cx="501.6" cy="507.0" r="1.0" fill="#f0e040" opacity="0.67"/><circle cx="502.1" cy="508.9" r="0.5" fill="#f0e040" opacity="0.66"/><circle cx="539.7" cy="495.1" r="0.6" fill="#d08020" opacity="0.92"/><circle cx="569.5" cy="536.8" r="0.8" fill="#c04020" opacity="0.67"/><circle cx="579.8" cy="529.6" r="1.0" fill="#d08020" opacity="0.76"/><circle cx="531.6" cy="502.7" r="0.9" fill="#f0e040" opacity="0.93"/><circle cx="570.0" cy="543.3" r="0.7" fill="#f0e040" opacity="0.92"/><circle cx="502.2" cy="512.7" r="0.9" fill="#f0e040" opacity="0.63"/><circle cx="502.4" cy="522.8" r="0.4" fill="#e0c030" opacity="0.74"/><circle cx="572.2" cy="537.5" r="0.8" fill="#c04020" opacity="0.75"/><circle cx="499.8" cy="538.4" r="0.6" fill="#e0c030" opacity="0.91"/><circle cx="538.5" cy="538.8" r="1.0" fill="#f0e040" opacity="0.67"/><circle cx="561.0" cy="520.0" r="1.0" fill="#d08020" opacity="0.78"/><circle cx="548.0" cy="539.2" r="0.6" fill="#f0e040" opacity="0.72"/><circle cx="539.1" cy="484.0" r="0.9" fill="#c04020" opacity="0.86"/><circle cx="580.3" cy="499.1" r="0.4" fill="#c04020" opacity="0.95"/><circle cx="553.2" cy="525.8" r="0.6" fill="#e0c030" opacity="0.83"/><circle cx="510.1" cy="509.8" r="0.9" fill="#e0c030" opacity="0.99"/><circle cx="561.4" cy="516.0" r="0.4" fill="#f0e040" opacity="0.65"/><circle cx="515.8" cy="484.0" r="0.8" fill="#f0e040" opacity="0.94"/><circle cx="544.4" cy="531.2" r="0.6" fill="#e0c030" opacity="0.88"/><circle cx="548.4" cy="499.5" r="0.6" fill="#f0e040" opacity="0.77"/><circle cx="544.1" cy="526.7" r="0.6" fill="#c04020" opacity="0.92"/><circle cx="496.2" cy="519.7" r="1.0" fill="#c04020" opacity="0.64"/><circle cx="497.0" cy="494.0" r="0.6" fill="#c04020" opacity="0.92"/><circle cx="523.8" cy="532.7" r="0.7" fill="#e0c030" opacity="0.91"/><circle cx="540.2" cy="526.7" r="0.9" fill="#e0c030" opacity="0.78"/><circle cx="541.0" cy="509.9" r="0.8" fill="#c04020" opacity="0.74"/><circle cx="536.5" cy="546.3" r="1.0" fill="#d08020" opacity="0.93"/><circle cx="563.9" cy="499.0" r="0.5" fill="#d08020" opacity="0.96"/><circle cx="576.6" cy="535.6" r="0.6" fill="#e0c030" opacity="0.99"/><circle cx="516.8" cy="505.2" r="0.5" fill="#e0c030" opacity="0.93"/><circle cx="520.0" cy="544.7" r="0.7" fill="#d08020" opacity="0.72"/><circle cx="560.5" cy="523.1" r="0.8" fill="#d08020" opacity="0.75"/><circle cx="510.2" cy="500.4" r="0.6" fill="#e0c030" opacity="0.95"/><circle cx="551.0" cy="491.6" r="0.9" fill="#d08020" opacity="0.93"/><circle cx="554.5" cy="523.8" r="0.7" fill="#c04020" opacity="0.69"/><circle cx="516.9" cy="504.8" r="0.4" fill="#c04020" opacity="0.64"/><circle cx="534.8" cy="513.2" r="0.4" fill="#d08020" opacity="0.85"/><circle cx="571.9" cy="545.4" r="0.6" fill="#f0e040" opacity="1.00"/><circle cx="508.0" cy="526.8" r="1.0" fill="#e0c030" opacity="0.98"/><circle cx="577.9" cy="516.5" r="1.0" fill="#c04020" opacity="0.67"/><circle cx="520.7" cy="492.5" r="1.0" fill="#d08020" opacity="0.84"/><circle cx="542.3" cy="541.9" r="0.4" fill="#c04020" opacity="0.71"/><circle cx="523.8" cy="490.1" r="0.9" fill="#f0e040" opacity="0.91"/><circle cx="577.6" cy="528.1" r="0.8" fill="#f0e040" opacity="0.74"/><circle cx="497.6" cy="545.7" r="0.5" fill="#f0e040" opacity="0.76"/><circle cx="579.1" cy="514.3" r="0.4" fill="#f0e040" opacity="0.68"/><circle cx="554.4" cy="498.6" r="0.9" fill="#c04020" opacity="0.98"/><circle cx="579.0" cy="518.6" r="0.7" fill="#c04020" opacity="0.91"/><circle cx="564.0" cy="520.9" r="0.6" fill="#f0e040" opacity="0.94"/><circle cx="579.4" cy="528.3" r="0.6" fill="#e0c030" opacity="0.95"/><circle cx="553.1" cy="527.3" r="0.9" fill="#c04020" opacity="0.81"/><circle cx="546.6" cy="534.3" r="0.5" fill="#d08020" opacity="0.88"/><circle cx="560.3" cy="541.5" r="1.0" fill="#e0c030" opacity="0.97"/><circle cx="529.1" cy="536.4" r="0.6" fill="#c04020" opacity="0.87"/><circle cx="519.0" cy="485.3" r="0.9" fill="#e0c030" opacity="0.64"/><circle cx="510.4" cy="504.2" r="0.6" fill="#f0e040" opacity="0.93"/><circle cx="580.5" cy="525.5" r="1.0" fill="#d08020" opacity="0.80"/><circle cx="536.8" cy="490.3" r="0.4" fill="#e0c030" opacity="0.84"/><circle cx="503.9" cy="528.2" r="0.6" fill="#e0c030" opacity="0.64"/><circle cx="550.0" cy="516.3" r="0.6" fill="#f0e040" opacity="0.74"/><circle cx="528.8" cy="538.9" r="0.7" fill="#d08020" opacity="0.84"/><circle cx="569.2" cy="536.0" r="0.9" fill="#c04020" opacity="0.60"/><circle cx="519.6" cy="483.5" r="0.9" fill="#e0c030" opacity="0.74"/><circle cx="578.4" cy="538.7" r="0.7" fill="#f0e040" opacity="0.84"/><circle cx="528.4" cy="535.6" r="0.8" fill="#f0e040" opacity="0.76"/><circle cx="564.0" cy="488.0" r="0.6" fill="#c04020" opacity="0.86"/><circle cx="510.7" cy="502.8" r="0.4" fill="#e0c030" opacity="0.81"/><circle cx="540.6" cy="531.1" r="1.0" fill="#d08020" opacity="0.66"/><circle cx="499.0" cy="516.0" r="0.6" fill="#f0e040" opacity="0.78"/><circle cx="567.3" cy="522.5" r="0.5" fill="#f0e040" opacity="0.70"/><circle cx="520.5" cy="542.8" r="0.5" fill="#d08020" opacity="0.94"/><circle cx="501.3" cy="530.1" r="0.9" fill="#d08020" opacity="0.88"/><circle cx="564.6" cy="538.1" r="0.8" fill="#f0e040" opacity="0.60"/><circle cx="509.8" cy="536.3" r="0.5" fill="#e0c030" opacity="0.64"/><circle cx="519.5" cy="534.9" r="0.7" fill="#e0c030" opacity="0.76"/><circle cx="545.9" cy="493.5" r="0.7" fill="#e0c030" opacity="0.69"/><circle cx="524.2" cy="489.0" r="0.7" fill="#c04020" opacity="0.99"/><circle cx="516.7" cy="499.1" r="0.7" fill="#c04020" opacity="0.95"/><circle cx="571.0" cy="521.3" r="0.5" fill="#e0c030" opacity="0.84"/><circle cx="508.5" cy="489.7" r="0.8" fill="#e0c030" opacity="0.68"/><circle cx="528.1" cy="538.9" r="0.7" fill="#d08020" opacity="0.93"/><circle cx="525.4" cy="492.8" r="0.6" fill="#c04020" opacity="0.96"/><circle cx="549.8" cy="531.9" r="0.8" fill="#f0e040" opacity="0.84"/><circle cx="555.8" cy="516.3" r="0.6" fill="#d08020" opacity="0.79"/><circle cx="500.0" cy="488.6" r="0.7" fill="#d08020" opacity="0.63"/><circle cx="519.2" cy="520.6" r="0.5" fill="#c04020" opacity="0.81"/><circle cx="554.6" cy="522.0" r="0.6" fill="#d08020" opacity="0.93"/><circle cx="543.8" cy="540.1" r="0.6" fill="#d08020" opacity="0.76"/><circle cx="537.2" cy="510.7" r="0.4" fill="#c04020" opacity="0.75"/><circle cx="534.4" cy="534.0" r="1.0" fill="#e0c030" opacity="0.91"/><circle cx="562.2" cy="526.1" r="0.5" fill="#f0e040" opacity="0.81"/><circle cx="531.6" cy="498.0" r="0.7" fill="#d08020" opacity="0.94"/><circle cx="538.4" cy="492.4" r="0.8" fill="#d08020" opacity="0.98"/><circle cx="549.6" cy="487.5" r="0.8" fill="#d08020" opacity="0.90"/><circle cx="553.4" cy="507.6" r="0.4" fill="#d08020" opacity="0.71"/><circle cx="545.6" cy="542.5" r="0.5" fill="#f0e040" opacity="0.67"/><circle cx="568.5" cy="533.8" r="0.5" fill="#f0e040" opacity="0.73"/><circle cx="514.6" cy="507.1" r="0.6" fill="#c04020" opacity="0.77"/><circle cx="562.6" cy="510.3" r="0.6" fill="#f0e040" opacity="0.72"/><circle cx="563.2" cy="545.9" r="0.7" fill="#e0c030" opacity="0.77"/><circle cx="525.8" cy="524.6" r="0.5" fill="#e0c030" opacity="0.62"/><circle cx="554.0" cy="516.0" r="0.6" fill="#e0c030" opacity="0.67"/><circle cx="548.7" cy="534.9" r="0.7" fill="#f0e040" opacity="0.79"/><circle cx="517.8" cy="494.6" r="0.5" fill="#c04020" opacity="0.89"/><circle cx="521.9" cy="528.5" r="0.5" fill="#c04020" opacity="0.64"/><circle cx="570.5" cy="530.4" r="0.5" fill="#d08020" opacity="0.97"/><circle cx="526.8" cy="501.4" r="0.9" fill="#f0e040" opacity="0.61"/><circle cx="572.9" cy="532.9" r="0.7" fill="#f0e040" opacity="0.86"/><circle cx="557.7" cy="506.4" r="0.6" fill="#e0c030" opacity="0.86"/><circle cx="569.9" cy="505.8" r="0.6" fill="#c04020" opacity="0.90"/><circle cx="509.2" cy="534.1" r="0.5" fill="#f0e040" opacity="0.96"/><circle cx="544.2" cy="531.9" r="0.5" fill="#e0c030" opacity="0.70"/><circle cx="526.6" cy="543.2" r="0.7" fill="#d08020" opacity="0.94"/><circle cx="509.5" cy="532.5" r="0.8" fill="#e0c030" opacity="0.94"/><circle cx="569.2" cy="534.2" r="0.7" fill="#f0e040" opacity="0.81"/><circle cx="554.4" cy="533.9" r="0.5" fill="#d08020" opacity="0.91"/><circle cx="531.5" cy="531.8" r="0.4" fill="#f0e040" opacity="0.80"/><circle cx="546.3" cy="499.9" r="0.7" fill="#e0c030" opacity="0.73"/><circle cx="550.2" cy="516.6" r="0.9" fill="#d08020" opacity="0.65"/><circle cx="542.6" cy="526.4" r="0.6" fill="#c04020" opacity="0.73"/><circle cx="550.3" cy="522.0" r="0.4" fill="#f0e040" opacity="0.98"/><circle cx="580.8" cy="503.3" r="0.5" fill="#f0e040" opacity="0.74"/><circle cx="517.1" cy="541.7" r="0.5" fill="#c04020" opacity="0.95"/><circle cx="511.5" cy="516.2" r="0.7" fill="#c04020" opacity="0.71"/><circle cx="578.4" cy="542.4" r="0.8" fill="#e0c030" opacity="0.88"/><circle cx="507.5" cy="495.9" r="0.8" fill="#d08020" opacity="0.80"/><circle cx="551.0" cy="536.4" r="1.0" fill="#d08020" opacity="0.83"/><circle cx="527.1" cy="508.3" r="0.5" fill="#c04020" opacity="0.69"/><circle cx="560.0" cy="528.8" r="0.9" fill="#f0e040" opacity="0.98"/><circle cx="537.7" cy="501.8" r="0.9" fill="#c04020" opacity="0.72"/><circle cx="506.7" cy="505.7" r="0.5" fill="#f0e040" opacity="0.67"/><circle cx="511.2" cy="534.7" r="0.6" fill="#f0e040" opacity="0.68"/><circle cx="528.7" cy="507.7" r="0.9" fill="#c04020" opacity="0.98"/><circle cx="559.4" cy="526.6" r="0.8" fill="#f0e040" opacity="0.65"/><circle cx="565.7" cy="507.9" r="0.9" fill="#d08020" opacity="0.87"/><circle cx="536.0" cy="501.3" r="0.4" fill="#d08020" opacity="0.67"/><circle cx="525.9" cy="537.0" r="1.0" fill="#e0c030" opacity="0.78"/><circle cx="578.1" cy="513.6" r="0.8" fill="#d08020" opacity="0.97"/><circle cx="497.3" cy="519.3" r="0.6" fill="#f0e040" opacity="0.67"/><circle cx="518.6" cy="495.9" r="1.0" fill="#d08020" opacity="0.69"/><circle cx="555.9" cy="542.8" r="0.5" fill="#d08020" opacity="1.00"/><circle cx="549.9" cy="540.8" r="0.9" fill="#d08020" opacity="0.87"/><circle cx="536.0" cy="532.8" r="0.8" fill="#c04020" opacity="0.79"/><circle cx="580.0" cy="499.9" r="0.5" fill="#c04020" opacity="0.63"/><circle cx="500.2" cy="531.8" r="0.6" fill="#f0e040" opacity="0.66"/><circle cx="500.7" cy="503.7" r="0.5" fill="#e0c030" opacity="0.62"/><circle cx="567.0" cy="525.0" r="0.8" fill="#e0c030" opacity="0.93"/><circle cx="521.8" cy="505.9" r="0.4" fill="#c04020" opacity="0.78"/><circle cx="521.7" cy="536.6" r="0.7" fill="#e0c030" opacity="0.99"/><circle cx="530.3" cy="511.0" r="0.5" fill="#f0e040" opacity="0.76"/><circle cx="553.3" cy="533.8" r="0.6" fill="#f0e040" opacity="0.95"/><circle cx="543.0" cy="512.8" r="0.9" fill="#d08020" opacity="0.88"/><circle cx="561.0" cy="524.0" r="0.7" fill="#e0c030" opacity="0.73"/><circle cx="537.7" cy="529.1" r="0.5" fill="#c04020" opacity="0.97"/><circle cx="536.6" cy="517.8" r="0.7" fill="#d08020" opacity="0.70"/><circle cx="499.3" cy="520.8" r="0.6" fill="#c04020" opacity="0.99"/><circle cx="525.0" cy="523.1" r="0.9" fill="#f0e040" opacity="0.61"/><circle cx="580.4" cy="534.5" r="0.5" fill="#e0c030" opacity="0.77"/><circle cx="568.2" cy="538.5" r="0.9" fill="#c04020" opacity="0.83"/><circle cx="564.7" cy="538.3" r="0.9" fill="#d08020" opacity="0.67"/><circle cx="556.0" cy="544.7" r="0.6" fill="#d08020" opacity="0.70"/>
</g>
<text x="573.5" y="493.3" font-size="9.5" font-weight="bold" text-anchor="end" fill="#e0b020"  stroke="#e0b020" stroke-width="0.3">Merge</text>
<line x1="569" y1="543.3" x2="578" y2="543.3" stroke="#ddd" stroke-width="1" />
<text x="684.7" y="314.7" font-size="22" font-weight="bold" text-anchor="start" fill="#111"  stroke="#111" stroke-width="0.3">d</text>
<text x="837.65" y="313.2" font-size="19" font-weight="bold" text-anchor="middle" fill="#111"  stroke="#111" stroke-width="0.3">NAc Gene Expression</text>
<rect x="741.5" y="449.8" width="15.8" height="101.6" fill="none" stroke="#000" stroke-width="4"/>
<rect x="769.4" y="503.2" width="15.1" height="48.2" fill="none" stroke="#000" stroke-width="4"/>
<rect x="814" y="448.8" width="15.6" height="102.6" fill="none" stroke="#000" stroke-width="4"/>
<rect x="840.5" y="458.2" width="16.1" height="93.2" fill="none" stroke="#000" stroke-width="4"/>
<rect x="885.3" y="448.8" width="16.3" height="102.6" fill="none" stroke="#000" stroke-width="4"/>
<rect x="912.8" y="491.4" width="15.9" height="60" fill="none" stroke="#000" stroke-width="4"/>
<line x1="729.5" y1="551.4" x2="938.5" y2="551.4" stroke="#000" stroke-width="4" />
<line x1="731.5" y1="343.6" x2="731.5" y2="553.4" stroke="#000" stroke-width="4" />
<line x1="725" y1="344.6" x2="731.5" y2="344.6" stroke="#000" stroke-width="3.4" />
<text x="722.4" y="348.9" font-size="12.5" font-weight="bold" text-anchor="end" fill="#111"  stroke="#111" stroke-width="0.3">2.0</text>
<line x1="725" y1="396.3" x2="731.5" y2="396.3" stroke="#000" stroke-width="3.4" />
<text x="722.4" y="400.6" font-size="12.5" font-weight="bold" text-anchor="end" fill="#111"  stroke="#111" stroke-width="0.3">1.5</text>
<line x1="725" y1="447.8" x2="731.5" y2="447.8" stroke="#000" stroke-width="3.4" />
<text x="722.4" y="452.1" font-size="12.5" font-weight="bold" text-anchor="end" fill="#111"  stroke="#111" stroke-width="0.3">1.0</text>
<line x1="725" y1="499.6" x2="731.5" y2="499.6" stroke="#000" stroke-width="3.4" />
<text x="722.4" y="503.9" font-size="12.5" font-weight="bold" text-anchor="end" fill="#111"  stroke="#111" stroke-width="0.3">0.5</text>
<line x1="725" y1="551.4" x2="731.5" y2="551.4" stroke="#000" stroke-width="3.4" />
<text x="722.4" y="555.7" font-size="12.5" font-weight="bold" text-anchor="end" fill="#111"  stroke="#111" stroke-width="0.3">0.0</text>
<line x1="762.8" y1="551.4" x2="762.8" y2="559.5" stroke="#000" stroke-width="3" />
<line x1="834.5" y1="551.4" x2="834.5" y2="559.5" stroke="#000" stroke-width="3" />
<line x1="906" y1="551.4" x2="906" y2="559.5" stroke="#000" stroke-width="3" />
<circle cx="749.6" cy="381.5" r="3.55" fill="#3dae49" stroke="#000" stroke-width="3.3"/>
<circle cx="749.6" cy="435.2" r="3.55" fill="#3dae49" stroke="#000" stroke-width="3.3"/>
<circle cx="748" cy="445.7" r="3.55" fill="#3dae49" stroke="#000" stroke-width="3.3"/>
<circle cx="743.9" cy="449.7" r="3.55" fill="#3dae49" stroke="#000" stroke-width="3.3"/>
<circle cx="754.4" cy="451.7" r="3.55" fill="#3dae49" stroke="#000" stroke-width="3.3"/>
<circle cx="744.4" cy="457.5" r="3.55" fill="#3dae49" stroke="#000" stroke-width="3.3"/>
<circle cx="751.2" cy="461.9" r="3.55" fill="#3dae49" stroke="#000" stroke-width="3.3"/>
<circle cx="744.4" cy="467.9" r="3.55" fill="#3dae49" stroke="#000" stroke-width="3.3"/>
<circle cx="751.2" cy="468.3" r="3.55" fill="#3dae49" stroke="#000" stroke-width="3.3"/>
<circle cx="821.5" cy="394.4" r="3.55" fill="#3dae49" stroke="#000" stroke-width="3.3"/>
<circle cx="816.2" cy="410.4" r="3.55" fill="#3dae49" stroke="#000" stroke-width="3.3"/>
<circle cx="826.7" cy="409" r="3.55" fill="#3dae49" stroke="#000" stroke-width="3.3"/>
<circle cx="821.5" cy="413.8" r="3.55" fill="#3dae49" stroke="#000" stroke-width="3.3"/>
<circle cx="819.1" cy="423.5" r="3.55" fill="#3dae49" stroke="#000" stroke-width="3.3"/>
<circle cx="824.3" cy="423.5" r="3.55" fill="#3dae49" stroke="#000" stroke-width="3.3"/>
<circle cx="821.5" cy="441.3" r="3.55" fill="#3dae49" stroke="#000" stroke-width="3.3"/>
<circle cx="821.5" cy="465.1" r="3.55" fill="#3dae49" stroke="#000" stroke-width="3.3"/>
<circle cx="819.1" cy="499.1" r="3.55" fill="#3dae49" stroke="#000" stroke-width="3.3"/>
<circle cx="823.8" cy="506" r="3.55" fill="#3dae49" stroke="#000" stroke-width="3.3"/>
<circle cx="821.5" cy="545.2" r="3.55" fill="#3dae49" stroke="#000" stroke-width="3.3"/>
<circle cx="893.4" cy="372.1" r="3.55" fill="#3dae49" stroke="#000" stroke-width="3.3"/>
<circle cx="893.4" cy="409" r="3.55" fill="#3dae49" stroke="#000" stroke-width="3.3"/>
<circle cx="893.4" cy="423.9" r="3.55" fill="#3dae49" stroke="#000" stroke-width="3.3"/>
<circle cx="893.4" cy="435.5" r="3.55" fill="#3dae49" stroke="#000" stroke-width="3.3"/>
<circle cx="893.4" cy="445.7" r="3.55" fill="#3dae49" stroke="#000" stroke-width="3.3"/>
<circle cx="890.9" cy="462.4" r="3.55" fill="#3dae49" stroke="#000" stroke-width="3.3"/>
<circle cx="896.3" cy="466.7" r="3.55" fill="#3dae49" stroke="#000" stroke-width="3.3"/>
<circle cx="893.4" cy="486.1" r="3.55" fill="#3dae49" stroke="#000" stroke-width="3.3"/>
<circle cx="898.4" cy="487.8" r="3.55" fill="#3dae49" stroke="#000" stroke-width="3.3"/>
<circle cx="888.2" cy="492.6" r="3.55" fill="#3dae49" stroke="#000" stroke-width="3.3"/>
<circle cx="776.6" cy="472.4" r="3.55" fill="#f0a23a" stroke="#000" stroke-width="3.3"/>
<circle cx="781.9" cy="482.9" r="3.55" fill="#f0a23a" stroke="#000" stroke-width="3.3"/>
<circle cx="775.5" cy="489.4" r="3.55" fill="#f0a23a" stroke="#000" stroke-width="3.3"/>
<circle cx="781.9" cy="498.8" r="3.55" fill="#f0a23a" stroke="#000" stroke-width="3.3"/>
<circle cx="776.6" cy="504.8" r="3.55" fill="#f0a23a" stroke="#000" stroke-width="3.3"/>
<circle cx="771.4" cy="510.9" r="3.55" fill="#f0a23a" stroke="#000" stroke-width="3.3"/>
<circle cx="781.6" cy="512" r="3.55" fill="#f0a23a" stroke="#000" stroke-width="3.3"/>
<circle cx="776.6" cy="520.6" r="3.55" fill="#f0a23a" stroke="#000" stroke-width="3.3"/>
<circle cx="776.6" cy="529.4" r="3.55" fill="#f0a23a" stroke="#000" stroke-width="3.3"/>
<circle cx="848.2" cy="370.5" r="3.55" fill="#f0a23a" stroke="#000" stroke-width="3.3"/>
<circle cx="848.2" cy="386.3" r="3.55" fill="#f0a23a" stroke="#000" stroke-width="3.3"/>
<circle cx="848.2" cy="432" r="3.55" fill="#f0a23a" stroke="#000" stroke-width="3.3"/>
<circle cx="853.4" cy="447.6" r="3.55" fill="#f0a23a" stroke="#000" stroke-width="3.3"/>
<circle cx="842.9" cy="453.3" r="3.55" fill="#f0a23a" stroke="#000" stroke-width="3.3"/>
<circle cx="853.4" cy="487" r="3.55" fill="#f0a23a" stroke="#000" stroke-width="3.3"/>
<circle cx="843.4" cy="493.4" r="3.55" fill="#f0a23a" stroke="#000" stroke-width="3.3"/>
<circle cx="848.2" cy="512" r="3.55" fill="#f0a23a" stroke="#000" stroke-width="3.3"/>
<circle cx="848.2" cy="535.2" r="3.55" fill="#f0a23a" stroke="#000" stroke-width="3.3"/>
<circle cx="920.2" cy="427.9" r="3.55" fill="#f0a23a" stroke="#000" stroke-width="3.3"/>
<circle cx="920.2" cy="473.7" r="3.55" fill="#f0a23a" stroke="#000" stroke-width="3.3"/>
<circle cx="914.9" cy="482.1" r="3.55" fill="#f0a23a" stroke="#000" stroke-width="3.3"/>
<circle cx="925.4" cy="482.9" r="3.55" fill="#f0a23a" stroke="#000" stroke-width="3.3"/>
<circle cx="919.7" cy="518.5" r="3.55" fill="#f0a23a" stroke="#000" stroke-width="3.3"/>
<circle cx="925.4" cy="520.6" r="3.55" fill="#f0a23a" stroke="#000" stroke-width="3.3"/>
<circle cx="915.2" cy="526.3" r="3.55" fill="#f0a23a" stroke="#000" stroke-width="3.3"/>
<line x1="749.4" y1="440" x2="749.4" y2="455" stroke="#000" stroke-width="2" />
<line x1="777" y1="493" x2="777" y2="508" stroke="#000" stroke-width="2" />
<line x1="821.8" y1="432.7" x2="821.8" y2="460" stroke="#000" stroke-width="2" />
<line x1="848.5" y1="438.4" x2="848.5" y2="476.4" stroke="#000" stroke-width="2" />
<line x1="893.5" y1="438" x2="893.5" y2="455" stroke="#000" stroke-width="2" />
<line x1="920.7" y1="489" x2="920.7" y2="501.5" stroke="#000" stroke-width="2" />
<line x1="743.9" y1="356.7" x2="796.5" y2="356.7" stroke="#000" stroke-width="2" />
<text x="770.2" y="352.7" font-size="18" font-weight="bold" text-anchor="middle" fill="#111"  stroke="#111" stroke-width="0.3">****</text>
<line x1="883" y1="357.2" x2="936.7" y2="357.2" stroke="#000" stroke-width="2" />
<text x="909.85" y="354.3" font-size="18" font-weight="bold" text-anchor="middle" fill="#111"  stroke="#111" stroke-width="0.3">*</text>
<text x="762.8" y="573" font-size="12.5" font-weight="bold" text-anchor="middle" fill="#111" font-style="italic"  stroke="#111" stroke-width="0.3">Abhd6</text>
<text x="834.5" y="573" font-size="12.5" font-weight="bold" text-anchor="middle" fill="#111" font-style="italic"  stroke="#111" stroke-width="0.3">Mgll</text>
<text x="906" y="573" font-size="12.5" font-weight="bold" text-anchor="middle" fill="#111" font-style="italic"  stroke="#111" stroke-width="0.3">Cnr1</text>
<text x="694.3" y="447" font-size="12.4" font-weight="bold" text-anchor="middle" fill="#111" transform="rotate(-90 694.3 447)"  stroke="#111" stroke-width="0.3">Relative Expression</text>
<text x="14.3" y="614.8" font-size="22" font-weight="bold" text-anchor="start" fill="#111"  stroke="#111" stroke-width="0.3">e</text>
<text x="173.4" y="613.1" font-size="19" font-weight="bold" text-anchor="middle" fill="#111"  stroke="#111" stroke-width="0.3">Endocannabinoids</text>
<path d="M75.1 786.4 V747.4 H100.7 V786.4" fill="none" stroke="#000" stroke-width="3.8"/>
<line x1="75.1" y1="800" x2="75.1" y2="856.8" stroke="#000" stroke-width="3.8" />
<line x1="100.7" y1="800" x2="100.7" y2="856.8" stroke="#000" stroke-width="3.8" />
<path d="M116.4 786.4 V699.4 H142.8 V786.4" fill="none" stroke="#000" stroke-width="3.8"/>
<line x1="116.4" y1="800" x2="116.4" y2="856.8" stroke="#000" stroke-width="3.8" />
<line x1="142.8" y1="800" x2="142.8" y2="856.8" stroke="#000" stroke-width="3.8" />
<rect x="186.2" y="841.5" width="26.4" height="15.3" fill="none" stroke="#000" stroke-width="3.8"/>
<rect x="228.3" y="836.6" width="26.3" height="20.2" fill="none" stroke="#000" stroke-width="3.8"/>
<line x1="58.4" y1="856.8" x2="269.1" y2="856.8" stroke="#000" stroke-width="4" />
<line x1="60.4" y1="647.7" x2="60.4" y2="786.4" stroke="#000" stroke-width="4" />
<line x1="51" y1="659.6" x2="60.4" y2="659.6" stroke="#000" stroke-width="3.4" />
<text x="48.6" y="664" font-size="12.5" font-weight="bold" text-anchor="end" fill="#111"  stroke="#111" stroke-width="0.3">250</text>
<line x1="51" y1="688.2" x2="60.4" y2="688.2" stroke="#000" stroke-width="3.4" />
<text x="48.6" y="692.6" font-size="12.5" font-weight="bold" text-anchor="end" fill="#111"  stroke="#111" stroke-width="0.3">200</text>
<line x1="51" y1="717.1" x2="60.4" y2="717.1" stroke="#000" stroke-width="3.4" />
<text x="48.6" y="721.5" font-size="12.5" font-weight="bold" text-anchor="end" fill="#111"  stroke="#111" stroke-width="0.3">150</text>
<line x1="51" y1="746.4" x2="60.4" y2="746.4" stroke="#000" stroke-width="3.4" />
<text x="48.6" y="750.8" font-size="12.5" font-weight="bold" text-anchor="end" fill="#111"  stroke="#111" stroke-width="0.3">100</text>
<line x1="51" y1="774.4" x2="60.4" y2="774.4" stroke="#000" stroke-width="3.4" />
<text x="48.6" y="778.8" font-size="12.5" font-weight="bold" text-anchor="end" fill="#111"  stroke="#111" stroke-width="0.3">50</text>
<line x1="54.5" y1="786.4" x2="65.5" y2="786.4" stroke="#000" stroke-width="3" />
<line x1="60.4" y1="799.6" x2="60.4" y2="858.8" stroke="#000" stroke-width="4" />
<line x1="54.5" y1="799.6" x2="65.5" y2="799.6" stroke="#000" stroke-width="3" />
<line x1="51" y1="800" x2="60.4" y2="800" stroke="#000" stroke-width="3.4" />
<text x="48.6" y="804.4" font-size="12.5" font-weight="bold" text-anchor="end" fill="#111"  stroke="#111" stroke-width="0.3">8</text>
<line x1="51" y1="814.4" x2="60.4" y2="814.4" stroke="#000" stroke-width="3.4" />
<text x="48.6" y="818.8" font-size="12.5" font-weight="bold" text-anchor="end" fill="#111"  stroke="#111" stroke-width="0.3">6</text>
<line x1="51" y1="828" x2="60.4" y2="828" stroke="#000" stroke-width="3.4" />
<text x="48.6" y="832.4" font-size="12.5" font-weight="bold" text-anchor="end" fill="#111"  stroke="#111" stroke-width="0.3">4</text>
<line x1="51" y1="842.5" x2="60.4" y2="842.5" stroke="#000" stroke-width="3.4" />
<text x="48.6" y="846.9" font-size="12.5" font-weight="bold" text-anchor="end" fill="#111"  stroke="#111" stroke-width="0.3">2</text>
<line x1="51" y1="856.5" x2="60.4" y2="856.5" stroke="#000" stroke-width="3.4" />
<text x="48.6" y="860.9" font-size="12.5" font-weight="bold" text-anchor="end" fill="#111"  stroke="#111" stroke-width="0.3">0</text>
<line x1="108.4" y1="856.8" x2="108.4" y2="864.3" stroke="#000" stroke-width="3" />
<line x1="220" y1="856.8" x2="220" y2="864.3" stroke="#000" stroke-width="3" />
<circle cx="88" cy="718.3" r="3.55" fill="#3dae49" stroke="#000" stroke-width="3.3"/>
<circle cx="77.9" cy="732.7" r="3.55" fill="#3dae49" stroke="#000" stroke-width="3.3"/>
<circle cx="98.2" cy="732.4" r="3.55" fill="#3dae49" stroke="#000" stroke-width="3.3"/>
<circle cx="88" cy="768" r="3.55" fill="#3dae49" stroke="#000" stroke-width="3.3"/>
<circle cx="88" cy="777.8" r="3.55" fill="#3dae49" stroke="#000" stroke-width="3.3"/>
<circle cx="199.3" cy="807" r="3.55" fill="#3dae49" stroke="#000" stroke-width="3.3"/>
<circle cx="189.5" cy="852.6" r="3.55" fill="#3dae49" stroke="#000" stroke-width="3.3"/>
<circle cx="199.3" cy="849.4" r="3.55" fill="#3dae49" stroke="#000" stroke-width="3.3"/>
<circle cx="209.6" cy="852.2" r="3.55" fill="#3dae49" stroke="#000" stroke-width="3.3"/>
<circle cx="129.7" cy="671.1" r="3.55" fill="#f0a23a" stroke="#000" stroke-width="3.3"/>
<circle cx="120" cy="679.5" r="3.55" fill="#f0a23a" stroke="#000" stroke-width="3.3"/>
<circle cx="139.9" cy="684.8" r="3.55" fill="#f0a23a" stroke="#000" stroke-width="3.3"/>
<circle cx="129.7" cy="706" r="3.55" fill="#f0a23a" stroke="#000" stroke-width="3.3"/>
<circle cx="129.7" cy="719.1" r="3.55" fill="#f0a23a" stroke="#000" stroke-width="3.3"/>
<circle cx="129.7" cy="730.2" r="3.55" fill="#f0a23a" stroke="#000" stroke-width="3.3"/>
<circle cx="241.4" cy="806.2" r="3.55" fill="#f0a23a" stroke="#000" stroke-width="3.3"/>
<circle cx="241.4" cy="830.4" r="3.55" fill="#f0a23a" stroke="#000" stroke-width="3.3"/>
<circle cx="231" cy="855" r="3.55" fill="#f0a23a" stroke="#000" stroke-width="3.3"/>
<circle cx="251.2" cy="851.2" r="3.55" fill="#f0a23a" stroke="#000" stroke-width="3.3"/>
<line x1="88" y1="734" x2="88" y2="757.4" stroke="#000" stroke-width="2" />
<line x1="129.7" y1="688.5" x2="129.7" y2="705" stroke="#000" stroke-width="2" />
<line x1="199.3" y1="829" x2="199.3" y2="845" stroke="#000" stroke-width="2" />
<line x1="241.4" y1="824.8" x2="241.4" y2="847.3" stroke="#000" stroke-width="2" />
<line x1="72.3" y1="656.7" x2="141.3" y2="656.7" stroke="#000" stroke-width="2" />
<text x="106.8" y="654.7" font-size="18" font-weight="bold" text-anchor="middle" fill="#111"  stroke="#111" stroke-width="0.3">*</text>
<text x="108.4" y="877.4" font-size="12.5" font-weight="bold" text-anchor="middle" fill="#111"  stroke="#111" stroke-width="0.3">2-AG</text>
<text x="220" y="877" font-size="12.5" font-weight="bold" text-anchor="middle" fill="#111"  stroke="#111" stroke-width="0.3">Anandamide</text>
<text x="15.6" y="751.5" font-size="12.4" font-weight="bold" text-anchor="middle" fill="#111" transform="rotate(-90 15.6 751.5)"  stroke="#111" stroke-width="0.3">eCB (ng/mg)</text>
<text x="361.5" y="614.8" font-size="22" font-weight="bold" text-anchor="start" fill="#111"  stroke="#111" stroke-width="0.3">f</text>
<text x="517.4" y="613.1" font-size="19" font-weight="bold" text-anchor="middle" fill="#111"  stroke="#111" stroke-width="0.3">Body Weight</text>
<path d="M402.6 785.12 L410.8 788.58 L419 790.66 L427.2 794.12 L435.4 789.97 L443.6 789.28 L451.8 783.05 L460 784.43 L468.2 784.43 L476.4 785.12 L484.6 772.67 L492.8 774.05 L501 773.36 L509.2 768.52 L517.4 782.36 L525.6 774.74 L533.8 771.28 L542 769.9 L550.2 765.06 L558.4 772.67 L566.6 763.67 L574.8 769.21 L583 785.12 L591.2 770.59 L599.4 772.67 L607.6 769.9 L615.8 771.28 L624 766.44 L624 798.27 L615.8 801.73 L607.6 800.35 L599.4 803.12 L591.2 801.04 L583 816.96 L574.8 799.66 L566.6 794.12 L558.4 804.5 L550.2 796.89 L542 801.73 L533.8 803.12 L525.6 806.58 L517.4 814.19 L509.2 798.96 L501 802.42 L492.8 801.73 L484.6 800.35 L476.4 808.65 L468.2 806.58 L460 805.19 L451.8 802.42 L443.6 807.27 L435.4 807.96 L427.2 810.73 L419 805.88 L410.8 801.04 L402.6 789.28 Z" fill="rgba(242,170,95,0.38)" stroke="none"/>
<path d="M402.6 785.12 L410.8 788.58 L419 790.66 L427.2 794.12 L435.4 789.97 L443.6 789.28 L451.8 783.05 L460 784.43 L468.2 784.43 L476.4 785.12 L484.6 772.67 L492.8 774.05 L501 773.36 L509.2 768.52 L517.4 782.36 L525.6 774.74 L533.8 771.28 L542 769.9 L550.2 765.06 L558.4 772.67 L566.6 763.67 L574.8 769.21 L583 785.12 L591.2 770.59 L599.4 772.67 L607.6 769.9 L615.8 771.28 L624 766.44" fill="none" stroke="#eba030" stroke-width="1.7" stroke-dasharray="5 2.5"/>
<path d="M402.6 789.28 L410.8 801.04 L419 805.88 L427.2 810.73 L435.4 807.96 L443.6 807.27 L451.8 802.42 L460 805.19 L468.2 806.58 L476.4 808.65 L484.6 800.35 L492.8 801.73 L501 802.42 L509.2 798.96 L517.4 814.19 L525.6 806.58 L533.8 803.12 L542 801.73 L550.2 796.89 L558.4 804.5 L566.6 794.12 L574.8 799.66 L583 816.96 L591.2 801.04 L599.4 803.12 L607.6 800.35 L615.8 801.73 L624 798.27" fill="none" stroke="#eba030" stroke-width="1.7" stroke-dasharray="5 2.5"/>
<path d="M402.6 785.12 L410.8 798.96 L419 792.04 L427.2 783.74 L435.4 787.2 L443.6 774.05 L451.8 778.9 L460 772.67 L468.2 762.98 L476.4 758.14 L484.6 749.14 L492.8 745.68 L501 740.84 L509.2 732.53 L517.4 727.69 L525.6 714.54 L533.8 733.92 L542 712.46 L550.2 705.54 L558.4 709 L566.6 709 L574.8 696.55 L583 686.86 L591.2 694.47 L599.4 684.78 L607.6 688.24 L615.8 679.25 L624 674.4 L624 725.61 L615.8 726.3 L607.6 732.53 L599.4 727.69 L591.2 735.99 L583 728.38 L574.8 735.3 L566.6 744.99 L558.4 742.22 L550.2 738.76 L542 742.91 L533.8 760.21 L525.6 740.84 L517.4 752.6 L509.2 756.06 L501 762.98 L492.8 766.44 L484.6 768.52 L476.4 776.13 L468.2 779.59 L460 787.89 L451.8 792.74 L443.6 787.89 L435.4 799.66 L427.2 796.2 L419 803.12 L410.8 807.27 L402.6 789.28 Z" fill="rgba(100,195,90,0.36)" stroke="none"/>
<path d="M402.6 785.12 L410.8 798.96 L419 792.04 L427.2 783.74 L435.4 787.2 L443.6 774.05 L451.8 778.9 L460 772.67 L468.2 762.98 L476.4 758.14 L484.6 749.14 L492.8 745.68 L501 740.84 L509.2 732.53 L517.4 727.69 L525.6 714.54 L533.8 733.92 L542 712.46 L550.2 705.54 L558.4 709 L566.6 709 L574.8 696.55 L583 686.86 L591.2 694.47 L599.4 684.78 L607.6 688.24 L615.8 679.25 L624 674.4" fill="none" stroke="#3cb43c" stroke-width="1.7" stroke-dasharray="5 2.5"/>
<path d="M402.6 789.28 L410.8 807.27 L419 803.12 L427.2 796.2 L435.4 799.66 L443.6 787.89 L451.8 792.74 L460 787.89 L468.2 779.59 L476.4 776.13 L484.6 768.52 L492.8 766.44 L501 762.98 L509.2 756.06 L517.4 752.6 L525.6 740.84 L533.8 760.21 L542 742.91 L550.2 738.76 L558.4 742.22 L566.6 744.99 L574.8 735.3 L583 728.38 L591.2 735.99 L599.4 727.69 L607.6 732.53 L615.8 726.3 L624 725.61" fill="none" stroke="#3cb43c" stroke-width="1.7" stroke-dasharray="5 2.5"/>
<path d="M402.6 787.2 L410.8 794.81 L419 798.27 L427.2 802.42 L435.4 798.96 L443.6 798.27 L451.8 792.74 L460 794.81 L468.2 795.5 L476.4 796.89 L484.6 786.51 L492.8 787.89 L501 787.89 L509.2 783.74 L517.4 798.27 L525.6 790.66 L533.8 787.2 L542 785.82 L550.2 780.97 L558.4 788.58 L566.6 778.9 L574.8 784.43 L583 801.04 L591.2 785.82 L599.4 787.89 L607.6 785.12 L615.8 786.51 L624 782.36" fill="none" stroke="#000" stroke-width="1.8"/>
<circle cx="402.6" cy="787.2" r="3.7" fill="#f0a23a" stroke="#000" stroke-width="3.4"/>
<circle cx="410.8" cy="794.81" r="3.7" fill="#f0a23a" stroke="#000" stroke-width="3.4"/>
<circle cx="419" cy="798.27" r="3.7" fill="#f0a23a" stroke="#000" stroke-width="3.4"/>
<circle cx="427.2" cy="802.42" r="3.7" fill="#f0a23a" stroke="#000" stroke-width="3.4"/>
<circle cx="435.4" cy="798.96" r="3.7" fill="#f0a23a" stroke="#000" stroke-width="3.4"/>
<circle cx="443.6" cy="798.27" r="3.7" fill="#f0a23a" stroke="#000" stroke-width="3.4"/>
<circle cx="451.8" cy="792.74" r="3.7" fill="#f0a23a" stroke="#000" stroke-width="3.4"/>
<circle cx="460" cy="794.81" r="3.7" fill="#f0a23a" stroke="#000" stroke-width="3.4"/>
<circle cx="468.2" cy="795.5" r="3.7" fill="#f0a23a" stroke="#000" stroke-width="3.4"/>
<circle cx="476.4" cy="796.89" r="3.7" fill="#f0a23a" stroke="#000" stroke-width="3.4"/>
<circle cx="484.6" cy="786.51" r="3.7" fill="#f0a23a" stroke="#000" stroke-width="3.4"/>
<circle cx="492.8" cy="787.89" r="3.7" fill="#f0a23a" stroke="#000" stroke-width="3.4"/>
<circle cx="501" cy="787.89" r="3.7" fill="#f0a23a" stroke="#000" stroke-width="3.4"/>
<circle cx="509.2" cy="783.74" r="3.7" fill="#f0a23a" stroke="#000" stroke-width="3.4"/>
<circle cx="517.4" cy="798.27" r="3.7" fill="#f0a23a" stroke="#000" stroke-width="3.4"/>
<circle cx="525.6" cy="790.66" r="3.7" fill="#f0a23a" stroke="#000" stroke-width="3.4"/>
<circle cx="533.8" cy="787.2" r="3.7" fill="#f0a23a" stroke="#000" stroke-width="3.4"/>
<circle cx="542" cy="785.82" r="3.7" fill="#f0a23a" stroke="#000" stroke-width="3.4"/>
<circle cx="550.2" cy="780.97" r="3.7" fill="#f0a23a" stroke="#000" stroke-width="3.4"/>
<circle cx="558.4" cy="788.58" r="3.7" fill="#f0a23a" stroke="#000" stroke-width="3.4"/>
<circle cx="566.6" cy="778.9" r="3.7" fill="#f0a23a" stroke="#000" stroke-width="3.4"/>
<circle cx="574.8" cy="784.43" r="3.7" fill="#f0a23a" stroke="#000" stroke-width="3.4"/>
<circle cx="583" cy="801.04" r="3.7" fill="#f0a23a" stroke="#000" stroke-width="3.4"/>
<circle cx="591.2" cy="785.82" r="3.7" fill="#f0a23a" stroke="#000" stroke-width="3.4"/>
<circle cx="599.4" cy="787.89" r="3.7" fill="#f0a23a" stroke="#000" stroke-width="3.4"/>
<circle cx="607.6" cy="785.12" r="3.7" fill="#f0a23a" stroke="#000" stroke-width="3.4"/>
<circle cx="615.8" cy="786.51" r="3.7" fill="#f0a23a" stroke="#000" stroke-width="3.4"/>
<circle cx="624" cy="782.36" r="3.7" fill="#f0a23a" stroke="#000" stroke-width="3.4"/>
<path d="M402.6 787.2 L410.8 803.12 L419 797.58 L427.2 789.97 L435.4 793.43 L443.6 780.97 L451.8 785.82 L460 780.28 L468.2 771.28 L476.4 767.13 L484.6 758.83 L492.8 756.06 L501 751.91 L509.2 744.3 L517.4 740.14 L525.6 727.69 L533.8 747.06 L542 727.69 L550.2 722.15 L558.4 725.61 L566.6 727 L574.8 715.92 L583 707.62 L591.2 715.23 L599.4 706.24 L607.6 710.39 L615.8 702.78 L624 700.01" fill="none" stroke="#000" stroke-width="1.8"/>
<circle cx="402.6" cy="787.2" r="3.7" fill="#3dae49" stroke="#000" stroke-width="3.4"/>
<circle cx="410.8" cy="803.12" r="3.7" fill="#3dae49" stroke="#000" stroke-width="3.4"/>
<circle cx="419" cy="797.58" r="3.7" fill="#3dae49" stroke="#000" stroke-width="3.4"/>
<circle cx="427.2" cy="789.97" r="3.7" fill="#3dae49" stroke="#000" stroke-width="3.4"/>
<circle cx="435.4" cy="793.43" r="3.7" fill="#3dae49" stroke="#000" stroke-width="3.4"/>
<circle cx="443.6" cy="780.97" r="3.7" fill="#3dae49" stroke="#000" stroke-width="3.4"/>
<circle cx="451.8" cy="785.82" r="3.7" fill="#3dae49" stroke="#000" stroke-width="3.4"/>
<circle cx="460" cy="780.28" r="3.7" fill="#3dae49" stroke="#000" stroke-width="3.4"/>
<circle cx="468.2" cy="771.28" r="3.7" fill="#3dae49" stroke="#000" stroke-width="3.4"/>
<circle cx="476.4" cy="767.13" r="3.7" fill="#3dae49" stroke="#000" stroke-width="3.4"/>
<circle cx="484.6" cy="758.83" r="3.7" fill="#3dae49" stroke="#000" stroke-width="3.4"/>
<circle cx="492.8" cy="756.06" r="3.7" fill="#3dae49" stroke="#000" stroke-width="3.4"/>
<circle cx="501" cy="751.91" r="3.7" fill="#3dae49" stroke="#000" stroke-width="3.4"/>
<circle cx="509.2" cy="744.3" r="3.7" fill="#3dae49" stroke="#000" stroke-width="3.4"/>
<circle cx="517.4" cy="740.14" r="3.7" fill="#3dae49" stroke="#000" stroke-width="3.4"/>
<circle cx="525.6" cy="727.69" r="3.7" fill="#3dae49" stroke="#000" stroke-width="3.4"/>
<circle cx="533.8" cy="747.06" r="3.7" fill="#3dae49" stroke="#000" stroke-width="3.4"/>
<circle cx="542" cy="727.69" r="3.7" fill="#3dae49" stroke="#000" stroke-width="3.4"/>
<circle cx="550.2" cy="722.15" r="3.7" fill="#3dae49" stroke="#000" stroke-width="3.4"/>
<circle cx="558.4" cy="725.61" r="3.7" fill="#3dae49" stroke="#000" stroke-width="3.4"/>
<circle cx="566.6" cy="727" r="3.7" fill="#3dae49" stroke="#000" stroke-width="3.4"/>
<circle cx="574.8" cy="715.92" r="3.7" fill="#3dae49" stroke="#000" stroke-width="3.4"/>
<circle cx="583" cy="707.62" r="3.7" fill="#3dae49" stroke="#000" stroke-width="3.4"/>
<circle cx="591.2" cy="715.23" r="3.7" fill="#3dae49" stroke="#000" stroke-width="3.4"/>
<circle cx="599.4" cy="706.24" r="3.7" fill="#3dae49" stroke="#000" stroke-width="3.4"/>
<circle cx="607.6" cy="710.39" r="3.7" fill="#3dae49" stroke="#000" stroke-width="3.4"/>
<circle cx="615.8" cy="702.78" r="3.7" fill="#3dae49" stroke="#000" stroke-width="3.4"/>
<circle cx="624" cy="700.01" r="3.7" fill="#3dae49" stroke="#000" stroke-width="3.4"/>
<line x1="396.9" y1="855.8" x2="627.7" y2="855.8" stroke="#000" stroke-width="4" />
<line x1="398.9" y1="647.4" x2="398.9" y2="857.8" stroke="#000" stroke-width="4" />
<line x1="392" y1="648.8" x2="398.9" y2="648.8" stroke="#000" stroke-width="3.4" />
<text x="389.4" y="653.1" font-size="11.9" font-weight="bold" text-anchor="end" fill="#111"  stroke="#111" stroke-width="0.3">120</text>
<line x1="392" y1="683.4" x2="398.9" y2="683.4" stroke="#000" stroke-width="3.4" />
<text x="389.4" y="687.7" font-size="11.9" font-weight="bold" text-anchor="end" fill="#111"  stroke="#111" stroke-width="0.3">115</text>
<line x1="392" y1="718" x2="398.9" y2="718" stroke="#000" stroke-width="3.4" />
<text x="389.4" y="722.3" font-size="11.9" font-weight="bold" text-anchor="end" fill="#111"  stroke="#111" stroke-width="0.3">110</text>
<line x1="392" y1="752.6" x2="398.9" y2="752.6" stroke="#000" stroke-width="3.4" />
<text x="389.4" y="756.9" font-size="11.9" font-weight="bold" text-anchor="end" fill="#111"  stroke="#111" stroke-width="0.3">105</text>
<line x1="392" y1="787.2" x2="398.9" y2="787.2" stroke="#000" stroke-width="3.4" />
<text x="389.4" y="791.5" font-size="11.9" font-weight="bold" text-anchor="end" fill="#111"  stroke="#111" stroke-width="0.3">100</text>
<line x1="392" y1="821.8" x2="398.9" y2="821.8" stroke="#000" stroke-width="3.4" />
<text x="389.4" y="826.1" font-size="11.9" font-weight="bold" text-anchor="end" fill="#111"  stroke="#111" stroke-width="0.3">95</text>
<line x1="392" y1="856.4" x2="398.9" y2="856.4" stroke="#000" stroke-width="3.4" />
<text x="389.4" y="860.7" font-size="11.9" font-weight="bold" text-anchor="end" fill="#111"  stroke="#111" stroke-width="0.3">90</text>
<line x1="402.6" y1="855.8" x2="402.6" y2="863" stroke="#000" stroke-width="3.2" />
<text x="402.6" y="876" font-size="12.3" font-weight="bold" text-anchor="middle" fill="#111"  stroke="#111" stroke-width="0.3">2</text>
<line x1="435.4" y1="855.8" x2="435.4" y2="863" stroke="#000" stroke-width="3.2" />
<text x="435.4" y="876" font-size="12.3" font-weight="bold" text-anchor="middle" fill="#111"  stroke="#111" stroke-width="0.3">10</text>
<line x1="468.2" y1="855.8" x2="468.2" y2="863" stroke="#000" stroke-width="3.2" />
<text x="468.2" y="876" font-size="12.3" font-weight="bold" text-anchor="middle" fill="#111"  stroke="#111" stroke-width="0.3">18</text>
<line x1="501" y1="855.8" x2="501" y2="863" stroke="#000" stroke-width="3.2" />
<text x="501" y="876" font-size="12.3" font-weight="bold" text-anchor="middle" fill="#111"  stroke="#111" stroke-width="0.3">26</text>
<line x1="533.8" y1="855.8" x2="533.8" y2="863" stroke="#000" stroke-width="3.2" />
<text x="533.8" y="876" font-size="12.3" font-weight="bold" text-anchor="middle" fill="#111"  stroke="#111" stroke-width="0.3">34</text>
<line x1="566.6" y1="855.8" x2="566.6" y2="863" stroke="#000" stroke-width="3.2" />
<text x="566.6" y="876" font-size="12.3" font-weight="bold" text-anchor="middle" fill="#111"  stroke="#111" stroke-width="0.3">42</text>
<line x1="599.4" y1="855.8" x2="599.4" y2="863" stroke="#000" stroke-width="3.2" />
<text x="599.4" y="876" font-size="12.3" font-weight="bold" text-anchor="middle" fill="#111"  stroke="#111" stroke-width="0.3">50</text>
<line x1="566.6" y1="669.4" x2="623.8" y2="669.4" stroke="#000" stroke-width="2" />
<text x="595.2" y="664.5" font-size="17.5" font-weight="bold" text-anchor="middle" fill="#111"  stroke="#111" stroke-width="0.3">* - ***</text>
<text x="513.75" y="895" font-size="12.2" font-weight="bold" text-anchor="middle" fill="#111"  stroke="#111" stroke-width="0.3">Time (days)</text>
<text x="357.5" y="751.5" font-size="12.4" font-weight="bold" text-anchor="middle" fill="#111" transform="rotate(-90 357.5 751.5)"  stroke="#111" stroke-width="0.3">Body weight (% change)</text>
<text x="685.7" y="612.8" font-size="22" font-weight="bold" text-anchor="start" fill="#111"  stroke="#111" stroke-width="0.3">g</text>
<text x="850.4" y="615.4" font-size="19" font-weight="bold" text-anchor="middle" fill="#111"  stroke="#111" stroke-width="0.3">Body Composition</text>
<rect x="748.7" y="690.6" width="27.9" height="166.4" fill="none" stroke="#000" stroke-width="4.2"/>
<rect x="794.4" y="701.1" width="28.1" height="155.9" fill="none" stroke="#000" stroke-width="4.2"/>
<rect x="870.8" y="810.6" width="28.8" height="46.4" fill="none" stroke="#000" stroke-width="4.2"/>
<rect x="916.4" y="830.2" width="29.1" height="26.8" fill="none" stroke="#000" stroke-width="4.2"/>
<line x1="730.4" y1="857" x2="961.2" y2="857" stroke="#000" stroke-width="4" />
<line x1="732.4" y1="649" x2="732.4" y2="859" stroke="#000" stroke-width="4" />
<line x1="725.3" y1="651" x2="732.4" y2="651" stroke="#000" stroke-width="3.4" />
<text x="722.7" y="655.3" font-size="12.5" font-weight="bold" text-anchor="end" fill="#111"  stroke="#111" stroke-width="0.3">25</text>
<line x1="725.3" y1="692.5" x2="732.4" y2="692.5" stroke="#000" stroke-width="3.4" />
<text x="722.7" y="696.8" font-size="12.5" font-weight="bold" text-anchor="end" fill="#111"  stroke="#111" stroke-width="0.3">20</text>
<line x1="725.3" y1="733.8" x2="732.4" y2="733.8" stroke="#000" stroke-width="3.4" />
<text x="722.7" y="738.1" font-size="12.5" font-weight="bold" text-anchor="end" fill="#111"  stroke="#111" stroke-width="0.3">15</text>
<line x1="725.3" y1="774.9" x2="732.4" y2="774.9" stroke="#000" stroke-width="3.4" />
<text x="722.7" y="779.2" font-size="12.5" font-weight="bold" text-anchor="end" fill="#111"  stroke="#111" stroke-width="0.3">10</text>
<line x1="725.3" y1="816" x2="732.4" y2="816" stroke="#000" stroke-width="3.4" />
<text x="722.7" y="820.3" font-size="12.5" font-weight="bold" text-anchor="end" fill="#111"  stroke="#111" stroke-width="0.3">5</text>
<line x1="725.3" y1="856.8" x2="732.4" y2="856.8" stroke="#000" stroke-width="3.4" />
<text x="722.7" y="861.1" font-size="12.5" font-weight="bold" text-anchor="end" fill="#111"  stroke="#111" stroke-width="0.3">0</text>
<line x1="785.8" y1="857" x2="785.8" y2="864" stroke="#000" stroke-width="3" />
<line x1="908" y1="857" x2="908" y2="864" stroke="#000" stroke-width="3" />
<circle cx="751.5" cy="680.5" r="3.55" fill="#3dae49" stroke="#000" stroke-width="3.3"/>
<circle cx="754.7" cy="687.7" r="3.55" fill="#3dae49" stroke="#000" stroke-width="3.3"/>
<circle cx="764.4" cy="686.9" r="3.55" fill="#3dae49" stroke="#000" stroke-width="3.3"/>
<circle cx="751.5" cy="692.1" r="3.55" fill="#3dae49" stroke="#000" stroke-width="3.3"/>
<circle cx="757.6" cy="691.5" r="3.55" fill="#3dae49" stroke="#000" stroke-width="3.3"/>
<circle cx="764.1" cy="695.3" r="3.55" fill="#3dae49" stroke="#000" stroke-width="3.3"/>
<circle cx="770.6" cy="695.8" r="3.55" fill="#3dae49" stroke="#000" stroke-width="3.3"/>
<circle cx="774.1" cy="691.5" r="3.55" fill="#3dae49" stroke="#000" stroke-width="3.3"/>
<circle cx="884.8" cy="777.4" r="3.55" fill="#3dae49" stroke="#000" stroke-width="3.3"/>
<circle cx="884.8" cy="799" r="3.55" fill="#3dae49" stroke="#000" stroke-width="3.3"/>
<circle cx="896.8" cy="801.2" r="3.55" fill="#3dae49" stroke="#000" stroke-width="3.3"/>
<circle cx="873.4" cy="806.4" r="3.55" fill="#3dae49" stroke="#000" stroke-width="3.3"/>
<circle cx="873.4" cy="816.2" r="3.55" fill="#3dae49" stroke="#000" stroke-width="3.3"/>
<circle cx="884.8" cy="818.6" r="3.55" fill="#3dae49" stroke="#000" stroke-width="3.3"/>
<circle cx="896.8" cy="815.8" r="3.55" fill="#3dae49" stroke="#000" stroke-width="3.3"/>
<circle cx="873.4" cy="826" r="3.55" fill="#3dae49" stroke="#000" stroke-width="3.3"/>
<circle cx="896.8" cy="823.2" r="3.55" fill="#3dae49" stroke="#000" stroke-width="3.3"/>
<circle cx="802" cy="684.5" r="3.55" fill="#f0a23a" stroke="#000" stroke-width="3.3"/>
<circle cx="815.4" cy="684" r="3.55" fill="#f0a23a" stroke="#000" stroke-width="3.3"/>
<circle cx="806.5" cy="688.5" r="3.55" fill="#f0a23a" stroke="#000" stroke-width="3.3"/>
<circle cx="801.7" cy="694.7" r="3.55" fill="#f0a23a" stroke="#000" stroke-width="3.3"/>
<circle cx="796.8" cy="701.2" r="3.55" fill="#f0a23a" stroke="#000" stroke-width="3.3"/>
<circle cx="806.5" cy="701.2" r="3.55" fill="#f0a23a" stroke="#000" stroke-width="3.3"/>
<circle cx="819.9" cy="699.1" r="3.55" fill="#f0a23a" stroke="#000" stroke-width="3.3"/>
<circle cx="801.7" cy="705.5" r="3.55" fill="#f0a23a" stroke="#000" stroke-width="3.3"/>
<circle cx="810.6" cy="705.5" r="3.55" fill="#f0a23a" stroke="#000" stroke-width="3.3"/>
<circle cx="815.4" cy="703.9" r="3.55" fill="#f0a23a" stroke="#000" stroke-width="3.3"/>
<circle cx="808.9" cy="714.8" r="3.55" fill="#f0a23a" stroke="#000" stroke-width="3.3"/>
<circle cx="808.9" cy="725.8" r="3.55" fill="#f0a23a" stroke="#000" stroke-width="3.3"/>
<circle cx="931.1" cy="794.9" r="3.55" fill="#f0a23a" stroke="#000" stroke-width="3.3"/>
<circle cx="942.3" cy="818" r="3.55" fill="#f0a23a" stroke="#000" stroke-width="3.3"/>
<circle cx="936.7" cy="824.2" r="3.55" fill="#f0a23a" stroke="#000" stroke-width="3.3"/>
<circle cx="924.8" cy="827.4" r="3.55" fill="#f0a23a" stroke="#000" stroke-width="3.3"/>
<circle cx="919.2" cy="829.8" r="3.55" fill="#f0a23a" stroke="#000" stroke-width="3.3"/>
<circle cx="931.1" cy="828.1" r="3.55" fill="#f0a23a" stroke="#000" stroke-width="3.3"/>
<circle cx="936.7" cy="832" r="3.55" fill="#f0a23a" stroke="#000" stroke-width="3.3"/>
<circle cx="942.3" cy="833.7" r="3.55" fill="#f0a23a" stroke="#000" stroke-width="3.3"/>
<circle cx="924.8" cy="836.5" r="3.55" fill="#f0a23a" stroke="#000" stroke-width="3.3"/>
<circle cx="931.1" cy="837.9" r="3.55" fill="#f0a23a" stroke="#000" stroke-width="3.3"/>
<circle cx="936.7" cy="841.4" r="3.55" fill="#f0a23a" stroke="#000" stroke-width="3.3"/>
<circle cx="924.8" cy="845.2" r="3.55" fill="#f0a23a" stroke="#000" stroke-width="3.3"/>
<line x1="762.6" y1="684" x2="762.6" y2="692" stroke="#000" stroke-width="2" />
<line x1="808.4" y1="693" x2="808.4" y2="706" stroke="#000" stroke-width="2" />
<line x1="885.2" y1="801" x2="885.2" y2="816" stroke="#000" stroke-width="2" />
<line x1="931" y1="822" x2="931" y2="834" stroke="#000" stroke-width="2" />
<line x1="756.3" y1="664.6" x2="813.8" y2="664.6" stroke="#000" stroke-width="2" />
<text x="785.05" y="661.2" font-size="18" font-weight="bold" text-anchor="middle" fill="#111"  stroke="#111" stroke-width="0.3">*</text>
<line x1="878.1" y1="766.7" x2="935.6" y2="766.7" stroke="#000" stroke-width="2" />
<text x="906.85" y="758.3" font-size="18" font-weight="bold" text-anchor="middle" fill="#111"  stroke="#111" stroke-width="0.3">**</text>
<text x="785.8" y="877" font-size="12.5" font-weight="bold" text-anchor="middle" fill="#111"  stroke="#111" stroke-width="0.3">Lean mass</text>
<text x="908" y="877.4" font-size="12.5" font-weight="bold" text-anchor="middle" fill="#111"  stroke="#111" stroke-width="0.3">Fat mass</text>
<text x="697.2" y="751.6" font-size="12.4" font-weight="bold" text-anchor="middle" fill="#111" transform="rotate(-90 697.2 751.6)"  stroke="#111" stroke-width="0.3">Mass (g)</text>
<text x="12.3" y="933" font-size="22" font-weight="bold" text-anchor="start" fill="#111"  stroke="#111" stroke-width="0.3">h</text>
<text x="163.85" y="932.1" font-size="19" font-weight="bold" text-anchor="middle" fill="#111"  stroke="#111" stroke-width="0.3">Food Intake</text>
<line x1="55.8" y1="1168.7" x2="288.6" y2="1168.7" stroke="#000" stroke-width="4" />
<line x1="57.8" y1="960.4" x2="57.8" y2="1170.7" stroke="#000" stroke-width="4" />
<line x1="50.7" y1="961.5" x2="57.8" y2="961.5" stroke="#000" stroke-width="3.4" />
<text x="48.1" y="965.8" font-size="12.5" font-weight="bold" text-anchor="end" fill="#111"  stroke="#111" stroke-width="0.3">800</text>
<line x1="50.7" y1="1013.3" x2="57.8" y2="1013.3" stroke="#000" stroke-width="3.4" />
<text x="48.1" y="1017.6" font-size="12.5" font-weight="bold" text-anchor="end" fill="#111"  stroke="#111" stroke-width="0.3">600</text>
<line x1="50.7" y1="1065.1" x2="57.8" y2="1065.1" stroke="#000" stroke-width="3.4" />
<text x="48.1" y="1069.4" font-size="12.5" font-weight="bold" text-anchor="end" fill="#111"  stroke="#111" stroke-width="0.3">400</text>
<line x1="50.7" y1="1116.9" x2="57.8" y2="1116.9" stroke="#000" stroke-width="3.4" />
<text x="48.1" y="1121.2" font-size="12.5" font-weight="bold" text-anchor="end" fill="#111"  stroke="#111" stroke-width="0.3">200</text>
<line x1="50.7" y1="1168.7" x2="57.8" y2="1168.7" stroke="#000" stroke-width="3.4" />
<text x="48.1" y="1173" font-size="12.5" font-weight="bold" text-anchor="end" fill="#111"  stroke="#111" stroke-width="0.3">0</text>
<line x1="65.5" y1="1168.7" x2="65.5" y2="1175.3" stroke="#000" stroke-width="3" />
<text x="65.5" y="1189.3" font-size="12.5" font-weight="bold" text-anchor="middle" fill="#111"  stroke="#111" stroke-width="0.3">2</text>
<line x1="98.7" y1="1168.7" x2="98.7" y2="1175.3" stroke="#000" stroke-width="3" />
<text x="98.7" y="1189.3" font-size="12.5" font-weight="bold" text-anchor="middle" fill="#111"  stroke="#111" stroke-width="0.3">10</text>
<line x1="131.9" y1="1168.7" x2="131.9" y2="1175.3" stroke="#000" stroke-width="3" />
<text x="131.9" y="1189.3" font-size="12.5" font-weight="bold" text-anchor="middle" fill="#111"  stroke="#111" stroke-width="0.3">18</text>
<line x1="165.1" y1="1168.7" x2="165.1" y2="1175.3" stroke="#000" stroke-width="3" />
<text x="165.1" y="1189.3" font-size="12.5" font-weight="bold" text-anchor="middle" fill="#111"  stroke="#111" stroke-width="0.3">26</text>
<line x1="198.3" y1="1168.7" x2="198.3" y2="1175.3" stroke="#000" stroke-width="3" />
<text x="198.3" y="1189.3" font-size="12.5" font-weight="bold" text-anchor="middle" fill="#111"  stroke="#111" stroke-width="0.3">34</text>
<line x1="231.5" y1="1168.7" x2="231.5" y2="1175.3" stroke="#000" stroke-width="3" />
<text x="231.5" y="1189.3" font-size="12.5" font-weight="bold" text-anchor="middle" fill="#111"  stroke="#111" stroke-width="0.3">42</text>
<line x1="264.7" y1="1168.7" x2="264.7" y2="1175.3" stroke="#000" stroke-width="3" />
<text x="264.7" y="1189.3" font-size="12.5" font-weight="bold" text-anchor="middle" fill="#111"  stroke="#111" stroke-width="0.3">50</text>
<path d="M57.2 1168.7 L65.5 1162.54 L73.8 1156.37 L82.1 1150.21 L90.4 1144.04 L98.7 1137.88 L107 1131.71 L115.3 1125.55 L123.6 1119.39 L131.9 1113.22 L140.2 1107.06 L148.5 1100.89 L156.8 1094.73 L165.1 1088.57 L173.4 1082.4 L181.7 1076.24 L190 1070.07 L198.3 1063.91 L206.6 1057.74 L214.9 1051.58 L223.2 1045.42 L231.5 1039.25 L239.8 1033.09 L248.1 1026.92 L256.4 1020.76 L264.7 1014.6 L273 1008.43 L281.3 1002.27 L289.6 996.1" fill="none" stroke="#f0a23a" stroke-width="3"/>
<circle cx="57.2" cy="1168.7" r="3.5" fill="#f0a23a" stroke="#000" stroke-width="2.8"/>
<circle cx="65.5" cy="1162.54" r="3.5" fill="#f0a23a" stroke="#000" stroke-width="2.8"/>
<circle cx="73.8" cy="1156.37" r="3.5" fill="#f0a23a" stroke="#000" stroke-width="2.8"/>
<circle cx="82.1" cy="1150.21" r="3.5" fill="#f0a23a" stroke="#000" stroke-width="2.8"/>
<circle cx="90.4" cy="1144.04" r="3.5" fill="#f0a23a" stroke="#000" stroke-width="2.8"/>
<circle cx="98.7" cy="1137.88" r="3.5" fill="#f0a23a" stroke="#000" stroke-width="2.8"/>
<circle cx="107" cy="1131.71" r="3.5" fill="#f0a23a" stroke="#000" stroke-width="2.8"/>
<circle cx="115.3" cy="1125.55" r="3.5" fill="#f0a23a" stroke="#000" stroke-width="2.8"/>
<circle cx="123.6" cy="1119.39" r="3.5" fill="#f0a23a" stroke="#000" stroke-width="2.8"/>
<circle cx="131.9" cy="1113.22" r="3.5" fill="#f0a23a" stroke="#000" stroke-width="2.8"/>
<circle cx="140.2" cy="1107.06" r="3.5" fill="#f0a23a" stroke="#000" stroke-width="2.8"/>
<circle cx="148.5" cy="1100.89" r="3.5" fill="#f0a23a" stroke="#000" stroke-width="2.8"/>
<circle cx="156.8" cy="1094.73" r="3.5" fill="#f0a23a" stroke="#000" stroke-width="2.8"/>
<circle cx="165.1" cy="1088.57" r="3.5" fill="#f0a23a" stroke="#000" stroke-width="2.8"/>
<circle cx="173.4" cy="1082.4" r="3.5" fill="#f0a23a" stroke="#000" stroke-width="2.8"/>
<circle cx="181.7" cy="1076.24" r="3.5" fill="#f0a23a" stroke="#000" stroke-width="2.8"/>
<circle cx="190" cy="1070.07" r="3.5" fill="#f0a23a" stroke="#000" stroke-width="2.8"/>
<circle cx="198.3" cy="1063.91" r="3.5" fill="#f0a23a" stroke="#000" stroke-width="2.8"/>
<circle cx="206.6" cy="1057.74" r="3.5" fill="#f0a23a" stroke="#000" stroke-width="2.8"/>
<circle cx="214.9" cy="1051.58" r="3.5" fill="#f0a23a" stroke="#000" stroke-width="2.8"/>
<circle cx="223.2" cy="1045.42" r="3.5" fill="#f0a23a" stroke="#000" stroke-width="2.8"/>
<circle cx="231.5" cy="1039.25" r="3.5" fill="#f0a23a" stroke="#000" stroke-width="2.8"/>
<circle cx="239.8" cy="1033.09" r="3.5" fill="#f0a23a" stroke="#000" stroke-width="2.8"/>
<circle cx="248.1" cy="1026.92" r="3.5" fill="#f0a23a" stroke="#000" stroke-width="2.8"/>
<circle cx="256.4" cy="1020.76" r="3.5" fill="#f0a23a" stroke="#000" stroke-width="2.8"/>
<circle cx="264.7" cy="1014.6" r="3.5" fill="#f0a23a" stroke="#000" stroke-width="2.8"/>
<circle cx="273" cy="1008.43" r="3.5" fill="#f0a23a" stroke="#000" stroke-width="2.8"/>
<circle cx="281.3" cy="1002.27" r="3.5" fill="#f0a23a" stroke="#000" stroke-width="2.8"/>
<circle cx="289.6" cy="996.1" r="3.5" fill="#f0a23a" stroke="#000" stroke-width="2.8"/>
<circle cx="57.2" cy="1168.7" r="3.5" fill="#3dae49" stroke="#000" stroke-width="2.8"/>
<circle cx="65.5" cy="1162.73" r="3.5" fill="#3dae49" stroke="#000" stroke-width="2.8"/>
<circle cx="73.8" cy="1156.75" r="3.5" fill="#3dae49" stroke="#000" stroke-width="2.8"/>
<circle cx="82.1" cy="1150.78" r="3.5" fill="#3dae49" stroke="#000" stroke-width="2.8"/>
<circle cx="90.4" cy="1144.81" r="3.5" fill="#3dae49" stroke="#000" stroke-width="2.8"/>
<circle cx="98.7" cy="1138.84" r="3.5" fill="#3dae49" stroke="#000" stroke-width="2.8"/>
<circle cx="107" cy="1132.86" r="3.5" fill="#3dae49" stroke="#000" stroke-width="2.8"/>
<circle cx="115.3" cy="1126.89" r="3.5" fill="#3dae49" stroke="#000" stroke-width="2.8"/>
<circle cx="123.6" cy="1120.92" r="3.5" fill="#3dae49" stroke="#000" stroke-width="2.8"/>
<circle cx="131.9" cy="1114.95" r="3.5" fill="#3dae49" stroke="#000" stroke-width="2.8"/>
<circle cx="140.2" cy="1108.97" r="3.5" fill="#3dae49" stroke="#000" stroke-width="2.8"/>
<circle cx="148.5" cy="1103" r="3.5" fill="#3dae49" stroke="#000" stroke-width="2.8"/>
<circle cx="156.8" cy="1097.03" r="3.5" fill="#3dae49" stroke="#000" stroke-width="2.8"/>
<circle cx="165.1" cy="1091.06" r="3.5" fill="#3dae49" stroke="#000" stroke-width="2.8"/>
<circle cx="173.4" cy="1085.08" r="3.5" fill="#3dae49" stroke="#000" stroke-width="2.8"/>
<circle cx="181.7" cy="1079.11" r="3.5" fill="#3dae49" stroke="#000" stroke-width="2.8"/>
<circle cx="190" cy="1073.14" r="3.5" fill="#3dae49" stroke="#000" stroke-width="2.8"/>
<circle cx="198.3" cy="1067.17" r="3.5" fill="#3dae49" stroke="#000" stroke-width="2.8"/>
<circle cx="206.6" cy="1061.19" r="3.5" fill="#3dae49" stroke="#000" stroke-width="2.8"/>
<circle cx="214.9" cy="1055.22" r="3.5" fill="#3dae49" stroke="#000" stroke-width="2.8"/>
<circle cx="223.2" cy="1049.25" r="3.5" fill="#3dae49" stroke="#000" stroke-width="2.8"/>
<circle cx="231.5" cy="1043.28" r="3.5" fill="#3dae49" stroke="#000" stroke-width="2.8"/>
<circle cx="239.8" cy="1037.3" r="3.5" fill="#3dae49" stroke="#000" stroke-width="2.8"/>
<circle cx="248.1" cy="1031.33" r="3.5" fill="#3dae49" stroke="#000" stroke-width="2.8"/>
<circle cx="256.4" cy="1025.36" r="3.5" fill="#3dae49" stroke="#000" stroke-width="2.8"/>
<circle cx="264.7" cy="1019.39" r="3.5" fill="#3dae49" stroke="#000" stroke-width="2.8"/>
<circle cx="273" cy="1013.41" r="3.5" fill="#3dae49" stroke="#000" stroke-width="2.8"/>
<circle cx="281.3" cy="1007.44" r="3.5" fill="#3dae49" stroke="#000" stroke-width="2.8"/>
<circle cx="289.6" cy="1001.47" r="3.5" fill="#3dae49" stroke="#000" stroke-width="2.8"/>
<text x="172.7" y="1208" font-size="12.2" font-weight="bold" text-anchor="middle" fill="#111"  stroke="#111" stroke-width="0.3">Time (days)</text>
<text x="17.1" y="1065.3" font-size="12.4" font-weight="bold" text-anchor="middle" fill="#111" transform="rotate(-90 17.1 1065.3)"  stroke="#111" stroke-width="0.3">Cumulative food intake (kcal)</text>
<text x="360.1" y="936" font-size="22" font-weight="bold" text-anchor="start" fill="#111"  stroke="#111" stroke-width="0.3">i</text>
<text x="519.05" y="936.4" font-size="19" font-weight="bold" text-anchor="middle" fill="#111"  stroke="#111" stroke-width="0.3">Feed Efficiency</text>
<rect x="448.8" y="1030.7" width="55.4" height="35" fill="none" stroke="#000" stroke-width="4"/>
<rect x="535.3" y="1065.7" width="56.4" height="10.7" fill="none" stroke="#000" stroke-width="4"/>
<line x1="416.2" y1="1065.7" x2="620.8" y2="1065.7" stroke="#000" stroke-width="4" />
<line x1="416.2" y1="1169" x2="620.8" y2="1169" stroke="#000" stroke-width="4" />
<line x1="418.2" y1="961.1" x2="418.2" y2="1171" stroke="#000" stroke-width="4" />
<line x1="411.5" y1="962.1" x2="418.2" y2="962.1" stroke="#000" stroke-width="3.4" />
<text x="408.9" y="966.4" font-size="12.5" font-weight="bold" text-anchor="end" fill="#111"  stroke="#111" stroke-width="0.3">0.010</text>
<line x1="411.5" y1="1013.9" x2="418.2" y2="1013.9" stroke="#000" stroke-width="3.4" />
<text x="408.9" y="1018.2" font-size="12.5" font-weight="bold" text-anchor="end" fill="#111"  stroke="#111" stroke-width="0.3">0.005</text>
<line x1="411.5" y1="1065.7" x2="418.2" y2="1065.7" stroke="#000" stroke-width="3.4" />
<text x="408.9" y="1070" font-size="12.5" font-weight="bold" text-anchor="end" fill="#111"  stroke="#111" stroke-width="0.3">0.000</text>
<line x1="411.5" y1="1117.4" x2="418.2" y2="1117.4" stroke="#000" stroke-width="3.4" />
<text x="408.9" y="1121.7" font-size="12.5" font-weight="bold" text-anchor="end" fill="#111"  stroke="#111" stroke-width="0.3">-0.005</text>
<line x1="411.5" y1="1169" x2="418.2" y2="1169" stroke="#000" stroke-width="3.4" />
<text x="408.9" y="1173.3" font-size="12.5" font-weight="bold" text-anchor="end" fill="#111"  stroke="#111" stroke-width="0.3">-0.010</text>
<line x1="476.6" y1="1169" x2="476.6" y2="1176.3" stroke="#000" stroke-width="3" />
<line x1="563.7" y1="1169" x2="563.7" y2="1176.3" stroke="#000" stroke-width="3" />
<circle cx="476.6" cy="990.4" r="3.55" fill="#3dae49" stroke="#000" stroke-width="3.3"/>
<circle cx="469" cy="1011.9" r="3.55" fill="#3dae49" stroke="#000" stroke-width="3.3"/>
<circle cx="484.2" cy="1012.6" r="3.55" fill="#3dae49" stroke="#000" stroke-width="3.3"/>
<circle cx="476.6" cy="1028.2" r="3.55" fill="#3dae49" stroke="#000" stroke-width="3.3"/>
<circle cx="476.6" cy="1048.4" r="3.55" fill="#3dae49" stroke="#000" stroke-width="3.3"/>
<circle cx="476.6" cy="1083.2" r="3.55" fill="#3dae49" stroke="#000" stroke-width="3.3"/>
<circle cx="563.7" cy="1029.5" r="3.55" fill="#f0a23a" stroke="#000" stroke-width="3.3"/>
<circle cx="563.7" cy="1039.7" r="3.55" fill="#f0a23a" stroke="#000" stroke-width="3.3"/>
<circle cx="555.4" cy="1059.2" r="3.55" fill="#f0a23a" stroke="#000" stroke-width="3.3"/>
<circle cx="571.9" cy="1060.2" r="3.55" fill="#f0a23a" stroke="#000" stroke-width="3.3"/>
<circle cx="563.7" cy="1071.1" r="3.55" fill="#f0a23a" stroke="#000" stroke-width="3.3"/>
<circle cx="563.7" cy="1081.7" r="3.55" fill="#f0a23a" stroke="#000" stroke-width="3.3"/>
<circle cx="563.7" cy="1100.5" r="3.55" fill="#f0a23a" stroke="#000" stroke-width="3.3"/>
<circle cx="563.7" cy="1112.1" r="3.55" fill="#f0a23a" stroke="#000" stroke-width="3.3"/>
<circle cx="563.7" cy="1145.1" r="3.55" fill="#f0a23a" stroke="#000" stroke-width="3.3"/>
<line x1="476.6" y1="1015.3" x2="476.6" y2="1045" stroke="#000" stroke-width="2" />
<line x1="563.7" y1="1058" x2="563.7" y2="1093" stroke="#000" stroke-width="2" />
<text x="563.7" y="1008.2" font-size="18" font-weight="bold" text-anchor="middle" fill="#111"  stroke="#111" stroke-width="0.3">*</text>
<text x="433.4" y="1190.6" font-size="12.5" font-weight="bold" text-anchor="start" fill="#111" stroke="#111" stroke-width="0.3">ABHD6<tspan font-size="9.4" dy="-5.5" dx="3">NAc GFP</tspan></text>
<text x="522.7" y="1190.6" font-size="12.5" font-weight="bold" text-anchor="start" fill="#111" stroke="#111" stroke-width="0.3">ABHD6<tspan font-size="9.4" dy="-5.5" dx="3">NAc KO</tspan></text>
<text x="360" y="1064.9" font-size="12.4" font-weight="bold" text-anchor="middle" fill="#111" transform="rotate(-90 360 1064.9)"  stroke="#111" stroke-width="0.3">Feed efficiency</text>
<text x="688.2" y="935" font-size="22" font-weight="bold" text-anchor="start" fill="#111"  stroke="#111" stroke-width="0.3">j</text>
<text x="863.75" y="935.4" font-size="19" font-weight="bold" text-anchor="middle" fill="#111"  stroke="#111" stroke-width="0.3">Locomotor Activity</text>
<path d="M747.9 1039.48 L753.25 1020.14 L758.61 1026.48 L763.97 1009.78 L769.32 1019.57 L774.67 1024.42 L780.03 1051.04 L785.38 1007.39 L790.74 1041.85 L796.1 1046.74 L801.45 1016.71 L806.8 1028.79 L812.16 1026.45 L817.51 1050.33 L822.87 1049.91 L828.23 1044.94 L833.58 1028.34 L838.93 1062.34 L844.29 1072.57 L849.64 1088.49 L855 1102.6 L860.36 1115.27 L865.71 1051.68 L871.06 1037.5 L876.42 1082.89 L881.77 1100.56 L887.13 1107.78 L892.49 1114.78 L897.84 1098.87 L903.19 1111.21 L908.55 1108.54 L913.9 1067.77 L919.26 1072.18 L924.62 1096.6 L929.97 1128.29 L935.33 1124.58 L940.68 1129.4 L946.03 1133.5 L951.39 1122.19 L956.75 1112.25 L962.1 1126.59 L967.45 1121.91 L972.81 1133.86 L972.81 1161 L967.45 1150.37 L962.1 1155.06 L956.75 1140.72 L951.39 1150.65 L946.03 1161 L940.68 1157.86 L935.33 1153.04 L929.97 1156.75 L924.62 1143.18 L919.26 1129.1 L913.9 1124.7 L908.55 1155.11 L903.19 1157.79 L897.84 1145.44 L892.49 1161 L887.13 1154.35 L881.77 1147.13 L876.42 1129.46 L871.06 1099.6 L865.71 1113.78 L860.36 1161 L855 1149.18 L849.64 1135.06 L844.29 1119.14 L838.93 1108.92 L833.58 1095.62 L828.23 1112.21 L822.87 1117.18 L817.51 1117.61 L812.16 1093.73 L806.8 1096.06 L801.45 1083.98 L796.1 1114.01 L790.74 1109.12 L785.38 1090.19 L780.03 1118.31 L774.67 1091.69 L769.32 1086.85 L763.97 1089.99 L758.61 1093.76 L753.25 1087.42 L747.9 1106.76 Z" fill="rgba(242,170,95,0.38)" stroke="none"/>
<path d="M747.9 1039.48 L753.25 1020.14 L758.61 1026.48 L763.97 1009.78 L769.32 1019.57 L774.67 1024.42 L780.03 1051.04 L785.38 1007.39 L790.74 1041.85 L796.1 1046.74 L801.45 1016.71 L806.8 1028.79 L812.16 1026.45 L817.51 1050.33 L822.87 1049.91 L828.23 1044.94 L833.58 1028.34 L838.93 1062.34 L844.29 1072.57 L849.64 1088.49 L855 1102.6 L860.36 1115.27 L865.71 1051.68 L871.06 1037.5 L876.42 1082.89 L881.77 1100.56 L887.13 1107.78 L892.49 1114.78 L897.84 1098.87 L903.19 1111.21 L908.55 1108.54 L913.9 1067.77 L919.26 1072.18 L924.62 1096.6 L929.97 1128.29 L935.33 1124.58 L940.68 1129.4 L946.03 1133.5 L951.39 1122.19 L956.75 1112.25 L962.1 1126.59 L967.45 1121.91 L972.81 1133.86" fill="none" stroke="#eba030" stroke-width="1.7" stroke-dasharray="5 2.5"/>
<path d="M747.9 1106.76 L753.25 1087.42 L758.61 1093.76 L763.97 1089.99 L769.32 1086.85 L774.67 1091.69 L780.03 1118.31 L785.38 1090.19 L790.74 1109.12 L796.1 1114.01 L801.45 1083.98 L806.8 1096.06 L812.16 1093.73 L817.51 1117.61 L822.87 1117.18 L828.23 1112.21 L833.58 1095.62 L838.93 1108.92 L844.29 1119.14 L849.64 1135.06 L855 1149.18 L860.36 1161 L865.71 1113.78 L871.06 1099.6 L876.42 1129.46 L881.77 1147.13 L887.13 1154.35 L892.49 1161 L897.84 1145.44 L903.19 1157.79 L908.55 1155.11 L913.9 1124.7 L919.26 1129.1 L924.62 1143.18 L929.97 1156.75 L935.33 1153.04 L940.68 1157.86 L946.03 1161 L951.39 1150.65 L956.75 1140.72 L962.1 1155.06 L967.45 1150.37 L972.81 1161" fill="none" stroke="#eba030" stroke-width="1.7" stroke-dasharray="5 2.5"/>
<path d="M747.9 1083.34 L753.25 1088.41 L758.61 1071.52 L763.97 1096.03 L769.32 1102.02 L774.67 1117.16 L780.03 1104.24 L785.38 1061.36 L790.74 1100.38 L796.1 1115.55 L801.45 1108.15 L806.8 1098.96 L812.16 1107.59 L817.51 1091 L822.87 1117.31 L828.23 1128.98 L833.58 1120.92 L838.93 1077.68 L844.29 1113.36 L849.64 1124.95 L855 1124.02 L860.36 1122.2 L865.71 1117.29 L871.06 1126.4 L876.42 1136.53 L881.77 1151.86 L887.13 1121.67 L892.49 1126.43 L897.84 1146.88 L903.19 1155 L908.55 1144.08 L913.9 1148.53 L919.26 1156.39 L924.62 1149.76 L929.97 1156.38 L935.33 1145.8 L940.68 1148.61 L946.03 1145.32 L951.39 1145.97 L956.75 1153.54 L962.1 1134.5 L967.45 1146.43 L972.81 1155.33 L972.81 1159.51 L967.45 1155.43 L962.1 1157.75 L956.75 1161 L951.39 1161 L946.03 1161 L940.68 1158.05 L935.33 1161 L929.97 1159.9 L924.62 1161 L919.26 1159.89 L913.9 1161 L908.55 1161 L903.19 1161 L897.84 1152.58 L892.49 1150.45 L887.13 1153.77 L881.77 1161 L876.42 1161 L871.06 1159.6 L865.71 1134.13 L860.36 1143.62 L855 1151.42 L849.64 1157.69 L844.29 1133.25 L838.93 1133.85 L833.58 1161 L828.23 1161 L822.87 1161 L817.51 1145.04 L812.16 1147.19 L806.8 1149.08 L801.45 1161 L796.1 1161 L790.74 1155.84 L785.38 1132.4 L780.03 1159.18 L774.67 1161 L769.32 1150.35 L763.97 1139.52 L758.61 1126.08 L753.25 1135.13 L747.9 1125.79 Z" fill="rgba(100,195,90,0.36)" stroke="none"/>
<path d="M747.9 1083.34 L753.25 1088.41 L758.61 1071.52 L763.97 1096.03 L769.32 1102.02 L774.67 1117.16 L780.03 1104.24 L785.38 1061.36 L790.74 1100.38 L796.1 1115.55 L801.45 1108.15 L806.8 1098.96 L812.16 1107.59 L817.51 1091 L822.87 1117.31 L828.23 1128.98 L833.58 1120.92 L838.93 1077.68 L844.29 1113.36 L849.64 1124.95 L855 1124.02 L860.36 1122.2 L865.71 1117.29 L871.06 1126.4 L876.42 1136.53 L881.77 1151.86 L887.13 1121.67 L892.49 1126.43 L897.84 1146.88 L903.19 1155 L908.55 1144.08 L913.9 1148.53 L919.26 1156.39 L924.62 1149.76 L929.97 1156.38 L935.33 1145.8 L940.68 1148.61 L946.03 1145.32 L951.39 1145.97 L956.75 1153.54 L962.1 1134.5 L967.45 1146.43 L972.81 1155.33" fill="none" stroke="#3cb43c" stroke-width="1.7" stroke-dasharray="5 2.5"/>
<path d="M747.9 1125.79 L753.25 1135.13 L758.61 1126.08 L763.97 1139.52 L769.32 1150.35 L774.67 1161 L780.03 1159.18 L785.38 1132.4 L790.74 1155.84 L796.1 1161 L801.45 1161 L806.8 1149.08 L812.16 1147.19 L817.51 1145.04 L822.87 1161 L828.23 1161 L833.58 1161 L838.93 1133.85 L844.29 1133.25 L849.64 1157.69 L855 1151.42 L860.36 1143.62 L865.71 1134.13 L871.06 1159.6 L876.42 1161 L881.77 1161 L887.13 1153.77 L892.49 1150.45 L897.84 1152.58 L903.19 1161 L908.55 1161 L913.9 1161 L919.26 1159.89 L924.62 1161 L929.97 1159.9 L935.33 1161 L940.68 1158.05 L946.03 1161 L951.39 1161 L956.75 1161 L962.1 1157.75 L967.45 1155.43 L972.81 1159.51" fill="none" stroke="#3cb43c" stroke-width="1.7" stroke-dasharray="5 2.5"/>
<rect x="744.3" y="1158.1" width="232.5" height="18" fill="#000"/>
<rect x="863.2" y="1162.8" width="109.8" height="8.8" fill="#fff"/>
<path d="M747.9 1069.73 L753.25 1054.35 L758.61 1058.44 L763.97 1051.23 L769.32 1054.83 L774.67 1052.43 L780.03 1078.38 L785.38 1053.15 L790.74 1072.37 L796.1 1076.94 L801.45 1056.76 L806.8 1062.04 L812.16 1064.44 L817.51 1083.66 L822.87 1085.35 L828.23 1074.05 L833.58 1063.72 L838.93 1090.39 L844.29 1096.16 L849.64 1114.89 L855 1128.11 L860.36 1132.91 L865.71 1086.07 L871.06 1069.73 L876.42 1103.6 L881.77 1117.78 L887.13 1135.8 L892.49 1137.72 L897.84 1124.98 L903.19 1139.4 L908.55 1134.59 L913.9 1101.68 L919.26 1099.28 L924.62 1123.78 L929.97 1141.8 L935.33 1144.44 L940.68 1148.53 L946.03 1142.52 L951.39 1131.71 L956.75 1122.82 L962.1 1146.85 L967.45 1135.32 L972.81 1149.73" fill="none" stroke="#000" stroke-width="1.8"/>
<circle cx="747.9" cy="1069.73" r="3.7" fill="#f0a23a" stroke="#000" stroke-width="3"/>
<circle cx="753.25" cy="1054.35" r="3.7" fill="#f0a23a" stroke="#000" stroke-width="3"/>
<circle cx="758.61" cy="1058.44" r="3.7" fill="#f0a23a" stroke="#000" stroke-width="3"/>
<circle cx="763.97" cy="1051.23" r="3.7" fill="#f0a23a" stroke="#000" stroke-width="3"/>
<circle cx="769.32" cy="1054.83" r="3.7" fill="#f0a23a" stroke="#000" stroke-width="3"/>
<circle cx="774.67" cy="1052.43" r="3.7" fill="#f0a23a" stroke="#000" stroke-width="3"/>
<circle cx="780.03" cy="1078.38" r="3.7" fill="#f0a23a" stroke="#000" stroke-width="3"/>
<circle cx="785.38" cy="1053.15" r="3.7" fill="#f0a23a" stroke="#000" stroke-width="3"/>
<circle cx="790.74" cy="1072.37" r="3.7" fill="#f0a23a" stroke="#000" stroke-width="3"/>
<circle cx="796.1" cy="1076.94" r="3.7" fill="#f0a23a" stroke="#000" stroke-width="3"/>
<circle cx="801.45" cy="1056.76" r="3.7" fill="#f0a23a" stroke="#000" stroke-width="3"/>
<circle cx="806.8" cy="1062.04" r="3.7" fill="#f0a23a" stroke="#000" stroke-width="3"/>
<circle cx="812.16" cy="1064.44" r="3.7" fill="#f0a23a" stroke="#000" stroke-width="3"/>
<circle cx="817.51" cy="1083.66" r="3.7" fill="#f0a23a" stroke="#000" stroke-width="3"/>
<circle cx="822.87" cy="1085.35" r="3.7" fill="#f0a23a" stroke="#000" stroke-width="3"/>
<circle cx="828.23" cy="1074.05" r="3.7" fill="#f0a23a" stroke="#000" stroke-width="3"/>
<circle cx="833.58" cy="1063.72" r="3.7" fill="#f0a23a" stroke="#000" stroke-width="3"/>
<circle cx="838.93" cy="1090.39" r="3.7" fill="#f0a23a" stroke="#000" stroke-width="3"/>
<circle cx="844.29" cy="1096.16" r="3.7" fill="#f0a23a" stroke="#000" stroke-width="3"/>
<circle cx="849.64" cy="1114.89" r="3.7" fill="#f0a23a" stroke="#000" stroke-width="3"/>
<circle cx="855" cy="1128.11" r="3.7" fill="#f0a23a" stroke="#000" stroke-width="3"/>
<circle cx="860.36" cy="1132.91" r="3.7" fill="#f0a23a" stroke="#000" stroke-width="3"/>
<circle cx="865.71" cy="1086.07" r="3.7" fill="#f0a23a" stroke="#000" stroke-width="3"/>
<circle cx="871.06" cy="1069.73" r="3.7" fill="#f0a23a" stroke="#000" stroke-width="3"/>
<circle cx="876.42" cy="1103.6" r="3.7" fill="#f0a23a" stroke="#000" stroke-width="3"/>
<circle cx="881.77" cy="1117.78" r="3.7" fill="#f0a23a" stroke="#000" stroke-width="3"/>
<circle cx="887.13" cy="1135.8" r="3.7" fill="#f0a23a" stroke="#000" stroke-width="3"/>
<circle cx="892.49" cy="1137.72" r="3.7" fill="#f0a23a" stroke="#000" stroke-width="3"/>
<circle cx="897.84" cy="1124.98" r="3.7" fill="#f0a23a" stroke="#000" stroke-width="3"/>
<circle cx="903.19" cy="1139.4" r="3.7" fill="#f0a23a" stroke="#000" stroke-width="3"/>
<circle cx="908.55" cy="1134.59" r="3.7" fill="#f0a23a" stroke="#000" stroke-width="3"/>
<circle cx="913.9" cy="1101.68" r="3.7" fill="#f0a23a" stroke="#000" stroke-width="3"/>
<circle cx="919.26" cy="1099.28" r="3.7" fill="#f0a23a" stroke="#000" stroke-width="3"/>
<circle cx="924.62" cy="1123.78" r="3.7" fill="#f0a23a" stroke="#000" stroke-width="3"/>
<circle cx="929.97" cy="1141.8" r="3.7" fill="#f0a23a" stroke="#000" stroke-width="3"/>
<circle cx="935.33" cy="1144.44" r="3.7" fill="#f0a23a" stroke="#000" stroke-width="3"/>
<circle cx="940.68" cy="1148.53" r="3.7" fill="#f0a23a" stroke="#000" stroke-width="3"/>
<circle cx="946.03" cy="1142.52" r="3.7" fill="#f0a23a" stroke="#000" stroke-width="3"/>
<circle cx="951.39" cy="1131.71" r="3.7" fill="#f0a23a" stroke="#000" stroke-width="3"/>
<circle cx="956.75" cy="1122.82" r="3.7" fill="#f0a23a" stroke="#000" stroke-width="3"/>
<circle cx="962.1" cy="1146.85" r="3.7" fill="#f0a23a" stroke="#000" stroke-width="3"/>
<circle cx="967.45" cy="1135.32" r="3.7" fill="#f0a23a" stroke="#000" stroke-width="3"/>
<circle cx="972.81" cy="1149.73" r="3.7" fill="#f0a23a" stroke="#000" stroke-width="3"/>
<path d="M747.9 1104.56 L753.25 1111.77 L758.61 1098.8 L763.97 1117.78 L769.32 1126.19 L774.67 1141.32 L780.03 1131.71 L785.38 1096.88 L790.74 1128.11 L796.1 1142.52 L801.45 1136.52 L806.8 1124.02 L812.16 1127.39 L817.51 1118.02 L822.87 1145.41 L828.23 1156.46 L833.58 1144.92 L838.93 1105.77 L844.29 1123.3 L849.64 1141.32 L855 1137.72 L860.36 1132.91 L865.71 1125.71 L871.06 1143 L876.42 1154.53 L881.77 1160.54 L887.13 1137.72 L892.49 1138.44 L897.84 1149.73 L903.19 1159.34 L908.55 1153.33 L913.9 1158.86 L919.26 1158.14 L924.62 1157.42 L929.97 1158.14 L935.33 1154.53 L940.68 1153.33 L946.03 1155.74 L951.39 1157.42 L956.75 1160.06 L962.1 1146.13 L967.45 1150.93 L972.81 1157.42" fill="none" stroke="#000" stroke-width="1.8"/>
<circle cx="747.9" cy="1104.56" r="3.7" fill="#3dae49" stroke="#000" stroke-width="3"/>
<circle cx="753.25" cy="1111.77" r="3.7" fill="#3dae49" stroke="#000" stroke-width="3"/>
<circle cx="758.61" cy="1098.8" r="3.7" fill="#3dae49" stroke="#000" stroke-width="3"/>
<circle cx="763.97" cy="1117.78" r="3.7" fill="#3dae49" stroke="#000" stroke-width="3"/>
<circle cx="769.32" cy="1126.19" r="3.7" fill="#3dae49" stroke="#000" stroke-width="3"/>
<circle cx="774.67" cy="1141.32" r="3.7" fill="#3dae49" stroke="#000" stroke-width="3"/>
<circle cx="780.03" cy="1131.71" r="3.7" fill="#3dae49" stroke="#000" stroke-width="3"/>
<circle cx="785.38" cy="1096.88" r="3.7" fill="#3dae49" stroke="#000" stroke-width="3"/>
<circle cx="790.74" cy="1128.11" r="3.7" fill="#3dae49" stroke="#000" stroke-width="3"/>
<circle cx="796.1" cy="1142.52" r="3.7" fill="#3dae49" stroke="#000" stroke-width="3"/>
<circle cx="801.45" cy="1136.52" r="3.7" fill="#3dae49" stroke="#000" stroke-width="3"/>
<circle cx="806.8" cy="1124.02" r="3.7" fill="#3dae49" stroke="#000" stroke-width="3"/>
<circle cx="812.16" cy="1127.39" r="3.7" fill="#3dae49" stroke="#000" stroke-width="3"/>
<circle cx="817.51" cy="1118.02" r="3.7" fill="#3dae49" stroke="#000" stroke-width="3"/>
<circle cx="822.87" cy="1145.41" r="3.7" fill="#3dae49" stroke="#000" stroke-width="3"/>
<circle cx="828.23" cy="1156.46" r="3.7" fill="#3dae49" stroke="#000" stroke-width="3"/>
<circle cx="833.58" cy="1144.92" r="3.7" fill="#3dae49" stroke="#000" stroke-width="3"/>
<circle cx="838.93" cy="1105.77" r="3.7" fill="#3dae49" stroke="#000" stroke-width="3"/>
<circle cx="844.29" cy="1123.3" r="3.7" fill="#3dae49" stroke="#000" stroke-width="3"/>
<circle cx="849.64" cy="1141.32" r="3.7" fill="#3dae49" stroke="#000" stroke-width="3"/>
<circle cx="855" cy="1137.72" r="3.7" fill="#3dae49" stroke="#000" stroke-width="3"/>
<circle cx="860.36" cy="1132.91" r="3.7" fill="#3dae49" stroke="#000" stroke-width="3"/>
<circle cx="865.71" cy="1125.71" r="3.7" fill="#3dae49" stroke="#000" stroke-width="3"/>
<circle cx="871.06" cy="1143" r="3.7" fill="#3dae49" stroke="#000" stroke-width="3"/>
<circle cx="876.42" cy="1154.53" r="3.7" fill="#3dae49" stroke="#000" stroke-width="3"/>
<circle cx="881.77" cy="1160.54" r="3.7" fill="#3dae49" stroke="#000" stroke-width="3"/>
<circle cx="887.13" cy="1137.72" r="3.7" fill="#3dae49" stroke="#000" stroke-width="3"/>
<circle cx="892.49" cy="1138.44" r="3.7" fill="#3dae49" stroke="#000" stroke-width="3"/>
<circle cx="897.84" cy="1149.73" r="3.7" fill="#3dae49" stroke="#000" stroke-width="3"/>
<circle cx="903.19" cy="1159.34" r="3.7" fill="#3dae49" stroke="#000" stroke-width="3"/>
<circle cx="908.55" cy="1153.33" r="3.7" fill="#3dae49" stroke="#000" stroke-width="3"/>
<circle cx="913.9" cy="1158.86" r="3.7" fill="#3dae49" stroke="#000" stroke-width="3"/>
<circle cx="919.26" cy="1158.14" r="3.7" fill="#3dae49" stroke="#000" stroke-width="3"/>
<circle cx="924.62" cy="1157.42" r="3.7" fill="#3dae49" stroke="#000" stroke-width="3"/>
<circle cx="929.97" cy="1158.14" r="3.7" fill="#3dae49" stroke="#000" stroke-width="3"/>
<circle cx="935.33" cy="1154.53" r="3.7" fill="#3dae49" stroke="#000" stroke-width="3"/>
<circle cx="940.68" cy="1153.33" r="3.7" fill="#3dae49" stroke="#000" stroke-width="3"/>
<circle cx="946.03" cy="1155.74" r="3.7" fill="#3dae49" stroke="#000" stroke-width="3"/>
<circle cx="951.39" cy="1157.42" r="3.7" fill="#3dae49" stroke="#000" stroke-width="3"/>
<circle cx="956.75" cy="1160.06" r="3.7" fill="#3dae49" stroke="#000" stroke-width="3"/>
<circle cx="962.1" cy="1146.13" r="3.7" fill="#3dae49" stroke="#000" stroke-width="3"/>
<circle cx="967.45" cy="1150.93" r="3.7" fill="#3dae49" stroke="#000" stroke-width="3"/>
<circle cx="972.81" cy="1157.42" r="3.7" fill="#3dae49" stroke="#000" stroke-width="3"/>
<line x1="745.5" y1="953" x2="745.5" y2="1163" stroke="#000" stroke-width="4" />
<line x1="738.5" y1="954" x2="745.5" y2="954" stroke="#000" stroke-width="3.4" />
<text x="735.9" y="958.3" font-size="12.5" font-weight="bold" text-anchor="end" fill="#111"  stroke="#111" stroke-width="0.3">8000</text>
<line x1="738.5" y1="1005.75" x2="745.5" y2="1005.75" stroke="#000" stroke-width="3.4" />
<text x="735.9" y="1010.05" font-size="12.5" font-weight="bold" text-anchor="end" fill="#111"  stroke="#111" stroke-width="0.3">6000</text>
<line x1="738.5" y1="1057.5" x2="745.5" y2="1057.5" stroke="#000" stroke-width="3.4" />
<text x="735.9" y="1061.8" font-size="12.5" font-weight="bold" text-anchor="end" fill="#111"  stroke="#111" stroke-width="0.3">4000</text>
<line x1="738.5" y1="1109.25" x2="745.5" y2="1109.25" stroke="#000" stroke-width="3.4" />
<text x="735.9" y="1113.55" font-size="12.5" font-weight="bold" text-anchor="end" fill="#111"  stroke="#111" stroke-width="0.3">2000</text>
<line x1="738.5" y1="1161" x2="745.5" y2="1161" stroke="#000" stroke-width="3.4" />
<text x="735.9" y="1165.3" font-size="12.5" font-weight="bold" text-anchor="end" fill="#111"  stroke="#111" stroke-width="0.3">0</text>
<text x="860.5" y="1196.4" font-size="12.2" font-weight="bold" text-anchor="middle" fill="#111"  stroke="#111" stroke-width="0.3">24h period</text>
<text x="695.3" y="1057.5" font-size="12.4" font-weight="bold" text-anchor="middle" fill="#111" transform="rotate(-90 695.3 1057.5)"  stroke="#111" stroke-width="0.3">Beam Breaks</text>
<rect x="809.4" y="958" width="119" height="48.5" fill="#fff" stroke="#000" stroke-width="2.6"/>
<circle cx="823.2" cy="971.4" r="3.5" fill="#3dae49" stroke="#000" stroke-width="2.6"/>
<circle cx="823.2" cy="994.1" r="3.5" fill="#f0a23a" stroke="#000" stroke-width="2.6"/>
<text x="836.1" y="976.6" font-size="12.4" font-weight="bold" text-anchor="start" fill="#111" stroke="#111" stroke-width="0.3">ABHD6<tspan font-size="9.2" dy="-5.3" dx="0.3">NAc GFP</tspan></text>
<text x="836.1" y="998.6" font-size="12.4" font-weight="bold" text-anchor="start" fill="#111" stroke="#111" stroke-width="0.3">ABHD6<tspan font-size="9.2" dy="-5.3" dx="0.3">NAc KO</tspan></text>
<path d="M932.2 965.3 H944.5 V996.3 H932.2" fill="none" stroke="#000" stroke-width="3.4"/>
<text x="952.3" y="984.6" font-size="12.2" font-weight="normal" text-anchor="start" fill="#111" >p=0.073</text>
<text x="12.3" y="1264" font-size="22" font-weight="bold" text-anchor="start" fill="#111"  stroke="#111" stroke-width="0.3">k</text>
<text x="185.35" y="1258.7" font-size="19" font-weight="bold" text-anchor="middle" fill="#111"  stroke="#111" stroke-width="0.3">Locomotor Activity</text>
<rect x="87.7" y="1463.9" width="25" height="38.4" fill="none" stroke="#000" stroke-width="4.2"/>
<rect x="128.7" y="1405.7" width="25.2" height="96.6" fill="none" stroke="#000" stroke-width="4.2"/>
<rect x="199.5" y="1494.3" width="23" height="8" fill="none" stroke="#000" stroke-width="4.2"/>
<rect x="239.3" y="1466.1" width="24.1" height="36.2" fill="none" stroke="#000" stroke-width="4.2"/>
<line x1="69.6" y1="1502.3" x2="279.1" y2="1502.3" stroke="#000" stroke-width="4" />
<line x1="71.6" y1="1295.2" x2="71.6" y2="1504.3" stroke="#000" stroke-width="4" />
<line x1="65.5" y1="1296.2" x2="71.6" y2="1296.2" stroke="#000" stroke-width="3.4" />
<text x="62.9" y="1300.5" font-size="12.2" font-weight="bold" text-anchor="end" fill="#111"  stroke="#111" stroke-width="0.3">150000</text>
<line x1="65.5" y1="1365.2" x2="71.6" y2="1365.2" stroke="#000" stroke-width="3.4" />
<text x="62.9" y="1369.5" font-size="12.2" font-weight="bold" text-anchor="end" fill="#111"  stroke="#111" stroke-width="0.3">100000</text>
<line x1="65.5" y1="1433.8" x2="71.6" y2="1433.8" stroke="#000" stroke-width="3.4" />
<text x="62.9" y="1438.1" font-size="12.2" font-weight="bold" text-anchor="end" fill="#111"  stroke="#111" stroke-width="0.3">50000</text>
<line x1="65.5" y1="1502.3" x2="71.6" y2="1502.3" stroke="#000" stroke-width="3.4" />
<text x="62.9" y="1506.6" font-size="12.2" font-weight="bold" text-anchor="end" fill="#111"  stroke="#111" stroke-width="0.3">0</text>
<line x1="120.5" y1="1502.3" x2="120.5" y2="1509.3" stroke="#000" stroke-width="3" />
<line x1="230.4" y1="1502.3" x2="230.4" y2="1509.3" stroke="#000" stroke-width="3" />
<circle cx="99.9" cy="1421.1" r="3.55" fill="#3dae49" stroke="#000" stroke-width="3.3"/>
<circle cx="99.9" cy="1466" r="3.55" fill="#3dae49" stroke="#000" stroke-width="3.3"/>
<circle cx="90" cy="1483.5" r="3.55" fill="#3dae49" stroke="#000" stroke-width="3.3"/>
<circle cx="109.7" cy="1481.4" r="3.55" fill="#3dae49" stroke="#000" stroke-width="3.3"/>
<circle cx="200.8" cy="1490.5" r="3.55" fill="#3dae49" stroke="#000" stroke-width="3.3"/>
<circle cx="219.5" cy="1485.4" r="3.55" fill="#3dae49" stroke="#000" stroke-width="3.3"/>
<circle cx="200.8" cy="1499" r="3.55" fill="#3dae49" stroke="#000" stroke-width="3.3"/>
<circle cx="219.5" cy="1495.6" r="3.55" fill="#3dae49" stroke="#000" stroke-width="3.3"/>
<circle cx="141.1" cy="1310.2" r="3.55" fill="#f0a23a" stroke="#000" stroke-width="3.3"/>
<circle cx="141.1" cy="1350.3" r="3.55" fill="#f0a23a" stroke="#000" stroke-width="3.3"/>
<circle cx="141.1" cy="1411.1" r="3.55" fill="#f0a23a" stroke="#000" stroke-width="3.3"/>
<circle cx="141.1" cy="1430.3" r="3.55" fill="#f0a23a" stroke="#000" stroke-width="3.3"/>
<circle cx="141.1" cy="1446.8" r="3.55" fill="#f0a23a" stroke="#000" stroke-width="3.3"/>
<circle cx="141.1" cy="1474" r="3.55" fill="#f0a23a" stroke="#000" stroke-width="3.3"/>
<circle cx="250.9" cy="1438.4" r="3.55" fill="#f0a23a" stroke="#000" stroke-width="3.3"/>
<circle cx="250.9" cy="1448.6" r="3.55" fill="#f0a23a" stroke="#000" stroke-width="3.3"/>
<circle cx="250.9" cy="1461.6" r="3.55" fill="#f0a23a" stroke="#000" stroke-width="3.3"/>
<circle cx="241.7" cy="1470.1" r="3.55" fill="#f0a23a" stroke="#000" stroke-width="3.3"/>
<circle cx="260.4" cy="1476.2" r="3.55" fill="#f0a23a" stroke="#000" stroke-width="3.3"/>
<circle cx="250.9" cy="1488.8" r="3.55" fill="#f0a23a" stroke="#000" stroke-width="3.3"/>
<line x1="99.9" y1="1448.2" x2="99.9" y2="1477.9" stroke="#000" stroke-width="2" />
<line x1="141.1" y1="1378.3" x2="141.1" y2="1428" stroke="#000" stroke-width="2" />
<line x1="210" y1="1489" x2="210" y2="1497" stroke="#000" stroke-width="2" />
<line x1="251" y1="1455" x2="251" y2="1473" stroke="#000" stroke-width="2" />
<line x1="87.3" y1="1296.5" x2="146.4" y2="1296.5" stroke="#000" stroke-width="2" />
<text x="117" y="1287.5" font-size="12" font-weight="normal" text-anchor="middle" fill="#111" >p=0.11</text>
<line x1="199.1" y1="1418.3" x2="257.7" y2="1418.3" stroke="#000" stroke-width="2" />
<text x="228.4" y="1414.5" font-size="18" font-weight="bold" text-anchor="middle" fill="#111"  stroke="#111" stroke-width="0.3">*</text>
<text x="120.5" y="1522.4" font-size="12.5" font-weight="bold" text-anchor="middle" fill="#111"  stroke="#111" stroke-width="0.3">Dark</text>
<text x="230.4" y="1522.8" font-size="12.5" font-weight="bold" text-anchor="middle" fill="#111"  stroke="#111" stroke-width="0.3">Light</text>
<text x="10.7" y="1398.4" font-size="12.4" font-weight="bold" text-anchor="middle" fill="#111" transform="rotate(-90 10.7 1398.4)"  stroke="#111" stroke-width="0.3">Beam Breaks</text>
<text x="363.9" y="1265.3" font-size="22" font-weight="bold" text-anchor="start" fill="#111"  stroke="#111" stroke-width="0.3">l</text>
<text x="520.85" y="1250.4" font-size="19" font-weight="bold" text-anchor="middle" fill="#111"  stroke="#111" stroke-width="0.3">Voluntary</text>
<text x="520.85" y="1273.6" font-size="19" font-weight="bold" text-anchor="middle" fill="#111"  stroke="#111" stroke-width="0.3">Wheel Running</text>
<path d="M409.93 1467.58 L418.76 1459.38 L427.59 1411.15 L436.42 1432.12 L445.25 1431.19 L454.08 1417.3 L462.91 1402.47 L471.74 1383.29 L480.57 1414.71 L489.4 1393.21 L498.23 1408.1 L507.06 1366.68 L515.89 1374.36 L524.72 1398.83 L533.55 1394.2 L542.38 1376.67 L551.21 1381.63 L560.04 1367.34 L568.87 1361.78 L577.7 1376.67 L586.53 1391.56 L595.36 1355.7 L604.19 1339.36 L613.02 1355.1 L621.85 1362.44 L630.68 1372.7 L630.68 1393.31 L621.85 1383.05 L613.02 1379.15 L604.19 1373.71 L595.36 1383.18 L586.53 1412.17 L577.7 1397.28 L568.87 1382.39 L560.04 1391.39 L551.21 1402.24 L542.38 1397.28 L533.55 1414.81 L524.72 1419.44 L515.89 1394.97 L507.06 1390.73 L498.23 1428.71 L489.4 1413.82 L480.57 1435.32 L471.74 1403.9 L462.91 1423.08 L454.08 1441.34 L445.25 1455.24 L436.42 1459.6 L427.59 1445.5 L418.76 1479.99 L409.93 1491.63 Z" fill="rgba(242,170,95,0.38)" stroke="none"/>
<path d="M409.93 1467.58 L418.76 1459.38 L427.59 1411.15 L436.42 1432.12 L445.25 1431.19 L454.08 1417.3 L462.91 1402.47 L471.74 1383.29 L480.57 1414.71 L489.4 1393.21 L498.23 1408.1 L507.06 1366.68 L515.89 1374.36 L524.72 1398.83 L533.55 1394.2 L542.38 1376.67 L551.21 1381.63 L560.04 1367.34 L568.87 1361.78 L577.7 1376.67 L586.53 1391.56 L595.36 1355.7 L604.19 1339.36 L613.02 1355.1 L621.85 1362.44 L630.68 1372.7" fill="none" stroke="#eba030" stroke-width="1.7" stroke-dasharray="5 2.5"/>
<path d="M409.93 1491.63 L418.76 1479.99 L427.59 1445.5 L436.42 1459.6 L445.25 1455.24 L454.08 1441.34 L462.91 1423.08 L471.74 1403.9 L480.57 1435.32 L489.4 1413.82 L498.23 1428.71 L507.06 1390.73 L515.89 1394.97 L524.72 1419.44 L533.55 1414.81 L542.38 1397.28 L551.21 1402.24 L560.04 1391.39 L568.87 1382.39 L577.7 1397.28 L586.53 1412.17 L595.36 1383.18 L604.19 1373.71 L613.02 1379.15 L621.85 1383.05 L630.68 1393.31" fill="none" stroke="#eba030" stroke-width="1.7" stroke-dasharray="5 2.5"/>
<path d="M409.93 1474.26 L418.76 1458.78 L427.59 1430.07 L436.42 1430.4 L445.25 1426.1 L454.08 1413.73 L462.91 1347.28 L471.74 1414.4 L480.57 1422.73 L489.4 1416.12 L498.23 1427.1 L507.06 1357.52 L515.89 1406.73 L524.72 1408.44 L533.55 1420.21 L542.38 1394.61 L551.21 1396.99 L560.04 1396.99 L568.87 1381.5 L577.7 1384.21 L586.53 1401.42 L595.36 1384.88 L604.19 1375.68 L613.02 1356.1 L621.85 1365.03 L630.68 1366.49 L630.68 1400.84 L621.85 1389.07 L613.02 1380.14 L604.19 1396.29 L595.36 1408.92 L586.53 1425.46 L577.7 1408.26 L568.87 1408.98 L560.04 1427.9 L551.21 1427.9 L542.38 1428.96 L533.55 1447.69 L524.72 1446.23 L515.89 1447.95 L507.06 1429.66 L498.23 1458.01 L489.4 1450.47 L480.57 1457.08 L471.74 1452.18 L462.91 1436.59 L454.08 1451.52 L445.25 1457.02 L436.42 1461.32 L427.59 1460.99 L418.76 1475.95 L409.93 1494.87 Z" fill="rgba(100,195,90,0.36)" stroke="none"/>
<path d="M409.93 1474.26 L418.76 1458.78 L427.59 1430.07 L436.42 1430.4 L445.25 1426.1 L454.08 1413.73 L462.91 1347.28 L471.74 1414.4 L480.57 1422.73 L489.4 1416.12 L498.23 1427.1 L507.06 1357.52 L515.89 1406.73 L524.72 1408.44 L533.55 1420.21 L542.38 1394.61 L551.21 1396.99 L560.04 1396.99 L568.87 1381.5 L577.7 1384.21 L586.53 1401.42 L595.36 1384.88 L604.19 1375.68 L613.02 1356.1 L621.85 1365.03 L630.68 1366.49" fill="none" stroke="#3cb43c" stroke-width="1.7" stroke-dasharray="5 2.5"/>
<path d="M409.93 1494.87 L418.76 1475.95 L427.59 1460.99 L436.42 1461.32 L445.25 1457.02 L454.08 1451.52 L462.91 1436.59 L471.74 1452.18 L480.57 1457.08 L489.4 1450.47 L498.23 1458.01 L507.06 1429.66 L515.89 1447.95 L524.72 1446.23 L533.55 1447.69 L542.38 1428.96 L551.21 1427.9 L560.04 1427.9 L568.87 1408.98 L577.7 1408.26 L586.53 1425.46 L595.36 1408.92 L604.19 1396.29 L613.02 1380.14 L621.85 1389.07 L630.68 1400.84" fill="none" stroke="#3cb43c" stroke-width="1.7" stroke-dasharray="5 2.5"/>
<path d="M409.93 1479.6 L418.76 1469.68 L427.59 1428.33 L436.42 1445.86 L445.25 1443.22 L454.08 1429.32 L462.91 1412.78 L471.74 1393.59 L480.57 1425.02 L489.4 1403.52 L498.23 1418.4 L507.06 1378.7 L515.89 1384.66 L524.72 1409.14 L533.55 1404.51 L542.38 1386.98 L551.21 1391.94 L560.04 1379.37 L568.87 1372.09 L577.7 1386.98 L586.53 1401.86 L595.36 1369.44 L604.19 1356.54 L613.02 1367.13 L621.85 1372.75 L630.68 1383.01" fill="none" stroke="#000" stroke-width="1.8"/>
<circle cx="409.93" cy="1479.6" r="3.75" fill="#f0a23a" stroke="#000" stroke-width="3.3"/>
<circle cx="418.76" cy="1469.68" r="3.75" fill="#f0a23a" stroke="#000" stroke-width="3.3"/>
<circle cx="427.59" cy="1428.33" r="3.75" fill="#f0a23a" stroke="#000" stroke-width="3.3"/>
<circle cx="436.42" cy="1445.86" r="3.75" fill="#f0a23a" stroke="#000" stroke-width="3.3"/>
<circle cx="445.25" cy="1443.22" r="3.75" fill="#f0a23a" stroke="#000" stroke-width="3.3"/>
<circle cx="454.08" cy="1429.32" r="3.75" fill="#f0a23a" stroke="#000" stroke-width="3.3"/>
<circle cx="462.91" cy="1412.78" r="3.75" fill="#f0a23a" stroke="#000" stroke-width="3.3"/>
<circle cx="471.74" cy="1393.59" r="3.75" fill="#f0a23a" stroke="#000" stroke-width="3.3"/>
<circle cx="480.57" cy="1425.02" r="3.75" fill="#f0a23a" stroke="#000" stroke-width="3.3"/>
<circle cx="489.4" cy="1403.52" r="3.75" fill="#f0a23a" stroke="#000" stroke-width="3.3"/>
<circle cx="498.23" cy="1418.4" r="3.75" fill="#f0a23a" stroke="#000" stroke-width="3.3"/>
<circle cx="507.06" cy="1378.7" r="3.75" fill="#f0a23a" stroke="#000" stroke-width="3.3"/>
<circle cx="515.89" cy="1384.66" r="3.75" fill="#f0a23a" stroke="#000" stroke-width="3.3"/>
<circle cx="524.72" cy="1409.14" r="3.75" fill="#f0a23a" stroke="#000" stroke-width="3.3"/>
<circle cx="533.55" cy="1404.51" r="3.75" fill="#f0a23a" stroke="#000" stroke-width="3.3"/>
<circle cx="542.38" cy="1386.98" r="3.75" fill="#f0a23a" stroke="#000" stroke-width="3.3"/>
<circle cx="551.21" cy="1391.94" r="3.75" fill="#f0a23a" stroke="#000" stroke-width="3.3"/>
<circle cx="560.04" cy="1379.37" r="3.75" fill="#f0a23a" stroke="#000" stroke-width="3.3"/>
<circle cx="568.87" cy="1372.09" r="3.75" fill="#f0a23a" stroke="#000" stroke-width="3.3"/>
<circle cx="577.7" cy="1386.98" r="3.75" fill="#f0a23a" stroke="#000" stroke-width="3.3"/>
<circle cx="586.53" cy="1401.86" r="3.75" fill="#f0a23a" stroke="#000" stroke-width="3.3"/>
<circle cx="595.36" cy="1369.44" r="3.75" fill="#f0a23a" stroke="#000" stroke-width="3.3"/>
<circle cx="604.19" cy="1356.54" r="3.75" fill="#f0a23a" stroke="#000" stroke-width="3.3"/>
<circle cx="613.02" cy="1367.13" r="3.75" fill="#f0a23a" stroke="#000" stroke-width="3.3"/>
<circle cx="621.85" cy="1372.75" r="3.75" fill="#f0a23a" stroke="#000" stroke-width="3.3"/>
<circle cx="630.68" cy="1383.01" r="3.75" fill="#f0a23a" stroke="#000" stroke-width="3.3"/>
<path d="M409.93 1484.57 L418.76 1467.37 L427.59 1445.53 L436.42 1445.86 L445.25 1441.56 L454.08 1432.63 L462.91 1391.94 L471.74 1433.29 L480.57 1439.91 L489.4 1433.29 L498.23 1442.55 L507.06 1393.59 L515.89 1427.34 L524.72 1427.34 L533.55 1433.95 L542.38 1411.79 L551.21 1412.45 L560.04 1412.45 L568.87 1395.24 L577.7 1396.24 L586.53 1413.44 L595.36 1396.9 L604.19 1385.98 L613.02 1368.12 L621.85 1377.05 L630.68 1383.67" fill="none" stroke="#000" stroke-width="1.8"/>
<circle cx="409.93" cy="1484.57" r="3.75" fill="#3dae49" stroke="#000" stroke-width="3.3"/>
<circle cx="418.76" cy="1467.37" r="3.75" fill="#3dae49" stroke="#000" stroke-width="3.3"/>
<circle cx="427.59" cy="1445.53" r="3.75" fill="#3dae49" stroke="#000" stroke-width="3.3"/>
<circle cx="436.42" cy="1445.86" r="3.75" fill="#3dae49" stroke="#000" stroke-width="3.3"/>
<circle cx="445.25" cy="1441.56" r="3.75" fill="#3dae49" stroke="#000" stroke-width="3.3"/>
<circle cx="454.08" cy="1432.63" r="3.75" fill="#3dae49" stroke="#000" stroke-width="3.3"/>
<circle cx="462.91" cy="1391.94" r="3.75" fill="#3dae49" stroke="#000" stroke-width="3.3"/>
<circle cx="471.74" cy="1433.29" r="3.75" fill="#3dae49" stroke="#000" stroke-width="3.3"/>
<circle cx="480.57" cy="1439.91" r="3.75" fill="#3dae49" stroke="#000" stroke-width="3.3"/>
<circle cx="489.4" cy="1433.29" r="3.75" fill="#3dae49" stroke="#000" stroke-width="3.3"/>
<circle cx="498.23" cy="1442.55" r="3.75" fill="#3dae49" stroke="#000" stroke-width="3.3"/>
<circle cx="507.06" cy="1393.59" r="3.75" fill="#3dae49" stroke="#000" stroke-width="3.3"/>
<circle cx="515.89" cy="1427.34" r="3.75" fill="#3dae49" stroke="#000" stroke-width="3.3"/>
<circle cx="524.72" cy="1427.34" r="3.75" fill="#3dae49" stroke="#000" stroke-width="3.3"/>
<circle cx="533.55" cy="1433.95" r="3.75" fill="#3dae49" stroke="#000" stroke-width="3.3"/>
<circle cx="542.38" cy="1411.79" r="3.75" fill="#3dae49" stroke="#000" stroke-width="3.3"/>
<circle cx="551.21" cy="1412.45" r="3.75" fill="#3dae49" stroke="#000" stroke-width="3.3"/>
<circle cx="560.04" cy="1412.45" r="3.75" fill="#3dae49" stroke="#000" stroke-width="3.3"/>
<circle cx="568.87" cy="1395.24" r="3.75" fill="#3dae49" stroke="#000" stroke-width="3.3"/>
<circle cx="577.7" cy="1396.24" r="3.75" fill="#3dae49" stroke="#000" stroke-width="3.3"/>
<circle cx="586.53" cy="1413.44" r="3.75" fill="#3dae49" stroke="#000" stroke-width="3.3"/>
<circle cx="595.36" cy="1396.9" r="3.75" fill="#3dae49" stroke="#000" stroke-width="3.3"/>
<circle cx="604.19" cy="1385.98" r="3.75" fill="#3dae49" stroke="#000" stroke-width="3.3"/>
<circle cx="613.02" cy="1368.12" r="3.75" fill="#3dae49" stroke="#000" stroke-width="3.3"/>
<circle cx="621.85" cy="1377.05" r="3.75" fill="#3dae49" stroke="#000" stroke-width="3.3"/>
<circle cx="630.68" cy="1383.67" r="3.75" fill="#3dae49" stroke="#000" stroke-width="3.3"/>
<line x1="403.6" y1="1502.1" x2="634.6" y2="1502.1" stroke="#000" stroke-width="4" />
<line x1="405.6" y1="1294.8" x2="405.6" y2="1504.1" stroke="#000" stroke-width="4" />
<line x1="399.2" y1="1296" x2="405.6" y2="1296" stroke="#000" stroke-width="3.4" />
<text x="396.6" y="1300.3" font-size="12.2" font-weight="bold" text-anchor="end" fill="#111"  stroke="#111" stroke-width="0.3">60000</text>
<line x1="399.2" y1="1364.7" x2="405.6" y2="1364.7" stroke="#000" stroke-width="3.4" />
<text x="396.6" y="1369" font-size="12.2" font-weight="bold" text-anchor="end" fill="#111"  stroke="#111" stroke-width="0.3">40000</text>
<line x1="399.2" y1="1433.4" x2="405.6" y2="1433.4" stroke="#000" stroke-width="3.4" />
<text x="396.6" y="1437.7" font-size="12.2" font-weight="bold" text-anchor="end" fill="#111"  stroke="#111" stroke-width="0.3">20000</text>
<line x1="399.2" y1="1502.1" x2="405.6" y2="1502.1" stroke="#000" stroke-width="3.4" />
<text x="396.6" y="1506.4" font-size="12.2" font-weight="bold" text-anchor="end" fill="#111"  stroke="#111" stroke-width="0.3">0</text>
<line x1="401.2" y1="1330.35" x2="405.6" y2="1330.35" stroke="#000" stroke-width="3" />
<line x1="401.2" y1="1399.05" x2="405.6" y2="1399.05" stroke="#000" stroke-width="3" />
<line x1="401.2" y1="1467.75" x2="405.6" y2="1467.75" stroke="#000" stroke-width="3" />
<line x1="445.25" y1="1502.1" x2="445.25" y2="1509" stroke="#000" stroke-width="3" />
<text x="445.25" y="1523.2" font-size="12.5" font-weight="bold" text-anchor="middle" fill="#111"  stroke="#111" stroke-width="0.3">5</text>
<line x1="489.4" y1="1502.1" x2="489.4" y2="1509" stroke="#000" stroke-width="3" />
<text x="489.4" y="1523.2" font-size="12.5" font-weight="bold" text-anchor="middle" fill="#111"  stroke="#111" stroke-width="0.3">10</text>
<line x1="533.55" y1="1502.1" x2="533.55" y2="1509" stroke="#000" stroke-width="3" />
<text x="533.55" y="1523.2" font-size="12.5" font-weight="bold" text-anchor="middle" fill="#111"  stroke="#111" stroke-width="0.3">15</text>
<line x1="577.7" y1="1502.1" x2="577.7" y2="1509" stroke="#000" stroke-width="3" />
<text x="577.7" y="1523.2" font-size="12.5" font-weight="bold" text-anchor="middle" fill="#111"  stroke="#111" stroke-width="0.3">20</text>
<line x1="621.85" y1="1502.1" x2="621.85" y2="1509" stroke="#000" stroke-width="3" />
<text x="621.85" y="1523.2" font-size="12.5" font-weight="bold" text-anchor="middle" fill="#111"  stroke="#111" stroke-width="0.3">25</text>
<text x="520.7" y="1541.3" font-size="12.2" font-weight="bold" text-anchor="middle" fill="#111"  stroke="#111" stroke-width="0.3">Time (days)</text>
<text x="350" y="1397.9" font-size="12.4" font-weight="bold" text-anchor="middle" fill="#111" transform="rotate(-90 350 1397.9)"  stroke="#111" stroke-width="0.3">Rotations</text>
<text x="682.8" y="1263" font-size="22" font-weight="bold" text-anchor="start" fill="#111"  stroke="#111" stroke-width="0.3">m</text>
<text x="872.35" y="1251.4" font-size="19" font-weight="bold" text-anchor="middle" fill="#111"  stroke="#111" stroke-width="0.3">Voluntary</text>
<text x="872.2" y="1274.6" font-size="19" font-weight="bold" text-anchor="middle" fill="#111"  stroke="#111" stroke-width="0.3">Wheel Running</text>
<rect x="793.3" y="1417.7" width="55.7" height="85.3" fill="none" stroke="#000" stroke-width="4.4"/>
<rect x="882" y="1402.8" width="55.9" height="100.2" fill="none" stroke="#000" stroke-width="4.4"/>
<line x1="760.3" y1="1503" x2="968.1" y2="1503" stroke="#000" stroke-width="4" />
<line x1="762.3" y1="1295.3" x2="762.3" y2="1505" stroke="#000" stroke-width="4" />
<line x1="755.5" y1="1296.3" x2="762.3" y2="1296.3" stroke="#000" stroke-width="3.4" />
<text x="752.9" y="1300.6" font-size="12.2" font-weight="bold" text-anchor="end" fill="#111"  stroke="#111" stroke-width="0.3">1500000</text>
<line x1="755.5" y1="1365.2" x2="762.3" y2="1365.2" stroke="#000" stroke-width="3.4" />
<text x="752.9" y="1369.5" font-size="12.2" font-weight="bold" text-anchor="end" fill="#111"  stroke="#111" stroke-width="0.3">1000000</text>
<line x1="755.5" y1="1434" x2="762.3" y2="1434" stroke="#000" stroke-width="3.4" />
<text x="752.9" y="1438.3" font-size="12.2" font-weight="bold" text-anchor="end" fill="#111"  stroke="#111" stroke-width="0.3">500000</text>
<line x1="755.5" y1="1503" x2="762.3" y2="1503" stroke="#000" stroke-width="3.4" />
<text x="752.9" y="1507.3" font-size="12.2" font-weight="bold" text-anchor="end" fill="#111"  stroke="#111" stroke-width="0.3">0</text>
<line x1="821.1" y1="1503" x2="821.1" y2="1509.8" stroke="#000" stroke-width="3" />
<line x1="909.8" y1="1503" x2="909.8" y2="1509.8" stroke="#000" stroke-width="3" />
<circle cx="806" cy="1387.2" r="3.55" fill="#3dae49" stroke="#000" stroke-width="3.3"/>
<circle cx="821.1" cy="1381.2" r="3.55" fill="#3dae49" stroke="#000" stroke-width="3.3"/>
<circle cx="836.1" cy="1384.6" r="3.55" fill="#3dae49" stroke="#000" stroke-width="3.3"/>
<circle cx="821.1" cy="1407.3" r="3.55" fill="#3dae49" stroke="#000" stroke-width="3.3"/>
<circle cx="821.1" cy="1425.4" r="3.55" fill="#3dae49" stroke="#000" stroke-width="3.3"/>
<circle cx="821.1" cy="1451.2" r="3.55" fill="#3dae49" stroke="#000" stroke-width="3.3"/>
<circle cx="821.1" cy="1475.8" r="3.55" fill="#3dae49" stroke="#000" stroke-width="3.3"/>
<circle cx="909.8" cy="1347.5" r="3.55" fill="#f0a23a" stroke="#000" stroke-width="3.3"/>
<circle cx="909.8" cy="1374.2" r="3.55" fill="#f0a23a" stroke="#000" stroke-width="3.3"/>
<circle cx="909.8" cy="1390.3" r="3.55" fill="#f0a23a" stroke="#000" stroke-width="3.3"/>
<circle cx="918.7" cy="1413.7" r="3.55" fill="#f0a23a" stroke="#000" stroke-width="3.3"/>
<circle cx="902.2" cy="1420" r="3.55" fill="#f0a23a" stroke="#000" stroke-width="3.3"/>
<circle cx="918.7" cy="1422.6" r="3.55" fill="#f0a23a" stroke="#000" stroke-width="3.3"/>
<circle cx="909.8" cy="1434.8" r="3.55" fill="#f0a23a" stroke="#000" stroke-width="3.3"/>
<line x1="821.1" y1="1405" x2="821.1" y2="1425" stroke="#000" stroke-width="2" />
<line x1="909.8" y1="1393" x2="909.8" y2="1415" stroke="#000" stroke-width="2" />
<text x="778.6" y="1524.5" font-size="12.6" font-weight="bold" text-anchor="start" fill="#111" stroke="#111" stroke-width="0.3">ABHD6<tspan font-size="9.2" dy="-5.5" dx="0.3">NAc GFP</tspan></text>
<text x="869.9" y="1524.5" font-size="12.6" font-weight="bold" text-anchor="start" fill="#111" stroke="#111" stroke-width="0.3">ABHD6<tspan font-size="9.2" dy="-5.5" dx="0.3">NAc KO</tspan></text>
<text x="692.3" y="1399.2" font-size="12.4" font-weight="bold" text-anchor="middle" fill="#111" transform="rotate(-90 692.3 1399.2)"  stroke="#111" stroke-width="0.3">Total Rotations</text>
</svg></body></html>
